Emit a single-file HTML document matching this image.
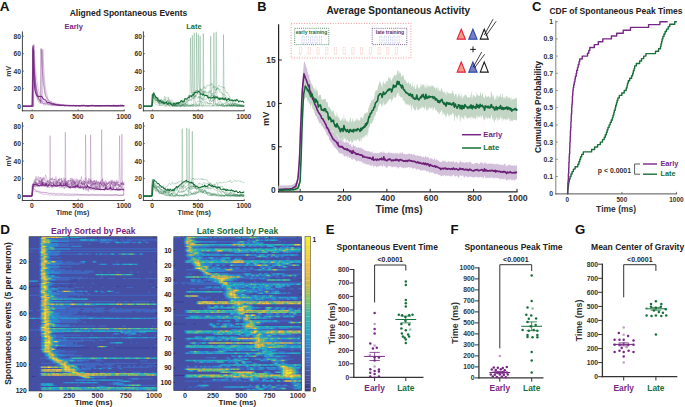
<!DOCTYPE html>
<html><head><meta charset="utf-8"><style>
html,body{margin:0;padding:0;background:#fff;width:685px;height:407px;overflow:hidden}
svg{display:block}
text{font-family:"Liberation Sans", sans-serif}
</style></head><body>
<svg width="685" height="407" viewBox="0 0 685 407" font-family="Liberation Sans, sans-serif">
<rect width="685" height="407" fill="#fff"/>
<text x="0.3" y="234.0" font-size="13.5" text-anchor="start" fill="#111" font-weight="bold" >D</text>
<text x="93.3" y="233.7" font-size="8.5" text-anchor="middle" fill="#772885" font-weight="bold" >Early Sorted by Peak</text>
<text x="237.5" y="233.7" font-size="8.5" text-anchor="middle" fill="#17703a" font-weight="bold" >Late Sorted by Peak</text>
<rect x="29.00" y="236.70" width="128.00" height="154.30" fill="rgb(65,102,192)"/>
<path fill="rgb(60,56,142)" d="M69.0 280.4h8.1v1.34h-8.1zM86.3 280.4h1.4v1.34h-1.4zM134.3 280.4h1.4v1.34h-1.4zM149.0 280.4h5.4v1.34h-5.4zM29.0 285.6h10.7v1.34h-10.7zM61.0 285.6h1.4v1.34h-1.4zM69.0 285.6h2.7v1.34h-2.7zM117.0 285.6h2.7v1.34h-2.7zM123.7 285.6h1.4v1.34h-1.4zM149.0 285.6h1.4v1.34h-1.4zM29.0 347.3h10.7v1.34h-10.7zM57.0 347.3h33.4v1.34h-33.4zM93.0 347.3h4.0v1.34h-4.0zM98.3 347.3h12.1v1.34h-12.1zM114.3 347.3h36.0v1.34h-36.0zM151.7 347.3h4.0v1.34h-4.0zM29.0 356.3h1.4v1.34h-1.4zM31.7 375.6h4.0v1.34h-4.0z"/>
<path fill="rgb(69,79,163)" d="M29.0 236.7h10.7v1.34h-10.7zM86.3 236.7h70.7v1.34h-70.7zM29.0 238.0h10.7v1.34h-10.7zM69.0 238.0h88.0v1.34h-88.0zM29.0 239.3h10.7v1.34h-10.7zM117.0 239.3h2.7v1.34h-2.7zM123.7 239.3h2.7v1.34h-2.7zM29.0 240.6h10.7v1.34h-10.7zM106.3 240.6h1.4v1.34h-1.4zM118.3 240.6h4.0v1.34h-4.0zM131.7 240.6h6.7v1.34h-6.7zM139.7 240.6h2.7v1.34h-2.7zM146.3 240.6h9.4v1.34h-9.4zM29.0 241.8h10.7v1.34h-10.7zM51.7 241.8h48.0v1.34h-48.0zM110.3 241.8h4.0v1.34h-4.0zM142.3 241.8h2.7v1.34h-2.7zM149.0 241.8h8.1v1.34h-8.1zM29.0 243.1h10.7v1.34h-10.7zM75.7 243.1h1.4v1.34h-1.4zM81.0 243.1h1.4v1.34h-1.4zM83.7 243.1h4.0v1.34h-4.0zM90.3 243.1h66.7v1.34h-66.7zM29.0 244.4h10.7v1.34h-10.7zM69.0 244.4h88.0v1.34h-88.0zM29.0 245.7h10.7v1.34h-10.7zM82.3 245.7h74.7v1.34h-74.7zM29.0 247.0h10.7v1.34h-10.7zM54.3 247.0h102.7v1.34h-102.7zM29.0 249.6h10.7v1.34h-10.7zM49.0 249.6h108.0v1.34h-108.0zM29.0 250.8h1.4v1.34h-1.4zM33.0 250.8h5.4v1.34h-5.4zM29.0 252.1h10.7v1.34h-10.7zM59.7 252.1h97.4v1.34h-97.4zM29.0 253.4h10.7v1.34h-10.7zM91.7 253.4h2.7v1.34h-2.7zM115.7 253.4h1.4v1.34h-1.4zM137.0 253.4h1.4v1.34h-1.4zM143.7 253.4h13.4v1.34h-13.4zM29.0 254.7h10.7v1.34h-10.7zM58.3 254.7h98.7v1.34h-98.7zM29.0 256.0h10.7v1.34h-10.7zM50.3 256.0h106.7v1.34h-106.7zM29.0 257.3h10.7v1.34h-10.7zM61.0 257.3h96.0v1.34h-96.0zM29.0 258.6h10.7v1.34h-10.7zM47.7 258.6h109.4v1.34h-109.4zM29.0 259.8h10.7v1.34h-10.7zM62.3 259.8h94.7v1.34h-94.7zM29.0 261.1h10.7v1.34h-10.7zM63.7 261.1h1.4v1.34h-1.4zM73.0 261.1h6.7v1.34h-6.7zM86.3 261.1h5.4v1.34h-5.4zM97.0 261.1h18.7v1.34h-18.7zM118.3 261.1h38.7v1.34h-38.7zM29.0 262.4h10.7v1.34h-10.7zM85.0 262.4h72.0v1.34h-72.0zM29.0 263.7h10.7v1.34h-10.7zM79.7 263.7h18.7v1.34h-18.7zM107.7 263.7h4.0v1.34h-4.0zM138.3 263.7h18.7v1.34h-18.7zM29.0 265.0h10.7v1.34h-10.7zM58.3 265.0h98.7v1.34h-98.7zM29.0 266.3h10.7v1.34h-10.7zM71.7 266.3h85.4v1.34h-85.4zM29.0 267.6h10.7v1.34h-10.7zM58.3 267.6h98.7v1.34h-98.7zM29.0 268.8h10.7v1.34h-10.7zM65.0 268.8h5.4v1.34h-5.4zM71.7 268.8h85.4v1.34h-85.4zM29.0 270.1h10.7v1.34h-10.7zM71.7 270.1h1.4v1.34h-1.4zM81.0 270.1h2.7v1.34h-2.7zM93.0 270.1h64.0v1.34h-64.0zM29.0 271.4h10.7v1.34h-10.7zM94.3 271.4h5.4v1.34h-5.4zM102.3 271.4h6.7v1.34h-6.7zM110.3 271.4h5.4v1.34h-5.4zM119.7 271.4h9.4v1.34h-9.4zM133.0 271.4h4.0v1.34h-4.0zM139.7 271.4h9.4v1.34h-9.4zM151.7 271.4h1.4v1.34h-1.4zM154.3 271.4h2.7v1.34h-2.7zM29.0 272.7h10.7v1.34h-10.7zM89.0 272.7h68.0v1.34h-68.0zM29.0 274.0h10.7v1.34h-10.7zM49.0 274.0h45.4v1.34h-45.4zM133.0 274.0h24.1v1.34h-24.1zM29.0 275.3h10.7v1.34h-10.7zM55.7 275.3h101.4v1.34h-101.4zM29.0 276.6h10.7v1.34h-10.7zM82.3 276.6h4.0v1.34h-4.0zM87.7 276.6h13.4v1.34h-13.4zM103.7 276.6h53.4v1.34h-53.4zM29.0 277.8h10.7v1.34h-10.7zM70.3 277.8h1.4v1.34h-1.4zM75.7 277.8h1.4v1.34h-1.4zM87.7 277.8h1.4v1.34h-1.4zM94.3 277.8h1.4v1.34h-1.4zM97.0 277.8h1.4v1.34h-1.4zM102.3 277.8h5.4v1.34h-5.4zM115.7 277.8h6.7v1.34h-6.7zM126.3 277.8h1.4v1.34h-1.4zM141.0 277.8h4.0v1.34h-4.0zM29.0 279.1h10.7v1.34h-10.7zM71.7 279.1h6.7v1.34h-6.7zM79.7 279.1h77.4v1.34h-77.4zM38.3 280.4h1.4v1.34h-1.4zM49.0 280.4h20.1v1.34h-20.1zM77.0 280.4h9.4v1.34h-9.4zM87.7 280.4h46.7v1.34h-46.7zM135.7 280.4h13.4v1.34h-13.4zM154.3 280.4h2.7v1.34h-2.7zM29.0 281.7h12.1v1.34h-12.1zM51.7 281.7h105.4v1.34h-105.4zM29.0 283.0h10.7v1.34h-10.7zM70.3 283.0h2.7v1.34h-2.7zM75.7 283.0h16.1v1.34h-16.1zM94.3 283.0h62.7v1.34h-62.7zM29.0 284.3h10.7v1.34h-10.7zM53.0 284.3h104.0v1.34h-104.0zM50.3 285.6h10.7v1.34h-10.7zM62.3 285.6h6.7v1.34h-6.7zM71.7 285.6h45.4v1.34h-45.4zM119.7 285.6h4.0v1.34h-4.0zM125.0 285.6h24.1v1.34h-24.1zM150.3 285.6h6.7v1.34h-6.7zM29.0 286.8h10.7v1.34h-10.7zM54.3 286.8h2.7v1.34h-2.7zM63.7 286.8h1.4v1.34h-1.4zM67.7 286.8h6.7v1.34h-6.7zM79.7 286.8h1.4v1.34h-1.4zM83.7 286.8h6.7v1.34h-6.7zM91.7 286.8h10.7v1.34h-10.7zM103.7 286.8h9.4v1.34h-9.4zM114.3 286.8h12.1v1.34h-12.1zM133.0 286.8h18.7v1.34h-18.7zM155.7 286.8h1.4v1.34h-1.4zM29.0 288.1h10.7v1.34h-10.7zM74.3 288.1h82.7v1.34h-82.7zM29.0 289.4h10.7v1.34h-10.7zM58.3 289.4h98.7v1.34h-98.7zM29.0 290.7h10.7v1.34h-10.7zM53.0 290.7h2.7v1.34h-2.7zM87.7 290.7h6.7v1.34h-6.7zM98.3 290.7h1.4v1.34h-1.4zM103.7 290.7h2.7v1.34h-2.7zM114.3 290.7h42.7v1.34h-42.7zM29.0 292.0h10.7v1.34h-10.7zM75.7 292.0h10.7v1.34h-10.7zM87.7 292.0h8.1v1.34h-8.1zM97.0 292.0h4.0v1.34h-4.0zM105.0 292.0h9.4v1.34h-9.4zM119.7 292.0h28.1v1.34h-28.1zM150.3 292.0h6.7v1.34h-6.7zM29.0 293.3h10.7v1.34h-10.7zM83.7 293.3h4.0v1.34h-4.0zM90.3 293.3h66.7v1.34h-66.7zM29.0 295.8h10.7v1.34h-10.7zM67.7 295.8h10.7v1.34h-10.7zM79.7 295.8h77.4v1.34h-77.4zM29.0 297.1h10.7v1.34h-10.7zM74.3 297.1h82.7v1.34h-82.7zM29.0 298.4h12.1v1.34h-12.1zM89.0 298.4h68.0v1.34h-68.0zM29.0 299.7h10.7v1.34h-10.7zM53.0 299.7h104.0v1.34h-104.0zM29.0 301.0h10.7v1.34h-10.7zM115.7 301.0h1.4v1.34h-1.4zM121.0 301.0h1.4v1.34h-1.4zM129.0 301.0h2.7v1.34h-2.7zM149.0 301.0h2.7v1.34h-2.7zM154.3 301.0h2.7v1.34h-2.7zM29.0 302.3h10.7v1.34h-10.7zM53.0 302.3h104.0v1.34h-104.0zM29.0 303.6h10.7v1.34h-10.7zM29.0 304.8h10.7v1.34h-10.7zM97.0 304.8h60.0v1.34h-60.0zM29.0 306.1h10.7v1.34h-10.7zM70.3 306.1h86.7v1.34h-86.7zM29.0 307.4h10.7v1.34h-10.7zM91.7 307.4h1.4v1.34h-1.4zM105.0 307.4h6.7v1.34h-6.7zM115.7 307.4h4.0v1.34h-4.0zM121.0 307.4h36.0v1.34h-36.0zM29.0 308.7h10.7v1.34h-10.7zM67.7 308.7h1.4v1.34h-1.4zM79.7 308.7h4.0v1.34h-4.0zM94.3 308.7h1.4v1.34h-1.4zM103.7 308.7h5.4v1.34h-5.4zM150.3 308.7h1.4v1.34h-1.4zM33.0 310.0h4.0v1.34h-4.0zM29.0 311.3h10.7v1.34h-10.7zM66.3 311.3h1.4v1.34h-1.4zM73.0 311.3h1.4v1.34h-1.4zM78.3 311.3h4.0v1.34h-4.0zM90.3 311.3h1.4v1.34h-1.4zM103.7 311.3h5.4v1.34h-5.4zM131.7 311.3h4.0v1.34h-4.0zM141.0 311.3h2.7v1.34h-2.7zM29.0 312.6h10.7v1.34h-10.7zM77.0 312.6h80.0v1.34h-80.0zM29.0 313.9h10.7v1.34h-10.7zM71.7 313.9h1.4v1.34h-1.4zM74.3 313.9h82.7v1.34h-82.7zM29.0 315.1h10.7v1.34h-10.7zM81.0 315.1h1.4v1.34h-1.4zM86.3 315.1h70.7v1.34h-70.7zM29.0 316.4h10.7v1.34h-10.7zM97.0 316.4h4.0v1.34h-4.0zM103.7 316.4h2.7v1.34h-2.7zM107.7 316.4h9.4v1.34h-9.4zM118.3 316.4h38.7v1.34h-38.7zM29.0 319.0h10.7v1.34h-10.7zM79.7 319.0h77.4v1.34h-77.4zM29.0 320.3h12.1v1.34h-12.1zM77.0 320.3h1.4v1.34h-1.4zM81.0 320.3h76.0v1.34h-76.0zM29.0 321.6h10.7v1.34h-10.7zM78.3 321.6h4.0v1.34h-4.0zM86.3 321.6h4.0v1.34h-4.0zM91.7 321.6h62.7v1.34h-62.7zM155.7 321.6h1.4v1.34h-1.4zM29.0 322.9h12.1v1.34h-12.1zM55.7 322.9h101.4v1.34h-101.4zM29.0 324.1h10.7v1.34h-10.7zM70.3 324.1h2.7v1.34h-2.7zM74.3 324.1h82.7v1.34h-82.7zM29.0 325.4h10.7v1.34h-10.7zM95.7 325.4h2.7v1.34h-2.7zM106.3 325.4h16.1v1.34h-16.1zM126.3 325.4h25.4v1.34h-25.4zM154.3 325.4h1.4v1.34h-1.4zM29.0 326.7h10.7v1.34h-10.7zM51.7 326.7h105.4v1.34h-105.4zM29.0 328.0h10.7v1.34h-10.7zM29.0 330.6h10.7v1.34h-10.7zM29.0 331.9h12.1v1.34h-12.1zM63.7 331.9h56.0v1.34h-56.0zM137.0 331.9h1.4v1.34h-1.4zM146.3 331.9h10.7v1.34h-10.7zM29.0 333.1h10.7v1.34h-10.7zM51.7 333.1h61.4v1.34h-61.4zM119.7 333.1h4.0v1.34h-4.0zM137.0 333.1h20.1v1.34h-20.1zM29.0 334.4h10.7v1.34h-10.7zM81.0 334.4h2.7v1.34h-2.7zM85.0 334.4h5.4v1.34h-5.4zM93.0 334.4h18.7v1.34h-18.7zM113.0 334.4h14.7v1.34h-14.7zM131.7 334.4h6.7v1.34h-6.7zM141.0 334.4h14.7v1.34h-14.7zM29.0 335.7h12.1v1.34h-12.1zM63.7 335.7h93.4v1.34h-93.4zM29.0 337.0h12.1v1.34h-12.1zM29.0 338.3h12.1v1.34h-12.1zM57.0 338.3h1.4v1.34h-1.4zM61.0 338.3h2.7v1.34h-2.7zM66.3 338.3h14.7v1.34h-14.7zM83.7 338.3h34.7v1.34h-34.7zM119.7 338.3h5.4v1.34h-5.4zM126.3 338.3h2.7v1.34h-2.7zM131.7 338.3h25.4v1.34h-25.4zM29.0 339.6h12.1v1.34h-12.1zM94.3 339.6h4.0v1.34h-4.0zM105.0 339.6h52.0v1.34h-52.0zM29.0 340.9h12.1v1.34h-12.1zM83.7 340.9h9.4v1.34h-9.4zM95.7 340.9h61.4v1.34h-61.4zM29.0 342.1h10.7v1.34h-10.7zM73.0 342.1h2.7v1.34h-2.7zM77.0 342.1h20.1v1.34h-20.1zM98.3 342.1h2.7v1.34h-2.7zM102.3 342.1h6.7v1.34h-6.7zM123.7 342.1h6.7v1.34h-6.7zM131.7 342.1h4.0v1.34h-4.0zM137.0 342.1h20.1v1.34h-20.1zM29.0 343.4h12.1v1.34h-12.1zM73.0 343.4h1.4v1.34h-1.4zM77.0 343.4h80.0v1.34h-80.0zM29.0 344.7h10.7v1.34h-10.7zM85.0 344.7h32.0v1.34h-32.0zM118.3 344.7h36.0v1.34h-36.0zM29.0 346.0h12.1v1.34h-12.1zM82.3 346.0h14.7v1.34h-14.7zM107.7 346.0h49.4v1.34h-49.4zM39.7 347.3h1.4v1.34h-1.4zM54.3 347.3h2.7v1.34h-2.7zM90.3 347.3h2.7v1.34h-2.7zM97.0 347.3h1.4v1.34h-1.4zM110.3 347.3h4.0v1.34h-4.0zM150.3 347.3h1.4v1.34h-1.4zM155.7 347.3h1.4v1.34h-1.4zM29.0 348.6h10.7v1.34h-10.7zM59.7 348.6h97.4v1.34h-97.4zM29.0 349.9h12.1v1.34h-12.1zM65.0 349.9h92.0v1.34h-92.0zM29.0 351.1h12.1v1.34h-12.1zM77.0 351.1h80.0v1.34h-80.0zM29.0 352.4h14.7v1.34h-14.7zM58.3 352.4h98.7v1.34h-98.7zM29.0 353.7h14.7v1.34h-14.7zM74.3 353.7h82.7v1.34h-82.7zM29.0 355.0h14.7v1.34h-14.7zM82.3 355.0h74.7v1.34h-74.7zM30.3 356.3h14.7v1.34h-14.7zM58.3 356.3h98.7v1.34h-98.7zM29.0 357.6h10.7v1.34h-10.7zM29.0 358.9h17.4v1.34h-17.4zM101.0 358.9h56.0v1.34h-56.0zM29.0 360.1h13.4v1.34h-13.4zM43.7 360.1h5.4v1.34h-5.4zM89.0 360.1h6.7v1.34h-6.7zM103.7 360.1h13.4v1.34h-13.4zM118.3 360.1h21.4v1.34h-21.4zM147.7 360.1h9.4v1.34h-9.4zM29.0 361.4h22.7v1.34h-22.7zM69.0 361.4h88.0v1.34h-88.0zM29.0 362.7h12.1v1.34h-12.1zM101.0 362.7h2.7v1.34h-2.7zM137.0 362.7h4.0v1.34h-4.0zM29.0 364.0h25.4v1.34h-25.4zM114.3 364.0h42.7v1.34h-42.7zM29.0 365.3h14.7v1.34h-14.7zM45.0 365.3h2.7v1.34h-2.7zM51.7 365.3h2.7v1.34h-2.7zM78.3 365.3h4.0v1.34h-4.0zM95.7 365.3h4.0v1.34h-4.0zM102.3 365.3h5.4v1.34h-5.4zM111.7 365.3h5.4v1.34h-5.4zM121.0 365.3h6.7v1.34h-6.7zM130.3 365.3h2.7v1.34h-2.7zM135.7 365.3h4.0v1.34h-4.0zM142.3 365.3h4.0v1.34h-4.0zM153.0 365.3h1.4v1.34h-1.4zM29.0 366.6h10.7v1.34h-10.7zM79.7 366.6h1.4v1.34h-1.4zM83.7 366.6h1.4v1.34h-1.4zM95.7 366.6h6.7v1.34h-6.7zM114.3 366.6h2.7v1.34h-2.7zM121.0 366.6h1.4v1.34h-1.4zM149.0 366.6h1.4v1.34h-1.4zM151.7 366.6h5.4v1.34h-5.4zM29.0 367.9h32.0v1.34h-32.0zM79.7 367.9h1.4v1.34h-1.4zM91.7 367.9h1.4v1.34h-1.4zM97.0 367.9h1.4v1.34h-1.4zM106.3 367.9h1.4v1.34h-1.4zM111.7 367.9h6.7v1.34h-6.7zM122.3 367.9h34.7v1.34h-34.7zM29.0 369.1h10.7v1.34h-10.7zM90.3 369.1h66.7v1.34h-66.7zM29.0 370.4h10.7v1.34h-10.7zM78.3 370.4h78.7v1.34h-78.7zM29.0 371.7h14.7v1.34h-14.7zM46.3 371.7h4.0v1.34h-4.0zM54.3 371.7h8.1v1.34h-8.1zM87.7 371.7h5.4v1.34h-5.4zM95.7 371.7h4.0v1.34h-4.0zM105.0 371.7h1.4v1.34h-1.4zM109.0 371.7h1.4v1.34h-1.4zM115.7 371.7h5.4v1.34h-5.4zM125.0 371.7h6.7v1.34h-6.7zM141.0 371.7h4.0v1.34h-4.0zM146.3 371.7h5.4v1.34h-5.4zM154.3 371.7h2.7v1.34h-2.7zM29.0 373.0h10.7v1.34h-10.7zM29.0 374.3h10.7v1.34h-10.7zM29.0 375.6h2.7v1.34h-2.7zM35.7 375.6h42.7v1.34h-42.7zM101.0 375.6h1.4v1.34h-1.4zM106.3 375.6h50.7v1.34h-50.7zM29.0 376.9h52.0v1.34h-52.0zM106.3 376.9h50.7v1.34h-50.7zM29.0 378.1h98.7v1.34h-98.7zM153.0 378.1h4.0v1.34h-4.0zM29.0 379.4h45.4v1.34h-45.4zM123.7 379.4h33.4v1.34h-33.4zM29.0 380.7h88.0v1.34h-88.0zM133.0 380.7h24.1v1.34h-24.1zM29.0 382.0h33.4v1.34h-33.4zM98.3 382.0h13.4v1.34h-13.4zM122.3 382.0h34.7v1.34h-34.7zM29.0 383.3h10.7v1.34h-10.7zM54.3 383.3h53.4v1.34h-53.4zM125.0 383.3h32.0v1.34h-32.0zM29.0 384.6h10.7v1.34h-10.7zM57.0 384.6h4.0v1.34h-4.0zM62.3 384.6h14.7v1.34h-14.7zM79.7 384.6h12.1v1.34h-12.1zM94.3 384.6h4.0v1.34h-4.0zM101.0 384.6h16.1v1.34h-16.1zM29.0 385.9h66.7v1.34h-66.7zM109.0 385.9h48.0v1.34h-48.0zM29.0 387.1h10.7v1.34h-10.7zM29.0 388.4h10.7v1.34h-10.7zM29.0 389.7h12.1v1.34h-12.1zM46.3 389.7h1.4v1.34h-1.4zM78.3 389.7h1.4v1.34h-1.4zM93.0 389.7h2.7v1.34h-2.7zM130.3 389.7h5.4v1.34h-5.4zM141.0 389.7h2.7v1.34h-2.7z"/>
<path fill="rgb(51,130,208)" d="M39.7 236.7h1.4v1.34h-1.4zM79.7 236.7h1.4v1.34h-1.4zM39.7 238.0h1.4v1.34h-1.4zM47.7 238.0h1.4v1.34h-1.4zM51.7 239.3h4.0v1.34h-4.0zM87.7 239.3h1.4v1.34h-1.4zM94.3 239.3h2.7v1.34h-2.7zM99.7 239.3h1.4v1.34h-1.4zM106.3 239.3h5.4v1.34h-5.4zM39.7 240.6h1.4v1.34h-1.4zM58.3 240.6h10.7v1.34h-10.7zM50.3 241.8h1.4v1.34h-1.4zM101.0 241.8h1.4v1.34h-1.4zM105.0 241.8h4.0v1.34h-4.0zM119.7 241.8h1.4v1.34h-1.4zM122.3 241.8h6.7v1.34h-6.7zM133.0 241.8h2.7v1.34h-2.7zM146.3 241.8h1.4v1.34h-1.4zM50.3 243.1h8.1v1.34h-8.1zM39.7 244.4h1.4v1.34h-1.4zM47.7 244.4h1.4v1.34h-1.4zM53.0 244.4h5.4v1.34h-5.4zM50.3 245.7h8.1v1.34h-8.1zM71.7 245.7h9.4v1.34h-9.4zM39.7 247.0h1.4v1.34h-1.4zM46.3 247.0h2.7v1.34h-2.7zM53.0 247.0h1.4v1.34h-1.4zM39.7 248.3h1.4v1.34h-1.4zM55.7 248.3h14.7v1.34h-14.7zM51.7 250.8h9.4v1.34h-9.4zM46.3 252.1h4.0v1.34h-4.0zM39.7 253.4h1.4v1.34h-1.4zM49.0 253.4h10.7v1.34h-10.7zM78.3 253.4h4.0v1.34h-4.0zM86.3 253.4h1.4v1.34h-1.4zM95.7 253.4h1.4v1.34h-1.4zM101.0 253.4h1.4v1.34h-1.4zM105.0 253.4h1.4v1.34h-1.4zM118.3 253.4h2.7v1.34h-2.7zM134.3 253.4h1.4v1.34h-1.4zM39.7 254.7h1.4v1.34h-1.4zM47.7 254.7h1.4v1.34h-1.4zM39.7 257.3h1.4v1.34h-1.4zM49.0 257.3h1.4v1.34h-1.4zM39.7 258.6h1.4v1.34h-1.4zM49.0 259.8h2.7v1.34h-2.7zM55.7 261.1h1.4v1.34h-1.4zM81.0 261.1h1.4v1.34h-1.4zM39.7 262.4h1.4v1.34h-1.4zM51.7 262.4h1.4v1.34h-1.4zM55.7 262.4h6.7v1.34h-6.7zM39.7 263.7h1.4v1.34h-1.4zM47.7 263.7h8.1v1.34h-8.1zM57.0 263.7h2.7v1.34h-2.7zM99.7 263.7h2.7v1.34h-2.7zM105.0 263.7h1.4v1.34h-1.4zM113.0 263.7h4.0v1.34h-4.0zM133.0 263.7h1.4v1.34h-1.4zM39.7 265.0h1.4v1.34h-1.4zM46.3 265.0h2.7v1.34h-2.7zM51.7 266.3h8.1v1.34h-8.1zM49.0 267.6h1.4v1.34h-1.4zM39.7 268.8h1.4v1.34h-1.4zM46.3 268.8h4.0v1.34h-4.0zM47.7 270.1h6.7v1.34h-6.7zM54.3 271.4h6.7v1.34h-6.7zM39.7 272.7h1.4v1.34h-1.4zM49.0 272.7h10.7v1.34h-10.7zM47.7 274.0h1.4v1.34h-1.4zM49.0 275.3h1.4v1.34h-1.4zM49.0 276.6h10.7v1.34h-10.7zM39.7 277.8h1.4v1.34h-1.4zM51.7 277.8h1.4v1.34h-1.4zM50.3 279.1h1.4v1.34h-1.4zM54.3 279.1h1.4v1.34h-1.4zM37.0 280.4h1.4v1.34h-1.4zM50.3 281.7h1.4v1.34h-1.4zM39.7 283.0h1.4v1.34h-1.4zM49.0 283.0h5.4v1.34h-5.4zM39.7 284.3h1.4v1.34h-1.4zM50.3 284.3h1.4v1.34h-1.4zM47.7 285.6h1.4v1.34h-1.4zM39.7 286.8h1.4v1.34h-1.4zM49.0 288.1h2.7v1.34h-2.7zM55.7 288.1h2.7v1.34h-2.7zM39.7 289.4h1.4v1.34h-1.4zM49.0 289.4h5.4v1.34h-5.4zM57.0 290.7h1.4v1.34h-1.4zM61.0 290.7h1.4v1.34h-1.4zM77.0 290.7h2.7v1.34h-2.7zM86.3 290.7h1.4v1.34h-1.4zM94.3 290.7h1.4v1.34h-1.4zM97.0 290.7h1.4v1.34h-1.4zM101.0 290.7h1.4v1.34h-1.4zM111.7 290.7h1.4v1.34h-1.4zM39.7 292.0h1.4v1.34h-1.4zM51.7 292.0h4.0v1.34h-4.0zM51.7 293.3h8.1v1.34h-8.1zM53.0 294.6h1.4v1.34h-1.4zM39.7 295.8h1.4v1.34h-1.4zM54.3 295.8h1.4v1.34h-1.4zM53.0 297.1h5.4v1.34h-5.4zM41.0 298.4h1.4v1.34h-1.4zM61.0 301.0h10.7v1.34h-10.7zM50.3 302.3h1.4v1.34h-1.4zM39.7 304.8h1.4v1.34h-1.4zM50.3 304.8h13.4v1.34h-13.4zM50.3 306.1h2.7v1.34h-2.7zM55.7 307.4h9.4v1.34h-9.4zM39.7 308.7h1.4v1.34h-1.4zM41.0 310.0h1.4v1.34h-1.4zM50.3 310.0h1.4v1.34h-1.4zM41.0 311.3h1.4v1.34h-1.4zM53.0 312.6h6.7v1.34h-6.7zM51.7 313.9h6.7v1.34h-6.7zM54.3 315.1h5.4v1.34h-5.4zM39.7 316.4h1.4v1.34h-1.4zM55.7 316.4h12.1v1.34h-12.1zM35.7 317.7h4.0v1.34h-4.0zM57.0 317.7h4.0v1.34h-4.0zM78.3 317.7h4.0v1.34h-4.0zM83.7 317.7h4.0v1.34h-4.0zM93.0 317.7h4.0v1.34h-4.0zM99.7 317.7h4.0v1.34h-4.0zM114.3 317.7h1.4v1.34h-1.4zM119.7 317.7h6.7v1.34h-6.7zM129.0 317.7h2.7v1.34h-2.7zM141.0 317.7h2.7v1.34h-2.7zM145.0 317.7h2.7v1.34h-2.7zM149.0 317.7h8.1v1.34h-8.1zM50.3 319.0h8.1v1.34h-8.1zM55.7 320.3h4.0v1.34h-4.0zM51.7 321.6h8.1v1.34h-8.1zM42.3 322.9h1.4v1.34h-1.4zM53.0 322.9h1.4v1.34h-1.4zM41.0 324.1h1.4v1.34h-1.4zM55.7 324.1h4.0v1.34h-4.0zM57.0 325.4h1.4v1.34h-1.4zM59.7 325.4h9.4v1.34h-9.4zM39.7 326.7h1.4v1.34h-1.4zM39.7 328.0h1.4v1.34h-1.4zM39.7 329.3h1.4v1.34h-1.4zM55.7 329.3h14.7v1.34h-14.7zM90.3 330.6h2.7v1.34h-2.7zM123.7 330.6h2.7v1.34h-2.7zM131.7 330.6h2.7v1.34h-2.7zM41.0 331.9h1.4v1.34h-1.4zM53.0 331.9h1.4v1.34h-1.4zM123.7 331.9h1.4v1.34h-1.4zM127.7 331.9h8.1v1.34h-8.1zM139.7 331.9h4.0v1.34h-4.0zM114.3 333.1h4.0v1.34h-4.0zM125.0 333.1h1.4v1.34h-1.4zM129.0 333.1h2.7v1.34h-2.7zM41.0 334.4h1.4v1.34h-1.4zM51.7 334.4h4.0v1.34h-4.0zM41.0 335.7h1.4v1.34h-1.4zM51.7 335.7h4.0v1.34h-4.0zM53.0 337.0h2.7v1.34h-2.7zM62.3 337.0h1.4v1.34h-1.4zM65.0 337.0h4.0v1.34h-4.0zM70.3 337.0h1.4v1.34h-1.4zM73.0 337.0h9.4v1.34h-9.4zM83.7 337.0h5.4v1.34h-5.4zM98.3 337.0h5.4v1.34h-5.4zM105.0 337.0h1.4v1.34h-1.4zM107.7 337.0h4.0v1.34h-4.0zM113.0 337.0h5.4v1.34h-5.4zM121.0 337.0h5.4v1.34h-5.4zM135.7 337.0h6.7v1.34h-6.7zM147.7 337.0h1.4v1.34h-1.4zM150.3 337.0h6.7v1.34h-6.7zM42.3 338.3h1.4v1.34h-1.4zM53.0 338.3h1.4v1.34h-1.4zM41.0 339.6h1.4v1.34h-1.4zM54.3 339.6h12.1v1.34h-12.1zM42.3 340.9h1.4v1.34h-1.4zM59.7 340.9h1.4v1.34h-1.4zM41.0 342.1h1.4v1.34h-1.4zM53.0 342.1h5.4v1.34h-5.4zM110.3 342.1h4.0v1.34h-4.0zM54.3 343.4h4.0v1.34h-4.0zM41.0 344.7h1.4v1.34h-1.4zM59.7 344.7h6.7v1.34h-6.7zM41.0 346.0h1.4v1.34h-1.4zM51.7 346.0h5.4v1.34h-5.4zM97.0 346.0h1.4v1.34h-1.4zM106.3 346.0h1.4v1.34h-1.4zM53.0 351.1h5.4v1.34h-5.4zM45.0 352.4h1.4v1.34h-1.4zM54.3 352.4h1.4v1.34h-1.4zM45.0 353.7h1.4v1.34h-1.4zM57.0 353.7h5.4v1.34h-5.4zM45.0 355.0h1.4v1.34h-1.4zM57.0 355.0h8.1v1.34h-8.1zM59.7 357.6h1.4v1.34h-1.4zM63.7 358.9h9.4v1.34h-9.4zM51.7 360.1h1.4v1.34h-1.4zM67.7 360.1h1.4v1.34h-1.4zM74.3 360.1h1.4v1.34h-1.4zM77.0 360.1h5.4v1.34h-5.4zM53.0 361.4h1.4v1.34h-1.4zM67.7 361.4h1.4v1.34h-1.4zM57.0 362.7h1.4v1.34h-1.4zM57.0 364.0h1.4v1.34h-1.4zM73.0 364.0h9.4v1.34h-9.4zM59.7 365.3h1.4v1.34h-1.4zM75.7 365.3h1.4v1.34h-1.4zM39.7 366.6h1.4v1.34h-1.4zM71.7 366.6h1.4v1.34h-1.4zM77.0 366.6h1.4v1.34h-1.4zM61.0 367.9h1.4v1.34h-1.4zM75.7 367.9h1.4v1.34h-1.4zM78.3 367.9h1.4v1.34h-1.4zM82.3 367.9h4.0v1.34h-4.0zM89.0 367.9h1.4v1.34h-1.4zM94.3 367.9h1.4v1.34h-1.4zM98.3 367.9h1.4v1.34h-1.4zM101.0 367.9h1.4v1.34h-1.4zM107.7 367.9h1.4v1.34h-1.4zM110.3 367.9h1.4v1.34h-1.4zM119.7 367.9h1.4v1.34h-1.4zM77.0 369.1h4.0v1.34h-4.0zM67.7 371.7h1.4v1.34h-1.4zM39.7 373.0h1.4v1.34h-1.4zM78.3 375.6h1.4v1.34h-1.4zM93.0 376.9h1.4v1.34h-1.4zM131.7 378.1h6.7v1.34h-6.7zM75.7 379.4h6.7v1.34h-6.7zM83.7 379.4h4.0v1.34h-4.0zM89.0 379.4h2.7v1.34h-2.7zM95.7 379.4h4.0v1.34h-4.0zM115.7 379.4h1.4v1.34h-1.4zM119.7 379.4h2.7v1.34h-2.7zM121.0 380.7h1.4v1.34h-1.4zM129.0 380.7h1.4v1.34h-1.4zM63.7 382.0h2.7v1.34h-2.7zM67.7 382.0h2.7v1.34h-2.7zM73.0 382.0h2.7v1.34h-2.7zM77.0 382.0h2.7v1.34h-2.7zM85.0 382.0h1.4v1.34h-1.4zM91.7 382.0h1.4v1.34h-1.4zM97.0 382.0h1.4v1.34h-1.4zM114.3 382.0h4.0v1.34h-4.0zM113.0 383.3h2.7v1.34h-2.7zM122.3 383.3h1.4v1.34h-1.4zM41.0 384.6h1.4v1.34h-1.4zM122.3 384.6h2.7v1.34h-2.7zM99.7 385.9h1.4v1.34h-1.4zM103.7 385.9h1.4v1.34h-1.4zM41.0 387.1h1.4v1.34h-1.4zM150.3 389.7h2.7v1.34h-2.7z"/>
<path fill="rgb(36,157,208)" d="M65.0 236.7h9.4v1.34h-9.4zM78.3 236.7h1.4v1.34h-1.4zM46.3 238.0h1.4v1.34h-1.4zM50.3 239.3h1.4v1.34h-1.4zM79.7 239.3h1.4v1.34h-1.4zM86.3 239.3h1.4v1.34h-1.4zM89.0 239.3h1.4v1.34h-1.4zM101.0 239.3h5.4v1.34h-5.4zM51.7 240.6h6.7v1.34h-6.7zM118.3 241.8h1.4v1.34h-1.4zM138.3 241.8h2.7v1.34h-2.7zM39.7 243.1h1.4v1.34h-1.4zM45.0 243.1h5.4v1.34h-5.4zM45.0 244.4h2.7v1.34h-2.7zM49.0 244.4h1.4v1.34h-1.4zM51.7 244.4h1.4v1.34h-1.4zM49.0 245.7h1.4v1.34h-1.4zM54.3 248.3h1.4v1.34h-1.4zM46.3 249.6h1.4v1.34h-1.4zM39.7 250.8h1.4v1.34h-1.4zM47.7 250.8h4.0v1.34h-4.0zM39.7 252.1h1.4v1.34h-1.4zM47.7 253.4h1.4v1.34h-1.4zM99.7 253.4h1.4v1.34h-1.4zM110.3 253.4h1.4v1.34h-1.4zM113.0 253.4h1.4v1.34h-1.4zM126.3 253.4h1.4v1.34h-1.4zM133.0 253.4h1.4v1.34h-1.4zM139.7 253.4h2.7v1.34h-2.7zM41.0 256.0h1.4v1.34h-1.4zM47.7 256.0h1.4v1.34h-1.4zM47.7 257.3h1.4v1.34h-1.4zM45.0 258.6h1.4v1.34h-1.4zM47.7 259.8h1.4v1.34h-1.4zM49.0 261.1h1.4v1.34h-1.4zM82.3 261.1h2.7v1.34h-2.7zM93.0 261.1h2.7v1.34h-2.7zM53.0 262.4h2.7v1.34h-2.7zM46.3 263.7h1.4v1.34h-1.4zM102.3 263.7h2.7v1.34h-2.7zM117.0 263.7h2.7v1.34h-2.7zM122.3 263.7h1.4v1.34h-1.4zM125.0 263.7h4.0v1.34h-4.0zM131.7 263.7h1.4v1.34h-1.4zM134.3 263.7h2.7v1.34h-2.7zM47.7 266.3h4.0v1.34h-4.0zM39.7 270.1h1.4v1.34h-1.4zM46.3 270.1h1.4v1.34h-1.4zM49.0 271.4h5.4v1.34h-5.4zM47.7 272.7h1.4v1.34h-1.4zM39.7 274.0h1.4v1.34h-1.4zM46.3 274.0h1.4v1.34h-1.4zM131.7 274.0h1.4v1.34h-1.4zM47.7 275.3h1.4v1.34h-1.4zM50.3 275.3h1.4v1.34h-1.4zM53.0 275.3h1.4v1.34h-1.4zM47.7 276.6h1.4v1.34h-1.4zM41.0 279.1h1.4v1.34h-1.4zM49.0 279.1h1.4v1.34h-1.4zM51.7 279.1h2.7v1.34h-2.7zM29.0 280.4h4.0v1.34h-4.0zM34.3 280.4h2.7v1.34h-2.7zM46.3 280.4h1.4v1.34h-1.4zM41.0 281.7h1.4v1.34h-1.4zM47.7 283.0h1.4v1.34h-1.4zM49.0 284.3h1.4v1.34h-1.4zM47.7 286.8h1.4v1.34h-1.4zM41.0 288.1h1.4v1.34h-1.4zM51.7 288.1h4.0v1.34h-4.0zM39.7 290.7h1.4v1.34h-1.4zM46.3 290.7h1.4v1.34h-1.4zM58.3 290.7h1.4v1.34h-1.4zM71.7 290.7h2.7v1.34h-2.7zM79.7 290.7h2.7v1.34h-2.7zM85.0 290.7h1.4v1.34h-1.4zM110.3 290.7h1.4v1.34h-1.4zM47.7 292.0h4.0v1.34h-4.0zM49.0 293.3h2.7v1.34h-2.7zM42.3 294.6h1.4v1.34h-1.4zM50.3 294.6h2.7v1.34h-2.7zM47.7 295.8h2.7v1.34h-2.7zM50.3 297.1h2.7v1.34h-2.7zM62.3 298.4h1.4v1.34h-1.4zM67.7 298.4h4.0v1.34h-4.0zM79.7 298.4h1.4v1.34h-1.4zM49.0 299.7h1.4v1.34h-1.4zM50.3 301.0h10.7v1.34h-10.7zM49.0 302.3h1.4v1.34h-1.4zM93.0 303.6h2.7v1.34h-2.7zM47.7 304.8h2.7v1.34h-2.7zM41.0 306.1h1.4v1.34h-1.4zM49.0 306.1h1.4v1.34h-1.4zM41.0 307.4h1.4v1.34h-1.4zM54.3 307.4h1.4v1.34h-1.4zM50.3 308.7h1.4v1.34h-1.4zM54.3 308.7h1.4v1.34h-1.4zM53.0 311.3h1.4v1.34h-1.4zM50.3 315.1h4.0v1.34h-4.0zM50.3 316.4h5.4v1.34h-5.4zM29.0 317.7h2.7v1.34h-2.7zM34.3 317.7h1.4v1.34h-1.4zM39.7 317.7h1.4v1.34h-1.4zM50.3 317.7h2.7v1.34h-2.7zM54.3 317.7h2.7v1.34h-2.7zM61.0 317.7h13.4v1.34h-13.4zM77.0 317.7h1.4v1.34h-1.4zM82.3 317.7h1.4v1.34h-1.4zM87.7 317.7h1.4v1.34h-1.4zM97.0 317.7h2.7v1.34h-2.7zM103.7 317.7h10.7v1.34h-10.7zM115.7 317.7h4.0v1.34h-4.0zM126.3 317.7h2.7v1.34h-2.7zM131.7 317.7h2.7v1.34h-2.7zM137.0 317.7h4.0v1.34h-4.0zM143.7 317.7h1.4v1.34h-1.4zM147.7 317.7h1.4v1.34h-1.4zM41.0 319.0h1.4v1.34h-1.4zM49.0 319.0h1.4v1.34h-1.4zM51.7 320.3h4.0v1.34h-4.0zM50.3 321.6h1.4v1.34h-1.4zM43.7 322.9h1.4v1.34h-1.4zM50.3 325.4h1.4v1.34h-1.4zM55.7 325.4h1.4v1.34h-1.4zM58.3 325.4h1.4v1.34h-1.4zM49.0 326.7h1.4v1.34h-1.4zM50.3 329.3h5.4v1.34h-5.4zM41.0 330.6h1.4v1.34h-1.4zM59.7 330.6h2.7v1.34h-2.7zM65.0 330.6h1.4v1.34h-1.4zM71.7 330.6h1.4v1.34h-1.4zM82.3 330.6h5.4v1.34h-5.4zM93.0 330.6h5.4v1.34h-5.4zM105.0 330.6h2.7v1.34h-2.7zM110.3 330.6h2.7v1.34h-2.7zM122.3 330.6h1.4v1.34h-1.4zM126.3 330.6h1.4v1.34h-1.4zM130.3 330.6h1.4v1.34h-1.4zM134.3 330.6h4.0v1.34h-4.0zM151.7 330.6h5.4v1.34h-5.4zM42.3 331.9h1.4v1.34h-1.4zM51.7 331.9h1.4v1.34h-1.4zM121.0 331.9h2.7v1.34h-2.7zM125.0 331.9h1.4v1.34h-1.4zM143.7 331.9h1.4v1.34h-1.4zM49.0 333.1h1.4v1.34h-1.4zM131.7 333.1h1.4v1.34h-1.4zM134.3 333.1h1.4v1.34h-1.4zM42.3 337.0h1.4v1.34h-1.4zM63.7 337.0h1.4v1.34h-1.4zM71.7 337.0h1.4v1.34h-1.4zM89.0 337.0h1.4v1.34h-1.4zM91.7 337.0h4.0v1.34h-4.0zM97.0 337.0h1.4v1.34h-1.4zM106.3 337.0h1.4v1.34h-1.4zM111.7 337.0h1.4v1.34h-1.4zM126.3 337.0h1.4v1.34h-1.4zM130.3 337.0h5.4v1.34h-5.4zM142.3 337.0h5.4v1.34h-5.4zM43.7 338.3h1.4v1.34h-1.4zM42.3 339.6h1.4v1.34h-1.4zM53.0 339.6h1.4v1.34h-1.4zM58.3 340.9h1.4v1.34h-1.4zM114.3 342.1h1.4v1.34h-1.4zM121.0 342.1h1.4v1.34h-1.4zM42.3 343.4h1.4v1.34h-1.4zM53.0 343.4h1.4v1.34h-1.4zM53.0 344.7h1.4v1.34h-1.4zM58.3 344.7h1.4v1.34h-1.4zM42.3 347.3h1.4v1.34h-1.4zM51.7 347.3h1.4v1.34h-1.4zM41.0 348.6h1.4v1.34h-1.4zM51.7 349.9h1.4v1.34h-1.4zM51.7 351.1h1.4v1.34h-1.4zM55.7 353.7h1.4v1.34h-1.4zM55.7 355.0h1.4v1.34h-1.4zM47.7 356.3h1.4v1.34h-1.4zM55.7 356.3h1.4v1.34h-1.4zM47.7 357.6h1.4v1.34h-1.4zM58.3 357.6h1.4v1.34h-1.4zM70.3 357.6h1.4v1.34h-1.4zM86.3 357.6h1.4v1.34h-1.4zM101.0 357.6h2.7v1.34h-2.7zM122.3 357.6h2.7v1.34h-2.7zM131.7 357.6h1.4v1.34h-1.4zM141.0 357.6h2.7v1.34h-2.7zM150.3 357.6h2.7v1.34h-2.7zM50.3 358.9h1.4v1.34h-1.4zM61.0 358.9h2.7v1.34h-2.7zM63.7 360.1h4.0v1.34h-4.0zM69.0 360.1h1.4v1.34h-1.4zM73.0 360.1h1.4v1.34h-1.4zM67.7 362.7h1.4v1.34h-1.4zM58.3 364.0h1.4v1.34h-1.4zM69.0 364.0h4.0v1.34h-4.0zM61.0 365.3h1.4v1.34h-1.4zM73.0 366.6h1.4v1.34h-1.4zM74.3 367.9h1.4v1.34h-1.4zM75.7 370.4h1.4v1.34h-1.4zM69.0 371.7h1.4v1.34h-1.4zM83.7 371.7h1.4v1.34h-1.4zM89.0 375.6h1.4v1.34h-1.4zM82.3 376.9h1.4v1.34h-1.4zM91.7 376.9h1.4v1.34h-1.4zM82.3 379.4h1.4v1.34h-1.4zM87.7 379.4h1.4v1.34h-1.4zM91.7 379.4h1.4v1.34h-1.4zM94.3 379.4h1.4v1.34h-1.4zM99.7 379.4h2.7v1.34h-2.7zM105.0 379.4h10.7v1.34h-10.7zM117.0 379.4h2.7v1.34h-2.7zM122.3 380.7h1.4v1.34h-1.4zM127.7 380.7h1.4v1.34h-1.4zM66.3 382.0h1.4v1.34h-1.4zM70.3 382.0h2.7v1.34h-2.7zM75.7 382.0h1.4v1.34h-1.4zM79.7 382.0h5.4v1.34h-5.4zM86.3 382.0h5.4v1.34h-5.4zM93.0 382.0h4.0v1.34h-4.0zM41.0 383.3h1.4v1.34h-1.4zM43.7 383.3h2.7v1.34h-2.7zM49.0 383.3h4.0v1.34h-4.0zM115.7 383.3h6.7v1.34h-6.7zM42.3 384.6h5.4v1.34h-5.4zM51.7 384.6h1.4v1.34h-1.4zM125.0 384.6h2.7v1.34h-2.7zM139.7 384.6h1.4v1.34h-1.4zM101.0 385.9h2.7v1.34h-2.7zM46.3 387.1h1.4v1.34h-1.4zM55.7 387.1h1.4v1.34h-1.4zM81.0 387.1h4.0v1.34h-4.0zM138.3 387.1h4.0v1.34h-4.0zM55.7 388.4h2.7v1.34h-2.7zM65.0 388.4h1.4v1.34h-1.4zM110.3 388.4h2.7v1.34h-2.7zM114.3 388.4h1.4v1.34h-1.4zM126.3 388.4h1.4v1.34h-1.4zM138.3 388.4h4.0v1.34h-4.0zM153.0 389.7h4.0v1.34h-4.0z"/>
<path fill="rgb(33,178,194)" d="M63.7 236.7h1.4v1.34h-1.4zM74.3 236.7h4.0v1.34h-4.0zM41.0 239.3h1.4v1.34h-1.4zM81.0 239.3h5.4v1.34h-5.4zM90.3 239.3h4.0v1.34h-4.0zM50.3 240.6h1.4v1.34h-1.4zM41.0 241.8h1.4v1.34h-1.4zM115.7 241.8h2.7v1.34h-2.7zM43.7 243.1h1.4v1.34h-1.4zM50.3 244.4h1.4v1.34h-1.4zM47.7 245.7h1.4v1.34h-1.4zM45.0 247.0h1.4v1.34h-1.4zM49.0 247.0h1.4v1.34h-1.4zM47.7 248.3h2.7v1.34h-2.7zM46.3 250.8h1.4v1.34h-1.4zM45.0 252.1h1.4v1.34h-1.4zM111.7 253.4h1.4v1.34h-1.4zM121.0 253.4h1.4v1.34h-1.4zM125.0 253.4h1.4v1.34h-1.4zM127.7 253.4h1.4v1.34h-1.4zM46.3 254.7h1.4v1.34h-1.4zM46.3 257.3h1.4v1.34h-1.4zM41.0 259.8h1.4v1.34h-1.4zM47.7 261.1h1.4v1.34h-1.4zM50.3 262.4h1.4v1.34h-1.4zM123.7 263.7h1.4v1.34h-1.4zM41.0 266.3h1.4v1.34h-1.4zM46.3 266.3h1.4v1.34h-1.4zM47.7 267.6h1.4v1.34h-1.4zM45.0 268.8h1.4v1.34h-1.4zM45.0 270.1h1.4v1.34h-1.4zM41.0 271.4h1.4v1.34h-1.4zM46.3 271.4h2.7v1.34h-2.7zM46.3 272.7h1.4v1.34h-1.4zM95.7 274.0h1.4v1.34h-1.4zM98.3 274.0h2.7v1.34h-2.7zM103.7 274.0h6.7v1.34h-6.7zM122.3 274.0h4.0v1.34h-4.0zM51.7 275.3h1.4v1.34h-1.4zM33.0 280.4h1.4v1.34h-1.4zM41.0 280.4h1.4v1.34h-1.4zM49.0 281.7h1.4v1.34h-1.4zM46.3 284.3h2.7v1.34h-2.7zM47.7 288.1h1.4v1.34h-1.4zM47.7 289.4h1.4v1.34h-1.4zM45.0 290.7h1.4v1.34h-1.4zM47.7 290.7h1.4v1.34h-1.4zM50.3 290.7h1.4v1.34h-1.4zM70.3 290.7h1.4v1.34h-1.4zM95.7 290.7h1.4v1.34h-1.4zM107.7 290.7h1.4v1.34h-1.4zM46.3 292.0h1.4v1.34h-1.4zM41.0 293.3h1.4v1.34h-1.4zM49.0 294.6h1.4v1.34h-1.4zM53.0 295.8h1.4v1.34h-1.4zM49.0 298.4h2.7v1.34h-2.7zM57.0 298.4h2.7v1.34h-2.7zM61.0 298.4h1.4v1.34h-1.4zM63.7 298.4h4.0v1.34h-4.0zM71.7 298.4h8.1v1.34h-8.1zM81.0 298.4h4.0v1.34h-4.0zM86.3 298.4h1.4v1.34h-1.4zM41.0 301.0h1.4v1.34h-1.4zM49.0 301.0h1.4v1.34h-1.4zM41.0 303.6h1.4v1.34h-1.4zM63.7 303.6h2.7v1.34h-2.7zM67.7 303.6h1.4v1.34h-1.4zM81.0 303.6h2.7v1.34h-2.7zM91.7 303.6h1.4v1.34h-1.4zM95.7 303.6h1.4v1.34h-1.4zM99.7 303.6h9.4v1.34h-9.4zM123.7 303.6h1.4v1.34h-1.4zM134.3 303.6h1.4v1.34h-1.4zM150.3 303.6h2.7v1.34h-2.7zM155.7 303.6h1.4v1.34h-1.4zM51.7 308.7h1.4v1.34h-1.4zM42.3 310.0h1.4v1.34h-1.4zM49.0 310.0h1.4v1.34h-1.4zM51.7 312.6h1.4v1.34h-1.4zM50.3 313.9h1.4v1.34h-1.4zM41.0 315.1h1.4v1.34h-1.4zM49.0 315.1h1.4v1.34h-1.4zM49.0 316.4h1.4v1.34h-1.4zM31.7 317.7h2.7v1.34h-2.7zM41.0 317.7h1.4v1.34h-1.4zM49.0 317.7h1.4v1.34h-1.4zM53.0 317.7h1.4v1.34h-1.4zM74.3 317.7h2.7v1.34h-2.7zM89.0 317.7h4.0v1.34h-4.0zM134.3 317.7h2.7v1.34h-2.7zM42.3 320.3h1.4v1.34h-1.4zM50.3 320.3h1.4v1.34h-1.4zM41.0 321.6h1.4v1.34h-1.4zM49.0 321.6h1.4v1.34h-1.4zM51.7 322.9h1.4v1.34h-1.4zM54.3 324.1h1.4v1.34h-1.4zM41.0 325.4h1.4v1.34h-1.4zM49.0 325.4h1.4v1.34h-1.4zM51.7 325.4h1.4v1.34h-1.4zM65.0 328.0h6.7v1.34h-6.7zM73.0 328.0h1.4v1.34h-1.4zM78.3 328.0h1.4v1.34h-1.4zM89.0 328.0h1.4v1.34h-1.4zM109.0 328.0h4.0v1.34h-4.0zM141.0 328.0h2.7v1.34h-2.7zM147.7 328.0h2.7v1.34h-2.7zM153.0 328.0h1.4v1.34h-1.4zM49.0 329.3h1.4v1.34h-1.4zM42.3 330.6h1.4v1.34h-1.4zM51.7 330.6h8.1v1.34h-8.1zM62.3 330.6h2.7v1.34h-2.7zM66.3 330.6h5.4v1.34h-5.4zM73.0 330.6h1.4v1.34h-1.4zM79.7 330.6h2.7v1.34h-2.7zM87.7 330.6h2.7v1.34h-2.7zM98.3 330.6h6.7v1.34h-6.7zM107.7 330.6h2.7v1.34h-2.7zM113.0 330.6h6.7v1.34h-6.7zM127.7 330.6h2.7v1.34h-2.7zM138.3 330.6h4.0v1.34h-4.0zM143.7 330.6h8.1v1.34h-8.1zM126.3 331.9h1.4v1.34h-1.4zM41.0 333.1h1.4v1.34h-1.4zM133.0 333.1h1.4v1.34h-1.4zM42.3 334.4h1.4v1.34h-1.4zM50.3 334.4h1.4v1.34h-1.4zM50.3 335.7h1.4v1.34h-1.4zM90.3 337.0h1.4v1.34h-1.4zM95.7 337.0h1.4v1.34h-1.4zM127.7 337.0h2.7v1.34h-2.7zM51.7 338.3h1.4v1.34h-1.4zM51.7 339.6h1.4v1.34h-1.4zM43.7 340.9h1.4v1.34h-1.4zM51.7 340.9h1.4v1.34h-1.4zM42.3 342.1h1.4v1.34h-1.4zM51.7 342.1h1.4v1.34h-1.4zM115.7 342.1h5.4v1.34h-5.4zM42.3 344.7h1.4v1.34h-1.4zM51.7 344.7h1.4v1.34h-1.4zM42.3 346.0h1.4v1.34h-1.4zM50.3 346.0h1.4v1.34h-1.4zM105.0 346.0h1.4v1.34h-1.4zM54.3 348.6h1.4v1.34h-1.4zM42.3 349.9h1.4v1.34h-1.4zM42.3 351.1h1.4v1.34h-1.4zM46.3 352.4h1.4v1.34h-1.4zM53.0 352.4h1.4v1.34h-1.4zM46.3 353.7h1.4v1.34h-1.4zM46.3 355.0h1.4v1.34h-1.4zM54.3 356.3h1.4v1.34h-1.4zM71.7 357.6h1.4v1.34h-1.4zM81.0 357.6h5.4v1.34h-5.4zM87.7 357.6h2.7v1.34h-2.7zM97.0 357.6h4.0v1.34h-4.0zM107.7 357.6h5.4v1.34h-5.4zM117.0 357.6h5.4v1.34h-5.4zM130.3 357.6h1.4v1.34h-1.4zM133.0 357.6h1.4v1.34h-1.4zM139.7 357.6h1.4v1.34h-1.4zM143.7 357.6h1.4v1.34h-1.4zM153.0 357.6h4.0v1.34h-4.0zM59.7 358.9h1.4v1.34h-1.4zM53.0 360.1h1.4v1.34h-1.4zM54.3 361.4h1.4v1.34h-1.4zM67.7 364.0h1.4v1.34h-1.4zM74.3 365.3h1.4v1.34h-1.4zM70.3 366.6h1.4v1.34h-1.4zM62.3 367.9h1.4v1.34h-1.4zM77.0 367.9h1.4v1.34h-1.4zM99.7 367.9h1.4v1.34h-1.4zM109.0 367.9h1.4v1.34h-1.4zM41.0 369.1h1.4v1.34h-1.4zM75.7 369.1h1.4v1.34h-1.4zM41.0 370.4h1.4v1.34h-1.4zM78.3 371.7h2.7v1.34h-2.7zM113.0 373.0h1.4v1.34h-1.4zM139.7 373.0h4.0v1.34h-4.0zM149.0 373.0h8.1v1.34h-8.1zM113.0 374.3h1.4v1.34h-1.4zM79.7 375.6h1.4v1.34h-1.4zM90.3 376.9h1.4v1.34h-1.4zM93.0 379.4h1.4v1.34h-1.4zM102.3 379.4h2.7v1.34h-2.7zM123.7 380.7h1.4v1.34h-1.4zM126.3 380.7h1.4v1.34h-1.4zM42.3 383.3h1.4v1.34h-1.4zM46.3 383.3h2.7v1.34h-2.7zM47.7 384.6h4.0v1.34h-4.0zM127.7 384.6h1.4v1.34h-1.4zM42.3 387.1h1.4v1.34h-1.4zM45.0 387.1h1.4v1.34h-1.4zM47.7 387.1h1.4v1.34h-1.4zM51.7 387.1h4.0v1.34h-4.0zM57.0 387.1h1.4v1.34h-1.4zM63.7 387.1h2.7v1.34h-2.7zM79.7 387.1h1.4v1.34h-1.4zM85.0 387.1h1.4v1.34h-1.4zM95.7 387.1h1.4v1.34h-1.4zM99.7 387.1h6.7v1.34h-6.7zM114.3 387.1h1.4v1.34h-1.4zM118.3 387.1h2.7v1.34h-2.7zM135.7 387.1h2.7v1.34h-2.7zM142.3 387.1h2.7v1.34h-2.7zM147.7 387.1h4.0v1.34h-4.0zM154.3 387.1h1.4v1.34h-1.4zM41.0 388.4h1.4v1.34h-1.4zM51.7 388.4h4.0v1.34h-4.0zM58.3 388.4h1.4v1.34h-1.4zM63.7 388.4h1.4v1.34h-1.4zM66.3 388.4h1.4v1.34h-1.4zM69.0 388.4h2.7v1.34h-2.7zM82.3 388.4h17.4v1.34h-17.4zM113.0 388.4h1.4v1.34h-1.4zM115.7 388.4h2.7v1.34h-2.7zM121.0 388.4h2.7v1.34h-2.7zM125.0 388.4h1.4v1.34h-1.4zM127.7 388.4h1.4v1.34h-1.4zM130.3 388.4h1.4v1.34h-1.4zM134.3 388.4h1.4v1.34h-1.4zM142.3 388.4h4.0v1.34h-4.0zM151.7 388.4h5.4v1.34h-5.4z"/>
<path fill="rgb(62,190,165)" d="M62.3 236.7h1.4v1.34h-1.4zM49.0 239.3h1.4v1.34h-1.4zM41.0 240.6h1.4v1.34h-1.4zM49.0 240.6h1.4v1.34h-1.4zM49.0 241.8h1.4v1.34h-1.4zM41.0 244.4h1.4v1.34h-1.4zM43.7 244.4h1.4v1.34h-1.4zM46.3 245.7h1.4v1.34h-1.4zM51.7 247.0h1.4v1.34h-1.4zM46.3 248.3h1.4v1.34h-1.4zM50.3 248.3h1.4v1.34h-1.4zM53.0 248.3h1.4v1.34h-1.4zM41.0 249.6h1.4v1.34h-1.4zM41.0 253.4h1.4v1.34h-1.4zM123.7 253.4h1.4v1.34h-1.4zM129.0 253.4h1.4v1.34h-1.4zM45.0 254.7h1.4v1.34h-1.4zM42.3 256.0h1.4v1.34h-1.4zM41.0 257.3h1.4v1.34h-1.4zM41.0 258.6h1.4v1.34h-1.4zM41.0 261.1h1.4v1.34h-1.4zM50.3 261.1h1.4v1.34h-1.4zM45.0 263.7h1.4v1.34h-1.4zM129.0 263.7h2.7v1.34h-2.7zM45.0 265.0h1.4v1.34h-1.4zM43.7 268.8h1.4v1.34h-1.4zM45.0 274.0h1.4v1.34h-1.4zM97.0 274.0h1.4v1.34h-1.4zM101.0 274.0h2.7v1.34h-2.7zM110.3 274.0h5.4v1.34h-5.4zM121.0 274.0h1.4v1.34h-1.4zM126.3 274.0h5.4v1.34h-5.4zM41.0 275.3h1.4v1.34h-1.4zM46.3 275.3h1.4v1.34h-1.4zM41.0 276.6h1.4v1.34h-1.4zM50.3 277.8h1.4v1.34h-1.4zM47.7 279.1h1.4v1.34h-1.4zM46.3 283.0h1.4v1.34h-1.4zM41.0 284.3h1.4v1.34h-1.4zM45.0 284.3h1.4v1.34h-1.4zM41.0 285.6h1.4v1.34h-1.4zM42.3 288.1h1.4v1.34h-1.4zM49.0 290.7h1.4v1.34h-1.4zM109.0 290.7h1.4v1.34h-1.4zM47.7 293.3h1.4v1.34h-1.4zM46.3 295.8h1.4v1.34h-1.4zM50.3 295.8h1.4v1.34h-1.4zM41.0 297.1h1.4v1.34h-1.4zM42.3 298.4h1.4v1.34h-1.4zM51.7 298.4h1.4v1.34h-1.4zM55.7 298.4h1.4v1.34h-1.4zM59.7 298.4h1.4v1.34h-1.4zM85.0 298.4h1.4v1.34h-1.4zM41.0 299.7h1.4v1.34h-1.4zM47.7 299.7h1.4v1.34h-1.4zM47.7 301.0h1.4v1.34h-1.4zM41.0 302.3h1.4v1.34h-1.4zM54.3 303.6h1.4v1.34h-1.4zM58.3 303.6h1.4v1.34h-1.4zM66.3 303.6h1.4v1.34h-1.4zM69.0 303.6h1.4v1.34h-1.4zM75.7 303.6h5.4v1.34h-5.4zM83.7 303.6h1.4v1.34h-1.4zM90.3 303.6h1.4v1.34h-1.4zM97.0 303.6h2.7v1.34h-2.7zM109.0 303.6h6.7v1.34h-6.7zM122.3 303.6h1.4v1.34h-1.4zM125.0 303.6h1.4v1.34h-1.4zM133.0 303.6h1.4v1.34h-1.4zM135.7 303.6h1.4v1.34h-1.4zM145.0 303.6h1.4v1.34h-1.4zM149.0 303.6h1.4v1.34h-1.4zM154.3 303.6h1.4v1.34h-1.4zM46.3 304.8h1.4v1.34h-1.4zM42.3 306.1h1.4v1.34h-1.4zM49.0 307.4h2.7v1.34h-2.7zM41.0 308.7h1.4v1.34h-1.4zM49.0 308.7h1.4v1.34h-1.4zM53.0 308.7h1.4v1.34h-1.4zM47.7 310.0h1.4v1.34h-1.4zM42.3 311.3h1.4v1.34h-1.4zM51.7 311.3h1.4v1.34h-1.4zM41.0 312.6h1.4v1.34h-1.4zM49.0 312.6h2.7v1.34h-2.7zM41.0 313.9h1.4v1.34h-1.4zM41.0 316.4h1.4v1.34h-1.4zM42.3 319.0h1.4v1.34h-1.4zM47.7 319.0h1.4v1.34h-1.4zM47.7 321.6h1.4v1.34h-1.4zM42.3 324.1h1.4v1.34h-1.4zM50.3 324.1h1.4v1.34h-1.4zM54.3 325.4h1.4v1.34h-1.4zM41.0 328.0h1.4v1.34h-1.4zM50.3 328.0h2.7v1.34h-2.7zM55.7 328.0h9.4v1.34h-9.4zM71.7 328.0h1.4v1.34h-1.4zM74.3 328.0h4.0v1.34h-4.0zM79.7 328.0h4.0v1.34h-4.0zM87.7 328.0h1.4v1.34h-1.4zM90.3 328.0h2.7v1.34h-2.7zM95.7 328.0h2.7v1.34h-2.7zM113.0 328.0h1.4v1.34h-1.4zM117.0 328.0h1.4v1.34h-1.4zM126.3 328.0h1.4v1.34h-1.4zM131.7 328.0h5.4v1.34h-5.4zM139.7 328.0h1.4v1.34h-1.4zM143.7 328.0h4.0v1.34h-4.0zM154.3 328.0h1.4v1.34h-1.4zM74.3 330.6h5.4v1.34h-5.4zM119.7 330.6h2.7v1.34h-2.7zM142.3 330.6h1.4v1.34h-1.4zM43.7 331.9h1.4v1.34h-1.4zM42.3 335.7h1.4v1.34h-1.4zM43.7 337.0h1.4v1.34h-1.4zM51.7 337.0h1.4v1.34h-1.4zM45.0 338.3h1.4v1.34h-1.4zM43.7 343.4h1.4v1.34h-1.4zM54.3 344.7h1.4v1.34h-1.4zM57.0 344.7h1.4v1.34h-1.4zM43.7 346.0h1.4v1.34h-1.4zM98.3 346.0h1.4v1.34h-1.4zM103.7 346.0h1.4v1.34h-1.4zM43.7 347.3h1.4v1.34h-1.4zM42.3 348.6h1.4v1.34h-1.4zM49.0 348.6h1.4v1.34h-1.4zM50.3 351.1h1.4v1.34h-1.4zM54.3 353.7h1.4v1.34h-1.4zM47.7 355.0h1.4v1.34h-1.4zM54.3 355.0h1.4v1.34h-1.4zM53.0 356.3h1.4v1.34h-1.4zM49.0 357.6h1.4v1.34h-1.4zM57.0 357.6h1.4v1.34h-1.4zM73.0 357.6h8.1v1.34h-8.1zM90.3 357.6h1.4v1.34h-1.4zM94.3 357.6h2.7v1.34h-2.7zM106.3 357.6h1.4v1.34h-1.4zM113.0 357.6h4.0v1.34h-4.0zM125.0 357.6h1.4v1.34h-1.4zM127.7 357.6h2.7v1.34h-2.7zM134.3 357.6h1.4v1.34h-1.4zM137.0 357.6h2.7v1.34h-2.7zM145.0 357.6h1.4v1.34h-1.4zM149.0 357.6h1.4v1.34h-1.4zM51.7 358.9h1.4v1.34h-1.4zM62.3 360.1h1.4v1.34h-1.4zM70.3 360.1h2.7v1.34h-2.7zM62.3 361.4h1.4v1.34h-1.4zM58.3 362.7h1.4v1.34h-1.4zM66.3 362.7h1.4v1.34h-1.4zM66.3 364.0h1.4v1.34h-1.4zM58.3 366.6h1.4v1.34h-1.4zM74.3 366.6h2.7v1.34h-2.7zM71.7 367.9h2.7v1.34h-2.7zM61.0 370.4h2.7v1.34h-2.7zM70.3 371.7h1.4v1.34h-1.4zM81.0 371.7h2.7v1.34h-2.7zM41.0 373.0h1.4v1.34h-1.4zM45.0 373.0h2.7v1.34h-2.7zM49.0 373.0h2.7v1.34h-2.7zM59.7 373.0h2.7v1.34h-2.7zM106.3 373.0h1.4v1.34h-1.4zM111.7 373.0h1.4v1.34h-1.4zM121.0 373.0h1.4v1.34h-1.4zM134.3 373.0h4.0v1.34h-4.0zM146.3 373.0h2.7v1.34h-2.7zM41.0 374.3h1.4v1.34h-1.4zM111.7 374.3h1.4v1.34h-1.4zM119.7 374.3h2.7v1.34h-2.7zM123.7 374.3h4.0v1.34h-4.0zM138.3 374.3h8.1v1.34h-8.1zM154.3 374.3h2.7v1.34h-2.7zM83.7 376.9h1.4v1.34h-1.4zM89.0 376.9h1.4v1.34h-1.4zM125.0 380.7h1.4v1.34h-1.4zM129.0 384.6h2.7v1.34h-2.7zM134.3 384.6h2.7v1.34h-2.7zM43.7 387.1h1.4v1.34h-1.4zM49.0 387.1h2.7v1.34h-2.7zM58.3 387.1h1.4v1.34h-1.4zM62.3 387.1h1.4v1.34h-1.4zM66.3 387.1h1.4v1.34h-1.4zM69.0 387.1h1.4v1.34h-1.4zM73.0 387.1h6.7v1.34h-6.7zM86.3 387.1h1.4v1.34h-1.4zM89.0 387.1h2.7v1.34h-2.7zM94.3 387.1h1.4v1.34h-1.4zM106.3 387.1h2.7v1.34h-2.7zM111.7 387.1h2.7v1.34h-2.7zM115.7 387.1h2.7v1.34h-2.7zM121.0 387.1h5.4v1.34h-5.4zM130.3 387.1h2.7v1.34h-2.7zM134.3 387.1h1.4v1.34h-1.4zM145.0 387.1h2.7v1.34h-2.7zM151.7 387.1h2.7v1.34h-2.7zM155.7 387.1h1.4v1.34h-1.4zM42.3 388.4h9.4v1.34h-9.4zM62.3 388.4h1.4v1.34h-1.4zM67.7 388.4h1.4v1.34h-1.4zM73.0 388.4h5.4v1.34h-5.4zM81.0 388.4h1.4v1.34h-1.4zM99.7 388.4h8.1v1.34h-8.1zM109.0 388.4h1.4v1.34h-1.4zM118.3 388.4h2.7v1.34h-2.7zM123.7 388.4h1.4v1.34h-1.4zM129.0 388.4h1.4v1.34h-1.4zM131.7 388.4h2.7v1.34h-2.7zM135.7 388.4h2.7v1.34h-2.7zM146.3 388.4h1.4v1.34h-1.4zM150.3 388.4h1.4v1.34h-1.4z"/>
<path fill="rgb(122,198,110)" d="M41.0 236.7h1.4v1.34h-1.4zM59.7 236.7h2.7v1.34h-2.7zM45.0 238.0h1.4v1.34h-1.4zM45.0 239.3h4.0v1.34h-4.0zM46.3 240.6h2.7v1.34h-2.7zM42.3 244.4h1.4v1.34h-1.4zM41.0 245.7h1.4v1.34h-1.4zM41.0 247.0h1.4v1.34h-1.4zM43.7 247.0h1.4v1.34h-1.4zM50.3 247.0h1.4v1.34h-1.4zM41.0 248.3h1.4v1.34h-1.4zM45.0 248.3h1.4v1.34h-1.4zM51.7 248.3h1.4v1.34h-1.4zM45.0 249.6h1.4v1.34h-1.4zM45.0 250.8h1.4v1.34h-1.4zM122.3 253.4h1.4v1.34h-1.4zM130.3 253.4h2.7v1.34h-2.7zM41.0 254.7h1.4v1.34h-1.4zM43.7 254.7h1.4v1.34h-1.4zM46.3 256.0h1.4v1.34h-1.4zM45.0 257.3h1.4v1.34h-1.4zM42.3 259.8h1.4v1.34h-1.4zM46.3 259.8h1.4v1.34h-1.4zM54.3 261.1h1.4v1.34h-1.4zM49.0 262.4h1.4v1.34h-1.4zM41.0 265.0h1.4v1.34h-1.4zM45.0 266.3h1.4v1.34h-1.4zM41.0 267.6h1.4v1.34h-1.4zM41.0 268.8h1.4v1.34h-1.4zM43.7 270.1h1.4v1.34h-1.4zM45.0 271.4h1.4v1.34h-1.4zM115.7 274.0h1.4v1.34h-1.4zM119.7 274.0h1.4v1.34h-1.4zM46.3 276.6h1.4v1.34h-1.4zM46.3 277.8h2.7v1.34h-2.7zM42.3 279.1h1.4v1.34h-1.4zM45.0 280.4h1.4v1.34h-1.4zM42.3 281.7h1.4v1.34h-1.4zM43.7 284.3h1.4v1.34h-1.4zM46.3 285.6h1.4v1.34h-1.4zM41.0 286.8h1.4v1.34h-1.4zM46.3 286.8h1.4v1.34h-1.4zM41.0 289.4h1.4v1.34h-1.4zM46.3 289.4h1.4v1.34h-1.4zM43.7 290.7h1.4v1.34h-1.4zM62.3 290.7h1.4v1.34h-1.4zM69.0 290.7h1.4v1.34h-1.4zM42.3 293.3h1.4v1.34h-1.4zM46.3 293.3h1.4v1.34h-1.4zM47.7 294.6h1.4v1.34h-1.4zM51.7 295.8h1.4v1.34h-1.4zM49.0 297.1h1.4v1.34h-1.4zM53.0 298.4h2.7v1.34h-2.7zM47.7 302.3h1.4v1.34h-1.4zM47.7 303.6h2.7v1.34h-2.7zM55.7 303.6h2.7v1.34h-2.7zM59.7 303.6h1.4v1.34h-1.4zM62.3 303.6h1.4v1.34h-1.4zM87.7 303.6h2.7v1.34h-2.7zM115.7 303.6h1.4v1.34h-1.4zM126.3 303.6h1.4v1.34h-1.4zM129.0 303.6h4.0v1.34h-4.0zM137.0 303.6h8.1v1.34h-8.1zM146.3 303.6h2.7v1.34h-2.7zM153.0 303.6h1.4v1.34h-1.4zM41.0 304.8h1.4v1.34h-1.4zM45.0 304.8h1.4v1.34h-1.4zM47.7 306.1h1.4v1.34h-1.4zM42.3 307.4h1.4v1.34h-1.4zM47.7 307.4h1.4v1.34h-1.4zM53.0 307.4h1.4v1.34h-1.4zM50.3 311.3h1.4v1.34h-1.4zM47.7 312.6h1.4v1.34h-1.4zM49.0 313.9h1.4v1.34h-1.4zM42.3 315.1h1.4v1.34h-1.4zM47.7 315.1h1.4v1.34h-1.4zM47.7 316.4h1.4v1.34h-1.4zM49.0 320.3h1.4v1.34h-1.4zM45.0 322.9h1.4v1.34h-1.4zM50.3 322.9h1.4v1.34h-1.4zM49.0 324.1h1.4v1.34h-1.4zM51.7 324.1h2.7v1.34h-2.7zM42.3 325.4h1.4v1.34h-1.4zM47.7 325.4h1.4v1.34h-1.4zM53.0 325.4h1.4v1.34h-1.4zM47.7 326.7h1.4v1.34h-1.4zM42.3 328.0h1.4v1.34h-1.4zM53.0 328.0h2.7v1.34h-2.7zM83.7 328.0h4.0v1.34h-4.0zM93.0 328.0h2.7v1.34h-2.7zM98.3 328.0h8.1v1.34h-8.1zM107.7 328.0h1.4v1.34h-1.4zM115.7 328.0h1.4v1.34h-1.4zM121.0 328.0h2.7v1.34h-2.7zM127.7 328.0h1.4v1.34h-1.4zM130.3 328.0h1.4v1.34h-1.4zM137.0 328.0h2.7v1.34h-2.7zM150.3 328.0h2.7v1.34h-2.7zM41.0 329.3h1.4v1.34h-1.4zM43.7 330.6h1.4v1.34h-1.4zM50.3 330.6h1.4v1.34h-1.4zM50.3 331.9h1.4v1.34h-1.4zM47.7 333.1h1.4v1.34h-1.4zM43.7 334.4h1.4v1.34h-1.4zM49.0 334.4h1.4v1.34h-1.4zM46.3 338.3h1.4v1.34h-1.4zM43.7 339.6h1.4v1.34h-1.4zM50.3 339.6h1.4v1.34h-1.4zM50.3 340.9h1.4v1.34h-1.4zM53.0 340.9h1.4v1.34h-1.4zM57.0 340.9h1.4v1.34h-1.4zM51.7 343.4h1.4v1.34h-1.4zM50.3 344.7h1.4v1.34h-1.4zM55.7 344.7h1.4v1.34h-1.4zM49.0 346.0h1.4v1.34h-1.4zM50.3 347.3h1.4v1.34h-1.4zM50.3 348.6h1.4v1.34h-1.4zM43.7 349.9h1.4v1.34h-1.4zM50.3 349.9h1.4v1.34h-1.4zM47.7 352.4h1.4v1.34h-1.4zM51.7 352.4h1.4v1.34h-1.4zM47.7 353.7h1.4v1.34h-1.4zM53.0 353.7h1.4v1.34h-1.4zM49.0 355.0h1.4v1.34h-1.4zM49.0 356.3h1.4v1.34h-1.4zM50.3 357.6h1.4v1.34h-1.4zM91.7 357.6h2.7v1.34h-2.7zM103.7 357.6h1.4v1.34h-1.4zM126.3 357.6h1.4v1.34h-1.4zM135.7 357.6h1.4v1.34h-1.4zM58.3 358.9h1.4v1.34h-1.4zM54.3 360.1h1.4v1.34h-1.4zM55.7 361.4h1.4v1.34h-1.4zM61.0 361.4h1.4v1.34h-1.4zM66.3 361.4h1.4v1.34h-1.4zM59.7 362.7h1.4v1.34h-1.4zM59.7 364.0h1.4v1.34h-1.4zM69.0 365.3h2.7v1.34h-2.7zM41.0 366.6h1.4v1.34h-1.4zM45.0 366.6h1.4v1.34h-1.4zM51.7 366.6h2.7v1.34h-2.7zM57.0 366.6h1.4v1.34h-1.4zM59.7 366.6h4.0v1.34h-4.0zM70.3 367.9h1.4v1.34h-1.4zM62.3 369.1h1.4v1.34h-1.4zM63.7 370.4h1.4v1.34h-1.4zM74.3 370.4h1.4v1.34h-1.4zM77.0 371.7h1.4v1.34h-1.4zM43.7 373.0h1.4v1.34h-1.4zM47.7 373.0h1.4v1.34h-1.4zM51.7 373.0h1.4v1.34h-1.4zM55.7 373.0h4.0v1.34h-4.0zM62.3 373.0h2.7v1.34h-2.7zM66.3 373.0h4.0v1.34h-4.0zM71.7 373.0h4.0v1.34h-4.0zM81.0 373.0h1.4v1.34h-1.4zM83.7 373.0h2.7v1.34h-2.7zM89.0 373.0h4.0v1.34h-4.0zM97.0 373.0h2.7v1.34h-2.7zM105.0 373.0h1.4v1.34h-1.4zM107.7 373.0h1.4v1.34h-1.4zM110.3 373.0h1.4v1.34h-1.4zM114.3 373.0h1.4v1.34h-1.4zM119.7 373.0h1.4v1.34h-1.4zM122.3 373.0h1.4v1.34h-1.4zM126.3 373.0h8.1v1.34h-8.1zM138.3 373.0h1.4v1.34h-1.4zM143.7 373.0h2.7v1.34h-2.7zM42.3 374.3h4.0v1.34h-4.0zM65.0 374.3h1.4v1.34h-1.4zM98.3 374.3h1.4v1.34h-1.4zM102.3 374.3h2.7v1.34h-2.7zM109.0 374.3h2.7v1.34h-2.7zM114.3 374.3h1.4v1.34h-1.4zM118.3 374.3h1.4v1.34h-1.4zM122.3 374.3h1.4v1.34h-1.4zM130.3 374.3h4.0v1.34h-4.0zM137.0 374.3h1.4v1.34h-1.4zM149.0 374.3h1.4v1.34h-1.4zM81.0 375.6h1.4v1.34h-1.4zM86.3 375.6h2.7v1.34h-2.7zM131.7 384.6h2.7v1.34h-2.7zM137.0 384.6h2.7v1.34h-2.7zM59.7 387.1h1.4v1.34h-1.4zM67.7 387.1h1.4v1.34h-1.4zM70.3 387.1h2.7v1.34h-2.7zM87.7 387.1h1.4v1.34h-1.4zM91.7 387.1h2.7v1.34h-2.7zM97.0 387.1h2.7v1.34h-2.7zM109.0 387.1h2.7v1.34h-2.7zM127.7 387.1h2.7v1.34h-2.7zM133.0 387.1h1.4v1.34h-1.4zM59.7 388.4h2.7v1.34h-2.7zM71.7 388.4h1.4v1.34h-1.4zM78.3 388.4h2.7v1.34h-2.7zM107.7 388.4h1.4v1.34h-1.4zM147.7 388.4h2.7v1.34h-2.7z"/>
<path fill="rgb(183,190,74)" d="M46.3 236.7h4.0v1.34h-4.0zM58.3 236.7h1.4v1.34h-1.4zM41.0 238.0h1.4v1.34h-1.4zM42.3 239.3h2.7v1.34h-2.7zM45.0 240.6h1.4v1.34h-1.4zM42.3 241.8h1.4v1.34h-1.4zM46.3 241.8h1.4v1.34h-1.4zM41.0 243.1h2.7v1.34h-2.7zM45.0 245.7h1.4v1.34h-1.4zM42.3 253.4h1.4v1.34h-1.4zM46.3 253.4h1.4v1.34h-1.4zM42.3 254.7h1.4v1.34h-1.4zM43.7 258.6h1.4v1.34h-1.4zM41.0 262.4h1.4v1.34h-1.4zM45.0 262.4h2.7v1.34h-2.7zM41.0 263.7h1.4v1.34h-1.4zM43.7 265.0h1.4v1.34h-1.4zM46.3 267.6h1.4v1.34h-1.4zM42.3 268.8h1.4v1.34h-1.4zM42.3 271.4h2.7v1.34h-2.7zM41.0 272.7h1.4v1.34h-1.4zM45.0 272.7h1.4v1.34h-1.4zM117.0 274.0h2.7v1.34h-2.7zM45.0 275.3h1.4v1.34h-1.4zM45.0 276.6h1.4v1.34h-1.4zM41.0 277.8h1.4v1.34h-1.4zM49.0 277.8h1.4v1.34h-1.4zM42.3 280.4h2.7v1.34h-2.7zM47.7 281.7h1.4v1.34h-1.4zM41.0 283.0h1.4v1.34h-1.4zM42.3 284.3h1.4v1.34h-1.4zM43.7 288.1h1.4v1.34h-1.4zM46.3 288.1h1.4v1.34h-1.4zM67.7 290.7h1.4v1.34h-1.4zM41.0 292.0h1.4v1.34h-1.4zM43.7 293.3h2.7v1.34h-2.7zM43.7 294.6h1.4v1.34h-1.4zM41.0 295.8h1.4v1.34h-1.4zM47.7 298.4h1.4v1.34h-1.4zM42.3 301.0h1.4v1.34h-1.4zM46.3 301.0h1.4v1.34h-1.4zM42.3 303.6h1.4v1.34h-1.4zM53.0 303.6h1.4v1.34h-1.4zM61.0 303.6h1.4v1.34h-1.4zM74.3 303.6h1.4v1.34h-1.4zM86.3 303.6h1.4v1.34h-1.4zM118.3 303.6h1.4v1.34h-1.4zM121.0 303.6h1.4v1.34h-1.4zM127.7 303.6h1.4v1.34h-1.4zM43.7 306.1h1.4v1.34h-1.4zM46.3 306.1h1.4v1.34h-1.4zM46.3 307.4h1.4v1.34h-1.4zM51.7 307.4h1.4v1.34h-1.4zM42.3 308.7h1.4v1.34h-1.4zM47.7 308.7h1.4v1.34h-1.4zM43.7 310.0h1.4v1.34h-1.4zM49.0 311.3h1.4v1.34h-1.4zM47.7 313.9h1.4v1.34h-1.4zM47.7 317.7h1.4v1.34h-1.4zM46.3 319.0h1.4v1.34h-1.4zM43.7 320.3h1.4v1.34h-1.4zM42.3 321.6h1.4v1.34h-1.4zM49.0 322.9h1.4v1.34h-1.4zM41.0 326.7h1.4v1.34h-1.4zM46.3 326.7h1.4v1.34h-1.4zM49.0 328.0h1.4v1.34h-1.4zM114.3 328.0h1.4v1.34h-1.4zM118.3 328.0h2.7v1.34h-2.7zM123.7 328.0h2.7v1.34h-2.7zM129.0 328.0h1.4v1.34h-1.4zM47.7 329.3h1.4v1.34h-1.4zM42.3 333.1h1.4v1.34h-1.4zM49.0 335.7h1.4v1.34h-1.4zM45.0 337.0h2.7v1.34h-2.7zM50.3 338.3h1.4v1.34h-1.4zM45.0 340.9h1.4v1.34h-1.4zM43.7 342.1h1.4v1.34h-1.4zM50.3 342.1h1.4v1.34h-1.4zM45.0 343.4h1.4v1.34h-1.4zM43.7 344.7h1.4v1.34h-1.4zM49.0 344.7h1.4v1.34h-1.4zM99.7 346.0h4.0v1.34h-4.0zM43.7 348.6h1.4v1.34h-1.4zM45.0 349.9h1.4v1.34h-1.4zM47.7 349.9h2.7v1.34h-2.7zM43.7 351.1h1.4v1.34h-1.4zM49.0 353.7h1.4v1.34h-1.4zM53.0 355.0h1.4v1.34h-1.4zM51.7 356.3h1.4v1.34h-1.4zM55.7 357.6h1.4v1.34h-1.4zM105.0 357.6h1.4v1.34h-1.4zM146.3 357.6h2.7v1.34h-2.7zM61.0 360.1h1.4v1.34h-1.4zM63.7 361.4h1.4v1.34h-1.4zM61.0 362.7h1.4v1.34h-1.4zM65.0 362.7h1.4v1.34h-1.4zM65.0 364.0h1.4v1.34h-1.4zM62.3 365.3h1.4v1.34h-1.4zM67.7 365.3h1.4v1.34h-1.4zM71.7 365.3h2.7v1.34h-2.7zM43.7 366.6h1.4v1.34h-1.4zM54.3 366.6h2.7v1.34h-2.7zM63.7 366.6h1.4v1.34h-1.4zM69.0 366.6h1.4v1.34h-1.4zM63.7 367.9h1.4v1.34h-1.4zM69.0 367.9h1.4v1.34h-1.4zM42.3 369.1h1.4v1.34h-1.4zM45.0 369.1h1.4v1.34h-1.4zM50.3 369.1h1.4v1.34h-1.4zM61.0 369.1h1.4v1.34h-1.4zM71.7 369.1h1.4v1.34h-1.4zM74.3 369.1h1.4v1.34h-1.4zM42.3 370.4h4.0v1.34h-4.0zM49.0 370.4h6.7v1.34h-6.7zM59.7 370.4h1.4v1.34h-1.4zM71.7 370.4h1.4v1.34h-1.4zM71.7 371.7h1.4v1.34h-1.4zM42.3 373.0h1.4v1.34h-1.4zM53.0 373.0h2.7v1.34h-2.7zM65.0 373.0h1.4v1.34h-1.4zM70.3 373.0h1.4v1.34h-1.4zM75.7 373.0h1.4v1.34h-1.4zM79.7 373.0h1.4v1.34h-1.4zM82.3 373.0h1.4v1.34h-1.4zM93.0 373.0h1.4v1.34h-1.4zM95.7 373.0h1.4v1.34h-1.4zM99.7 373.0h5.4v1.34h-5.4zM109.0 373.0h1.4v1.34h-1.4zM115.7 373.0h1.4v1.34h-1.4zM118.3 373.0h1.4v1.34h-1.4zM123.7 373.0h2.7v1.34h-2.7zM46.3 374.3h1.4v1.34h-1.4zM50.3 374.3h1.4v1.34h-1.4zM61.0 374.3h1.4v1.34h-1.4zM63.7 374.3h1.4v1.34h-1.4zM66.3 374.3h2.7v1.34h-2.7zM71.7 374.3h5.4v1.34h-5.4zM95.7 374.3h2.7v1.34h-2.7zM99.7 374.3h1.4v1.34h-1.4zM107.7 374.3h1.4v1.34h-1.4zM115.7 374.3h2.7v1.34h-2.7zM127.7 374.3h2.7v1.34h-2.7zM134.3 374.3h2.7v1.34h-2.7zM146.3 374.3h2.7v1.34h-2.7zM150.3 374.3h1.4v1.34h-1.4zM153.0 374.3h1.4v1.34h-1.4zM85.0 375.6h1.4v1.34h-1.4zM85.0 376.9h1.4v1.34h-1.4zM87.7 376.9h1.4v1.34h-1.4zM61.0 387.1h1.4v1.34h-1.4zM126.3 387.1h1.4v1.34h-1.4z"/>
<path fill="rgb(227,186,64)" d="M45.0 236.7h1.4v1.34h-1.4zM50.3 236.7h5.4v1.34h-5.4zM57.0 236.7h1.4v1.34h-1.4zM43.7 241.8h2.7v1.34h-2.7zM47.7 241.8h1.4v1.34h-1.4zM42.3 247.0h1.4v1.34h-1.4zM43.7 248.3h1.4v1.34h-1.4zM41.0 250.8h1.4v1.34h-1.4zM43.7 250.8h1.4v1.34h-1.4zM43.7 252.1h1.4v1.34h-1.4zM43.7 256.0h1.4v1.34h-1.4zM42.3 257.3h2.7v1.34h-2.7zM42.3 258.6h1.4v1.34h-1.4zM43.7 259.8h2.7v1.34h-2.7zM42.3 261.1h1.4v1.34h-1.4zM46.3 261.1h1.4v1.34h-1.4zM47.7 262.4h1.4v1.34h-1.4zM43.7 263.7h1.4v1.34h-1.4zM42.3 265.0h1.4v1.34h-1.4zM42.3 266.3h2.7v1.34h-2.7zM41.0 274.0h1.4v1.34h-1.4zM43.7 274.0h1.4v1.34h-1.4zM45.0 277.8h1.4v1.34h-1.4zM43.7 279.1h1.4v1.34h-1.4zM46.3 279.1h1.4v1.34h-1.4zM43.7 281.7h4.0v1.34h-4.0zM45.0 283.0h1.4v1.34h-1.4zM42.3 285.6h1.4v1.34h-1.4zM45.0 288.1h1.4v1.34h-1.4zM45.0 289.4h1.4v1.34h-1.4zM41.0 290.7h1.4v1.34h-1.4zM63.7 290.7h1.4v1.34h-1.4zM66.3 290.7h1.4v1.34h-1.4zM45.0 292.0h1.4v1.34h-1.4zM46.3 294.6h1.4v1.34h-1.4zM45.0 295.8h1.4v1.34h-1.4zM42.3 297.1h1.4v1.34h-1.4zM47.7 297.1h1.4v1.34h-1.4zM43.7 298.4h1.4v1.34h-1.4zM42.3 299.7h1.4v1.34h-1.4zM46.3 299.7h1.4v1.34h-1.4zM43.7 301.0h2.7v1.34h-2.7zM42.3 302.3h1.4v1.34h-1.4zM46.3 302.3h1.4v1.34h-1.4zM46.3 303.6h1.4v1.34h-1.4zM50.3 303.6h1.4v1.34h-1.4zM70.3 303.6h1.4v1.34h-1.4zM85.0 303.6h1.4v1.34h-1.4zM117.0 303.6h1.4v1.34h-1.4zM119.7 303.6h1.4v1.34h-1.4zM43.7 304.8h1.4v1.34h-1.4zM45.0 306.1h1.4v1.34h-1.4zM43.7 307.4h2.7v1.34h-2.7zM46.3 310.0h1.4v1.34h-1.4zM43.7 311.3h1.4v1.34h-1.4zM46.3 312.6h1.4v1.34h-1.4zM42.3 313.9h1.4v1.34h-1.4zM46.3 313.9h1.4v1.34h-1.4zM46.3 315.1h1.4v1.34h-1.4zM42.3 316.4h1.4v1.34h-1.4zM46.3 316.4h1.4v1.34h-1.4zM42.3 317.7h1.4v1.34h-1.4zM43.7 319.0h2.7v1.34h-2.7zM47.7 320.3h1.4v1.34h-1.4zM46.3 321.6h1.4v1.34h-1.4zM43.7 324.1h1.4v1.34h-1.4zM43.7 328.0h1.4v1.34h-1.4zM106.3 328.0h1.4v1.34h-1.4zM155.7 328.0h1.4v1.34h-1.4zM45.0 330.6h1.4v1.34h-1.4zM49.0 330.6h1.4v1.34h-1.4zM45.0 331.9h1.4v1.34h-1.4zM46.3 333.1h1.4v1.34h-1.4zM47.7 334.4h1.4v1.34h-1.4zM43.7 335.7h1.4v1.34h-1.4zM47.7 337.0h1.4v1.34h-1.4zM50.3 337.0h1.4v1.34h-1.4zM47.7 338.3h2.7v1.34h-2.7zM45.0 339.6h5.4v1.34h-5.4zM50.3 343.4h1.4v1.34h-1.4zM47.7 344.7h1.4v1.34h-1.4zM45.0 346.0h1.4v1.34h-1.4zM45.0 347.3h1.4v1.34h-1.4zM49.0 347.3h1.4v1.34h-1.4zM45.0 348.6h1.4v1.34h-1.4zM47.7 348.6h1.4v1.34h-1.4zM46.3 349.9h1.4v1.34h-1.4zM49.0 351.1h1.4v1.34h-1.4zM49.0 352.4h2.7v1.34h-2.7zM50.3 353.7h2.7v1.34h-2.7zM50.3 355.0h1.4v1.34h-1.4zM50.3 356.3h1.4v1.34h-1.4zM53.0 358.9h1.4v1.34h-1.4zM57.0 358.9h1.4v1.34h-1.4zM55.7 360.1h1.4v1.34h-1.4zM59.7 360.1h1.4v1.34h-1.4zM57.0 361.4h1.4v1.34h-1.4zM65.0 361.4h1.4v1.34h-1.4zM62.3 362.7h1.4v1.34h-1.4zM61.0 364.0h1.4v1.34h-1.4zM42.3 366.6h1.4v1.34h-1.4zM46.3 366.6h1.4v1.34h-1.4zM50.3 366.6h1.4v1.34h-1.4zM67.7 367.9h1.4v1.34h-1.4zM43.7 369.1h1.4v1.34h-1.4zM46.3 369.1h1.4v1.34h-1.4zM49.0 369.1h1.4v1.34h-1.4zM51.7 369.1h1.4v1.34h-1.4zM54.3 369.1h4.0v1.34h-4.0zM63.7 369.1h1.4v1.34h-1.4zM70.3 369.1h1.4v1.34h-1.4zM73.0 369.1h1.4v1.34h-1.4zM46.3 370.4h2.7v1.34h-2.7zM55.7 370.4h2.7v1.34h-2.7zM65.0 370.4h1.4v1.34h-1.4zM70.3 370.4h1.4v1.34h-1.4zM73.0 370.4h1.4v1.34h-1.4zM75.7 371.7h1.4v1.34h-1.4zM86.3 373.0h2.7v1.34h-2.7zM94.3 373.0h1.4v1.34h-1.4zM117.0 373.0h1.4v1.34h-1.4zM47.7 374.3h2.7v1.34h-2.7zM51.7 374.3h5.4v1.34h-5.4zM59.7 374.3h1.4v1.34h-1.4zM62.3 374.3h1.4v1.34h-1.4zM69.0 374.3h2.7v1.34h-2.7zM77.0 374.3h1.4v1.34h-1.4zM81.0 374.3h2.7v1.34h-2.7zM87.7 374.3h2.7v1.34h-2.7zM94.3 374.3h1.4v1.34h-1.4zM101.0 374.3h1.4v1.34h-1.4zM105.0 374.3h2.7v1.34h-2.7zM151.7 374.3h1.4v1.34h-1.4zM82.3 375.6h2.7v1.34h-2.7zM86.3 376.9h1.4v1.34h-1.4z"/>
<path fill="rgb(244,195,60)" d="M42.3 236.7h2.7v1.34h-2.7zM55.7 236.7h1.4v1.34h-1.4zM43.7 238.0h1.4v1.34h-1.4zM42.3 240.6h2.7v1.34h-2.7zM42.3 248.3h1.4v1.34h-1.4zM42.3 249.6h2.7v1.34h-2.7zM41.0 252.1h1.4v1.34h-1.4zM43.7 253.4h2.7v1.34h-2.7zM45.0 256.0h1.4v1.34h-1.4zM51.7 261.1h2.7v1.34h-2.7zM43.7 262.4h1.4v1.34h-1.4zM45.0 267.6h1.4v1.34h-1.4zM41.0 270.1h2.7v1.34h-2.7zM42.3 274.0h1.4v1.34h-1.4zM42.3 275.3h1.4v1.34h-1.4zM42.3 276.6h2.7v1.34h-2.7zM43.7 277.8h1.4v1.34h-1.4zM45.0 285.6h1.4v1.34h-1.4zM42.3 286.8h1.4v1.34h-1.4zM42.3 289.4h2.7v1.34h-2.7zM42.3 290.7h1.4v1.34h-1.4zM65.0 290.7h1.4v1.34h-1.4zM45.0 294.6h1.4v1.34h-1.4zM42.3 295.8h2.7v1.34h-2.7zM43.7 297.1h4.0v1.34h-4.0zM43.7 299.7h1.4v1.34h-1.4zM45.0 302.3h1.4v1.34h-1.4zM43.7 303.6h2.7v1.34h-2.7zM51.7 303.6h1.4v1.34h-1.4zM71.7 303.6h2.7v1.34h-2.7zM42.3 304.8h1.4v1.34h-1.4zM45.0 310.0h1.4v1.34h-1.4zM47.7 311.3h1.4v1.34h-1.4zM42.3 312.6h1.4v1.34h-1.4zM43.7 313.9h2.7v1.34h-2.7zM43.7 315.1h1.4v1.34h-1.4zM46.3 317.7h1.4v1.34h-1.4zM46.3 322.9h2.7v1.34h-2.7zM45.0 324.1h4.0v1.34h-4.0zM43.7 325.4h1.4v1.34h-1.4zM46.3 325.4h1.4v1.34h-1.4zM45.0 326.7h1.4v1.34h-1.4zM42.3 329.3h5.4v1.34h-5.4zM46.3 330.6h2.7v1.34h-2.7zM46.3 331.9h1.4v1.34h-1.4zM49.0 331.9h1.4v1.34h-1.4zM45.0 334.4h1.4v1.34h-1.4zM49.0 337.0h1.4v1.34h-1.4zM46.3 340.9h1.4v1.34h-1.4zM46.3 343.4h1.4v1.34h-1.4zM46.3 346.0h2.7v1.34h-2.7zM46.3 348.6h1.4v1.34h-1.4zM51.7 348.6h2.7v1.34h-2.7zM45.0 351.1h1.4v1.34h-1.4zM51.7 355.0h1.4v1.34h-1.4zM51.7 357.6h1.4v1.34h-1.4zM54.3 357.6h1.4v1.34h-1.4zM55.7 358.9h1.4v1.34h-1.4zM57.0 360.1h2.7v1.34h-2.7zM58.3 361.4h2.7v1.34h-2.7zM63.7 362.7h1.4v1.34h-1.4zM62.3 364.0h2.7v1.34h-2.7zM63.7 365.3h1.4v1.34h-1.4zM66.3 365.3h1.4v1.34h-1.4zM67.7 366.6h1.4v1.34h-1.4zM65.0 367.9h2.7v1.34h-2.7zM47.7 369.1h1.4v1.34h-1.4zM53.0 369.1h1.4v1.34h-1.4zM58.3 369.1h2.7v1.34h-2.7zM66.3 369.1h2.7v1.34h-2.7zM58.3 370.4h1.4v1.34h-1.4zM66.3 370.4h1.4v1.34h-1.4zM69.0 370.4h1.4v1.34h-1.4zM77.0 373.0h2.7v1.34h-2.7zM57.0 374.3h2.7v1.34h-2.7zM78.3 374.3h2.7v1.34h-2.7zM83.7 374.3h4.0v1.34h-4.0zM90.3 374.3h1.4v1.34h-1.4z"/>
<path fill="rgb(242,218,47)" d="M42.3 238.0h1.4v1.34h-1.4zM42.3 245.7h2.7v1.34h-2.7zM42.3 250.8h1.4v1.34h-1.4zM43.7 261.1h1.4v1.34h-1.4zM42.3 262.4h1.4v1.34h-1.4zM42.3 263.7h1.4v1.34h-1.4zM42.3 267.6h2.7v1.34h-2.7zM43.7 272.7h1.4v1.34h-1.4zM43.7 275.3h1.4v1.34h-1.4zM42.3 277.8h1.4v1.34h-1.4zM45.0 279.1h1.4v1.34h-1.4zM42.3 283.0h2.7v1.34h-2.7zM43.7 285.6h1.4v1.34h-1.4zM45.0 286.8h1.4v1.34h-1.4zM42.3 292.0h2.7v1.34h-2.7zM45.0 298.4h2.7v1.34h-2.7zM45.0 299.7h1.4v1.34h-1.4zM43.7 302.3h1.4v1.34h-1.4zM43.7 308.7h1.4v1.34h-1.4zM46.3 308.7h1.4v1.34h-1.4zM45.0 311.3h1.4v1.34h-1.4zM45.0 312.6h1.4v1.34h-1.4zM45.0 315.1h1.4v1.34h-1.4zM43.7 316.4h2.7v1.34h-2.7zM43.7 317.7h2.7v1.34h-2.7zM45.0 320.3h2.7v1.34h-2.7zM43.7 321.6h2.7v1.34h-2.7zM45.0 328.0h1.4v1.34h-1.4zM47.7 328.0h1.4v1.34h-1.4zM47.7 331.9h1.4v1.34h-1.4zM43.7 333.1h2.7v1.34h-2.7zM46.3 334.4h1.4v1.34h-1.4zM47.7 335.7h1.4v1.34h-1.4zM49.0 340.9h1.4v1.34h-1.4zM54.3 340.9h2.7v1.34h-2.7zM49.0 342.1h1.4v1.34h-1.4zM47.7 343.4h2.7v1.34h-2.7zM46.3 347.3h2.7v1.34h-2.7zM46.3 351.1h2.7v1.34h-2.7zM53.0 357.6h1.4v1.34h-1.4zM54.3 358.9h1.4v1.34h-1.4zM65.0 365.3h1.4v1.34h-1.4zM47.7 366.6h2.7v1.34h-2.7zM65.0 366.6h2.7v1.34h-2.7zM65.0 369.1h1.4v1.34h-1.4zM69.0 369.1h1.4v1.34h-1.4zM67.7 370.4h1.4v1.34h-1.4zM73.0 371.7h2.7v1.34h-2.7zM91.7 374.3h2.7v1.34h-2.7z"/>
<path fill="rgb(246,240,32)" d="M42.3 252.1h1.4v1.34h-1.4zM45.0 261.1h1.4v1.34h-1.4zM42.3 272.7h1.4v1.34h-1.4zM43.7 286.8h1.4v1.34h-1.4zM45.0 308.7h1.4v1.34h-1.4zM46.3 311.3h1.4v1.34h-1.4zM43.7 312.6h1.4v1.34h-1.4zM45.0 325.4h1.4v1.34h-1.4zM42.3 326.7h2.7v1.34h-2.7zM46.3 328.0h1.4v1.34h-1.4zM45.0 335.7h2.7v1.34h-2.7zM47.7 340.9h1.4v1.34h-1.4zM45.0 342.1h4.0v1.34h-4.0zM45.0 344.7h2.7v1.34h-2.7z"/>
<rect x="173.80" y="236.70" width="127.80" height="153.90" fill="rgb(65,102,192)"/>
<path fill="rgb(60,56,142)" d="M173.8 301.2h10.7v1.52h-10.7zM173.8 323.2h12.0v1.52h-12.0zM192.4 323.2h4.0v1.52h-4.0zM293.6 323.2h1.4v1.52h-1.4zM300.3 323.2h1.4v1.52h-1.4zM173.8 374.5h10.7v1.52h-10.7z"/>
<path fill="rgb(69,79,163)" d="M180.5 236.7h2.7v1.52h-2.7zM173.8 238.2h10.7v1.52h-10.7zM192.4 238.2h109.2v1.52h-109.2zM173.8 239.6h10.7v1.52h-10.7zM196.4 239.6h50.6v1.52h-50.6zM279.0 239.6h22.7v1.52h-22.7zM173.8 241.1h9.4v1.52h-9.4zM259.0 241.1h20.0v1.52h-20.0zM281.6 241.1h2.7v1.52h-2.7zM285.6 241.1h16.0v1.52h-16.0zM173.8 242.6h10.7v1.52h-10.7zM196.4 242.6h36.0v1.52h-36.0zM264.3 242.6h37.3v1.52h-37.3zM173.8 244.0h10.7v1.52h-10.7zM173.8 245.5h10.7v1.52h-10.7zM236.4 245.5h1.4v1.52h-1.4zM245.7 245.5h2.7v1.52h-2.7zM264.3 245.5h1.4v1.52h-1.4zM275.0 245.5h6.7v1.52h-6.7zM289.6 245.5h12.0v1.52h-12.0zM173.8 247.0h12.0v1.52h-12.0zM207.1 247.0h65.3v1.52h-65.3zM277.6 247.0h1.4v1.52h-1.4zM294.9 247.0h1.4v1.52h-1.4zM300.3 247.0h1.4v1.52h-1.4zM173.8 248.4h10.7v1.52h-10.7zM173.8 249.9h10.7v1.52h-10.7zM173.8 251.4h12.0v1.52h-12.0zM201.8 251.4h10.7v1.52h-10.7zM213.7 251.4h1.4v1.52h-1.4zM221.7 251.4h6.7v1.52h-6.7zM249.7 251.4h1.4v1.52h-1.4zM268.3 251.4h2.7v1.52h-2.7zM280.3 251.4h1.4v1.52h-1.4zM298.9 251.4h2.7v1.52h-2.7zM173.8 252.8h13.4v1.52h-13.4zM219.1 252.8h82.6v1.52h-82.6zM173.8 254.3h10.7v1.52h-10.7zM298.9 254.3h2.7v1.52h-2.7zM173.8 255.8h12.0v1.52h-12.0zM203.1 255.8h52.0v1.52h-52.0zM268.3 255.8h1.4v1.52h-1.4zM284.3 255.8h17.4v1.52h-17.4zM173.8 257.2h13.4v1.52h-13.4zM231.0 257.2h4.0v1.52h-4.0zM241.7 257.2h5.4v1.52h-5.4zM255.0 257.2h10.7v1.52h-10.7zM269.7 257.2h6.7v1.52h-6.7zM277.6 257.2h4.0v1.52h-4.0zM283.0 257.2h2.7v1.52h-2.7zM289.6 257.2h12.0v1.52h-12.0zM173.8 258.7h13.4v1.52h-13.4zM208.4 258.7h1.4v1.52h-1.4zM231.0 258.7h1.4v1.52h-1.4zM243.0 258.7h44.0v1.52h-44.0zM289.6 258.7h12.0v1.52h-12.0zM173.8 260.2h10.7v1.52h-10.7zM173.8 261.6h10.7v1.52h-10.7zM173.8 263.1h16.0v1.52h-16.0zM244.4 263.1h1.4v1.52h-1.4zM251.0 263.1h1.4v1.52h-1.4zM260.3 263.1h1.4v1.52h-1.4zM291.0 263.1h5.4v1.52h-5.4zM297.6 263.1h4.0v1.52h-4.0zM173.8 264.5h18.7v1.52h-18.7zM212.4 264.5h2.7v1.52h-2.7zM220.4 264.5h1.4v1.52h-1.4zM225.7 264.5h4.0v1.52h-4.0zM269.7 264.5h1.4v1.52h-1.4zM285.6 264.5h2.7v1.52h-2.7zM300.3 264.5h1.4v1.52h-1.4zM173.8 266.0h20.0v1.52h-20.0zM217.7 266.0h4.0v1.52h-4.0zM223.1 266.0h36.0v1.52h-36.0zM263.0 266.0h1.4v1.52h-1.4zM275.0 266.0h2.7v1.52h-2.7zM288.3 266.0h13.4v1.52h-13.4zM173.8 267.5h18.7v1.52h-18.7zM221.7 267.5h1.4v1.52h-1.4zM227.1 267.5h1.4v1.52h-1.4zM240.4 267.5h2.7v1.52h-2.7zM247.0 267.5h1.4v1.52h-1.4zM253.7 267.5h6.7v1.52h-6.7zM265.7 267.5h1.4v1.52h-1.4zM272.3 267.5h29.3v1.52h-29.3zM176.5 268.9h9.4v1.52h-9.4zM173.8 270.4h26.7v1.52h-26.7zM247.0 270.4h1.4v1.52h-1.4zM249.7 270.4h52.0v1.52h-52.0zM173.8 271.9h28.0v1.52h-28.0zM211.1 271.9h60.0v1.52h-60.0zM272.3 271.9h29.3v1.52h-29.3zM173.8 273.3h13.4v1.52h-13.4zM192.4 273.3h8.0v1.52h-8.0zM269.7 273.3h1.4v1.52h-1.4zM288.3 273.3h4.0v1.52h-4.0zM173.8 274.8h29.3v1.52h-29.3zM241.7 274.8h2.7v1.52h-2.7zM279.0 274.8h2.7v1.52h-2.7zM297.6 274.8h4.0v1.52h-4.0zM173.8 276.3h10.7v1.52h-10.7zM261.7 276.3h1.4v1.52h-1.4zM272.3 276.3h2.7v1.52h-2.7zM280.3 276.3h1.4v1.52h-1.4zM284.3 276.3h10.7v1.52h-10.7zM296.3 276.3h5.4v1.52h-5.4zM173.8 277.7h32.0v1.52h-32.0zM269.7 277.7h24.0v1.52h-24.0zM294.9 277.7h5.4v1.52h-5.4zM173.8 279.2h16.0v1.52h-16.0zM201.8 279.2h1.4v1.52h-1.4zM237.7 279.2h28.0v1.52h-28.0zM291.0 279.2h10.7v1.52h-10.7zM173.8 280.7h17.4v1.52h-17.4zM195.1 280.7h1.4v1.52h-1.4zM204.4 280.7h6.7v1.52h-6.7zM233.7 280.7h8.0v1.52h-8.0zM243.0 280.7h10.7v1.52h-10.7zM256.3 280.7h45.3v1.52h-45.3zM177.8 282.1h2.7v1.52h-2.7zM175.1 283.6h8.0v1.52h-8.0zM184.5 283.6h4.0v1.52h-4.0zM173.8 285.1h46.6v1.52h-46.6zM291.0 285.1h10.7v1.52h-10.7zM173.8 286.5h30.7v1.52h-30.7zM247.0 286.5h1.4v1.52h-1.4zM272.3 286.5h2.7v1.52h-2.7zM283.0 286.5h18.7v1.52h-18.7zM173.8 288.0h16.0v1.52h-16.0zM195.1 288.0h4.0v1.52h-4.0zM209.7 288.0h2.7v1.52h-2.7zM241.7 288.0h1.4v1.52h-1.4zM276.3 288.0h1.4v1.52h-1.4zM285.6 288.0h4.0v1.52h-4.0zM293.6 288.0h4.0v1.52h-4.0zM173.8 289.5h50.6v1.52h-50.6zM279.0 289.5h22.7v1.52h-22.7zM173.8 290.9h12.0v1.52h-12.0zM269.7 290.9h1.4v1.52h-1.4zM280.3 290.9h21.4v1.52h-21.4zM173.8 292.4h49.3v1.52h-49.3zM252.3 292.4h4.0v1.52h-4.0zM291.0 292.4h10.7v1.52h-10.7zM173.8 293.9h49.3v1.52h-49.3zM247.0 293.9h54.6v1.52h-54.6zM173.8 295.3h10.7v1.52h-10.7zM199.1 295.3h25.3v1.52h-25.3zM277.6 295.3h24.0v1.52h-24.0zM173.8 296.8h13.4v1.52h-13.4zM191.1 296.8h6.7v1.52h-6.7zM203.1 296.8h2.7v1.52h-2.7zM211.1 296.8h6.7v1.52h-6.7zM219.1 296.8h5.4v1.52h-5.4zM173.8 298.3h26.7v1.52h-26.7zM207.1 298.3h8.0v1.52h-8.0zM216.4 298.3h5.4v1.52h-5.4zM223.1 298.3h2.7v1.52h-2.7zM297.6 298.3h1.4v1.52h-1.4zM300.3 298.3h1.4v1.52h-1.4zM173.8 299.7h54.6v1.52h-54.6zM280.3 299.7h21.4v1.52h-21.4zM184.5 301.2h12.0v1.52h-12.0zM173.8 302.7h22.7v1.52h-22.7zM173.8 304.1h58.6v1.52h-58.6zM252.3 304.1h49.3v1.52h-49.3zM173.8 305.6h33.3v1.52h-33.3zM211.1 305.6h2.7v1.52h-2.7zM224.4 305.6h2.7v1.52h-2.7zM253.7 305.6h48.0v1.52h-48.0zM173.8 307.1h29.3v1.52h-29.3zM204.4 307.1h2.7v1.52h-2.7zM261.7 307.1h2.7v1.52h-2.7zM273.6 307.1h1.4v1.52h-1.4zM287.0 307.1h1.4v1.52h-1.4zM292.3 307.1h9.4v1.52h-9.4zM173.8 308.5h30.7v1.52h-30.7zM211.1 308.5h2.7v1.52h-2.7zM216.4 308.5h16.0v1.52h-16.0zM255.0 308.5h9.4v1.52h-9.4zM271.0 308.5h1.4v1.52h-1.4zM279.0 308.5h1.4v1.52h-1.4zM285.6 308.5h1.4v1.52h-1.4zM296.3 308.5h1.4v1.52h-1.4zM173.8 310.0h10.7v1.52h-10.7zM173.8 311.5h10.7v1.52h-10.7zM173.8 312.9h56.0v1.52h-56.0zM245.7 312.9h12.0v1.52h-12.0zM261.7 312.9h4.0v1.52h-4.0zM273.6 312.9h1.4v1.52h-1.4zM280.3 312.9h1.4v1.52h-1.4zM285.6 312.9h2.7v1.52h-2.7zM297.6 312.9h4.0v1.52h-4.0zM175.1 314.4h1.4v1.52h-1.4zM173.8 315.8h14.7v1.52h-14.7zM261.7 315.8h1.4v1.52h-1.4zM294.9 315.8h6.7v1.52h-6.7zM173.8 317.3h10.7v1.52h-10.7zM273.6 317.3h28.0v1.52h-28.0zM173.8 318.8h60.0v1.52h-60.0zM251.0 318.8h50.6v1.52h-50.6zM173.8 320.2h42.6v1.52h-42.6zM231.0 320.2h4.0v1.52h-4.0zM240.4 320.2h1.4v1.52h-1.4zM292.3 320.2h9.4v1.52h-9.4zM173.8 321.7h69.3v1.52h-69.3zM280.3 321.7h8.0v1.52h-8.0zM185.8 323.2h6.7v1.52h-6.7zM196.4 323.2h12.0v1.52h-12.0zM213.7 323.2h2.7v1.52h-2.7zM220.4 323.2h1.4v1.52h-1.4zM232.4 323.2h2.7v1.52h-2.7zM261.7 323.2h32.0v1.52h-32.0zM294.9 323.2h5.4v1.52h-5.4zM173.8 324.6h34.7v1.52h-34.7zM216.4 324.6h4.0v1.52h-4.0zM235.0 324.6h6.7v1.52h-6.7zM256.3 324.6h45.3v1.52h-45.3zM173.8 326.1h37.3v1.52h-37.3zM173.8 327.6h67.9v1.52h-67.9zM173.8 329.0h57.3v1.52h-57.3zM277.6 329.0h24.0v1.52h-24.0zM173.8 330.5h10.7v1.52h-10.7zM173.8 332.0h10.7v1.52h-10.7zM173.8 333.4h38.7v1.52h-38.7zM241.7 333.4h1.4v1.52h-1.4zM297.6 333.4h2.7v1.52h-2.7zM173.8 334.9h65.3v1.52h-65.3zM294.9 334.9h2.7v1.52h-2.7zM300.3 334.9h1.4v1.52h-1.4zM173.8 336.4h20.0v1.52h-20.0zM203.1 336.4h1.4v1.52h-1.4zM239.0 336.4h13.4v1.52h-13.4zM173.8 337.8h10.7v1.52h-10.7zM173.8 339.3h12.0v1.52h-12.0zM191.1 339.3h6.7v1.52h-6.7zM173.8 340.8h78.6v1.52h-78.6zM173.8 342.2h14.7v1.52h-14.7zM173.8 343.7h18.7v1.52h-18.7zM199.1 343.7h20.0v1.52h-20.0zM225.7 343.7h5.4v1.52h-5.4zM240.4 343.7h9.4v1.52h-9.4zM173.8 345.2h10.7v1.52h-10.7zM173.8 346.6h10.7v1.52h-10.7zM173.8 348.1h40.0v1.52h-40.0zM173.8 349.6h44.0v1.52h-44.0zM277.6 349.6h13.4v1.52h-13.4zM293.6 349.6h6.7v1.52h-6.7zM173.8 351.0h14.7v1.52h-14.7zM227.1 351.0h30.7v1.52h-30.7zM276.3 351.0h1.4v1.52h-1.4zM285.6 351.0h16.0v1.52h-16.0zM173.8 352.5h10.7v1.52h-10.7zM173.8 354.0h57.3v1.52h-57.3zM232.4 354.0h13.4v1.52h-13.4zM251.0 354.0h4.0v1.52h-4.0zM275.0 354.0h26.7v1.52h-26.7zM173.8 355.4h57.3v1.52h-57.3zM257.7 355.4h5.4v1.52h-5.4zM289.6 355.4h12.0v1.52h-12.0zM173.8 356.9h32.0v1.52h-32.0zM216.4 356.9h9.4v1.52h-9.4zM229.7 356.9h8.0v1.52h-8.0zM241.7 356.9h22.7v1.52h-22.7zM283.0 356.9h18.7v1.52h-18.7zM173.8 358.4h53.3v1.52h-53.3zM231.0 358.4h1.4v1.52h-1.4zM249.7 358.4h1.4v1.52h-1.4zM293.6 358.4h8.0v1.52h-8.0zM173.8 359.8h10.7v1.52h-10.7zM244.4 359.8h14.7v1.52h-14.7zM288.3 359.8h13.4v1.52h-13.4zM173.8 361.3h20.0v1.52h-20.0zM224.4 361.3h2.7v1.52h-2.7zM239.0 361.3h1.4v1.52h-1.4zM252.3 361.3h20.0v1.52h-20.0zM284.3 361.3h17.4v1.52h-17.4zM173.8 362.8h61.3v1.52h-61.3zM239.0 362.8h2.7v1.52h-2.7zM247.0 362.8h5.4v1.52h-5.4zM259.0 362.8h13.4v1.52h-13.4zM288.3 362.8h13.4v1.52h-13.4zM173.8 364.2h45.3v1.52h-45.3zM173.8 365.7h12.0v1.52h-12.0zM189.8 365.7h4.0v1.52h-4.0zM197.8 365.7h1.4v1.52h-1.4zM223.1 365.7h1.4v1.52h-1.4zM231.0 365.7h5.4v1.52h-5.4zM240.4 365.7h4.0v1.52h-4.0zM249.7 365.7h2.7v1.52h-2.7zM260.3 365.7h16.0v1.52h-16.0zM173.8 367.1h8.0v1.52h-8.0zM183.1 367.1h4.0v1.52h-4.0zM197.8 367.1h1.4v1.52h-1.4zM245.7 367.1h1.4v1.52h-1.4zM173.8 368.6h10.7v1.52h-10.7zM244.4 368.6h1.4v1.52h-1.4zM264.3 368.6h2.7v1.52h-2.7zM298.9 368.6h2.7v1.52h-2.7zM173.8 370.1h13.4v1.52h-13.4zM231.0 370.1h48.0v1.52h-48.0zM298.9 370.1h2.7v1.52h-2.7zM173.8 371.5h45.3v1.52h-45.3zM256.3 371.5h6.7v1.52h-6.7zM271.0 371.5h2.7v1.52h-2.7zM173.8 373.0h57.3v1.52h-57.3zM273.6 373.0h5.4v1.52h-5.4zM298.9 373.0h2.7v1.52h-2.7zM173.8 375.9h10.7v1.52h-10.7zM173.8 377.4h50.6v1.52h-50.6zM228.4 377.4h1.4v1.52h-1.4zM240.4 377.4h1.4v1.52h-1.4zM259.0 377.4h1.4v1.52h-1.4zM269.7 377.4h2.7v1.52h-2.7zM173.8 378.9h38.7v1.52h-38.7zM229.7 378.9h1.4v1.52h-1.4zM241.7 378.9h6.7v1.52h-6.7zM260.3 378.9h1.4v1.52h-1.4zM267.0 378.9h2.7v1.52h-2.7zM273.6 378.9h12.0v1.52h-12.0zM173.8 380.3h10.7v1.52h-10.7zM199.1 380.3h2.7v1.52h-2.7zM275.0 380.3h1.4v1.52h-1.4zM173.8 381.8h30.7v1.52h-30.7zM205.8 381.8h53.3v1.52h-53.3zM260.3 381.8h29.3v1.52h-29.3zM173.8 383.3h117.2v1.52h-117.2zM173.8 384.7h22.7v1.52h-22.7zM209.7 384.7h38.7v1.52h-38.7zM252.3 384.7h2.7v1.52h-2.7zM260.3 384.7h1.4v1.52h-1.4zM265.7 384.7h1.4v1.52h-1.4zM272.3 384.7h2.7v1.52h-2.7zM288.3 384.7h4.0v1.52h-4.0zM173.8 386.2h14.7v1.52h-14.7zM192.4 386.2h1.4v1.52h-1.4zM197.8 386.2h1.4v1.52h-1.4zM205.8 386.2h13.4v1.52h-13.4zM220.4 386.2h2.7v1.52h-2.7zM260.3 386.2h2.7v1.52h-2.7zM277.6 386.2h2.7v1.52h-2.7zM283.0 386.2h5.4v1.52h-5.4zM173.8 387.7h81.3v1.52h-81.3zM267.0 387.7h1.4v1.52h-1.4zM273.6 387.7h1.4v1.52h-1.4zM287.0 387.7h5.4v1.52h-5.4zM173.8 389.1h71.9v1.52h-71.9zM264.3 389.1h2.7v1.52h-2.7zM275.0 389.1h24.0v1.52h-24.0z"/>
<path fill="rgb(51,130,208)" d="M184.5 236.7h1.4v1.52h-1.4zM207.1 236.7h9.4v1.52h-9.4zM219.1 236.7h5.4v1.52h-5.4zM235.0 236.7h1.4v1.52h-1.4zM241.7 236.7h1.4v1.52h-1.4zM245.7 236.7h2.7v1.52h-2.7zM259.0 236.7h1.4v1.52h-1.4zM269.7 236.7h1.4v1.52h-1.4zM272.3 236.7h1.4v1.52h-1.4zM275.0 236.7h1.4v1.52h-1.4zM280.3 236.7h1.4v1.52h-1.4zM184.5 238.2h1.4v1.52h-1.4zM184.5 239.6h1.4v1.52h-1.4zM248.4 239.6h1.4v1.52h-1.4zM252.3 239.6h1.4v1.52h-1.4zM255.0 239.6h1.4v1.52h-1.4zM259.0 239.6h4.0v1.52h-4.0zM264.3 239.6h1.4v1.52h-1.4zM268.3 239.6h1.4v1.52h-1.4zM276.3 239.6h1.4v1.52h-1.4zM201.8 241.1h14.7v1.52h-14.7zM237.7 241.1h1.4v1.52h-1.4zM244.4 241.1h1.4v1.52h-1.4zM248.4 241.1h1.4v1.52h-1.4zM256.3 241.1h1.4v1.52h-1.4zM195.1 242.6h1.4v1.52h-1.4zM233.7 242.6h1.4v1.52h-1.4zM236.4 242.6h1.4v1.52h-1.4zM239.0 242.6h1.4v1.52h-1.4zM252.3 242.6h4.0v1.52h-4.0zM259.0 242.6h1.4v1.52h-1.4zM184.5 245.5h1.4v1.52h-1.4zM197.8 245.5h12.0v1.52h-12.0zM237.7 245.5h1.4v1.52h-1.4zM244.4 245.5h1.4v1.52h-1.4zM248.4 245.5h1.4v1.52h-1.4zM253.7 245.5h2.7v1.52h-2.7zM260.3 245.5h2.7v1.52h-2.7zM283.0 245.5h1.4v1.52h-1.4zM287.0 245.5h1.4v1.52h-1.4zM192.4 247.0h1.4v1.52h-1.4zM196.4 247.0h1.4v1.52h-1.4zM281.6 247.0h1.4v1.52h-1.4zM284.3 247.0h1.4v1.52h-1.4zM288.3 247.0h2.7v1.52h-2.7zM293.6 247.0h1.4v1.52h-1.4zM297.6 247.0h1.4v1.52h-1.4zM199.1 251.4h1.4v1.52h-1.4zM233.7 251.4h1.4v1.52h-1.4zM240.4 251.4h1.4v1.52h-1.4zM244.4 251.4h2.7v1.52h-2.7zM248.4 251.4h1.4v1.52h-1.4zM252.3 251.4h1.4v1.52h-1.4zM259.0 251.4h1.4v1.52h-1.4zM267.0 251.4h1.4v1.52h-1.4zM271.0 251.4h1.4v1.52h-1.4zM283.0 251.4h2.7v1.52h-2.7zM288.3 251.4h2.7v1.52h-2.7zM296.3 251.4h1.4v1.52h-1.4zM187.1 252.8h1.4v1.52h-1.4zM203.1 252.8h1.4v1.52h-1.4zM185.8 254.3h1.4v1.52h-1.4zM200.4 254.3h1.4v1.52h-1.4zM220.4 254.3h4.0v1.52h-4.0zM233.7 254.3h10.7v1.52h-10.7zM252.3 254.3h1.4v1.52h-1.4zM269.7 254.3h1.4v1.52h-1.4zM275.0 254.3h8.0v1.52h-8.0zM288.3 254.3h1.4v1.52h-1.4zM294.9 254.3h2.7v1.52h-2.7zM187.1 255.8h1.4v1.52h-1.4zM192.4 255.8h1.4v1.52h-1.4zM195.1 255.8h5.4v1.52h-5.4zM277.6 255.8h1.4v1.52h-1.4zM281.6 255.8h1.4v1.52h-1.4zM189.8 257.2h1.4v1.52h-1.4zM201.8 257.2h1.4v1.52h-1.4zM216.4 257.2h1.4v1.52h-1.4zM229.7 257.2h1.4v1.52h-1.4zM200.4 258.7h1.4v1.52h-1.4zM205.8 258.7h1.4v1.52h-1.4zM211.1 258.7h6.7v1.52h-6.7zM219.1 258.7h1.4v1.52h-1.4zM228.4 258.7h1.4v1.52h-1.4zM189.8 261.6h1.4v1.52h-1.4zM203.1 263.1h9.4v1.52h-9.4zM245.7 263.1h1.4v1.52h-1.4zM252.3 263.1h1.4v1.52h-1.4zM257.7 263.1h1.4v1.52h-1.4zM263.0 263.1h1.4v1.52h-1.4zM268.3 263.1h2.7v1.52h-2.7zM273.6 263.1h2.7v1.52h-2.7zM279.0 263.1h2.7v1.52h-2.7zM289.6 263.1h1.4v1.52h-1.4zM205.8 264.5h1.4v1.52h-1.4zM208.4 264.5h2.7v1.52h-2.7zM223.1 264.5h1.4v1.52h-1.4zM233.7 264.5h8.0v1.52h-8.0zM249.7 264.5h1.4v1.52h-1.4zM252.3 264.5h2.7v1.52h-2.7zM281.6 264.5h2.7v1.52h-2.7zM289.6 264.5h1.4v1.52h-1.4zM208.4 266.0h1.4v1.52h-1.4zM265.7 266.0h8.0v1.52h-8.0zM279.0 266.0h1.4v1.52h-1.4zM281.6 266.0h1.4v1.52h-1.4zM193.8 267.5h1.4v1.52h-1.4zM211.1 267.5h1.4v1.52h-1.4zM215.1 267.5h1.4v1.52h-1.4zM224.4 267.5h1.4v1.52h-1.4zM235.0 267.5h4.0v1.52h-4.0zM244.4 267.5h1.4v1.52h-1.4zM249.7 267.5h2.7v1.52h-2.7zM264.3 267.5h1.4v1.52h-1.4zM197.8 268.9h1.4v1.52h-1.4zM212.4 268.9h12.0v1.52h-12.0zM255.0 268.9h2.7v1.52h-2.7zM261.7 268.9h5.4v1.52h-5.4zM277.6 268.9h2.7v1.52h-2.7zM281.6 268.9h4.0v1.52h-4.0zM200.4 270.4h1.4v1.52h-1.4zM215.1 270.4h9.4v1.52h-9.4zM208.4 271.9h1.4v1.52h-1.4zM203.1 273.3h1.4v1.52h-1.4zM219.1 273.3h9.4v1.52h-9.4zM243.0 273.3h1.4v1.52h-1.4zM267.0 273.3h1.4v1.52h-1.4zM275.0 273.3h1.4v1.52h-1.4zM280.3 273.3h1.4v1.52h-1.4zM283.0 273.3h1.4v1.52h-1.4zM204.4 274.8h2.7v1.52h-2.7zM209.7 274.8h1.4v1.52h-1.4zM233.7 274.8h2.7v1.52h-2.7zM253.7 274.8h2.7v1.52h-2.7zM263.0 274.8h2.7v1.52h-2.7zM272.3 274.8h1.4v1.52h-1.4zM276.3 274.8h1.4v1.52h-1.4zM285.6 274.8h1.4v1.52h-1.4zM292.3 274.8h1.4v1.52h-1.4zM243.0 276.3h1.4v1.52h-1.4zM208.4 277.7h1.4v1.52h-1.4zM236.4 277.7h1.4v1.52h-1.4zM249.7 277.7h1.4v1.52h-1.4zM252.3 277.7h1.4v1.52h-1.4zM255.0 277.7h1.4v1.52h-1.4zM259.0 277.7h2.7v1.52h-2.7zM264.3 277.7h1.4v1.52h-1.4zM197.8 279.2h2.7v1.52h-2.7zM204.4 279.2h1.4v1.52h-1.4zM209.7 279.2h4.0v1.52h-4.0zM232.4 279.2h1.4v1.52h-1.4zM289.6 279.2h1.4v1.52h-1.4zM191.1 280.7h1.4v1.52h-1.4zM193.8 280.7h1.4v1.52h-1.4zM196.4 280.7h1.4v1.52h-1.4zM199.1 280.7h1.4v1.52h-1.4zM201.8 280.7h1.4v1.52h-1.4zM212.4 280.7h1.4v1.52h-1.4zM224.4 280.7h1.4v1.52h-1.4zM216.4 282.1h1.4v1.52h-1.4zM231.0 282.1h13.4v1.52h-13.4zM220.4 283.6h1.4v1.52h-1.4zM245.7 283.6h1.4v1.52h-1.4zM288.3 283.6h1.4v1.52h-1.4zM293.6 283.6h2.7v1.52h-2.7zM220.4 285.1h1.4v1.52h-1.4zM235.0 285.1h1.4v1.52h-1.4zM239.0 285.1h5.4v1.52h-5.4zM249.7 285.1h4.0v1.52h-4.0zM261.7 285.1h2.7v1.52h-2.7zM269.7 285.1h1.4v1.52h-1.4zM272.3 285.1h1.4v1.52h-1.4zM284.3 285.1h1.4v1.52h-1.4zM205.8 286.5h2.7v1.52h-2.7zM213.7 286.5h4.0v1.52h-4.0zM223.1 286.5h2.7v1.52h-2.7zM231.0 286.5h1.4v1.52h-1.4zM233.7 286.5h1.4v1.52h-1.4zM237.7 286.5h4.0v1.52h-4.0zM248.4 286.5h1.4v1.52h-1.4zM251.0 286.5h1.4v1.52h-1.4zM259.0 286.5h1.4v1.52h-1.4zM263.0 286.5h1.4v1.52h-1.4zM267.0 286.5h1.4v1.52h-1.4zM275.0 286.5h1.4v1.52h-1.4zM224.4 288.0h1.4v1.52h-1.4zM232.4 288.0h2.7v1.52h-2.7zM237.7 288.0h1.4v1.52h-1.4zM257.7 288.0h1.4v1.52h-1.4zM260.3 288.0h2.7v1.52h-2.7zM264.3 288.0h1.4v1.52h-1.4zM269.7 288.0h1.4v1.52h-1.4zM272.3 288.0h1.4v1.52h-1.4zM225.7 289.5h1.4v1.52h-1.4zM247.0 289.5h2.7v1.52h-2.7zM251.0 289.5h5.4v1.52h-5.4zM257.7 289.5h1.4v1.52h-1.4zM261.7 289.5h1.4v1.52h-1.4zM185.8 290.9h1.4v1.52h-1.4zM221.7 290.9h1.4v1.52h-1.4zM224.4 290.9h1.4v1.52h-1.4zM244.4 290.9h2.7v1.52h-2.7zM253.7 290.9h1.4v1.52h-1.4zM272.3 290.9h2.7v1.52h-2.7zM224.4 292.4h1.4v1.52h-1.4zM236.4 292.4h5.4v1.52h-5.4zM257.7 292.4h1.4v1.52h-1.4zM265.7 292.4h5.4v1.52h-5.4zM280.3 292.4h1.4v1.52h-1.4zM283.0 292.4h2.7v1.52h-2.7zM288.3 292.4h1.4v1.52h-1.4zM224.4 293.9h1.4v1.52h-1.4zM237.7 293.9h1.4v1.52h-1.4zM244.4 293.9h1.4v1.52h-1.4zM197.8 295.3h1.4v1.52h-1.4zM247.0 295.3h2.7v1.52h-2.7zM251.0 295.3h1.4v1.52h-1.4zM257.7 295.3h5.4v1.52h-5.4zM265.7 295.3h1.4v1.52h-1.4zM272.3 295.3h1.4v1.52h-1.4zM225.7 296.8h1.4v1.52h-1.4zM252.3 296.8h1.4v1.52h-1.4zM257.7 296.8h2.7v1.52h-2.7zM275.0 296.8h1.4v1.52h-1.4zM277.6 296.8h1.4v1.52h-1.4zM288.3 296.8h1.4v1.52h-1.4zM296.3 296.8h1.4v1.52h-1.4zM228.4 298.3h2.7v1.52h-2.7zM241.7 298.3h4.0v1.52h-4.0zM247.0 298.3h2.7v1.52h-2.7zM252.3 298.3h2.7v1.52h-2.7zM263.0 298.3h1.4v1.52h-1.4zM271.0 298.3h1.4v1.52h-1.4zM275.0 298.3h1.4v1.52h-1.4zM281.6 298.3h1.4v1.52h-1.4zM292.3 298.3h2.7v1.52h-2.7zM296.3 298.3h1.4v1.52h-1.4zM243.0 299.7h10.7v1.52h-10.7zM196.4 301.2h1.4v1.52h-1.4zM233.7 304.1h1.4v1.52h-1.4zM243.0 304.1h1.4v1.52h-1.4zM208.4 305.6h1.4v1.52h-1.4zM213.7 305.6h1.4v1.52h-1.4zM228.4 305.6h1.4v1.52h-1.4zM231.0 305.6h1.4v1.52h-1.4zM251.0 305.6h1.4v1.52h-1.4zM219.1 307.1h1.4v1.52h-1.4zM253.7 307.1h2.7v1.52h-2.7zM257.7 307.1h1.4v1.52h-1.4zM275.0 307.1h1.4v1.52h-1.4zM279.0 307.1h1.4v1.52h-1.4zM283.0 307.1h2.7v1.52h-2.7zM233.7 308.5h1.4v1.52h-1.4zM269.7 308.5h1.4v1.52h-1.4zM273.6 308.5h4.0v1.52h-4.0zM280.3 308.5h1.4v1.52h-1.4zM292.3 308.5h1.4v1.52h-1.4zM297.6 308.5h1.4v1.52h-1.4zM300.3 308.5h1.4v1.52h-1.4zM292.3 310.0h1.4v1.52h-1.4zM185.8 311.5h1.4v1.52h-1.4zM229.7 312.9h1.4v1.52h-1.4zM233.7 312.9h2.7v1.52h-2.7zM257.7 312.9h1.4v1.52h-1.4zM260.3 312.9h1.4v1.52h-1.4zM268.3 312.9h4.0v1.52h-4.0zM277.6 312.9h1.4v1.52h-1.4zM283.0 312.9h1.4v1.52h-1.4zM289.6 312.9h1.4v1.52h-1.4zM292.3 312.9h1.4v1.52h-1.4zM237.7 314.4h1.4v1.52h-1.4zM240.4 314.4h4.0v1.52h-4.0zM199.1 315.8h2.7v1.52h-2.7zM211.1 315.8h4.0v1.52h-4.0zM229.7 315.8h1.4v1.52h-1.4zM240.4 315.8h4.0v1.52h-4.0zM252.3 315.8h1.4v1.52h-1.4zM272.3 315.8h2.7v1.52h-2.7zM293.6 315.8h1.4v1.52h-1.4zM267.0 317.3h4.0v1.52h-4.0zM237.7 318.8h2.7v1.52h-2.7zM217.7 320.2h4.0v1.52h-4.0zM224.4 320.2h2.7v1.52h-2.7zM243.0 320.2h1.4v1.52h-1.4zM271.0 320.2h1.4v1.52h-1.4zM244.4 321.7h1.4v1.52h-1.4zM260.3 321.7h4.0v1.52h-4.0zM288.3 321.7h1.4v1.52h-1.4zM216.4 323.2h1.4v1.52h-1.4zM223.1 323.2h8.0v1.52h-8.0zM235.0 323.2h1.4v1.52h-1.4zM239.0 323.2h1.4v1.52h-1.4zM255.0 323.2h2.7v1.52h-2.7zM259.0 323.2h1.4v1.52h-1.4zM209.7 324.6h1.4v1.52h-1.4zM221.7 324.6h1.4v1.52h-1.4zM241.7 324.6h1.4v1.52h-1.4zM255.0 324.6h1.4v1.52h-1.4zM217.7 326.1h2.7v1.52h-2.7zM227.1 326.1h4.0v1.52h-4.0zM232.4 326.1h2.7v1.52h-2.7zM240.4 326.1h1.4v1.52h-1.4zM300.3 326.1h1.4v1.52h-1.4zM243.0 327.6h1.4v1.52h-1.4zM273.6 327.6h1.4v1.52h-1.4zM279.0 327.6h1.4v1.52h-1.4zM281.6 327.6h6.7v1.52h-6.7zM232.4 329.0h5.4v1.52h-5.4zM239.0 329.0h1.4v1.52h-1.4zM243.0 329.0h1.4v1.52h-1.4zM248.4 329.0h2.7v1.52h-2.7zM252.3 329.0h1.4v1.52h-1.4zM257.7 329.0h2.7v1.52h-2.7zM184.5 330.5h1.4v1.52h-1.4zM213.7 333.4h1.4v1.52h-1.4zM231.0 333.4h1.4v1.52h-1.4zM233.7 333.4h1.4v1.52h-1.4zM240.4 333.4h1.4v1.52h-1.4zM244.4 333.4h1.4v1.52h-1.4zM253.7 333.4h2.7v1.52h-2.7zM263.0 333.4h4.0v1.52h-4.0zM268.3 333.4h2.7v1.52h-2.7zM276.3 333.4h1.4v1.52h-1.4zM285.6 333.4h2.7v1.52h-2.7zM240.4 334.9h1.4v1.52h-1.4zM243.0 334.9h2.7v1.52h-2.7zM263.0 334.9h4.0v1.52h-4.0zM271.0 334.9h1.4v1.52h-1.4zM199.1 336.4h2.7v1.52h-2.7zM220.4 336.4h1.4v1.52h-1.4zM224.4 336.4h2.7v1.52h-2.7zM235.0 336.4h2.7v1.52h-2.7zM268.3 336.4h10.7v1.52h-10.7zM185.8 337.8h1.4v1.52h-1.4zM217.7 337.8h2.7v1.52h-2.7zM203.1 339.3h1.4v1.52h-1.4zM205.8 339.3h1.4v1.52h-1.4zM208.4 339.3h1.4v1.52h-1.4zM216.4 339.3h1.4v1.52h-1.4zM224.4 339.3h1.4v1.52h-1.4zM241.7 339.3h6.7v1.52h-6.7zM249.7 339.3h1.4v1.52h-1.4zM276.3 339.3h1.4v1.52h-1.4zM267.0 340.8h2.7v1.52h-2.7zM271.0 340.8h10.7v1.52h-10.7zM189.8 342.2h1.4v1.52h-1.4zM199.1 342.2h2.7v1.52h-2.7zM207.1 342.2h1.4v1.52h-1.4zM279.0 343.7h1.4v1.52h-1.4zM283.0 343.7h1.4v1.52h-1.4zM287.0 346.6h2.7v1.52h-2.7zM217.7 348.1h1.4v1.52h-1.4zM221.7 348.1h2.7v1.52h-2.7zM233.7 348.1h2.7v1.52h-2.7zM243.0 348.1h6.7v1.52h-6.7zM267.0 348.1h4.0v1.52h-4.0zM220.4 349.6h2.7v1.52h-2.7zM225.7 349.6h4.0v1.52h-4.0zM240.4 349.6h10.7v1.52h-10.7zM261.7 349.6h2.7v1.52h-2.7zM268.3 349.6h2.7v1.52h-2.7zM275.0 349.6h1.4v1.52h-1.4zM200.4 351.0h4.0v1.52h-4.0zM212.4 351.0h2.7v1.52h-2.7zM224.4 351.0h1.4v1.52h-1.4zM188.4 352.5h4.0v1.52h-4.0zM204.4 352.5h1.4v1.52h-1.4zM213.7 352.5h1.4v1.52h-1.4zM284.3 352.5h2.7v1.52h-2.7zM255.0 354.0h1.4v1.52h-1.4zM259.0 354.0h1.4v1.52h-1.4zM261.7 354.0h1.4v1.52h-1.4zM233.7 355.4h1.4v1.52h-1.4zM241.7 355.4h1.4v1.52h-1.4zM248.4 355.4h1.4v1.52h-1.4zM267.0 355.4h1.4v1.52h-1.4zM273.6 355.4h1.4v1.52h-1.4zM280.3 355.4h5.4v1.52h-5.4zM213.7 356.9h1.4v1.52h-1.4zM227.1 356.9h1.4v1.52h-1.4zM239.0 356.9h1.4v1.52h-1.4zM265.7 356.9h4.0v1.52h-4.0zM228.4 358.4h1.4v1.52h-1.4zM240.4 358.4h4.0v1.52h-4.0zM255.0 358.4h4.0v1.52h-4.0zM263.0 358.4h2.7v1.52h-2.7zM276.3 358.4h1.4v1.52h-1.4zM228.4 359.8h1.4v1.52h-1.4zM241.7 359.8h1.4v1.52h-1.4zM263.0 359.8h5.4v1.52h-5.4zM195.1 361.3h1.4v1.52h-1.4zM203.1 361.3h4.0v1.52h-4.0zM209.7 361.3h4.0v1.52h-4.0zM215.1 361.3h1.4v1.52h-1.4zM223.1 361.3h1.4v1.52h-1.4zM228.4 361.3h2.7v1.52h-2.7zM232.4 361.3h2.7v1.52h-2.7zM245.7 361.3h5.4v1.52h-5.4zM275.0 361.3h4.0v1.52h-4.0zM235.0 362.8h1.4v1.52h-1.4zM237.7 362.8h1.4v1.52h-1.4zM253.7 362.8h2.7v1.52h-2.7zM277.6 362.8h1.4v1.52h-1.4zM280.3 362.8h1.4v1.52h-1.4zM284.3 362.8h1.4v1.52h-1.4zM187.1 365.7h1.4v1.52h-1.4zM195.1 365.7h1.4v1.52h-1.4zM200.4 365.7h1.4v1.52h-1.4zM208.4 365.7h1.4v1.52h-1.4zM212.4 365.7h5.4v1.52h-5.4zM225.7 365.7h4.0v1.52h-4.0zM237.7 365.7h1.4v1.52h-1.4zM257.7 365.7h1.4v1.52h-1.4zM277.6 365.7h1.4v1.52h-1.4zM293.6 365.7h2.7v1.52h-2.7zM263.0 367.1h1.4v1.52h-1.4zM265.7 367.1h1.4v1.52h-1.4zM269.7 367.1h2.7v1.52h-2.7zM275.0 367.1h1.4v1.52h-1.4zM277.6 367.1h1.4v1.52h-1.4zM300.3 367.1h1.4v1.52h-1.4zM184.5 368.6h1.4v1.52h-1.4zM247.0 368.6h2.7v1.52h-2.7zM253.7 368.6h1.4v1.52h-1.4zM257.7 368.6h5.4v1.52h-5.4zM268.3 368.6h6.7v1.52h-6.7zM277.6 368.6h4.0v1.52h-4.0zM296.3 368.6h1.4v1.52h-1.4zM280.3 370.1h1.4v1.52h-1.4zM296.3 370.1h1.4v1.52h-1.4zM267.0 371.5h2.7v1.52h-2.7zM297.6 371.5h1.4v1.52h-1.4zM231.0 373.0h1.4v1.52h-1.4zM268.3 373.0h4.0v1.52h-4.0zM296.3 373.0h1.4v1.52h-1.4zM184.5 375.9h1.4v1.52h-1.4zM225.7 377.4h1.4v1.52h-1.4zM235.0 377.4h4.0v1.52h-4.0zM243.0 377.4h5.4v1.52h-5.4zM253.7 377.4h1.4v1.52h-1.4zM261.7 377.4h6.7v1.52h-6.7zM277.6 377.4h1.4v1.52h-1.4zM298.9 377.4h1.4v1.52h-1.4zM212.4 378.9h1.4v1.52h-1.4zM215.1 378.9h1.4v1.52h-1.4zM217.7 378.9h1.4v1.52h-1.4zM220.4 378.9h1.4v1.52h-1.4zM224.4 378.9h4.0v1.52h-4.0zM232.4 378.9h4.0v1.52h-4.0zM239.0 378.9h1.4v1.52h-1.4zM253.7 378.9h5.4v1.52h-5.4zM271.0 378.9h1.4v1.52h-1.4zM291.0 378.9h1.4v1.52h-1.4zM294.9 378.9h2.7v1.52h-2.7zM298.9 378.9h2.7v1.52h-2.7zM244.4 380.3h1.4v1.52h-1.4zM264.3 380.3h1.4v1.52h-1.4zM268.3 380.3h1.4v1.52h-1.4zM276.3 380.3h1.4v1.52h-1.4zM292.3 381.8h1.4v1.52h-1.4zM294.9 381.8h1.4v1.52h-1.4zM293.6 383.3h2.7v1.52h-2.7zM300.3 383.3h1.4v1.52h-1.4zM197.8 384.7h1.4v1.52h-1.4zM249.7 384.7h1.4v1.52h-1.4zM261.7 384.7h1.4v1.52h-1.4zM264.3 384.7h1.4v1.52h-1.4zM276.3 384.7h4.0v1.52h-4.0zM283.0 384.7h4.0v1.52h-4.0zM297.6 384.7h2.7v1.52h-2.7zM224.4 386.2h2.7v1.52h-2.7zM228.4 386.2h1.4v1.52h-1.4zM237.7 386.2h1.4v1.52h-1.4zM244.4 386.2h5.4v1.52h-5.4zM252.3 386.2h1.4v1.52h-1.4zM263.0 386.2h1.4v1.52h-1.4zM267.0 386.2h2.7v1.52h-2.7zM275.0 386.2h1.4v1.52h-1.4zM296.3 386.2h1.4v1.52h-1.4zM263.0 387.7h2.7v1.52h-2.7zM269.7 387.7h2.7v1.52h-2.7zM276.3 387.7h4.0v1.52h-4.0zM293.6 387.7h1.4v1.52h-1.4zM298.9 387.7h2.7v1.52h-2.7zM257.7 389.1h1.4v1.52h-1.4zM268.3 389.1h1.4v1.52h-1.4zM272.3 389.1h1.4v1.52h-1.4zM300.3 389.1h1.4v1.52h-1.4z"/>
<path fill="rgb(36,157,208)" d="M197.8 236.7h9.4v1.52h-9.4zM236.4 236.7h1.4v1.52h-1.4zM243.0 236.7h2.7v1.52h-2.7zM257.7 236.7h1.4v1.52h-1.4zM264.3 236.7h1.4v1.52h-1.4zM267.0 236.7h1.4v1.52h-1.4zM273.6 236.7h1.4v1.52h-1.4zM193.8 239.6h1.4v1.52h-1.4zM267.0 239.6h1.4v1.52h-1.4zM269.7 239.6h1.4v1.52h-1.4zM275.0 239.6h1.4v1.52h-1.4zM199.1 241.1h2.7v1.52h-2.7zM255.0 241.1h1.4v1.52h-1.4zM184.5 242.6h1.4v1.52h-1.4zM241.7 242.6h2.7v1.52h-2.7zM247.0 242.6h2.7v1.52h-2.7zM256.3 242.6h2.7v1.52h-2.7zM260.3 242.6h2.7v1.52h-2.7zM185.8 244.0h1.4v1.52h-1.4zM215.1 244.0h4.0v1.52h-4.0zM285.6 244.0h2.7v1.52h-2.7zM192.4 245.5h5.4v1.52h-5.4zM240.4 245.5h2.7v1.52h-2.7zM249.7 245.5h1.4v1.52h-1.4zM267.0 245.5h1.4v1.52h-1.4zM272.3 245.5h1.4v1.52h-1.4zM273.6 247.0h2.7v1.52h-2.7zM280.3 247.0h1.4v1.52h-1.4zM285.6 247.0h2.7v1.52h-2.7zM185.8 248.4h1.4v1.52h-1.4zM212.4 248.4h1.4v1.52h-1.4zM232.4 248.4h1.4v1.52h-1.4zM240.4 248.4h6.7v1.52h-6.7zM251.0 248.4h1.4v1.52h-1.4zM263.0 248.4h1.4v1.52h-1.4zM197.8 249.9h2.7v1.52h-2.7zM211.1 249.9h1.4v1.52h-1.4zM248.4 249.9h1.4v1.52h-1.4zM259.0 249.9h1.4v1.52h-1.4zM277.6 249.9h1.4v1.52h-1.4zM294.9 249.9h2.7v1.52h-2.7zM187.1 251.4h1.4v1.52h-1.4zM235.0 251.4h1.4v1.52h-1.4zM239.0 251.4h1.4v1.52h-1.4zM241.7 251.4h2.7v1.52h-2.7zM247.0 251.4h1.4v1.52h-1.4zM256.3 251.4h2.7v1.52h-2.7zM260.3 251.4h1.4v1.52h-1.4zM275.0 251.4h4.0v1.52h-4.0zM285.6 251.4h2.7v1.52h-2.7zM188.4 252.8h4.0v1.52h-4.0zM199.1 252.8h4.0v1.52h-4.0zM195.1 254.3h1.4v1.52h-1.4zM199.1 254.3h1.4v1.52h-1.4zM201.8 254.3h1.4v1.52h-1.4zM204.4 254.3h2.7v1.52h-2.7zM209.7 254.3h6.7v1.52h-6.7zM217.7 254.3h2.7v1.52h-2.7zM229.7 254.3h4.0v1.52h-4.0zM244.4 254.3h1.4v1.52h-1.4zM249.7 254.3h2.7v1.52h-2.7zM253.7 254.3h2.7v1.52h-2.7zM259.0 254.3h1.4v1.52h-1.4zM263.0 254.3h1.4v1.52h-1.4zM268.3 254.3h1.4v1.52h-1.4zM283.0 254.3h5.4v1.52h-5.4zM289.6 254.3h1.4v1.52h-1.4zM293.6 254.3h1.4v1.52h-1.4zM188.4 255.8h4.0v1.52h-4.0zM256.3 255.8h1.4v1.52h-1.4zM261.7 255.8h1.4v1.52h-1.4zM265.7 255.8h1.4v1.52h-1.4zM271.0 255.8h1.4v1.52h-1.4zM275.0 255.8h1.4v1.52h-1.4zM196.4 257.2h1.4v1.52h-1.4zM208.4 257.2h1.4v1.52h-1.4zM212.4 257.2h1.4v1.52h-1.4zM221.7 257.2h4.0v1.52h-4.0zM189.8 258.7h1.4v1.52h-1.4zM199.1 258.7h1.4v1.52h-1.4zM221.7 258.7h4.0v1.52h-4.0zM233.7 258.7h1.4v1.52h-1.4zM237.7 258.7h4.0v1.52h-4.0zM185.8 260.2h1.4v1.52h-1.4zM209.7 260.2h1.4v1.52h-1.4zM217.7 260.2h2.7v1.52h-2.7zM227.1 260.2h1.4v1.52h-1.4zM229.7 260.2h1.4v1.52h-1.4zM245.7 260.2h1.4v1.52h-1.4zM264.3 260.2h2.7v1.52h-2.7zM269.7 260.2h2.7v1.52h-2.7zM276.3 260.2h2.7v1.52h-2.7zM281.6 260.2h4.0v1.52h-4.0zM289.6 260.2h5.4v1.52h-5.4zM298.9 260.2h2.7v1.52h-2.7zM188.4 261.6h1.4v1.52h-1.4zM191.1 261.6h1.4v1.52h-1.4zM268.3 261.6h1.4v1.52h-1.4zM285.6 261.6h4.0v1.52h-4.0zM293.6 261.6h4.0v1.52h-4.0zM192.4 263.1h1.4v1.52h-1.4zM201.8 263.1h1.4v1.52h-1.4zM256.3 263.1h1.4v1.52h-1.4zM264.3 263.1h1.4v1.52h-1.4zM281.6 263.1h1.4v1.52h-1.4zM193.8 264.5h1.4v1.52h-1.4zM201.8 264.5h4.0v1.52h-4.0zM207.1 264.5h1.4v1.52h-1.4zM216.4 264.5h2.7v1.52h-2.7zM229.7 264.5h1.4v1.52h-1.4zM244.4 264.5h1.4v1.52h-1.4zM247.0 264.5h1.4v1.52h-1.4zM251.0 264.5h1.4v1.52h-1.4zM272.3 264.5h4.0v1.52h-4.0zM291.0 264.5h1.4v1.52h-1.4zM195.1 266.0h1.4v1.52h-1.4zM260.3 266.0h1.4v1.52h-1.4zM285.6 266.0h1.4v1.52h-1.4zM203.1 267.5h1.4v1.52h-1.4zM212.4 267.5h2.7v1.52h-2.7zM216.4 267.5h1.4v1.52h-1.4zM219.1 267.5h1.4v1.52h-1.4zM229.7 267.5h2.7v1.52h-2.7zM261.7 267.5h1.4v1.52h-1.4zM268.3 267.5h2.7v1.52h-2.7zM211.1 268.9h1.4v1.52h-1.4zM224.4 268.9h1.4v1.52h-1.4zM232.4 268.9h1.4v1.52h-1.4zM257.7 268.9h1.4v1.52h-1.4zM267.0 268.9h1.4v1.52h-1.4zM271.0 268.9h1.4v1.52h-1.4zM280.3 268.9h1.4v1.52h-1.4zM207.1 270.4h8.0v1.52h-8.0zM203.1 271.9h1.4v1.52h-1.4zM204.4 273.3h1.4v1.52h-1.4zM244.4 273.3h1.4v1.52h-1.4zM249.7 273.3h1.4v1.52h-1.4zM259.0 273.3h2.7v1.52h-2.7zM264.3 273.3h2.7v1.52h-2.7zM272.3 273.3h2.7v1.52h-2.7zM279.0 273.3h1.4v1.52h-1.4zM281.6 273.3h1.4v1.52h-1.4zM229.7 274.8h4.0v1.52h-4.0zM236.4 274.8h4.0v1.52h-4.0zM245.7 274.8h2.7v1.52h-2.7zM261.7 274.8h1.4v1.52h-1.4zM269.7 274.8h1.4v1.52h-1.4zM283.0 274.8h2.7v1.52h-2.7zM287.0 274.8h1.4v1.52h-1.4zM293.6 274.8h1.4v1.52h-1.4zM241.7 276.3h1.4v1.52h-1.4zM209.7 277.7h2.7v1.52h-2.7zM233.7 277.7h2.7v1.52h-2.7zM251.0 277.7h1.4v1.52h-1.4zM261.7 277.7h2.7v1.52h-2.7zM191.1 279.2h1.4v1.52h-1.4zM193.8 279.2h1.4v1.52h-1.4zM208.4 279.2h1.4v1.52h-1.4zM213.7 279.2h1.4v1.52h-1.4zM231.0 279.2h1.4v1.52h-1.4zM192.4 280.7h1.4v1.52h-1.4zM197.8 280.7h1.4v1.52h-1.4zM213.7 280.7h1.4v1.52h-1.4zM216.4 280.7h2.7v1.52h-2.7zM223.1 280.7h1.4v1.52h-1.4zM228.4 282.1h2.7v1.52h-2.7zM228.4 283.6h4.0v1.52h-4.0zM244.4 283.6h1.4v1.52h-1.4zM247.0 283.6h1.4v1.52h-1.4zM259.0 283.6h2.7v1.52h-2.7zM265.7 283.6h6.7v1.52h-6.7zM280.3 283.6h2.7v1.52h-2.7zM284.3 283.6h1.4v1.52h-1.4zM287.0 283.6h1.4v1.52h-1.4zM289.6 283.6h4.0v1.52h-4.0zM300.3 283.6h1.4v1.52h-1.4zM224.4 285.1h1.4v1.52h-1.4zM236.4 285.1h2.7v1.52h-2.7zM244.4 285.1h1.4v1.52h-1.4zM248.4 285.1h1.4v1.52h-1.4zM253.7 285.1h2.7v1.52h-2.7zM259.0 285.1h1.4v1.52h-1.4zM268.3 285.1h1.4v1.52h-1.4zM271.0 285.1h1.4v1.52h-1.4zM275.0 285.1h1.4v1.52h-1.4zM277.6 285.1h1.4v1.52h-1.4zM281.6 285.1h1.4v1.52h-1.4zM287.0 285.1h2.7v1.52h-2.7zM208.4 286.5h2.7v1.52h-2.7zM217.7 286.5h1.4v1.52h-1.4zM221.7 286.5h1.4v1.52h-1.4zM235.0 286.5h2.7v1.52h-2.7zM241.7 286.5h2.7v1.52h-2.7zM249.7 286.5h1.4v1.52h-1.4zM255.0 286.5h4.0v1.52h-4.0zM260.3 286.5h2.7v1.52h-2.7zM264.3 286.5h2.7v1.52h-2.7zM268.3 286.5h2.7v1.52h-2.7zM277.6 286.5h4.0v1.52h-4.0zM235.0 288.0h2.7v1.52h-2.7zM252.3 288.0h2.7v1.52h-2.7zM259.0 288.0h1.4v1.52h-1.4zM268.3 288.0h1.4v1.52h-1.4zM271.0 288.0h1.4v1.52h-1.4zM245.7 289.5h1.4v1.52h-1.4zM249.7 289.5h1.4v1.52h-1.4zM259.0 289.5h2.7v1.52h-2.7zM195.1 290.9h4.0v1.52h-4.0zM201.8 290.9h1.4v1.52h-1.4zM225.7 290.9h1.4v1.52h-1.4zM243.0 290.9h1.4v1.52h-1.4zM247.0 290.9h1.4v1.52h-1.4zM252.3 290.9h1.4v1.52h-1.4zM255.0 290.9h2.7v1.52h-2.7zM275.0 290.9h1.4v1.52h-1.4zM277.6 290.9h1.4v1.52h-1.4zM235.0 292.4h1.4v1.52h-1.4zM259.0 292.4h1.4v1.52h-1.4zM261.7 292.4h1.4v1.52h-1.4zM271.0 292.4h1.4v1.52h-1.4zM277.6 292.4h2.7v1.52h-2.7zM240.4 293.9h1.4v1.52h-1.4zM184.5 295.3h1.4v1.52h-1.4zM225.7 295.3h1.4v1.52h-1.4zM237.7 295.3h5.4v1.52h-5.4zM245.7 295.3h1.4v1.52h-1.4zM252.3 295.3h1.4v1.52h-1.4zM256.3 295.3h1.4v1.52h-1.4zM263.0 295.3h2.7v1.52h-2.7zM268.3 295.3h1.4v1.52h-1.4zM227.1 296.8h1.4v1.52h-1.4zM251.0 296.8h1.4v1.52h-1.4zM253.7 296.8h4.0v1.52h-4.0zM260.3 296.8h1.4v1.52h-1.4zM264.3 296.8h1.4v1.52h-1.4zM267.0 296.8h8.0v1.52h-8.0zM281.6 296.8h2.7v1.52h-2.7zM285.6 296.8h2.7v1.52h-2.7zM289.6 296.8h1.4v1.52h-1.4zM294.9 296.8h1.4v1.52h-1.4zM231.0 298.3h4.0v1.52h-4.0zM237.7 298.3h4.0v1.52h-4.0zM245.7 298.3h1.4v1.52h-1.4zM251.0 298.3h1.4v1.52h-1.4zM255.0 298.3h1.4v1.52h-1.4zM259.0 298.3h2.7v1.52h-2.7zM272.3 298.3h2.7v1.52h-2.7zM287.0 298.3h2.7v1.52h-2.7zM294.9 298.3h1.4v1.52h-1.4zM229.7 299.7h1.4v1.52h-1.4zM236.4 299.7h1.4v1.52h-1.4zM241.7 299.7h1.4v1.52h-1.4zM196.4 302.7h1.4v1.52h-1.4zM241.7 304.1h1.4v1.52h-1.4zM220.4 305.6h2.7v1.52h-2.7zM235.0 305.6h1.4v1.52h-1.4zM208.4 307.1h1.4v1.52h-1.4zM215.1 307.1h1.4v1.52h-1.4zM217.7 307.1h1.4v1.52h-1.4zM220.4 307.1h1.4v1.52h-1.4zM223.1 307.1h4.0v1.52h-4.0zM235.0 307.1h1.4v1.52h-1.4zM252.3 307.1h1.4v1.52h-1.4zM256.3 307.1h1.4v1.52h-1.4zM271.0 307.1h1.4v1.52h-1.4zM277.6 307.1h1.4v1.52h-1.4zM245.7 308.5h1.4v1.52h-1.4zM251.0 308.5h1.4v1.52h-1.4zM265.7 308.5h1.4v1.52h-1.4zM281.6 308.5h2.7v1.52h-2.7zM288.3 308.5h4.0v1.52h-4.0zM185.8 310.0h1.4v1.52h-1.4zM291.0 310.0h1.4v1.52h-1.4zM293.6 310.0h1.4v1.52h-1.4zM300.3 310.0h1.4v1.52h-1.4zM228.4 311.5h2.7v1.52h-2.7zM267.0 312.9h1.4v1.52h-1.4zM276.3 312.9h1.4v1.52h-1.4zM239.0 314.4h1.4v1.52h-1.4zM255.0 314.4h1.4v1.52h-1.4zM189.8 315.8h1.4v1.52h-1.4zM193.8 315.8h1.4v1.52h-1.4zM197.8 315.8h1.4v1.52h-1.4zM204.4 315.8h1.4v1.52h-1.4zM209.7 315.8h1.4v1.52h-1.4zM215.1 315.8h1.4v1.52h-1.4zM220.4 315.8h5.4v1.52h-5.4zM228.4 315.8h1.4v1.52h-1.4zM239.0 315.8h1.4v1.52h-1.4zM244.4 315.8h1.4v1.52h-1.4zM255.0 315.8h1.4v1.52h-1.4zM259.0 315.8h1.4v1.52h-1.4zM264.3 315.8h1.4v1.52h-1.4zM267.0 315.8h1.4v1.52h-1.4zM271.0 315.8h1.4v1.52h-1.4zM275.0 315.8h1.4v1.52h-1.4zM279.0 315.8h1.4v1.52h-1.4zM283.0 315.8h1.4v1.52h-1.4zM288.3 315.8h2.7v1.52h-2.7zM185.8 317.3h1.4v1.52h-1.4zM188.4 317.3h2.7v1.52h-2.7zM201.8 317.3h2.7v1.52h-2.7zM207.1 317.3h2.7v1.52h-2.7zM215.1 317.3h2.7v1.52h-2.7zM231.0 317.3h1.4v1.52h-1.4zM241.7 317.3h1.4v1.52h-1.4zM260.3 317.3h2.7v1.52h-2.7zM265.7 317.3h1.4v1.52h-1.4zM235.0 318.8h2.7v1.52h-2.7zM248.4 318.8h1.4v1.52h-1.4zM227.1 320.2h2.7v1.52h-2.7zM236.4 320.2h2.7v1.52h-2.7zM261.7 320.2h1.4v1.52h-1.4zM267.0 320.2h4.0v1.52h-4.0zM272.3 320.2h1.4v1.52h-1.4zM276.3 320.2h1.4v1.52h-1.4zM245.7 321.7h2.7v1.52h-2.7zM209.7 323.2h2.7v1.52h-2.7zM217.7 323.2h1.4v1.52h-1.4zM240.4 323.2h1.4v1.52h-1.4zM257.7 323.2h1.4v1.52h-1.4zM211.1 324.6h1.4v1.52h-1.4zM213.7 324.6h1.4v1.52h-1.4zM223.1 324.6h1.4v1.52h-1.4zM229.7 324.6h1.4v1.52h-1.4zM232.4 324.6h1.4v1.52h-1.4zM243.0 324.6h1.4v1.52h-1.4zM212.4 326.1h1.4v1.52h-1.4zM216.4 326.1h1.4v1.52h-1.4zM231.0 326.1h1.4v1.52h-1.4zM235.0 326.1h2.7v1.52h-2.7zM239.0 326.1h1.4v1.52h-1.4zM241.7 326.1h1.4v1.52h-1.4zM261.7 326.1h2.7v1.52h-2.7zM269.7 326.1h9.4v1.52h-9.4zM293.6 326.1h2.7v1.52h-2.7zM298.9 326.1h1.4v1.52h-1.4zM260.3 327.6h9.4v1.52h-9.4zM280.3 327.6h1.4v1.52h-1.4zM241.7 329.0h1.4v1.52h-1.4zM247.0 329.0h1.4v1.52h-1.4zM256.3 329.0h1.4v1.52h-1.4zM185.8 332.0h1.4v1.52h-1.4zM204.4 332.0h2.7v1.52h-2.7zM209.7 332.0h2.7v1.52h-2.7zM245.7 332.0h2.7v1.52h-2.7zM215.1 333.4h1.4v1.52h-1.4zM221.7 333.4h1.4v1.52h-1.4zM225.7 333.4h5.4v1.52h-5.4zM235.0 333.4h2.7v1.52h-2.7zM245.7 333.4h1.4v1.52h-1.4zM252.3 333.4h1.4v1.52h-1.4zM261.7 333.4h1.4v1.52h-1.4zM267.0 333.4h1.4v1.52h-1.4zM271.0 333.4h1.4v1.52h-1.4zM279.0 333.4h1.4v1.52h-1.4zM288.3 333.4h2.7v1.52h-2.7zM241.7 334.9h1.4v1.52h-1.4zM248.4 334.9h1.4v1.52h-1.4zM252.3 334.9h2.7v1.52h-2.7zM261.7 334.9h1.4v1.52h-1.4zM195.1 336.4h1.4v1.52h-1.4zM197.8 336.4h1.4v1.52h-1.4zM205.8 336.4h1.4v1.52h-1.4zM213.7 336.4h1.4v1.52h-1.4zM217.7 336.4h2.7v1.52h-2.7zM229.7 336.4h1.4v1.52h-1.4zM233.7 336.4h1.4v1.52h-1.4zM253.7 336.4h1.4v1.52h-1.4zM261.7 336.4h6.7v1.52h-6.7zM191.1 337.8h4.0v1.52h-4.0zM197.8 337.8h5.4v1.52h-5.4zM213.7 337.8h4.0v1.52h-4.0zM220.4 337.8h1.4v1.52h-1.4zM229.7 337.8h1.4v1.52h-1.4zM294.9 337.8h1.4v1.52h-1.4zM300.3 337.8h1.4v1.52h-1.4zM204.4 339.3h1.4v1.52h-1.4zM209.7 339.3h4.0v1.52h-4.0zM225.7 339.3h2.7v1.52h-2.7zM231.0 339.3h5.4v1.52h-5.4zM239.0 339.3h1.4v1.52h-1.4zM248.4 339.3h1.4v1.52h-1.4zM251.0 339.3h1.4v1.52h-1.4zM265.7 339.3h5.4v1.52h-5.4zM273.6 339.3h2.7v1.52h-2.7zM265.7 340.8h1.4v1.52h-1.4zM269.7 340.8h1.4v1.52h-1.4zM195.1 342.2h1.4v1.52h-1.4zM253.7 343.7h1.4v1.52h-1.4zM265.7 343.7h1.4v1.52h-1.4zM275.0 343.7h4.0v1.52h-4.0zM284.3 343.7h2.7v1.52h-2.7zM213.7 345.2h2.7v1.52h-2.7zM225.7 345.2h4.0v1.52h-4.0zM243.0 345.2h2.7v1.52h-2.7zM268.3 345.2h2.7v1.52h-2.7zM287.0 345.2h6.7v1.52h-6.7zM294.9 345.2h4.0v1.52h-4.0zM185.8 346.6h4.0v1.52h-4.0zM195.1 346.6h4.0v1.52h-4.0zM201.8 346.6h2.7v1.52h-2.7zM235.0 346.6h4.0v1.52h-4.0zM240.4 346.6h6.7v1.52h-6.7zM261.7 346.6h2.7v1.52h-2.7zM280.3 346.6h2.7v1.52h-2.7zM285.6 346.6h1.4v1.52h-1.4zM289.6 346.6h1.4v1.52h-1.4zM293.6 346.6h4.0v1.52h-4.0zM224.4 348.1h1.4v1.52h-1.4zM229.7 348.1h1.4v1.52h-1.4zM236.4 348.1h6.7v1.52h-6.7zM249.7 348.1h2.7v1.52h-2.7zM255.0 348.1h1.4v1.52h-1.4zM260.3 348.1h1.4v1.52h-1.4zM265.7 348.1h1.4v1.52h-1.4zM219.1 349.6h1.4v1.52h-1.4zM223.1 349.6h2.7v1.52h-2.7zM229.7 349.6h1.4v1.52h-1.4zM232.4 349.6h1.4v1.52h-1.4zM236.4 349.6h1.4v1.52h-1.4zM239.0 349.6h1.4v1.52h-1.4zM256.3 349.6h2.7v1.52h-2.7zM267.0 349.6h1.4v1.52h-1.4zM271.0 349.6h4.0v1.52h-4.0zM189.8 351.0h4.0v1.52h-4.0zM199.1 351.0h1.4v1.52h-1.4zM204.4 351.0h1.4v1.52h-1.4zM207.1 351.0h1.4v1.52h-1.4zM215.1 351.0h1.4v1.52h-1.4zM223.1 351.0h1.4v1.52h-1.4zM261.7 351.0h1.4v1.52h-1.4zM267.0 351.0h1.4v1.52h-1.4zM271.0 351.0h1.4v1.52h-1.4zM185.8 352.5h2.7v1.52h-2.7zM192.4 352.5h1.4v1.52h-1.4zM197.8 352.5h2.7v1.52h-2.7zM201.8 352.5h2.7v1.52h-2.7zM205.8 352.5h1.4v1.52h-1.4zM212.4 352.5h1.4v1.52h-1.4zM215.1 352.5h18.7v1.52h-18.7zM240.4 352.5h4.0v1.52h-4.0zM249.7 352.5h5.4v1.52h-5.4zM277.6 352.5h5.4v1.52h-5.4zM287.0 352.5h4.0v1.52h-4.0zM297.6 352.5h1.4v1.52h-1.4zM247.0 354.0h2.7v1.52h-2.7zM257.7 354.0h1.4v1.52h-1.4zM260.3 354.0h1.4v1.52h-1.4zM264.3 354.0h2.7v1.52h-2.7zM272.3 354.0h1.4v1.52h-1.4zM232.4 355.4h1.4v1.52h-1.4zM237.7 355.4h1.4v1.52h-1.4zM244.4 355.4h2.7v1.52h-2.7zM264.3 355.4h2.7v1.52h-2.7zM268.3 355.4h1.4v1.52h-1.4zM272.3 355.4h1.4v1.52h-1.4zM275.0 355.4h1.4v1.52h-1.4zM279.0 355.4h1.4v1.52h-1.4zM233.7 358.4h1.4v1.52h-1.4zM236.4 358.4h1.4v1.52h-1.4zM247.0 358.4h1.4v1.52h-1.4zM259.0 358.4h1.4v1.52h-1.4zM265.7 358.4h1.4v1.52h-1.4zM185.8 359.8h1.4v1.52h-1.4zM189.8 359.8h2.7v1.52h-2.7zM196.4 359.8h6.7v1.52h-6.7zM205.8 359.8h2.7v1.52h-2.7zM227.1 359.8h1.4v1.52h-1.4zM229.7 359.8h4.0v1.52h-4.0zM260.3 359.8h2.7v1.52h-2.7zM277.6 359.8h2.7v1.52h-2.7zM284.3 359.8h1.4v1.52h-1.4zM199.1 361.3h1.4v1.52h-1.4zM207.1 361.3h2.7v1.52h-2.7zM216.4 361.3h1.4v1.52h-1.4zM235.0 361.3h2.7v1.52h-2.7zM243.0 362.8h2.7v1.52h-2.7zM273.6 362.8h1.4v1.52h-1.4zM281.6 362.8h2.7v1.52h-2.7zM220.4 364.2h2.7v1.52h-2.7zM225.7 364.2h2.7v1.52h-2.7zM229.7 364.2h2.7v1.52h-2.7zM243.0 364.2h2.7v1.52h-2.7zM261.7 364.2h1.4v1.52h-1.4zM267.0 364.2h2.7v1.52h-2.7zM273.6 364.2h1.4v1.52h-1.4zM287.0 364.2h5.4v1.52h-5.4zM204.4 365.7h1.4v1.52h-1.4zM217.7 365.7h1.4v1.52h-1.4zM220.4 365.7h1.4v1.52h-1.4zM245.7 365.7h1.4v1.52h-1.4zM253.7 365.7h1.4v1.52h-1.4zM289.6 365.7h4.0v1.52h-4.0zM249.7 367.1h2.7v1.52h-2.7zM259.0 367.1h1.4v1.52h-1.4zM261.7 367.1h1.4v1.52h-1.4zM267.0 367.1h2.7v1.52h-2.7zM272.3 367.1h2.7v1.52h-2.7zM279.0 367.1h1.4v1.52h-1.4zM294.9 367.1h2.7v1.52h-2.7zM239.0 368.6h1.4v1.52h-1.4zM249.7 368.6h1.4v1.52h-1.4zM294.9 368.6h1.4v1.52h-1.4zM188.4 370.1h1.4v1.52h-1.4zM192.4 370.1h1.4v1.52h-1.4zM196.4 370.1h1.4v1.52h-1.4zM225.7 370.1h4.0v1.52h-4.0zM264.3 371.5h2.7v1.52h-2.7zM275.0 371.5h1.4v1.52h-1.4zM280.3 371.5h1.4v1.52h-1.4zM267.0 373.0h1.4v1.52h-1.4zM249.7 377.4h1.4v1.52h-1.4zM255.0 377.4h2.7v1.52h-2.7zM273.6 377.4h1.4v1.52h-1.4zM276.3 377.4h1.4v1.52h-1.4zM279.0 377.4h1.4v1.52h-1.4zM283.0 377.4h2.7v1.52h-2.7zM287.0 377.4h2.7v1.52h-2.7zM293.6 377.4h1.4v1.52h-1.4zM297.6 377.4h1.4v1.52h-1.4zM221.7 378.9h2.7v1.52h-2.7zM263.0 378.9h2.7v1.52h-2.7zM292.3 378.9h2.7v1.52h-2.7zM251.0 380.3h2.7v1.52h-2.7zM261.7 380.3h2.7v1.52h-2.7zM265.7 380.3h1.4v1.52h-1.4zM269.7 380.3h1.4v1.52h-1.4zM272.3 380.3h1.4v1.52h-1.4zM283.0 380.3h1.4v1.52h-1.4zM293.6 381.8h1.4v1.52h-1.4zM296.3 383.3h1.4v1.52h-1.4zM298.9 383.3h1.4v1.52h-1.4zM199.1 384.7h2.7v1.52h-2.7zM256.3 384.7h2.7v1.52h-2.7zM268.3 384.7h2.7v1.52h-2.7zM300.3 384.7h1.4v1.52h-1.4zM227.1 386.2h1.4v1.52h-1.4zM229.7 386.2h8.0v1.52h-8.0zM239.0 386.2h1.4v1.52h-1.4zM243.0 386.2h1.4v1.52h-1.4zM255.0 386.2h1.4v1.52h-1.4zM264.3 386.2h2.7v1.52h-2.7zM271.0 386.2h1.4v1.52h-1.4zM297.6 386.2h1.4v1.52h-1.4zM300.3 386.2h1.4v1.52h-1.4zM256.3 387.7h1.4v1.52h-1.4zM261.7 387.7h1.4v1.52h-1.4zM280.3 387.7h1.4v1.52h-1.4zM294.9 387.7h1.4v1.52h-1.4zM297.6 387.7h1.4v1.52h-1.4zM247.0 389.1h2.7v1.52h-2.7zM252.3 389.1h2.7v1.52h-2.7zM259.0 389.1h1.4v1.52h-1.4z"/>
<path fill="rgb(33,178,194)" d="M185.8 236.7h1.4v1.52h-1.4zM196.4 236.7h1.4v1.52h-1.4zM237.7 236.7h4.0v1.52h-4.0zM248.4 236.7h1.4v1.52h-1.4zM256.3 236.7h1.4v1.52h-1.4zM189.8 238.2h1.4v1.52h-1.4zM257.7 239.6h1.4v1.52h-1.4zM265.7 239.6h1.4v1.52h-1.4zM271.0 239.6h4.0v1.52h-4.0zM184.5 241.1h1.4v1.52h-1.4zM192.4 241.1h2.7v1.52h-2.7zM197.8 241.1h1.4v1.52h-1.4zM239.0 241.1h1.4v1.52h-1.4zM243.0 241.1h1.4v1.52h-1.4zM252.3 241.1h1.4v1.52h-1.4zM237.7 242.6h1.4v1.52h-1.4zM208.4 244.0h4.0v1.52h-4.0zM213.7 244.0h1.4v1.52h-1.4zM219.1 244.0h12.0v1.52h-12.0zM245.7 244.0h4.0v1.52h-4.0zM251.0 244.0h8.0v1.52h-8.0zM261.7 244.0h5.4v1.52h-5.4zM268.3 244.0h6.7v1.52h-6.7zM281.6 244.0h4.0v1.52h-4.0zM288.3 244.0h4.0v1.52h-4.0zM191.1 245.5h1.4v1.52h-1.4zM239.0 245.5h1.4v1.52h-1.4zM268.3 245.5h4.0v1.52h-4.0zM187.1 247.0h1.4v1.52h-1.4zM197.8 248.4h6.7v1.52h-6.7zM205.8 248.4h6.7v1.52h-6.7zM213.7 248.4h1.4v1.52h-1.4zM231.0 248.4h1.4v1.52h-1.4zM233.7 248.4h2.7v1.52h-2.7zM239.0 248.4h1.4v1.52h-1.4zM247.0 248.4h4.0v1.52h-4.0zM252.3 248.4h2.7v1.52h-2.7zM257.7 248.4h1.4v1.52h-1.4zM261.7 248.4h1.4v1.52h-1.4zM264.3 248.4h1.4v1.52h-1.4zM267.0 248.4h6.7v1.52h-6.7zM276.3 248.4h2.7v1.52h-2.7zM281.6 248.4h2.7v1.52h-2.7zM288.3 248.4h1.4v1.52h-1.4zM297.6 248.4h4.0v1.52h-4.0zM196.4 249.9h1.4v1.52h-1.4zM200.4 249.9h1.4v1.52h-1.4zM204.4 249.9h1.4v1.52h-1.4zM209.7 249.9h1.4v1.52h-1.4zM212.4 249.9h4.0v1.52h-4.0zM223.1 249.9h5.4v1.52h-5.4zM232.4 249.9h2.7v1.52h-2.7zM236.4 249.9h1.4v1.52h-1.4zM241.7 249.9h2.7v1.52h-2.7zM247.0 249.9h1.4v1.52h-1.4zM249.7 249.9h1.4v1.52h-1.4zM257.7 249.9h1.4v1.52h-1.4zM260.3 249.9h1.4v1.52h-1.4zM265.7 249.9h1.4v1.52h-1.4zM273.6 249.9h1.4v1.52h-1.4zM276.3 249.9h1.4v1.52h-1.4zM279.0 249.9h1.4v1.52h-1.4zM288.3 249.9h6.7v1.52h-6.7zM297.6 249.9h2.7v1.52h-2.7zM188.4 251.4h1.4v1.52h-1.4zM193.8 251.4h1.4v1.52h-1.4zM236.4 251.4h2.7v1.52h-2.7zM261.7 251.4h1.4v1.52h-1.4zM272.3 251.4h1.4v1.52h-1.4zM197.8 252.8h1.4v1.52h-1.4zM196.4 254.3h2.7v1.52h-2.7zM203.1 254.3h1.4v1.52h-1.4zM207.1 254.3h2.7v1.52h-2.7zM216.4 254.3h1.4v1.52h-1.4zM224.4 254.3h1.4v1.52h-1.4zM228.4 254.3h1.4v1.52h-1.4zM248.4 254.3h1.4v1.52h-1.4zM260.3 254.3h2.7v1.52h-2.7zM267.0 254.3h1.4v1.52h-1.4zM271.0 254.3h1.4v1.52h-1.4zM291.0 254.3h2.7v1.52h-2.7zM263.0 255.8h2.7v1.52h-2.7zM276.3 255.8h1.4v1.52h-1.4zM191.1 257.2h1.4v1.52h-1.4zM195.1 257.2h1.4v1.52h-1.4zM197.8 257.2h1.4v1.52h-1.4zM200.4 257.2h1.4v1.52h-1.4zM209.7 257.2h1.4v1.52h-1.4zM225.7 257.2h4.0v1.52h-4.0zM220.4 258.7h1.4v1.52h-1.4zM235.0 258.7h2.7v1.52h-2.7zM187.1 260.2h1.4v1.52h-1.4zM191.1 260.2h1.4v1.52h-1.4zM200.4 260.2h9.4v1.52h-9.4zM211.1 260.2h6.7v1.52h-6.7zM220.4 260.2h1.4v1.52h-1.4zM225.7 260.2h1.4v1.52h-1.4zM228.4 260.2h1.4v1.52h-1.4zM231.0 260.2h1.4v1.52h-1.4zM244.4 260.2h1.4v1.52h-1.4zM247.0 260.2h4.0v1.52h-4.0zM255.0 260.2h6.7v1.52h-6.7zM267.0 260.2h2.7v1.52h-2.7zM272.3 260.2h1.4v1.52h-1.4zM275.0 260.2h1.4v1.52h-1.4zM285.6 260.2h4.0v1.52h-4.0zM294.9 260.2h1.4v1.52h-1.4zM297.6 260.2h1.4v1.52h-1.4zM185.8 261.6h1.4v1.52h-1.4zM205.8 261.6h2.7v1.52h-2.7zM213.7 261.6h9.4v1.52h-9.4zM228.4 261.6h1.4v1.52h-1.4zM244.4 261.6h6.7v1.52h-6.7zM252.3 261.6h8.0v1.52h-8.0zM267.0 261.6h1.4v1.52h-1.4zM275.0 261.6h2.7v1.52h-2.7zM280.3 261.6h1.4v1.52h-1.4zM284.3 261.6h1.4v1.52h-1.4zM292.3 261.6h1.4v1.52h-1.4zM297.6 261.6h4.0v1.52h-4.0zM200.4 263.1h1.4v1.52h-1.4zM248.4 263.1h1.4v1.52h-1.4zM276.3 263.1h1.4v1.52h-1.4zM283.0 263.1h1.4v1.52h-1.4zM288.3 263.1h1.4v1.52h-1.4zM232.4 264.5h1.4v1.52h-1.4zM245.7 264.5h1.4v1.52h-1.4zM267.0 264.5h1.4v1.52h-1.4zM276.3 264.5h1.4v1.52h-1.4zM280.3 264.5h1.4v1.52h-1.4zM296.3 264.5h2.7v1.52h-2.7zM196.4 266.0h1.4v1.52h-1.4zM217.7 267.5h1.4v1.52h-1.4zM207.1 268.9h1.4v1.52h-1.4zM209.7 268.9h1.4v1.52h-1.4zM260.3 268.9h1.4v1.52h-1.4zM269.7 268.9h1.4v1.52h-1.4zM205.8 270.4h1.4v1.52h-1.4zM211.1 273.3h2.7v1.52h-2.7zM217.7 273.3h1.4v1.52h-1.4zM245.7 273.3h4.0v1.52h-4.0zM276.3 273.3h2.7v1.52h-2.7zM215.1 274.8h1.4v1.52h-1.4zM228.4 274.8h1.4v1.52h-1.4zM251.0 274.8h1.4v1.52h-1.4zM257.7 274.8h1.4v1.52h-1.4zM265.7 274.8h1.4v1.52h-1.4zM291.0 274.8h1.4v1.52h-1.4zM294.9 274.8h1.4v1.52h-1.4zM185.8 276.3h1.4v1.52h-1.4zM199.1 276.3h5.4v1.52h-5.4zM208.4 276.3h1.4v1.52h-1.4zM240.4 276.3h1.4v1.52h-1.4zM212.4 277.7h1.4v1.52h-1.4zM231.0 277.7h2.7v1.52h-2.7zM192.4 279.2h1.4v1.52h-1.4zM215.1 279.2h2.7v1.52h-2.7zM228.4 279.2h2.7v1.52h-2.7zM267.0 279.2h1.4v1.52h-1.4zM275.0 279.2h1.4v1.52h-1.4zM280.3 279.2h2.7v1.52h-2.7zM217.7 282.1h1.4v1.52h-1.4zM221.7 283.6h1.4v1.52h-1.4zM232.4 283.6h1.4v1.52h-1.4zM236.4 283.6h8.0v1.52h-8.0zM248.4 283.6h1.4v1.52h-1.4zM256.3 283.6h2.7v1.52h-2.7zM261.7 283.6h1.4v1.52h-1.4zM264.3 283.6h1.4v1.52h-1.4zM272.3 283.6h4.0v1.52h-4.0zM279.0 283.6h1.4v1.52h-1.4zM283.0 283.6h1.4v1.52h-1.4zM285.6 283.6h1.4v1.52h-1.4zM296.3 283.6h1.4v1.52h-1.4zM298.9 283.6h1.4v1.52h-1.4zM221.7 285.1h2.7v1.52h-2.7zM229.7 285.1h5.4v1.52h-5.4zM247.0 285.1h1.4v1.52h-1.4zM260.3 285.1h1.4v1.52h-1.4zM264.3 285.1h1.4v1.52h-1.4zM276.3 285.1h1.4v1.52h-1.4zM280.3 285.1h1.4v1.52h-1.4zM225.7 286.5h1.4v1.52h-1.4zM229.7 286.5h1.4v1.52h-1.4zM252.3 286.5h1.4v1.52h-1.4zM276.3 286.5h1.4v1.52h-1.4zM225.7 288.0h1.4v1.52h-1.4zM231.0 288.0h1.4v1.52h-1.4zM265.7 288.0h2.7v1.52h-2.7zM227.1 289.5h1.4v1.52h-1.4zM239.0 289.5h4.0v1.52h-4.0zM187.1 290.9h1.4v1.52h-1.4zM191.1 290.9h4.0v1.52h-4.0zM199.1 290.9h2.7v1.52h-2.7zM203.1 290.9h2.7v1.52h-2.7zM211.1 290.9h8.0v1.52h-8.0zM239.0 290.9h2.7v1.52h-2.7zM248.4 290.9h4.0v1.52h-4.0zM264.3 290.9h1.4v1.52h-1.4zM276.3 290.9h1.4v1.52h-1.4zM225.7 292.4h1.4v1.52h-1.4zM272.3 292.4h2.7v1.52h-2.7zM225.7 293.9h1.4v1.52h-1.4zM236.4 295.3h1.4v1.52h-1.4zM243.0 295.3h2.7v1.52h-2.7zM253.7 295.3h1.4v1.52h-1.4zM271.0 295.3h1.4v1.52h-1.4zM240.4 296.8h1.4v1.52h-1.4zM249.7 296.8h1.4v1.52h-1.4zM263.0 296.8h1.4v1.52h-1.4zM265.7 296.8h1.4v1.52h-1.4zM279.0 296.8h2.7v1.52h-2.7zM284.3 296.8h1.4v1.52h-1.4zM291.0 296.8h4.0v1.52h-4.0zM235.0 298.3h2.7v1.52h-2.7zM249.7 298.3h1.4v1.52h-1.4zM257.7 298.3h1.4v1.52h-1.4zM261.7 298.3h1.4v1.52h-1.4zM235.0 299.7h1.4v1.52h-1.4zM237.7 299.7h1.4v1.52h-1.4zM240.4 299.7h1.4v1.52h-1.4zM228.4 301.2h1.4v1.52h-1.4zM244.4 302.7h1.4v1.52h-1.4zM235.0 304.1h1.4v1.52h-1.4zM240.4 304.1h1.4v1.52h-1.4zM216.4 305.6h1.4v1.52h-1.4zM233.7 305.6h1.4v1.52h-1.4zM236.4 305.6h1.4v1.52h-1.4zM240.4 305.6h1.4v1.52h-1.4zM249.7 305.6h1.4v1.52h-1.4zM209.7 307.1h1.4v1.52h-1.4zM213.7 307.1h1.4v1.52h-1.4zM216.4 307.1h1.4v1.52h-1.4zM221.7 307.1h1.4v1.52h-1.4zM229.7 307.1h2.7v1.52h-2.7zM236.4 307.1h1.4v1.52h-1.4zM247.0 307.1h5.4v1.52h-5.4zM265.7 307.1h1.4v1.52h-1.4zM276.3 307.1h1.4v1.52h-1.4zM235.0 308.5h1.4v1.52h-1.4zM244.4 308.5h1.4v1.52h-1.4zM267.0 308.5h2.7v1.52h-2.7zM298.9 308.5h1.4v1.52h-1.4zM187.1 310.0h1.4v1.52h-1.4zM200.4 310.0h2.7v1.52h-2.7zM207.1 310.0h2.7v1.52h-2.7zM213.7 310.0h2.7v1.52h-2.7zM220.4 310.0h1.4v1.52h-1.4zM225.7 310.0h2.7v1.52h-2.7zM232.4 310.0h1.4v1.52h-1.4zM289.6 310.0h1.4v1.52h-1.4zM298.9 310.0h1.4v1.52h-1.4zM187.1 311.5h1.4v1.52h-1.4zM192.4 311.5h2.7v1.52h-2.7zM200.4 311.5h5.4v1.52h-5.4zM208.4 311.5h1.4v1.52h-1.4zM225.7 311.5h2.7v1.52h-2.7zM231.0 311.5h5.4v1.52h-5.4zM288.3 311.5h1.4v1.52h-1.4zM296.3 311.5h4.0v1.52h-4.0zM232.4 312.9h1.4v1.52h-1.4zM236.4 312.9h2.7v1.52h-2.7zM259.0 312.9h1.4v1.52h-1.4zM294.9 312.9h1.4v1.52h-1.4zM191.1 315.8h2.7v1.52h-2.7zM195.1 315.8h2.7v1.52h-2.7zM216.4 315.8h1.4v1.52h-1.4zM249.7 315.8h2.7v1.52h-2.7zM256.3 315.8h1.4v1.52h-1.4zM265.7 315.8h1.4v1.52h-1.4zM284.3 315.8h4.0v1.52h-4.0zM187.1 317.3h1.4v1.52h-1.4zM191.1 317.3h4.0v1.52h-4.0zM197.8 317.3h4.0v1.52h-4.0zM204.4 317.3h2.7v1.52h-2.7zM209.7 317.3h1.4v1.52h-1.4zM212.4 317.3h2.7v1.52h-2.7zM217.7 317.3h4.0v1.52h-4.0zM225.7 317.3h5.4v1.52h-5.4zM232.4 317.3h5.4v1.52h-5.4zM251.0 317.3h2.7v1.52h-2.7zM256.3 317.3h4.0v1.52h-4.0zM263.0 317.3h2.7v1.52h-2.7zM244.4 320.2h1.4v1.52h-1.4zM252.3 320.2h9.4v1.52h-9.4zM263.0 320.2h4.0v1.52h-4.0zM273.6 320.2h1.4v1.52h-1.4zM248.4 321.7h1.4v1.52h-1.4zM253.7 321.7h2.7v1.52h-2.7zM294.9 321.7h2.7v1.52h-2.7zM237.7 323.2h1.4v1.52h-1.4zM241.7 323.2h5.4v1.52h-5.4zM253.7 323.2h1.4v1.52h-1.4zM212.4 324.6h1.4v1.52h-1.4zM225.7 324.6h1.4v1.52h-1.4zM231.0 324.6h1.4v1.52h-1.4zM215.1 326.1h1.4v1.52h-1.4zM220.4 326.1h1.4v1.52h-1.4zM225.7 326.1h1.4v1.52h-1.4zM237.7 326.1h1.4v1.52h-1.4zM243.0 326.1h1.4v1.52h-1.4zM259.0 326.1h2.7v1.52h-2.7zM264.3 326.1h1.4v1.52h-1.4zM268.3 326.1h1.4v1.52h-1.4zM279.0 326.1h10.7v1.52h-10.7zM292.3 326.1h1.4v1.52h-1.4zM296.3 326.1h2.7v1.52h-2.7zM244.4 327.6h1.4v1.52h-1.4zM257.7 327.6h2.7v1.52h-2.7zM269.7 327.6h1.4v1.52h-1.4zM272.3 327.6h1.4v1.52h-1.4zM240.4 329.0h1.4v1.52h-1.4zM244.4 329.0h2.7v1.52h-2.7zM253.7 329.0h2.7v1.52h-2.7zM185.8 330.5h1.4v1.52h-1.4zM192.4 330.5h2.7v1.52h-2.7zM203.1 330.5h1.4v1.52h-1.4zM212.4 330.5h5.4v1.52h-5.4zM231.0 330.5h2.7v1.52h-2.7zM241.7 330.5h8.0v1.52h-8.0zM259.0 330.5h2.7v1.52h-2.7zM191.1 332.0h1.4v1.52h-1.4zM199.1 332.0h5.4v1.52h-5.4zM207.1 332.0h2.7v1.52h-2.7zM212.4 332.0h1.4v1.52h-1.4zM215.1 332.0h1.4v1.52h-1.4zM220.4 332.0h1.4v1.52h-1.4zM224.4 332.0h2.7v1.52h-2.7zM233.7 332.0h6.7v1.52h-6.7zM243.0 332.0h2.7v1.52h-2.7zM248.4 332.0h1.4v1.52h-1.4zM257.7 332.0h1.4v1.52h-1.4zM261.7 332.0h2.7v1.52h-2.7zM216.4 333.4h5.4v1.52h-5.4zM247.0 333.4h5.4v1.52h-5.4zM256.3 333.4h1.4v1.52h-1.4zM272.3 333.4h1.4v1.52h-1.4zM275.0 333.4h1.4v1.52h-1.4zM280.3 333.4h2.7v1.52h-2.7zM284.3 333.4h1.4v1.52h-1.4zM245.7 334.9h2.7v1.52h-2.7zM255.0 334.9h1.4v1.52h-1.4zM260.3 334.9h1.4v1.52h-1.4zM267.0 334.9h1.4v1.52h-1.4zM196.4 336.4h1.4v1.52h-1.4zM207.1 336.4h6.7v1.52h-6.7zM221.7 336.4h2.7v1.52h-2.7zM231.0 336.4h2.7v1.52h-2.7zM260.3 336.4h1.4v1.52h-1.4zM187.1 337.8h1.4v1.52h-1.4zM189.8 337.8h1.4v1.52h-1.4zM195.1 337.8h2.7v1.52h-2.7zM203.1 337.8h2.7v1.52h-2.7zM208.4 337.8h2.7v1.52h-2.7zM212.4 337.8h1.4v1.52h-1.4zM221.7 337.8h4.0v1.52h-4.0zM231.0 337.8h4.0v1.52h-4.0zM268.3 337.8h1.4v1.52h-1.4zM273.6 337.8h2.7v1.52h-2.7zM281.6 337.8h5.4v1.52h-5.4zM293.6 337.8h1.4v1.52h-1.4zM296.3 337.8h1.4v1.52h-1.4zM217.7 339.3h1.4v1.52h-1.4zM220.4 339.3h1.4v1.52h-1.4zM236.4 339.3h1.4v1.52h-1.4zM252.3 339.3h4.0v1.52h-4.0zM271.0 339.3h2.7v1.52h-2.7zM264.3 340.8h1.4v1.52h-1.4zM191.1 342.2h1.4v1.52h-1.4zM201.8 342.2h1.4v1.52h-1.4zM204.4 342.2h1.4v1.52h-1.4zM294.9 342.2h1.4v1.52h-1.4zM264.3 343.7h1.4v1.52h-1.4zM269.7 343.7h1.4v1.52h-1.4zM273.6 343.7h1.4v1.52h-1.4zM185.8 345.2h1.4v1.52h-1.4zM191.1 345.2h2.7v1.52h-2.7zM196.4 345.2h1.4v1.52h-1.4zM199.1 345.2h10.7v1.52h-10.7zM212.4 345.2h1.4v1.52h-1.4zM216.4 345.2h1.4v1.52h-1.4zM224.4 345.2h1.4v1.52h-1.4zM229.7 345.2h1.4v1.52h-1.4zM239.0 345.2h4.0v1.52h-4.0zM245.7 345.2h1.4v1.52h-1.4zM248.4 345.2h5.4v1.52h-5.4zM265.7 345.2h2.7v1.52h-2.7zM271.0 345.2h2.7v1.52h-2.7zM284.3 345.2h2.7v1.52h-2.7zM293.6 345.2h1.4v1.52h-1.4zM298.9 345.2h1.4v1.52h-1.4zM189.8 346.6h1.4v1.52h-1.4zM192.4 346.6h2.7v1.52h-2.7zM199.1 346.6h2.7v1.52h-2.7zM204.4 346.6h14.7v1.52h-14.7zM220.4 346.6h8.0v1.52h-8.0zM233.7 346.6h1.4v1.52h-1.4zM239.0 346.6h1.4v1.52h-1.4zM247.0 346.6h4.0v1.52h-4.0zM252.3 346.6h1.4v1.52h-1.4zM264.3 346.6h2.7v1.52h-2.7zM279.0 346.6h1.4v1.52h-1.4zM283.0 346.6h2.7v1.52h-2.7zM297.6 346.6h4.0v1.52h-4.0zM225.7 348.1h4.0v1.52h-4.0zM256.3 348.1h1.4v1.52h-1.4zM259.0 348.1h1.4v1.52h-1.4zM264.3 348.1h1.4v1.52h-1.4zM231.0 349.6h1.4v1.52h-1.4zM237.7 349.6h1.4v1.52h-1.4zM251.0 349.6h1.4v1.52h-1.4zM255.0 349.6h1.4v1.52h-1.4zM264.3 349.6h2.7v1.52h-2.7zM196.4 351.0h2.7v1.52h-2.7zM205.8 351.0h1.4v1.52h-1.4zM216.4 351.0h2.7v1.52h-2.7zM265.7 351.0h1.4v1.52h-1.4zM268.3 351.0h2.7v1.52h-2.7zM193.8 352.5h4.0v1.52h-4.0zM200.4 352.5h1.4v1.52h-1.4zM207.1 352.5h5.4v1.52h-5.4zM233.7 352.5h1.4v1.52h-1.4zM237.7 352.5h2.7v1.52h-2.7zM244.4 352.5h1.4v1.52h-1.4zM248.4 352.5h1.4v1.52h-1.4zM255.0 352.5h1.4v1.52h-1.4zM261.7 352.5h1.4v1.52h-1.4zM264.3 352.5h6.7v1.52h-6.7zM273.6 352.5h4.0v1.52h-4.0zM283.0 352.5h1.4v1.52h-1.4zM291.0 352.5h6.7v1.52h-6.7zM298.9 352.5h2.7v1.52h-2.7zM267.0 354.0h1.4v1.52h-1.4zM271.0 354.0h1.4v1.52h-1.4zM240.4 355.4h1.4v1.52h-1.4zM249.7 355.4h2.7v1.52h-2.7zM255.0 355.4h1.4v1.52h-1.4zM269.7 355.4h2.7v1.52h-2.7zM276.3 355.4h2.7v1.52h-2.7zM235.0 358.4h1.4v1.52h-1.4zM244.4 358.4h2.7v1.52h-2.7zM269.7 358.4h6.7v1.52h-6.7zM187.1 359.8h2.7v1.52h-2.7zM192.4 359.8h1.4v1.52h-1.4zM195.1 359.8h1.4v1.52h-1.4zM203.1 359.8h2.7v1.52h-2.7zM208.4 359.8h8.0v1.52h-8.0zM217.7 359.8h9.4v1.52h-9.4zM233.7 359.8h4.0v1.52h-4.0zM240.4 359.8h1.4v1.52h-1.4zM271.0 359.8h1.4v1.52h-1.4zM276.3 359.8h1.4v1.52h-1.4zM201.8 361.3h1.4v1.52h-1.4zM220.4 361.3h1.4v1.52h-1.4zM244.4 361.3h1.4v1.52h-1.4zM236.4 362.8h1.4v1.52h-1.4zM276.3 362.8h1.4v1.52h-1.4zM223.1 364.2h2.7v1.52h-2.7zM228.4 364.2h1.4v1.52h-1.4zM232.4 364.2h1.4v1.52h-1.4zM235.0 364.2h4.0v1.52h-4.0zM241.7 364.2h1.4v1.52h-1.4zM245.7 364.2h1.4v1.52h-1.4zM248.4 364.2h2.7v1.52h-2.7zM256.3 364.2h2.7v1.52h-2.7zM263.0 364.2h4.0v1.52h-4.0zM269.7 364.2h1.4v1.52h-1.4zM272.3 364.2h1.4v1.52h-1.4zM275.0 364.2h1.4v1.52h-1.4zM281.6 364.2h5.4v1.52h-5.4zM292.3 364.2h1.4v1.52h-1.4zM297.6 364.2h4.0v1.52h-4.0zM219.1 365.7h1.4v1.52h-1.4zM247.0 365.7h1.4v1.52h-1.4zM279.0 365.7h1.4v1.52h-1.4zM288.3 365.7h1.4v1.52h-1.4zM260.3 367.1h1.4v1.52h-1.4zM293.6 367.1h1.4v1.52h-1.4zM297.6 367.1h2.7v1.52h-2.7zM229.7 368.6h1.4v1.52h-1.4zM281.6 368.6h1.4v1.52h-1.4zM189.8 370.1h2.7v1.52h-2.7zM294.9 370.1h1.4v1.52h-1.4zM253.7 371.5h1.4v1.52h-1.4zM279.0 371.5h1.4v1.52h-1.4zM296.3 371.5h1.4v1.52h-1.4zM232.4 373.0h1.4v1.52h-1.4zM244.4 373.0h1.4v1.52h-1.4zM252.3 373.0h2.7v1.52h-2.7zM294.9 373.0h1.4v1.52h-1.4zM185.8 374.5h1.4v1.52h-1.4zM196.4 374.5h1.4v1.52h-1.4zM221.7 374.5h1.4v1.52h-1.4zM236.4 374.5h2.7v1.52h-2.7zM247.0 374.5h2.7v1.52h-2.7zM185.8 375.9h1.4v1.52h-1.4zM192.4 375.9h2.7v1.52h-2.7zM201.8 375.9h4.0v1.52h-4.0zM224.4 375.9h1.4v1.52h-1.4zM253.7 375.9h1.4v1.52h-1.4zM252.3 377.4h1.4v1.52h-1.4zM275.0 377.4h1.4v1.52h-1.4zM280.3 377.4h1.4v1.52h-1.4zM285.6 377.4h1.4v1.52h-1.4zM289.6 377.4h1.4v1.52h-1.4zM294.9 377.4h2.7v1.52h-2.7zM213.7 378.9h1.4v1.52h-1.4zM249.7 378.9h1.4v1.52h-1.4zM252.3 378.9h1.4v1.52h-1.4zM267.0 380.3h1.4v1.52h-1.4zM271.0 380.3h1.4v1.52h-1.4zM279.0 380.3h1.4v1.52h-1.4zM297.6 383.3h1.4v1.52h-1.4zM201.8 384.7h1.4v1.52h-1.4zM204.4 384.7h4.0v1.52h-4.0zM293.6 384.7h1.4v1.52h-1.4zM240.4 386.2h2.7v1.52h-2.7zM298.9 386.2h1.4v1.52h-1.4zM257.7 387.7h4.0v1.52h-4.0zM296.3 387.7h1.4v1.52h-1.4zM260.3 389.1h2.7v1.52h-2.7z"/>
<path fill="rgb(62,190,165)" d="M195.1 236.7h1.4v1.52h-1.4zM252.3 236.7h1.4v1.52h-1.4zM255.0 236.7h1.4v1.52h-1.4zM265.7 236.7h1.4v1.52h-1.4zM185.8 238.2h1.4v1.52h-1.4zM185.8 239.6h1.4v1.52h-1.4zM192.4 239.6h1.4v1.52h-1.4zM191.1 241.1h1.4v1.52h-1.4zM195.1 241.1h2.7v1.52h-2.7zM241.7 241.1h1.4v1.52h-1.4zM253.7 241.1h1.4v1.52h-1.4zM193.8 242.6h1.4v1.52h-1.4zM187.1 244.0h1.4v1.52h-1.4zM201.8 244.0h6.7v1.52h-6.7zM212.4 244.0h1.4v1.52h-1.4zM231.0 244.0h1.4v1.52h-1.4zM244.4 244.0h1.4v1.52h-1.4zM249.7 244.0h1.4v1.52h-1.4zM259.0 244.0h2.7v1.52h-2.7zM267.0 244.0h1.4v1.52h-1.4zM275.0 244.0h6.7v1.52h-6.7zM292.3 244.0h1.4v1.52h-1.4zM300.3 244.0h1.4v1.52h-1.4zM243.0 245.5h1.4v1.52h-1.4zM191.1 247.0h1.4v1.52h-1.4zM291.0 247.0h2.7v1.52h-2.7zM187.1 248.4h1.4v1.52h-1.4zM192.4 248.4h5.4v1.52h-5.4zM204.4 248.4h1.4v1.52h-1.4zM217.7 248.4h13.4v1.52h-13.4zM236.4 248.4h1.4v1.52h-1.4zM255.0 248.4h2.7v1.52h-2.7zM259.0 248.4h2.7v1.52h-2.7zM265.7 248.4h1.4v1.52h-1.4zM273.6 248.4h1.4v1.52h-1.4zM279.0 248.4h2.7v1.52h-2.7zM284.3 248.4h1.4v1.52h-1.4zM289.6 248.4h1.4v1.52h-1.4zM293.6 248.4h4.0v1.52h-4.0zM185.8 249.9h1.4v1.52h-1.4zM193.8 249.9h2.7v1.52h-2.7zM203.1 249.9h1.4v1.52h-1.4zM205.8 249.9h1.4v1.52h-1.4zM228.4 249.9h4.0v1.52h-4.0zM235.0 249.9h1.4v1.52h-1.4zM237.7 249.9h1.4v1.52h-1.4zM244.4 249.9h2.7v1.52h-2.7zM251.0 249.9h6.7v1.52h-6.7zM264.3 249.9h1.4v1.52h-1.4zM267.0 249.9h6.7v1.52h-6.7zM275.0 249.9h1.4v1.52h-1.4zM280.3 249.9h2.7v1.52h-2.7zM285.6 249.9h2.7v1.52h-2.7zM300.3 249.9h1.4v1.52h-1.4zM192.4 251.4h1.4v1.52h-1.4zM195.1 251.4h1.4v1.52h-1.4zM197.8 251.4h1.4v1.52h-1.4zM263.0 251.4h4.0v1.52h-4.0zM273.6 251.4h1.4v1.52h-1.4zM192.4 252.8h1.4v1.52h-1.4zM187.1 254.3h1.4v1.52h-1.4zM193.8 254.3h1.4v1.52h-1.4zM225.7 254.3h2.7v1.52h-2.7zM273.6 254.3h1.4v1.52h-1.4zM257.7 255.8h1.4v1.52h-1.4zM260.3 255.8h1.4v1.52h-1.4zM193.8 257.2h1.4v1.52h-1.4zM199.1 257.2h1.4v1.52h-1.4zM211.1 257.2h1.4v1.52h-1.4zM191.1 258.7h1.4v1.52h-1.4zM196.4 258.7h2.7v1.52h-2.7zM188.4 260.2h2.7v1.52h-2.7zM192.4 260.2h2.7v1.52h-2.7zM199.1 260.2h1.4v1.52h-1.4zM224.4 260.2h1.4v1.52h-1.4zM243.0 260.2h1.4v1.52h-1.4zM251.0 260.2h4.0v1.52h-4.0zM261.7 260.2h2.7v1.52h-2.7zM273.6 260.2h1.4v1.52h-1.4zM279.0 260.2h2.7v1.52h-2.7zM296.3 260.2h1.4v1.52h-1.4zM187.1 261.6h1.4v1.52h-1.4zM192.4 261.6h1.4v1.52h-1.4zM200.4 261.6h1.4v1.52h-1.4zM204.4 261.6h1.4v1.52h-1.4zM208.4 261.6h1.4v1.52h-1.4zM223.1 261.6h2.7v1.52h-2.7zM227.1 261.6h1.4v1.52h-1.4zM229.7 261.6h1.4v1.52h-1.4zM251.0 261.6h1.4v1.52h-1.4zM260.3 261.6h6.7v1.52h-6.7zM269.7 261.6h1.4v1.52h-1.4zM273.6 261.6h1.4v1.52h-1.4zM277.6 261.6h2.7v1.52h-2.7zM281.6 261.6h2.7v1.52h-2.7zM289.6 261.6h1.4v1.52h-1.4zM193.8 263.1h1.4v1.52h-1.4zM247.0 263.1h1.4v1.52h-1.4zM253.7 263.1h2.7v1.52h-2.7zM277.6 263.1h1.4v1.52h-1.4zM284.3 263.1h2.7v1.52h-2.7zM195.1 264.5h1.4v1.52h-1.4zM200.4 264.5h1.4v1.52h-1.4zM255.0 264.5h1.4v1.52h-1.4zM261.7 264.5h2.7v1.52h-2.7zM277.6 264.5h1.4v1.52h-1.4zM294.9 264.5h1.4v1.52h-1.4zM197.8 266.0h1.4v1.52h-1.4zM200.4 266.0h2.7v1.52h-2.7zM207.1 266.0h1.4v1.52h-1.4zM283.0 266.0h2.7v1.52h-2.7zM204.4 267.5h1.4v1.52h-1.4zM207.1 267.5h1.4v1.52h-1.4zM263.0 267.5h1.4v1.52h-1.4zM199.1 268.9h1.4v1.52h-1.4zM205.8 268.9h1.4v1.52h-1.4zM208.4 268.9h1.4v1.52h-1.4zM259.0 268.9h1.4v1.52h-1.4zM268.3 268.9h1.4v1.52h-1.4zM276.3 268.9h1.4v1.52h-1.4zM201.8 270.4h1.4v1.52h-1.4zM213.7 273.3h1.4v1.52h-1.4zM216.4 274.8h1.4v1.52h-1.4zM220.4 274.8h2.7v1.52h-2.7zM225.7 274.8h2.7v1.52h-2.7zM252.3 274.8h1.4v1.52h-1.4zM256.3 274.8h1.4v1.52h-1.4zM288.3 274.8h1.4v1.52h-1.4zM187.1 276.3h5.4v1.52h-5.4zM195.1 276.3h1.4v1.52h-1.4zM204.4 276.3h4.0v1.52h-4.0zM235.0 276.3h1.4v1.52h-1.4zM239.0 276.3h1.4v1.52h-1.4zM213.7 277.7h1.4v1.52h-1.4zM229.7 277.7h1.4v1.52h-1.4zM225.7 279.2h2.7v1.52h-2.7zM269.7 279.2h2.7v1.52h-2.7zM273.6 279.2h1.4v1.52h-1.4zM276.3 279.2h4.0v1.52h-4.0zM285.6 279.2h4.0v1.52h-4.0zM215.1 280.7h1.4v1.52h-1.4zM227.1 282.1h1.4v1.52h-1.4zM227.1 283.6h1.4v1.52h-1.4zM233.7 283.6h2.7v1.52h-2.7zM249.7 283.6h1.4v1.52h-1.4zM252.3 283.6h4.0v1.52h-4.0zM263.0 283.6h1.4v1.52h-1.4zM276.3 283.6h2.7v1.52h-2.7zM297.6 283.6h1.4v1.52h-1.4zM225.7 285.1h1.4v1.52h-1.4zM228.4 285.1h1.4v1.52h-1.4zM245.7 285.1h1.4v1.52h-1.4zM267.0 285.1h1.4v1.52h-1.4zM279.0 285.1h1.4v1.52h-1.4zM283.0 285.1h1.4v1.52h-1.4zM227.1 286.5h2.7v1.52h-2.7zM253.7 286.5h1.4v1.52h-1.4zM228.4 289.5h2.7v1.52h-2.7zM243.0 289.5h2.7v1.52h-2.7zM188.4 290.9h2.7v1.52h-2.7zM205.8 290.9h5.4v1.52h-5.4zM219.1 290.9h2.7v1.52h-2.7zM227.1 290.9h1.4v1.52h-1.4zM236.4 290.9h2.7v1.52h-2.7zM241.7 290.9h1.4v1.52h-1.4zM267.0 290.9h1.4v1.52h-1.4zM260.3 292.4h1.4v1.52h-1.4zM275.0 292.4h2.7v1.52h-2.7zM227.1 293.9h1.4v1.52h-1.4zM236.4 293.9h1.4v1.52h-1.4zM241.7 293.9h2.7v1.52h-2.7zM227.1 295.3h1.4v1.52h-1.4zM255.0 295.3h1.4v1.52h-1.4zM228.4 296.8h1.4v1.52h-1.4zM239.0 296.8h1.4v1.52h-1.4zM245.7 296.8h1.4v1.52h-1.4zM261.7 296.8h1.4v1.52h-1.4zM256.3 298.3h1.4v1.52h-1.4zM233.7 299.7h1.4v1.52h-1.4zM239.0 299.7h1.4v1.52h-1.4zM215.1 301.2h2.7v1.52h-2.7zM229.7 301.2h1.4v1.52h-1.4zM256.3 301.2h2.7v1.52h-2.7zM269.7 301.2h2.7v1.52h-2.7zM243.0 302.7h1.4v1.52h-1.4zM245.7 302.7h1.4v1.52h-1.4zM253.7 302.7h2.7v1.52h-2.7zM271.0 302.7h4.0v1.52h-4.0zM284.3 302.7h2.7v1.52h-2.7zM236.4 304.1h1.4v1.52h-1.4zM215.1 305.6h1.4v1.52h-1.4zM232.4 305.6h1.4v1.52h-1.4zM237.7 305.6h2.7v1.52h-2.7zM248.4 305.6h1.4v1.52h-1.4zM211.1 307.1h1.4v1.52h-1.4zM227.1 307.1h2.7v1.52h-2.7zM233.7 307.1h1.4v1.52h-1.4zM245.7 307.1h1.4v1.52h-1.4zM269.7 307.1h1.4v1.52h-1.4zM247.0 308.5h1.4v1.52h-1.4zM249.7 308.5h1.4v1.52h-1.4zM188.4 310.0h2.7v1.52h-2.7zM195.1 310.0h5.4v1.52h-5.4zM203.1 310.0h4.0v1.52h-4.0zM209.7 310.0h4.0v1.52h-4.0zM221.7 310.0h1.4v1.52h-1.4zM224.4 310.0h1.4v1.52h-1.4zM228.4 310.0h4.0v1.52h-4.0zM233.7 310.0h2.7v1.52h-2.7zM269.7 310.0h1.4v1.52h-1.4zM275.0 310.0h2.7v1.52h-2.7zM294.9 310.0h1.4v1.52h-1.4zM297.6 310.0h1.4v1.52h-1.4zM188.4 311.5h1.4v1.52h-1.4zM191.1 311.5h1.4v1.52h-1.4zM195.1 311.5h1.4v1.52h-1.4zM199.1 311.5h1.4v1.52h-1.4zM205.8 311.5h2.7v1.52h-2.7zM209.7 311.5h1.4v1.52h-1.4zM213.7 311.5h2.7v1.52h-2.7zM219.1 311.5h1.4v1.52h-1.4zM221.7 311.5h4.0v1.52h-4.0zM236.4 311.5h1.4v1.52h-1.4zM253.7 311.5h2.7v1.52h-2.7zM267.0 311.5h4.0v1.52h-4.0zM287.0 311.5h1.4v1.52h-1.4zM289.6 311.5h1.4v1.52h-1.4zM293.6 311.5h2.7v1.52h-2.7zM300.3 311.5h1.4v1.52h-1.4zM231.0 312.9h1.4v1.52h-1.4zM243.0 312.9h1.4v1.52h-1.4zM293.6 312.9h1.4v1.52h-1.4zM244.4 314.4h1.4v1.52h-1.4zM249.7 314.4h1.4v1.52h-1.4zM205.8 315.8h1.4v1.52h-1.4zM208.4 315.8h1.4v1.52h-1.4zM217.7 315.8h2.7v1.52h-2.7zM233.7 315.8h1.4v1.52h-1.4zM236.4 315.8h2.7v1.52h-2.7zM248.4 315.8h1.4v1.52h-1.4zM257.7 315.8h1.4v1.52h-1.4zM268.3 315.8h2.7v1.52h-2.7zM276.3 315.8h2.7v1.52h-2.7zM291.0 315.8h2.7v1.52h-2.7zM195.1 317.3h2.7v1.52h-2.7zM211.1 317.3h1.4v1.52h-1.4zM221.7 317.3h1.4v1.52h-1.4zM224.4 317.3h1.4v1.52h-1.4zM240.4 317.3h1.4v1.52h-1.4zM243.0 317.3h1.4v1.52h-1.4zM249.7 317.3h1.4v1.52h-1.4zM243.0 318.8h1.4v1.52h-1.4zM245.7 320.2h2.7v1.52h-2.7zM275.0 320.2h1.4v1.52h-1.4zM259.0 321.7h1.4v1.52h-1.4zM289.6 321.7h1.4v1.52h-1.4zM297.6 321.7h1.4v1.52h-1.4zM236.4 323.2h1.4v1.52h-1.4zM224.4 324.6h1.4v1.52h-1.4zM244.4 324.6h1.4v1.52h-1.4zM253.7 324.6h1.4v1.52h-1.4zM213.7 326.1h1.4v1.52h-1.4zM223.1 326.1h1.4v1.52h-1.4zM253.7 326.1h5.4v1.52h-5.4zM265.7 326.1h2.7v1.52h-2.7zM289.6 326.1h2.7v1.52h-2.7zM245.7 327.6h2.7v1.52h-2.7zM249.7 327.6h1.4v1.52h-1.4zM271.0 327.6h1.4v1.52h-1.4zM187.1 330.5h5.4v1.52h-5.4zM195.1 330.5h1.4v1.52h-1.4zM201.8 330.5h1.4v1.52h-1.4zM204.4 330.5h8.0v1.52h-8.0zM217.7 330.5h1.4v1.52h-1.4zM223.1 330.5h1.4v1.52h-1.4zM228.4 330.5h2.7v1.52h-2.7zM233.7 330.5h4.0v1.52h-4.0zM240.4 330.5h1.4v1.52h-1.4zM249.7 330.5h2.7v1.52h-2.7zM257.7 330.5h1.4v1.52h-1.4zM261.7 330.5h5.4v1.52h-5.4zM276.3 330.5h1.4v1.52h-1.4zM284.3 330.5h2.7v1.52h-2.7zM187.1 332.0h4.0v1.52h-4.0zM192.4 332.0h2.7v1.52h-2.7zM197.8 332.0h1.4v1.52h-1.4zM213.7 332.0h1.4v1.52h-1.4zM216.4 332.0h1.4v1.52h-1.4zM219.1 332.0h1.4v1.52h-1.4zM221.7 332.0h1.4v1.52h-1.4zM227.1 332.0h4.0v1.52h-4.0zM232.4 332.0h1.4v1.52h-1.4zM240.4 332.0h2.7v1.52h-2.7zM249.7 332.0h1.4v1.52h-1.4zM256.3 332.0h1.4v1.52h-1.4zM259.0 332.0h2.7v1.52h-2.7zM264.3 332.0h1.4v1.52h-1.4zM275.0 332.0h1.4v1.52h-1.4zM285.6 332.0h1.4v1.52h-1.4zM237.7 333.4h2.7v1.52h-2.7zM273.6 333.4h1.4v1.52h-1.4zM283.0 333.4h1.4v1.52h-1.4zM259.0 334.9h1.4v1.52h-1.4zM269.7 334.9h1.4v1.52h-1.4zM255.0 336.4h1.4v1.52h-1.4zM259.0 336.4h1.4v1.52h-1.4zM188.4 337.8h1.4v1.52h-1.4zM211.1 337.8h1.4v1.52h-1.4zM225.7 337.8h1.4v1.52h-1.4zM228.4 337.8h1.4v1.52h-1.4zM235.0 337.8h1.4v1.52h-1.4zM260.3 337.8h4.0v1.52h-4.0zM267.0 337.8h1.4v1.52h-1.4zM269.7 337.8h1.4v1.52h-1.4zM276.3 337.8h1.4v1.52h-1.4zM280.3 337.8h1.4v1.52h-1.4zM287.0 337.8h1.4v1.52h-1.4zM291.0 337.8h2.7v1.52h-2.7zM297.6 337.8h2.7v1.52h-2.7zM219.1 339.3h1.4v1.52h-1.4zM237.7 339.3h1.4v1.52h-1.4zM264.3 339.3h1.4v1.52h-1.4zM255.0 340.8h1.4v1.52h-1.4zM260.3 340.8h4.0v1.52h-4.0zM193.8 342.2h1.4v1.52h-1.4zM203.1 342.2h1.4v1.52h-1.4zM233.7 342.2h1.4v1.52h-1.4zM272.3 342.2h1.4v1.52h-1.4zM293.6 342.2h1.4v1.52h-1.4zM296.3 342.2h2.7v1.52h-2.7zM267.0 343.7h1.4v1.52h-1.4zM271.0 343.7h1.4v1.52h-1.4zM189.8 345.2h1.4v1.52h-1.4zM193.8 345.2h2.7v1.52h-2.7zM197.8 345.2h1.4v1.52h-1.4zM209.7 345.2h1.4v1.52h-1.4zM217.7 345.2h6.7v1.52h-6.7zM231.0 345.2h1.4v1.52h-1.4zM235.0 345.2h4.0v1.52h-4.0zM247.0 345.2h1.4v1.52h-1.4zM253.7 345.2h1.4v1.52h-1.4zM273.6 345.2h4.0v1.52h-4.0zM283.0 345.2h1.4v1.52h-1.4zM300.3 345.2h1.4v1.52h-1.4zM191.1 346.6h1.4v1.52h-1.4zM219.1 346.6h1.4v1.52h-1.4zM228.4 346.6h5.4v1.52h-5.4zM251.0 346.6h1.4v1.52h-1.4zM253.7 346.6h1.4v1.52h-1.4zM260.3 346.6h1.4v1.52h-1.4zM267.0 346.6h1.4v1.52h-1.4zM275.0 346.6h4.0v1.52h-4.0zM291.0 346.6h2.7v1.52h-2.7zM257.7 348.1h1.4v1.52h-1.4zM261.7 348.1h2.7v1.52h-2.7zM253.7 349.6h1.4v1.52h-1.4zM219.1 351.0h1.4v1.52h-1.4zM221.7 351.0h1.4v1.52h-1.4zM263.0 351.0h2.7v1.52h-2.7zM236.4 352.5h1.4v1.52h-1.4zM245.7 352.5h2.7v1.52h-2.7zM256.3 352.5h1.4v1.52h-1.4zM260.3 352.5h1.4v1.52h-1.4zM263.0 352.5h1.4v1.52h-1.4zM271.0 352.5h2.7v1.52h-2.7zM256.3 354.0h1.4v1.52h-1.4zM268.3 354.0h2.7v1.52h-2.7zM239.0 355.4h1.4v1.52h-1.4zM252.3 355.4h1.4v1.52h-1.4zM267.0 358.4h1.4v1.52h-1.4zM193.8 359.8h1.4v1.52h-1.4zM216.4 359.8h1.4v1.52h-1.4zM237.7 359.8h2.7v1.52h-2.7zM275.0 359.8h1.4v1.52h-1.4zM280.3 359.8h1.4v1.52h-1.4zM200.4 361.3h1.4v1.52h-1.4zM217.7 361.3h2.7v1.52h-2.7zM221.7 361.3h1.4v1.52h-1.4zM241.7 361.3h1.4v1.52h-1.4zM275.0 362.8h1.4v1.52h-1.4zM233.7 364.2h1.4v1.52h-1.4zM239.0 364.2h2.7v1.52h-2.7zM247.0 364.2h1.4v1.52h-1.4zM251.0 364.2h5.4v1.52h-5.4zM260.3 364.2h1.4v1.52h-1.4zM271.0 364.2h1.4v1.52h-1.4zM276.3 364.2h2.7v1.52h-2.7zM280.3 364.2h1.4v1.52h-1.4zM293.6 364.2h1.4v1.52h-1.4zM296.3 364.2h1.4v1.52h-1.4zM287.0 365.7h1.4v1.52h-1.4zM280.3 367.1h1.4v1.52h-1.4zM291.0 367.1h2.7v1.52h-2.7zM185.8 368.6h1.4v1.52h-1.4zM200.4 368.6h1.4v1.52h-1.4zM212.4 368.6h1.4v1.52h-1.4zM223.1 368.6h1.4v1.52h-1.4zM228.4 368.6h1.4v1.52h-1.4zM235.0 368.6h1.4v1.52h-1.4zM251.0 368.6h2.7v1.52h-2.7zM293.6 368.6h1.4v1.52h-1.4zM201.8 370.1h1.4v1.52h-1.4zM205.8 370.1h1.4v1.52h-1.4zM209.7 370.1h2.7v1.52h-2.7zM215.1 370.1h1.4v1.52h-1.4zM220.4 370.1h2.7v1.52h-2.7zM224.4 370.1h1.4v1.52h-1.4zM281.6 370.1h1.4v1.52h-1.4zM293.6 370.1h1.4v1.52h-1.4zM220.4 371.5h1.4v1.52h-1.4zM228.4 371.5h4.0v1.52h-4.0zM276.3 371.5h2.7v1.52h-2.7zM281.6 371.5h1.4v1.52h-1.4zM294.9 371.5h1.4v1.52h-1.4zM233.7 373.0h5.4v1.52h-5.4zM243.0 373.0h1.4v1.52h-1.4zM245.7 373.0h1.4v1.52h-1.4zM251.0 373.0h1.4v1.52h-1.4zM256.3 373.0h2.7v1.52h-2.7zM265.7 373.0h1.4v1.52h-1.4zM281.6 373.0h1.4v1.52h-1.4zM293.6 373.0h1.4v1.52h-1.4zM187.1 374.5h6.7v1.52h-6.7zM197.8 374.5h1.4v1.52h-1.4zM220.4 374.5h1.4v1.52h-1.4zM228.4 374.5h1.4v1.52h-1.4zM233.7 374.5h2.7v1.52h-2.7zM245.7 374.5h1.4v1.52h-1.4zM249.7 374.5h1.4v1.52h-1.4zM280.3 374.5h2.7v1.52h-2.7zM187.1 375.9h5.4v1.52h-5.4zM195.1 375.9h2.7v1.52h-2.7zM205.8 375.9h4.0v1.52h-4.0zM215.1 375.9h1.4v1.52h-1.4zM223.1 375.9h1.4v1.52h-1.4zM225.7 375.9h1.4v1.52h-1.4zM228.4 375.9h2.7v1.52h-2.7zM240.4 375.9h1.4v1.52h-1.4zM252.3 375.9h1.4v1.52h-1.4zM255.0 375.9h1.4v1.52h-1.4zM263.0 375.9h1.4v1.52h-1.4zM267.0 375.9h2.7v1.52h-2.7zM272.3 375.9h5.4v1.52h-5.4zM251.0 377.4h1.4v1.52h-1.4zM281.6 377.4h1.4v1.52h-1.4zM292.3 377.4h1.4v1.52h-1.4zM277.6 380.3h1.4v1.52h-1.4zM292.3 380.3h1.4v1.52h-1.4zM296.3 380.3h2.7v1.52h-2.7zM203.1 384.7h1.4v1.52h-1.4zM263.0 384.7h1.4v1.52h-1.4zM296.3 384.7h1.4v1.52h-1.4zM257.7 386.2h1.4v1.52h-1.4zM273.6 386.2h1.4v1.52h-1.4zM281.6 387.7h1.4v1.52h-1.4zM284.3 387.7h1.4v1.52h-1.4z"/>
<path fill="rgb(122,198,110)" d="M191.1 236.7h4.0v1.52h-4.0zM249.7 236.7h2.7v1.52h-2.7zM253.7 236.7h1.4v1.52h-1.4zM187.1 238.2h2.7v1.52h-2.7zM256.3 239.6h1.4v1.52h-1.4zM240.4 241.1h1.4v1.52h-1.4zM189.8 242.6h1.4v1.52h-1.4zM188.4 244.0h1.4v1.52h-1.4zM196.4 244.0h2.7v1.52h-2.7zM200.4 244.0h1.4v1.52h-1.4zM235.0 244.0h4.0v1.52h-4.0zM243.0 244.0h1.4v1.52h-1.4zM293.6 244.0h1.4v1.52h-1.4zM185.8 245.5h1.4v1.52h-1.4zM189.8 245.5h1.4v1.52h-1.4zM191.1 248.4h1.4v1.52h-1.4zM215.1 248.4h2.7v1.52h-2.7zM237.7 248.4h1.4v1.52h-1.4zM275.0 248.4h1.4v1.52h-1.4zM287.0 248.4h1.4v1.52h-1.4zM191.1 249.9h2.7v1.52h-2.7zM201.8 249.9h1.4v1.52h-1.4zM207.1 249.9h2.7v1.52h-2.7zM216.4 249.9h1.4v1.52h-1.4zM221.7 249.9h1.4v1.52h-1.4zM240.4 249.9h1.4v1.52h-1.4zM261.7 249.9h2.7v1.52h-2.7zM189.8 251.4h2.7v1.52h-2.7zM196.4 251.4h1.4v1.52h-1.4zM196.4 252.8h1.4v1.52h-1.4zM245.7 254.3h1.4v1.52h-1.4zM272.3 254.3h1.4v1.52h-1.4zM259.0 255.8h1.4v1.52h-1.4zM192.4 257.2h1.4v1.52h-1.4zM192.4 258.7h1.4v1.52h-1.4zM195.1 258.7h1.4v1.52h-1.4zM195.1 260.2h1.4v1.52h-1.4zM221.7 260.2h2.7v1.52h-2.7zM232.4 260.2h1.4v1.52h-1.4zM199.1 261.6h1.4v1.52h-1.4zM201.8 261.6h2.7v1.52h-2.7zM209.7 261.6h4.0v1.52h-4.0zM225.7 261.6h1.4v1.52h-1.4zM231.0 261.6h1.4v1.52h-1.4zM243.0 261.6h1.4v1.52h-1.4zM291.0 261.6h1.4v1.52h-1.4zM287.0 263.1h1.4v1.52h-1.4zM231.0 264.5h1.4v1.52h-1.4zM256.3 264.5h1.4v1.52h-1.4zM264.3 264.5h2.7v1.52h-2.7zM279.0 264.5h1.4v1.52h-1.4zM292.3 264.5h1.4v1.52h-1.4zM199.1 266.0h1.4v1.52h-1.4zM203.1 266.0h1.4v1.52h-1.4zM195.1 267.5h1.4v1.52h-1.4zM201.8 267.5h1.4v1.52h-1.4zM225.7 268.9h1.4v1.52h-1.4zM231.0 268.9h1.4v1.52h-1.4zM272.3 268.9h1.4v1.52h-1.4zM204.4 270.4h1.4v1.52h-1.4zM207.1 271.9h1.4v1.52h-1.4zM205.8 273.3h1.4v1.52h-1.4zM215.1 273.3h2.7v1.52h-2.7zM211.1 274.8h1.4v1.52h-1.4zM213.7 274.8h1.4v1.52h-1.4zM223.1 274.8h2.7v1.52h-2.7zM267.0 274.8h2.7v1.52h-2.7zM289.6 274.8h1.4v1.52h-1.4zM192.4 276.3h2.7v1.52h-2.7zM196.4 276.3h2.7v1.52h-2.7zM209.7 276.3h1.4v1.52h-1.4zM233.7 276.3h1.4v1.52h-1.4zM215.1 277.7h1.4v1.52h-1.4zM228.4 277.7h1.4v1.52h-1.4zM217.7 279.2h1.4v1.52h-1.4zM224.4 279.2h1.4v1.52h-1.4zM268.3 279.2h1.4v1.52h-1.4zM272.3 279.2h1.4v1.52h-1.4zM283.0 279.2h2.7v1.52h-2.7zM219.1 282.1h2.7v1.52h-2.7zM251.0 283.6h1.4v1.52h-1.4zM227.1 285.1h1.4v1.52h-1.4zM265.7 285.1h1.4v1.52h-1.4zM229.7 288.0h1.4v1.52h-1.4zM231.0 289.5h1.4v1.52h-1.4zM237.7 289.5h1.4v1.52h-1.4zM228.4 290.9h1.4v1.52h-1.4zM227.1 292.4h1.4v1.52h-1.4zM233.7 292.4h1.4v1.52h-1.4zM188.4 295.3h2.7v1.52h-2.7zM228.4 295.3h1.4v1.52h-1.4zM269.7 295.3h1.4v1.52h-1.4zM229.7 296.8h2.7v1.52h-2.7zM241.7 296.8h1.4v1.52h-1.4zM244.4 296.8h1.4v1.52h-1.4zM247.0 296.8h2.7v1.52h-2.7zM231.0 299.7h2.7v1.52h-2.7zM197.8 301.2h1.4v1.52h-1.4zM213.7 301.2h1.4v1.52h-1.4zM227.1 301.2h1.4v1.52h-1.4zM231.0 301.2h2.7v1.52h-2.7zM248.4 301.2h4.0v1.52h-4.0zM255.0 301.2h1.4v1.52h-1.4zM263.0 301.2h1.4v1.52h-1.4zM268.3 301.2h1.4v1.52h-1.4zM272.3 301.2h1.4v1.52h-1.4zM291.0 301.2h4.0v1.52h-4.0zM296.3 301.2h2.7v1.52h-2.7zM204.4 302.7h1.4v1.52h-1.4zM219.1 302.7h2.7v1.52h-2.7zM228.4 302.7h2.7v1.52h-2.7zM241.7 302.7h1.4v1.52h-1.4zM247.0 302.7h1.4v1.52h-1.4zM251.0 302.7h2.7v1.52h-2.7zM275.0 302.7h1.4v1.52h-1.4zM294.9 302.7h1.4v1.52h-1.4zM239.0 304.1h1.4v1.52h-1.4zM241.7 305.6h1.4v1.52h-1.4zM247.0 305.6h1.4v1.52h-1.4zM212.4 307.1h1.4v1.52h-1.4zM232.4 307.1h1.4v1.52h-1.4zM237.7 307.1h1.4v1.52h-1.4zM244.4 307.1h1.4v1.52h-1.4zM267.0 307.1h2.7v1.52h-2.7zM236.4 308.5h1.4v1.52h-1.4zM248.4 308.5h1.4v1.52h-1.4zM191.1 310.0h1.4v1.52h-1.4zM193.8 310.0h1.4v1.52h-1.4zM216.4 310.0h1.4v1.52h-1.4zM219.1 310.0h1.4v1.52h-1.4zM223.1 310.0h1.4v1.52h-1.4zM236.4 310.0h1.4v1.52h-1.4zM244.4 310.0h1.4v1.52h-1.4zM253.7 310.0h2.7v1.52h-2.7zM257.7 310.0h4.0v1.52h-4.0zM268.3 310.0h1.4v1.52h-1.4zM271.0 310.0h4.0v1.52h-4.0zM277.6 310.0h5.4v1.52h-5.4zM288.3 310.0h1.4v1.52h-1.4zM296.3 310.0h1.4v1.52h-1.4zM189.8 311.5h1.4v1.52h-1.4zM196.4 311.5h2.7v1.52h-2.7zM216.4 311.5h2.7v1.52h-2.7zM220.4 311.5h1.4v1.52h-1.4zM237.7 311.5h5.4v1.52h-5.4zM248.4 311.5h5.4v1.52h-5.4zM256.3 311.5h1.4v1.52h-1.4zM265.7 311.5h1.4v1.52h-1.4zM271.0 311.5h1.4v1.52h-1.4zM277.6 311.5h9.4v1.52h-9.4zM291.0 311.5h2.7v1.52h-2.7zM239.0 312.9h1.4v1.52h-1.4zM248.4 314.4h1.4v1.52h-1.4zM207.1 315.8h1.4v1.52h-1.4zM225.7 315.8h2.7v1.52h-2.7zM235.0 315.8h1.4v1.52h-1.4zM245.7 315.8h1.4v1.52h-1.4zM223.1 317.3h1.4v1.52h-1.4zM237.7 317.3h1.4v1.52h-1.4zM253.7 317.3h2.7v1.52h-2.7zM247.0 318.8h1.4v1.52h-1.4zM248.4 320.2h1.4v1.52h-1.4zM251.0 320.2h1.4v1.52h-1.4zM249.7 321.7h1.4v1.52h-1.4zM252.3 321.7h1.4v1.52h-1.4zM293.6 321.7h1.4v1.52h-1.4zM298.9 321.7h1.4v1.52h-1.4zM247.0 323.2h2.7v1.52h-2.7zM252.3 323.2h1.4v1.52h-1.4zM249.7 324.6h2.7v1.52h-2.7zM221.7 326.1h1.4v1.52h-1.4zM224.4 326.1h1.4v1.52h-1.4zM244.4 326.1h1.4v1.52h-1.4zM248.4 327.6h1.4v1.52h-1.4zM251.0 327.6h1.4v1.52h-1.4zM256.3 327.6h1.4v1.52h-1.4zM196.4 330.5h5.4v1.52h-5.4zM219.1 330.5h1.4v1.52h-1.4zM221.7 330.5h1.4v1.52h-1.4zM224.4 330.5h1.4v1.52h-1.4zM237.7 330.5h2.7v1.52h-2.7zM252.3 330.5h1.4v1.52h-1.4zM267.0 330.5h4.0v1.52h-4.0zM273.6 330.5h2.7v1.52h-2.7zM293.6 330.5h2.7v1.52h-2.7zM300.3 330.5h1.4v1.52h-1.4zM195.1 332.0h2.7v1.52h-2.7zM223.1 332.0h1.4v1.52h-1.4zM231.0 332.0h1.4v1.52h-1.4zM273.6 332.0h1.4v1.52h-1.4zM276.3 332.0h1.4v1.52h-1.4zM283.0 332.0h2.7v1.52h-2.7zM287.0 332.0h5.4v1.52h-5.4zM294.9 332.0h4.0v1.52h-4.0zM300.3 332.0h1.4v1.52h-1.4zM260.3 333.4h1.4v1.52h-1.4zM268.3 334.9h1.4v1.52h-1.4zM256.3 336.4h2.7v1.52h-2.7zM205.8 337.8h2.7v1.52h-2.7zM227.1 337.8h1.4v1.52h-1.4zM236.4 337.8h1.4v1.52h-1.4zM259.0 337.8h1.4v1.52h-1.4zM264.3 337.8h2.7v1.52h-2.7zM271.0 337.8h2.7v1.52h-2.7zM277.6 337.8h2.7v1.52h-2.7zM288.3 337.8h2.7v1.52h-2.7zM260.3 339.3h2.7v1.52h-2.7zM192.4 342.2h1.4v1.52h-1.4zM208.4 342.2h1.4v1.52h-1.4zM219.1 342.2h6.7v1.52h-6.7zM232.4 342.2h1.4v1.52h-1.4zM235.0 342.2h1.4v1.52h-1.4zM239.0 342.2h8.0v1.52h-8.0zM259.0 342.2h2.7v1.52h-2.7zM271.0 342.2h1.4v1.52h-1.4zM273.6 342.2h1.4v1.52h-1.4zM277.6 342.2h1.4v1.52h-1.4zM292.3 342.2h1.4v1.52h-1.4zM298.9 342.2h1.4v1.52h-1.4zM255.0 343.7h1.4v1.52h-1.4zM263.0 343.7h1.4v1.52h-1.4zM268.3 343.7h1.4v1.52h-1.4zM272.3 343.7h1.4v1.52h-1.4zM187.1 345.2h2.7v1.52h-2.7zM211.1 345.2h1.4v1.52h-1.4zM232.4 345.2h2.7v1.52h-2.7zM255.0 345.2h1.4v1.52h-1.4zM264.3 345.2h1.4v1.52h-1.4zM277.6 345.2h5.4v1.52h-5.4zM255.0 346.6h1.4v1.52h-1.4zM271.0 346.6h4.0v1.52h-4.0zM252.3 349.6h1.4v1.52h-1.4zM193.8 351.0h2.7v1.52h-2.7zM220.4 351.0h1.4v1.52h-1.4zM235.0 352.5h1.4v1.52h-1.4zM257.7 352.5h2.7v1.52h-2.7zM268.3 358.4h1.4v1.52h-1.4zM272.3 359.8h2.7v1.52h-2.7zM283.0 359.8h1.4v1.52h-1.4zM243.0 361.3h1.4v1.52h-1.4zM259.0 364.2h1.4v1.52h-1.4zM279.0 364.2h1.4v1.52h-1.4zM294.9 364.2h1.4v1.52h-1.4zM285.6 365.7h1.4v1.52h-1.4zM281.6 367.1h1.4v1.52h-1.4zM288.3 367.1h2.7v1.52h-2.7zM195.1 368.6h2.7v1.52h-2.7zM199.1 368.6h1.4v1.52h-1.4zM205.8 368.6h4.0v1.52h-4.0zM213.7 368.6h5.4v1.52h-5.4zM224.4 368.6h1.4v1.52h-1.4zM231.0 368.6h1.4v1.52h-1.4zM233.7 368.6h1.4v1.52h-1.4zM237.7 368.6h1.4v1.52h-1.4zM292.3 368.6h1.4v1.52h-1.4zM203.1 370.1h2.7v1.52h-2.7zM207.1 370.1h2.7v1.52h-2.7zM212.4 370.1h2.7v1.52h-2.7zM216.4 370.1h4.0v1.52h-4.0zM223.1 370.1h1.4v1.52h-1.4zM221.7 371.5h4.0v1.52h-4.0zM227.1 371.5h1.4v1.52h-1.4zM232.4 371.5h4.0v1.52h-4.0zM293.6 371.5h1.4v1.52h-1.4zM239.0 373.0h4.0v1.52h-4.0zM247.0 373.0h2.7v1.52h-2.7zM255.0 373.0h1.4v1.52h-1.4zM259.0 373.0h6.7v1.52h-6.7zM292.3 373.0h1.4v1.52h-1.4zM193.8 374.5h2.7v1.52h-2.7zM199.1 374.5h2.7v1.52h-2.7zM203.1 374.5h2.7v1.52h-2.7zM207.1 374.5h2.7v1.52h-2.7zM215.1 374.5h2.7v1.52h-2.7zM219.1 374.5h1.4v1.52h-1.4zM223.1 374.5h1.4v1.52h-1.4zM227.1 374.5h1.4v1.52h-1.4zM229.7 374.5h1.4v1.52h-1.4zM232.4 374.5h1.4v1.52h-1.4zM239.0 374.5h1.4v1.52h-1.4zM251.0 374.5h9.4v1.52h-9.4zM261.7 374.5h2.7v1.52h-2.7zM267.0 374.5h2.7v1.52h-2.7zM300.3 374.5h1.4v1.52h-1.4zM197.8 375.9h1.4v1.52h-1.4zM209.7 375.9h1.4v1.52h-1.4zM213.7 375.9h1.4v1.52h-1.4zM216.4 375.9h6.7v1.52h-6.7zM227.1 375.9h1.4v1.52h-1.4zM231.0 375.9h1.4v1.52h-1.4zM239.0 375.9h1.4v1.52h-1.4zM241.7 375.9h1.4v1.52h-1.4zM248.4 375.9h1.4v1.52h-1.4zM251.0 375.9h1.4v1.52h-1.4zM256.3 375.9h2.7v1.52h-2.7zM264.3 375.9h2.7v1.52h-2.7zM269.7 375.9h2.7v1.52h-2.7zM277.6 375.9h6.7v1.52h-6.7zM294.9 375.9h6.7v1.52h-6.7zM291.0 377.4h1.4v1.52h-1.4zM251.0 378.9h1.4v1.52h-1.4zM291.0 380.3h1.4v1.52h-1.4zM298.9 380.3h2.7v1.52h-2.7zM294.9 384.7h1.4v1.52h-1.4zM256.3 386.2h1.4v1.52h-1.4zM272.3 386.2h1.4v1.52h-1.4zM283.0 387.7h1.4v1.52h-1.4z"/>
<path fill="rgb(183,190,74)" d="M187.1 239.6h1.4v1.52h-1.4zM189.8 239.6h2.7v1.52h-2.7zM189.8 241.1h1.4v1.52h-1.4zM185.8 242.6h1.4v1.52h-1.4zM188.4 242.6h1.4v1.52h-1.4zM195.1 244.0h1.4v1.52h-1.4zM199.1 244.0h1.4v1.52h-1.4zM232.4 244.0h1.4v1.52h-1.4zM239.0 244.0h1.4v1.52h-1.4zM298.9 244.0h1.4v1.52h-1.4zM188.4 247.0h1.4v1.52h-1.4zM188.4 248.4h2.7v1.52h-2.7zM285.6 248.4h1.4v1.52h-1.4zM291.0 248.4h2.7v1.52h-2.7zM239.0 249.9h1.4v1.52h-1.4zM283.0 249.9h2.7v1.52h-2.7zM193.8 252.8h1.4v1.52h-1.4zM188.4 254.3h1.4v1.52h-1.4zM192.4 254.3h1.4v1.52h-1.4zM247.0 254.3h1.4v1.52h-1.4zM193.8 258.7h1.4v1.52h-1.4zM196.4 260.2h2.7v1.52h-2.7zM233.7 260.2h2.7v1.52h-2.7zM240.4 260.2h2.7v1.52h-2.7zM193.8 261.6h1.4v1.52h-1.4zM239.0 261.6h1.4v1.52h-1.4zM195.1 263.1h1.4v1.52h-1.4zM260.3 264.5h1.4v1.52h-1.4zM293.6 264.5h1.4v1.52h-1.4zM205.8 266.0h1.4v1.52h-1.4zM205.8 267.5h1.4v1.52h-1.4zM200.4 268.9h1.4v1.52h-1.4zM204.4 268.9h1.4v1.52h-1.4zM228.4 268.9h2.7v1.52h-2.7zM275.0 268.9h1.4v1.52h-1.4zM203.1 270.4h1.4v1.52h-1.4zM204.4 271.9h1.4v1.52h-1.4zM209.7 273.3h1.4v1.52h-1.4zM217.7 274.8h2.7v1.52h-2.7zM217.7 276.3h2.7v1.52h-2.7zM227.1 276.3h2.7v1.52h-2.7zM232.4 276.3h1.4v1.52h-1.4zM236.4 276.3h1.4v1.52h-1.4zM216.4 277.7h1.4v1.52h-1.4zM227.1 277.7h1.4v1.52h-1.4zM219.1 280.7h1.4v1.52h-1.4zM221.7 280.7h1.4v1.52h-1.4zM221.7 282.1h1.4v1.52h-1.4zM223.1 283.6h1.4v1.52h-1.4zM227.1 288.0h1.4v1.52h-1.4zM232.4 289.5h1.4v1.52h-1.4zM229.7 290.9h2.7v1.52h-2.7zM235.0 290.9h1.4v1.52h-1.4zM265.7 290.9h1.4v1.52h-1.4zM228.4 293.9h1.4v1.52h-1.4zM235.0 293.9h1.4v1.52h-1.4zM185.8 295.3h2.7v1.52h-2.7zM196.4 295.3h1.4v1.52h-1.4zM229.7 295.3h2.7v1.52h-2.7zM235.0 295.3h1.4v1.52h-1.4zM232.4 296.8h1.4v1.52h-1.4zM237.7 296.8h1.4v1.52h-1.4zM243.0 296.8h1.4v1.52h-1.4zM199.1 301.2h2.7v1.52h-2.7zM217.7 301.2h1.4v1.52h-1.4zM221.7 301.2h2.7v1.52h-2.7zM233.7 301.2h1.4v1.52h-1.4zM239.0 301.2h4.0v1.52h-4.0zM245.7 301.2h2.7v1.52h-2.7zM252.3 301.2h2.7v1.52h-2.7zM261.7 301.2h1.4v1.52h-1.4zM264.3 301.2h1.4v1.52h-1.4zM267.0 301.2h1.4v1.52h-1.4zM275.0 301.2h2.7v1.52h-2.7zM280.3 301.2h1.4v1.52h-1.4zM284.3 301.2h4.0v1.52h-4.0zM289.6 301.2h1.4v1.52h-1.4zM294.9 301.2h1.4v1.52h-1.4zM197.8 302.7h1.4v1.52h-1.4zM203.1 302.7h1.4v1.52h-1.4zM205.8 302.7h1.4v1.52h-1.4zM215.1 302.7h4.0v1.52h-4.0zM221.7 302.7h1.4v1.52h-1.4zM227.1 302.7h1.4v1.52h-1.4zM231.0 302.7h5.4v1.52h-5.4zM248.4 302.7h2.7v1.52h-2.7zM256.3 302.7h1.4v1.52h-1.4zM260.3 302.7h1.4v1.52h-1.4zM269.7 302.7h1.4v1.52h-1.4zM276.3 302.7h8.0v1.52h-8.0zM287.0 302.7h1.4v1.52h-1.4zM293.6 302.7h1.4v1.52h-1.4zM296.3 302.7h1.4v1.52h-1.4zM300.3 302.7h1.4v1.52h-1.4zM237.7 304.1h1.4v1.52h-1.4zM245.7 305.6h1.4v1.52h-1.4zM243.0 307.1h1.4v1.52h-1.4zM192.4 310.0h1.4v1.52h-1.4zM217.7 310.0h1.4v1.52h-1.4zM237.7 310.0h1.4v1.52h-1.4zM243.0 310.0h1.4v1.52h-1.4zM245.7 310.0h1.4v1.52h-1.4zM249.7 310.0h1.4v1.52h-1.4zM252.3 310.0h1.4v1.52h-1.4zM256.3 310.0h1.4v1.52h-1.4zM261.7 310.0h6.7v1.52h-6.7zM283.0 310.0h1.4v1.52h-1.4zM211.1 311.5h2.7v1.52h-2.7zM245.7 311.5h2.7v1.52h-2.7zM257.7 311.5h8.0v1.52h-8.0zM272.3 311.5h5.4v1.52h-5.4zM247.0 315.8h1.4v1.52h-1.4zM239.0 317.3h1.4v1.52h-1.4zM248.4 317.3h1.4v1.52h-1.4zM249.7 320.2h1.4v1.52h-1.4zM251.0 321.7h1.4v1.52h-1.4zM256.3 321.7h1.4v1.52h-1.4zM292.3 321.7h1.4v1.52h-1.4zM249.7 323.2h2.7v1.52h-2.7zM245.7 324.6h1.4v1.52h-1.4zM252.3 324.6h1.4v1.52h-1.4zM252.3 326.1h1.4v1.52h-1.4zM220.4 330.5h1.4v1.52h-1.4zM227.1 330.5h1.4v1.52h-1.4zM277.6 330.5h1.4v1.52h-1.4zM283.0 330.5h1.4v1.52h-1.4zM287.0 330.5h1.4v1.52h-1.4zM292.3 330.5h1.4v1.52h-1.4zM296.3 330.5h1.4v1.52h-1.4zM217.7 332.0h1.4v1.52h-1.4zM251.0 332.0h1.4v1.52h-1.4zM265.7 332.0h1.4v1.52h-1.4zM268.3 332.0h2.7v1.52h-2.7zM277.6 332.0h1.4v1.52h-1.4zM280.3 332.0h2.7v1.52h-2.7zM292.3 332.0h2.7v1.52h-2.7zM298.9 332.0h1.4v1.52h-1.4zM257.7 333.4h1.4v1.52h-1.4zM256.3 334.9h2.7v1.52h-2.7zM237.7 337.8h1.4v1.52h-1.4zM248.4 337.8h1.4v1.52h-1.4zM252.3 337.8h2.7v1.52h-2.7zM256.3 339.3h1.4v1.52h-1.4zM263.0 339.3h1.4v1.52h-1.4zM259.0 340.8h1.4v1.52h-1.4zM209.7 342.2h2.7v1.52h-2.7zM213.7 342.2h5.4v1.52h-5.4zM229.7 342.2h2.7v1.52h-2.7zM247.0 342.2h1.4v1.52h-1.4zM252.3 342.2h2.7v1.52h-2.7zM257.7 342.2h1.4v1.52h-1.4zM261.7 342.2h4.0v1.52h-4.0zM276.3 342.2h1.4v1.52h-1.4zM279.0 342.2h1.4v1.52h-1.4zM284.3 342.2h4.0v1.52h-4.0zM300.3 342.2h1.4v1.52h-1.4zM259.0 343.7h1.4v1.52h-1.4zM256.3 346.6h1.4v1.52h-1.4zM259.0 346.6h1.4v1.52h-1.4zM268.3 346.6h1.4v1.52h-1.4zM253.7 355.4h1.4v1.52h-1.4zM281.6 359.8h1.4v1.52h-1.4zM280.3 365.7h1.4v1.52h-1.4zM283.0 367.1h1.4v1.52h-1.4zM287.0 367.1h1.4v1.52h-1.4zM189.8 368.6h5.4v1.52h-5.4zM197.8 368.6h1.4v1.52h-1.4zM201.8 368.6h1.4v1.52h-1.4zM204.4 368.6h1.4v1.52h-1.4zM209.7 368.6h2.7v1.52h-2.7zM219.1 368.6h1.4v1.52h-1.4zM221.7 368.6h1.4v1.52h-1.4zM232.4 368.6h1.4v1.52h-1.4zM236.4 368.6h1.4v1.52h-1.4zM283.0 368.6h1.4v1.52h-1.4zM287.0 368.6h1.4v1.52h-1.4zM291.0 368.6h1.4v1.52h-1.4zM197.8 370.1h1.4v1.52h-1.4zM200.4 370.1h1.4v1.52h-1.4zM292.3 370.1h1.4v1.52h-1.4zM225.7 371.5h1.4v1.52h-1.4zM252.3 371.5h1.4v1.52h-1.4zM249.7 373.0h1.4v1.52h-1.4zM291.0 373.0h1.4v1.52h-1.4zM201.8 374.5h1.4v1.52h-1.4zM205.8 374.5h1.4v1.52h-1.4zM209.7 374.5h5.4v1.52h-5.4zM217.7 374.5h1.4v1.52h-1.4zM231.0 374.5h1.4v1.52h-1.4zM240.4 374.5h1.4v1.52h-1.4zM244.4 374.5h1.4v1.52h-1.4zM264.3 374.5h2.7v1.52h-2.7zM269.7 374.5h1.4v1.52h-1.4zM273.6 374.5h6.7v1.52h-6.7zM298.9 374.5h1.4v1.52h-1.4zM200.4 375.9h1.4v1.52h-1.4zM211.1 375.9h2.7v1.52h-2.7zM232.4 375.9h1.4v1.52h-1.4zM237.7 375.9h1.4v1.52h-1.4zM244.4 375.9h4.0v1.52h-4.0zM249.7 375.9h1.4v1.52h-1.4zM259.0 375.9h1.4v1.52h-1.4zM261.7 375.9h1.4v1.52h-1.4zM293.6 375.9h1.4v1.52h-1.4zM284.3 380.3h1.4v1.52h-1.4zM293.6 380.3h1.4v1.52h-1.4z"/>
<path fill="rgb(227,186,64)" d="M187.1 236.7h1.4v1.52h-1.4zM189.8 236.7h1.4v1.52h-1.4zM188.4 239.6h1.4v1.52h-1.4zM185.8 241.1h1.4v1.52h-1.4zM188.4 241.1h1.4v1.52h-1.4zM191.1 242.6h2.7v1.52h-2.7zM189.8 244.0h1.4v1.52h-1.4zM193.8 244.0h1.4v1.52h-1.4zM233.7 244.0h1.4v1.52h-1.4zM240.4 244.0h2.7v1.52h-2.7zM187.1 245.5h2.7v1.52h-2.7zM189.8 247.0h1.4v1.52h-1.4zM189.8 249.9h1.4v1.52h-1.4zM195.1 252.8h1.4v1.52h-1.4zM189.8 254.3h2.7v1.52h-2.7zM236.4 260.2h4.0v1.52h-4.0zM197.8 261.6h1.4v1.52h-1.4zM232.4 261.6h1.4v1.52h-1.4zM237.7 261.6h1.4v1.52h-1.4zM241.7 261.6h1.4v1.52h-1.4zM271.0 261.6h2.7v1.52h-2.7zM199.1 263.1h1.4v1.52h-1.4zM199.1 264.5h1.4v1.52h-1.4zM257.7 264.5h2.7v1.52h-2.7zM204.4 266.0h1.4v1.52h-1.4zM201.8 268.9h2.7v1.52h-2.7zM227.1 268.9h1.4v1.52h-1.4zM273.6 268.9h1.4v1.52h-1.4zM207.1 273.3h2.7v1.52h-2.7zM212.4 274.8h1.4v1.52h-1.4zM211.1 276.3h4.0v1.52h-4.0zM216.4 276.3h1.4v1.52h-1.4zM220.4 276.3h6.7v1.52h-6.7zM229.7 276.3h2.7v1.52h-2.7zM237.7 276.3h1.4v1.52h-1.4zM225.7 277.7h1.4v1.52h-1.4zM219.1 279.2h1.4v1.52h-1.4zM225.7 282.1h1.4v1.52h-1.4zM225.7 283.6h1.4v1.52h-1.4zM228.4 288.0h1.4v1.52h-1.4zM233.7 289.5h1.4v1.52h-1.4zM232.4 290.9h2.7v1.52h-2.7zM228.4 292.4h1.4v1.52h-1.4zM232.4 292.4h1.4v1.52h-1.4zM191.1 295.3h1.4v1.52h-1.4zM193.8 295.3h2.7v1.52h-2.7zM232.4 295.3h1.4v1.52h-1.4zM208.4 301.2h5.4v1.52h-5.4zM219.1 301.2h1.4v1.52h-1.4zM225.7 301.2h1.4v1.52h-1.4zM243.0 301.2h2.7v1.52h-2.7zM259.0 301.2h2.7v1.52h-2.7zM265.7 301.2h1.4v1.52h-1.4zM273.6 301.2h1.4v1.52h-1.4zM277.6 301.2h2.7v1.52h-2.7zM283.0 301.2h1.4v1.52h-1.4zM288.3 301.2h1.4v1.52h-1.4zM298.9 301.2h1.4v1.52h-1.4zM201.8 302.7h1.4v1.52h-1.4zM224.4 302.7h2.7v1.52h-2.7zM236.4 302.7h1.4v1.52h-1.4zM240.4 302.7h1.4v1.52h-1.4zM259.0 302.7h1.4v1.52h-1.4zM261.7 302.7h1.4v1.52h-1.4zM265.7 302.7h1.4v1.52h-1.4zM288.3 302.7h2.7v1.52h-2.7zM237.7 308.5h1.4v1.52h-1.4zM243.0 308.5h1.4v1.52h-1.4zM247.0 310.0h2.7v1.52h-2.7zM251.0 310.0h1.4v1.52h-1.4zM284.3 310.0h4.0v1.52h-4.0zM243.0 311.5h2.7v1.52h-2.7zM240.4 312.9h2.7v1.52h-2.7zM247.0 314.4h1.4v1.52h-1.4zM253.7 314.4h1.4v1.52h-1.4zM244.4 317.3h4.0v1.52h-4.0zM244.4 318.8h1.4v1.52h-1.4zM257.7 321.7h1.4v1.52h-1.4zM291.0 321.7h1.4v1.52h-1.4zM300.3 321.7h1.4v1.52h-1.4zM247.0 324.6h2.7v1.52h-2.7zM245.7 326.1h5.4v1.52h-5.4zM252.3 327.6h1.4v1.52h-1.4zM225.7 330.5h1.4v1.52h-1.4zM271.0 330.5h2.7v1.52h-2.7zM281.6 330.5h1.4v1.52h-1.4zM288.3 330.5h4.0v1.52h-4.0zM297.6 330.5h2.7v1.52h-2.7zM255.0 332.0h1.4v1.52h-1.4zM267.0 332.0h1.4v1.52h-1.4zM272.3 332.0h1.4v1.52h-1.4zM279.0 332.0h1.4v1.52h-1.4zM259.0 333.4h1.4v1.52h-1.4zM239.0 337.8h2.7v1.52h-2.7zM244.4 337.8h4.0v1.52h-4.0zM249.7 337.8h1.4v1.52h-1.4zM255.0 337.8h1.4v1.52h-1.4zM256.3 340.8h1.4v1.52h-1.4zM212.4 342.2h1.4v1.52h-1.4zM225.7 342.2h1.4v1.52h-1.4zM228.4 342.2h1.4v1.52h-1.4zM236.4 342.2h2.7v1.52h-2.7zM248.4 342.2h1.4v1.52h-1.4zM265.7 342.2h5.4v1.52h-5.4zM275.0 342.2h1.4v1.52h-1.4zM281.6 342.2h2.7v1.52h-2.7zM288.3 342.2h4.0v1.52h-4.0zM256.3 343.7h2.7v1.52h-2.7zM260.3 343.7h2.7v1.52h-2.7zM256.3 345.2h5.4v1.52h-5.4zM263.0 345.2h1.4v1.52h-1.4zM257.7 346.6h1.4v1.52h-1.4zM269.7 346.6h1.4v1.52h-1.4zM285.6 367.1h1.4v1.52h-1.4zM187.1 368.6h2.7v1.52h-2.7zM203.1 368.6h1.4v1.52h-1.4zM220.4 368.6h1.4v1.52h-1.4zM227.1 368.6h1.4v1.52h-1.4zM285.6 368.6h1.4v1.52h-1.4zM288.3 368.6h2.7v1.52h-2.7zM199.1 370.1h1.4v1.52h-1.4zM283.0 370.1h1.4v1.52h-1.4zM291.0 370.1h1.4v1.52h-1.4zM236.4 371.5h1.4v1.52h-1.4zM239.0 371.5h4.0v1.52h-4.0zM251.0 371.5h1.4v1.52h-1.4zM283.0 371.5h1.4v1.52h-1.4zM292.3 371.5h1.4v1.52h-1.4zM283.0 373.0h1.4v1.52h-1.4zM225.7 374.5h1.4v1.52h-1.4zM241.7 374.5h1.4v1.52h-1.4zM260.3 374.5h1.4v1.52h-1.4zM271.0 374.5h2.7v1.52h-2.7zM287.0 374.5h4.0v1.52h-4.0zM293.6 374.5h2.7v1.52h-2.7zM297.6 374.5h1.4v1.52h-1.4zM199.1 375.9h1.4v1.52h-1.4zM236.4 375.9h1.4v1.52h-1.4zM243.0 375.9h1.4v1.52h-1.4zM260.3 375.9h1.4v1.52h-1.4zM284.3 375.9h1.4v1.52h-1.4zM287.0 375.9h1.4v1.52h-1.4zM287.0 380.3h4.0v1.52h-4.0zM294.9 380.3h1.4v1.52h-1.4z"/>
<path fill="rgb(244,195,60)" d="M188.4 236.7h1.4v1.52h-1.4zM187.1 241.1h1.4v1.52h-1.4zM187.1 242.6h1.4v1.52h-1.4zM191.1 244.0h2.7v1.52h-2.7zM294.9 244.0h1.4v1.52h-1.4zM187.1 249.9h1.4v1.52h-1.4zM217.7 249.9h1.4v1.52h-1.4zM220.4 249.9h1.4v1.52h-1.4zM195.1 261.6h2.7v1.52h-2.7zM233.7 261.6h4.0v1.52h-4.0zM240.4 261.6h1.4v1.52h-1.4zM196.4 264.5h1.4v1.52h-1.4zM200.4 267.5h1.4v1.52h-1.4zM205.8 271.9h1.4v1.52h-1.4zM215.1 276.3h1.4v1.52h-1.4zM217.7 277.7h8.0v1.52h-8.0zM223.1 279.2h1.4v1.52h-1.4zM220.4 280.7h1.4v1.52h-1.4zM223.1 282.1h1.4v1.52h-1.4zM224.4 283.6h1.4v1.52h-1.4zM235.0 289.5h2.7v1.52h-2.7zM229.7 293.9h1.4v1.52h-1.4zM232.4 293.9h2.7v1.52h-2.7zM192.4 295.3h1.4v1.52h-1.4zM233.7 295.3h1.4v1.52h-1.4zM236.4 296.8h1.4v1.52h-1.4zM201.8 301.2h1.4v1.52h-1.4zM207.1 301.2h1.4v1.52h-1.4zM220.4 301.2h1.4v1.52h-1.4zM224.4 301.2h1.4v1.52h-1.4zM235.0 301.2h1.4v1.52h-1.4zM237.7 301.2h1.4v1.52h-1.4zM281.6 301.2h1.4v1.52h-1.4zM200.4 302.7h1.4v1.52h-1.4zM207.1 302.7h1.4v1.52h-1.4zM209.7 302.7h2.7v1.52h-2.7zM213.7 302.7h1.4v1.52h-1.4zM223.1 302.7h1.4v1.52h-1.4zM237.7 302.7h2.7v1.52h-2.7zM257.7 302.7h1.4v1.52h-1.4zM263.0 302.7h2.7v1.52h-2.7zM267.0 302.7h2.7v1.52h-2.7zM291.0 302.7h2.7v1.52h-2.7zM297.6 302.7h2.7v1.52h-2.7zM243.0 305.6h1.4v1.52h-1.4zM241.7 307.1h1.4v1.52h-1.4zM239.0 308.5h4.0v1.52h-4.0zM239.0 310.0h4.0v1.52h-4.0zM245.7 314.4h1.4v1.52h-1.4zM251.0 314.4h1.4v1.52h-1.4zM245.7 318.8h1.4v1.52h-1.4zM251.0 326.1h1.4v1.52h-1.4zM253.7 327.6h2.7v1.52h-2.7zM253.7 330.5h1.4v1.52h-1.4zM256.3 330.5h1.4v1.52h-1.4zM279.0 330.5h2.7v1.52h-2.7zM252.3 332.0h1.4v1.52h-1.4zM271.0 332.0h1.4v1.52h-1.4zM241.7 337.8h2.7v1.52h-2.7zM251.0 337.8h1.4v1.52h-1.4zM257.7 337.8h1.4v1.52h-1.4zM257.7 339.3h2.7v1.52h-2.7zM257.7 340.8h1.4v1.52h-1.4zM227.1 342.2h1.4v1.52h-1.4zM251.0 342.2h1.4v1.52h-1.4zM255.0 342.2h2.7v1.52h-2.7zM280.3 342.2h1.4v1.52h-1.4zM261.7 345.2h1.4v1.52h-1.4zM284.3 365.7h1.4v1.52h-1.4zM284.3 367.1h1.4v1.52h-1.4zM225.7 368.6h1.4v1.52h-1.4zM284.3 368.6h1.4v1.52h-1.4zM284.3 370.1h1.4v1.52h-1.4zM289.6 370.1h1.4v1.52h-1.4zM237.7 371.5h1.4v1.52h-1.4zM243.0 371.5h8.0v1.52h-8.0zM284.3 373.0h1.4v1.52h-1.4zM224.4 374.5h1.4v1.52h-1.4zM243.0 374.5h1.4v1.52h-1.4zM283.0 374.5h1.4v1.52h-1.4zM291.0 374.5h2.7v1.52h-2.7zM296.3 374.5h1.4v1.52h-1.4zM233.7 375.9h2.7v1.52h-2.7zM285.6 375.9h1.4v1.52h-1.4zM288.3 375.9h1.4v1.52h-1.4zM285.6 380.3h1.4v1.52h-1.4z"/>
<path fill="rgb(242,218,47)" d="M296.3 244.0h2.7v1.52h-2.7zM188.4 249.9h1.4v1.52h-1.4zM219.1 249.9h1.4v1.52h-1.4zM196.4 263.1h1.4v1.52h-1.4zM197.8 264.5h1.4v1.52h-1.4zM196.4 267.5h1.4v1.52h-1.4zM224.4 282.1h1.4v1.52h-1.4zM229.7 292.4h2.7v1.52h-2.7zM231.0 293.9h1.4v1.52h-1.4zM233.7 296.8h2.7v1.52h-2.7zM203.1 301.2h4.0v1.52h-4.0zM236.4 301.2h1.4v1.52h-1.4zM300.3 301.2h1.4v1.52h-1.4zM199.1 302.7h1.4v1.52h-1.4zM208.4 302.7h1.4v1.52h-1.4zM212.4 302.7h1.4v1.52h-1.4zM244.4 305.6h1.4v1.52h-1.4zM239.0 307.1h1.4v1.52h-1.4zM253.7 332.0h1.4v1.52h-1.4zM256.3 337.8h1.4v1.52h-1.4zM249.7 342.2h1.4v1.52h-1.4zM281.6 365.7h1.4v1.52h-1.4zM285.6 370.1h1.4v1.52h-1.4zM288.3 370.1h1.4v1.52h-1.4zM284.3 371.5h4.0v1.52h-4.0zM291.0 371.5h1.4v1.52h-1.4zM285.6 373.0h1.4v1.52h-1.4zM289.6 373.0h1.4v1.52h-1.4zM284.3 374.5h2.7v1.52h-2.7zM289.6 375.9h1.4v1.52h-1.4zM292.3 375.9h1.4v1.52h-1.4z"/>
<path fill="rgb(246,240,32)" d="M197.8 263.1h1.4v1.52h-1.4zM197.8 267.5h2.7v1.52h-2.7zM220.4 279.2h2.7v1.52h-2.7zM240.4 307.1h1.4v1.52h-1.4zM252.3 314.4h1.4v1.52h-1.4zM255.0 330.5h1.4v1.52h-1.4zM283.0 365.7h1.4v1.52h-1.4zM287.0 370.1h1.4v1.52h-1.4zM288.3 371.5h2.7v1.52h-2.7zM287.0 373.0h2.7v1.52h-2.7zM291.0 375.9h1.4v1.52h-1.4z"/>
<rect x="305" y="236.70" width="5.4" height="2.67" fill="rgb(246,240,32)"/>
<rect x="305" y="239.27" width="5.4" height="2.67" fill="rgb(245,235,35)"/>
<rect x="305" y="241.84" width="5.4" height="2.67" fill="rgb(244,231,38)"/>
<rect x="305" y="244.41" width="5.4" height="2.67" fill="rgb(243,226,41)"/>
<rect x="305" y="246.99" width="5.4" height="2.67" fill="rgb(243,222,44)"/>
<rect x="305" y="249.56" width="5.4" height="2.67" fill="rgb(242,217,47)"/>
<rect x="305" y="252.13" width="5.4" height="2.67" fill="rgb(242,213,50)"/>
<rect x="305" y="254.70" width="5.4" height="2.67" fill="rgb(242,208,52)"/>
<rect x="305" y="257.27" width="5.4" height="2.67" fill="rgb(243,204,55)"/>
<rect x="305" y="259.84" width="5.4" height="2.67" fill="rgb(244,199,58)"/>
<rect x="305" y="262.42" width="5.4" height="2.67" fill="rgb(244,194,61)"/>
<rect x="305" y="264.99" width="5.4" height="2.67" fill="rgb(245,189,63)"/>
<rect x="305" y="267.56" width="5.4" height="2.67" fill="rgb(244,186,65)"/>
<rect x="305" y="270.13" width="5.4" height="2.67" fill="rgb(238,186,65)"/>
<rect x="305" y="272.70" width="5.4" height="2.67" fill="rgb(231,186,64)"/>
<rect x="305" y="275.27" width="5.4" height="2.67" fill="rgb(225,186,63)"/>
<rect x="305" y="277.85" width="5.4" height="2.67" fill="rgb(218,185,63)"/>
<rect x="305" y="280.42" width="5.4" height="2.67" fill="rgb(212,186,62)"/>
<rect x="305" y="282.99" width="5.4" height="2.67" fill="rgb(204,186,63)"/>
<rect x="305" y="285.56" width="5.4" height="2.67" fill="rgb(191,189,70)"/>
<rect x="305" y="288.13" width="5.4" height="2.67" fill="rgb(179,191,76)"/>
<rect x="305" y="290.70" width="5.4" height="2.67" fill="rgb(167,193,83)"/>
<rect x="305" y="293.28" width="5.4" height="2.67" fill="rgb(154,196,89)"/>
<rect x="305" y="295.85" width="5.4" height="2.67" fill="rgb(142,198,96)"/>
<rect x="305" y="298.42" width="5.4" height="2.67" fill="rgb(130,199,104)"/>
<rect x="305" y="300.99" width="5.4" height="2.67" fill="rgb(117,197,115)"/>
<rect x="305" y="303.56" width="5.4" height="2.67" fill="rgb(105,195,126)"/>
<rect x="305" y="306.13" width="5.4" height="2.67" fill="rgb(92,194,137)"/>
<rect x="305" y="308.71" width="5.4" height="2.67" fill="rgb(80,192,148)"/>
<rect x="305" y="311.28" width="5.4" height="2.67" fill="rgb(68,190,159)"/>
<rect x="305" y="313.85" width="5.4" height="2.67" fill="rgb(59,188,167)"/>
<rect x="305" y="316.42" width="5.4" height="2.67" fill="rgb(53,186,173)"/>
<rect x="305" y="318.99" width="5.4" height="2.67" fill="rgb(47,184,179)"/>
<rect x="305" y="321.56" width="5.4" height="2.67" fill="rgb(41,181,185)"/>
<rect x="305" y="324.14" width="5.4" height="2.67" fill="rgb(36,179,191)"/>
<rect x="305" y="326.71" width="5.4" height="2.67" fill="rgb(30,176,197)"/>
<rect x="305" y="329.28" width="5.4" height="2.67" fill="rgb(29,173,201)"/>
<rect x="305" y="331.85" width="5.4" height="2.67" fill="rgb(31,168,203)"/>
<rect x="305" y="334.42" width="5.4" height="2.67" fill="rgb(33,163,205)"/>
<rect x="305" y="337.00" width="5.4" height="2.67" fill="rgb(35,158,207)"/>
<rect x="305" y="339.57" width="5.4" height="2.67" fill="rgb(37,154,209)"/>
<rect x="305" y="342.14" width="5.4" height="2.67" fill="rgb(39,149,211)"/>
<rect x="305" y="344.71" width="5.4" height="2.67" fill="rgb(42,143,211)"/>
<rect x="305" y="347.28" width="5.4" height="2.67" fill="rgb(46,137,209)"/>
<rect x="305" y="349.85" width="5.4" height="2.67" fill="rgb(50,131,208)"/>
<rect x="305" y="352.43" width="5.4" height="2.67" fill="rgb(53,125,207)"/>
<rect x="305" y="355.00" width="5.4" height="2.67" fill="rgb(57,119,206)"/>
<rect x="305" y="357.57" width="5.4" height="2.67" fill="rgb(61,113,205)"/>
<rect x="305" y="360.14" width="5.4" height="2.67" fill="rgb(63,108,199)"/>
<rect x="305" y="362.71" width="5.4" height="2.67" fill="rgb(65,103,193)"/>
<rect x="305" y="365.28" width="5.4" height="2.67" fill="rgb(66,98,187)"/>
<rect x="305" y="367.86" width="5.4" height="2.67" fill="rgb(68,93,181)"/>
<rect x="305" y="370.43" width="5.4" height="2.67" fill="rgb(70,89,174)"/>
<rect x="305" y="373.00" width="5.4" height="2.67" fill="rgb(71,84,168)"/>
<rect x="305" y="375.57" width="5.4" height="2.67" fill="rgb(70,79,164)"/>
<rect x="305" y="378.14" width="5.4" height="2.67" fill="rgb(68,74,159)"/>
<rect x="305" y="380.71" width="5.4" height="2.67" fill="rgb(66,70,155)"/>
<rect x="305" y="383.28" width="5.4" height="2.67" fill="rgb(64,65,150)"/>
<rect x="305" y="385.86" width="5.4" height="2.67" fill="rgb(62,60,146)"/>
<rect x="305" y="388.43" width="5.4" height="2.67" fill="rgb(60,56,142)"/>
<rect x="305" y="236.7" width="5.4" height="154.3" fill="none" stroke="#333" stroke-width="0.5"/>
<text x="312.5" y="242.0" font-size="6.5" text-anchor="start" fill="#222" font-weight="bold" >1</text>
<text x="312.5" y="391.5" font-size="6.5" text-anchor="start" fill="#222" font-weight="bold" >0</text>
<rect x="29.0" y="236.7" width="128.0" height="154.3" fill="none" stroke="#444" stroke-width="0.6"/>
<rect x="173.8" y="236.7" width="127.80000000000001" height="153.90000000000003" fill="none" stroke="#444" stroke-width="0.6"/>
<line x1="40.6" y1="236.7" x2="40.6" y2="238.0" stroke="#222" stroke-width="0.6" />
<line x1="40.6" y1="391.0" x2="40.6" y2="389.7" stroke="#222" stroke-width="0.6" />
<line x1="69.3" y1="236.7" x2="69.3" y2="238.0" stroke="#222" stroke-width="0.6" />
<line x1="69.3" y1="391.0" x2="69.3" y2="389.7" stroke="#222" stroke-width="0.6" />
<line x1="97.5" y1="236.7" x2="97.5" y2="238.0" stroke="#222" stroke-width="0.6" />
<line x1="97.5" y1="391.0" x2="97.5" y2="389.7" stroke="#222" stroke-width="0.6" />
<line x1="125.8" y1="236.7" x2="125.8" y2="238.0" stroke="#222" stroke-width="0.6" />
<line x1="125.8" y1="391.0" x2="125.8" y2="389.7" stroke="#222" stroke-width="0.6" />
<line x1="154.0" y1="236.7" x2="154.0" y2="238.0" stroke="#222" stroke-width="0.6" />
<line x1="154.0" y1="391.0" x2="154.0" y2="389.7" stroke="#222" stroke-width="0.6" />
<line x1="184.9" y1="236.7" x2="184.9" y2="238.0" stroke="#222" stroke-width="0.6" />
<line x1="184.9" y1="390.6" x2="184.9" y2="389.3" stroke="#222" stroke-width="0.6" />
<line x1="212.9" y1="236.7" x2="212.9" y2="238.0" stroke="#222" stroke-width="0.6" />
<line x1="212.9" y1="390.6" x2="212.9" y2="389.3" stroke="#222" stroke-width="0.6" />
<line x1="241.2" y1="236.7" x2="241.2" y2="238.0" stroke="#222" stroke-width="0.6" />
<line x1="241.2" y1="390.6" x2="241.2" y2="389.3" stroke="#222" stroke-width="0.6" />
<line x1="269.6" y1="236.7" x2="269.6" y2="238.0" stroke="#222" stroke-width="0.6" />
<line x1="269.6" y1="390.6" x2="269.6" y2="389.3" stroke="#222" stroke-width="0.6" />
<line x1="297.7" y1="236.7" x2="297.7" y2="238.0" stroke="#222" stroke-width="0.6" />
<line x1="297.7" y1="390.6" x2="297.7" y2="389.3" stroke="#222" stroke-width="0.6" />
<line x1="29.0" y1="261.8" x2="30.3" y2="261.8" stroke="#222" stroke-width="0.6" />
<line x1="157.0" y1="261.8" x2="155.7" y2="261.8" stroke="#222" stroke-width="0.6" />
<line x1="29.0" y1="287.5" x2="30.3" y2="287.5" stroke="#222" stroke-width="0.6" />
<line x1="157.0" y1="287.5" x2="155.7" y2="287.5" stroke="#222" stroke-width="0.6" />
<line x1="29.0" y1="313.2" x2="30.3" y2="313.2" stroke="#222" stroke-width="0.6" />
<line x1="157.0" y1="313.2" x2="155.7" y2="313.2" stroke="#222" stroke-width="0.6" />
<line x1="29.0" y1="338.9" x2="30.3" y2="338.9" stroke="#222" stroke-width="0.6" />
<line x1="157.0" y1="338.9" x2="155.7" y2="338.9" stroke="#222" stroke-width="0.6" />
<line x1="29.0" y1="364.6" x2="30.3" y2="364.6" stroke="#222" stroke-width="0.6" />
<line x1="157.0" y1="364.6" x2="155.7" y2="364.6" stroke="#222" stroke-width="0.6" />
<line x1="29.0" y1="390.4" x2="30.3" y2="390.4" stroke="#222" stroke-width="0.6" />
<line x1="157.0" y1="390.4" x2="155.7" y2="390.4" stroke="#222" stroke-width="0.6" />
<line x1="173.8" y1="250.6" x2="175.1" y2="250.6" stroke="#222" stroke-width="0.6" />
<line x1="301.6" y1="250.6" x2="300.3" y2="250.6" stroke="#222" stroke-width="0.6" />
<line x1="173.8" y1="265.3" x2="175.1" y2="265.3" stroke="#222" stroke-width="0.6" />
<line x1="301.6" y1="265.3" x2="300.3" y2="265.3" stroke="#222" stroke-width="0.6" />
<line x1="173.8" y1="279.9" x2="175.1" y2="279.9" stroke="#222" stroke-width="0.6" />
<line x1="301.6" y1="279.9" x2="300.3" y2="279.9" stroke="#222" stroke-width="0.6" />
<line x1="173.8" y1="294.6" x2="175.1" y2="294.6" stroke="#222" stroke-width="0.6" />
<line x1="301.6" y1="294.6" x2="300.3" y2="294.6" stroke="#222" stroke-width="0.6" />
<line x1="173.8" y1="309.3" x2="175.1" y2="309.3" stroke="#222" stroke-width="0.6" />
<line x1="301.6" y1="309.3" x2="300.3" y2="309.3" stroke="#222" stroke-width="0.6" />
<line x1="173.8" y1="323.9" x2="175.1" y2="323.9" stroke="#222" stroke-width="0.6" />
<line x1="301.6" y1="323.9" x2="300.3" y2="323.9" stroke="#222" stroke-width="0.6" />
<line x1="173.8" y1="338.6" x2="175.1" y2="338.6" stroke="#222" stroke-width="0.6" />
<line x1="301.6" y1="338.6" x2="300.3" y2="338.6" stroke="#222" stroke-width="0.6" />
<line x1="173.8" y1="353.2" x2="175.1" y2="353.2" stroke="#222" stroke-width="0.6" />
<line x1="301.6" y1="353.2" x2="300.3" y2="353.2" stroke="#222" stroke-width="0.6" />
<line x1="173.8" y1="367.9" x2="175.1" y2="367.9" stroke="#222" stroke-width="0.6" />
<line x1="301.6" y1="367.9" x2="300.3" y2="367.9" stroke="#222" stroke-width="0.6" />
<line x1="173.8" y1="382.5" x2="175.1" y2="382.5" stroke="#222" stroke-width="0.6" />
<line x1="301.6" y1="382.5" x2="300.3" y2="382.5" stroke="#222" stroke-width="0.6" />
<text x="26.8" y="264.2" font-size="6.7" text-anchor="end" fill="#222" font-weight="bold" >20</text>
<text x="26.8" y="289.9" font-size="6.7" text-anchor="end" fill="#222" font-weight="bold" >40</text>
<text x="26.8" y="315.6" font-size="6.7" text-anchor="end" fill="#222" font-weight="bold" >60</text>
<text x="26.8" y="341.3" font-size="6.7" text-anchor="end" fill="#222" font-weight="bold" >80</text>
<text x="26.8" y="367.0" font-size="6.7" text-anchor="end" fill="#222" font-weight="bold" >100</text>
<text x="26.8" y="392.8" font-size="6.7" text-anchor="end" fill="#222" font-weight="bold" >120</text>
<text x="171.6" y="253.0" font-size="6.7" text-anchor="end" fill="#222" font-weight="bold" >10</text>
<text x="171.6" y="267.7" font-size="6.7" text-anchor="end" fill="#222" font-weight="bold" >20</text>
<text x="171.6" y="282.3" font-size="6.7" text-anchor="end" fill="#222" font-weight="bold" >30</text>
<text x="171.6" y="297.0" font-size="6.7" text-anchor="end" fill="#222" font-weight="bold" >40</text>
<text x="171.6" y="311.7" font-size="6.7" text-anchor="end" fill="#222" font-weight="bold" >50</text>
<text x="171.6" y="326.3" font-size="6.7" text-anchor="end" fill="#222" font-weight="bold" >60</text>
<text x="171.6" y="341.0" font-size="6.7" text-anchor="end" fill="#222" font-weight="bold" >70</text>
<text x="171.6" y="355.6" font-size="6.7" text-anchor="end" fill="#222" font-weight="bold" >80</text>
<text x="171.6" y="370.3" font-size="6.7" text-anchor="end" fill="#222" font-weight="bold" >90</text>
<text x="171.6" y="384.9" font-size="6.7" text-anchor="end" fill="#222" font-weight="bold" >100</text>
<text x="40.6" y="398.1" font-size="7.2" text-anchor="middle" fill="#333" font-weight="bold" >0</text>
<text x="69.3" y="398.1" font-size="7.2" text-anchor="middle" fill="#333" font-weight="bold" >250</text>
<text x="97.5" y="398.1" font-size="7.2" text-anchor="middle" fill="#333" font-weight="bold" >500</text>
<text x="125.8" y="398.1" font-size="7.2" text-anchor="middle" fill="#333" font-weight="bold" >750</text>
<text x="154.0" y="398.1" font-size="7.2" text-anchor="middle" fill="#333" font-weight="bold" >1000</text>
<text x="184.9" y="398.1" font-size="7.2" text-anchor="middle" fill="#333" font-weight="bold" >0</text>
<text x="212.9" y="398.1" font-size="7.2" text-anchor="middle" fill="#333" font-weight="bold" >250</text>
<text x="241.2" y="398.1" font-size="7.2" text-anchor="middle" fill="#333" font-weight="bold" >500</text>
<text x="269.6" y="398.1" font-size="7.2" text-anchor="middle" fill="#333" font-weight="bold" >750</text>
<text x="297.7" y="398.1" font-size="7.2" text-anchor="middle" fill="#333" font-weight="bold" >1000</text>
<text x="93.5" y="404.7" font-size="8.0" text-anchor="middle" fill="#222" font-weight="bold" >Time (ms)</text>
<text x="237.3" y="404.7" font-size="8.0" text-anchor="middle" fill="#222" font-weight="bold" >Time (ms)</text>
<text x="11.3" y="313.5" font-size="8.5" text-anchor="middle" fill="#222" font-weight="bold" transform="rotate(-90 11.3 313.5)">Spontaneous events (5 per neuron)</text>
<text x="325.7" y="234.3" font-size="13.2" text-anchor="start" fill="#111" font-weight="bold" >E</text>
<text x="387.2" y="249.7" font-size="8.5" text-anchor="middle" fill="#222" font-weight="bold" >Spontaneous Event Time</text>
<line x1="353.8" y1="268.9" x2="353.8" y2="377.9" stroke="#333" stroke-width="1.3" />
<line x1="353.2" y1="377.3" x2="423.5" y2="377.3" stroke="#333" stroke-width="1.3" />
<line x1="349.6" y1="377.3" x2="353.8" y2="377.3" stroke="#333" stroke-width="1.0" />
<text x="349.4" y="379.7" font-size="6.8" text-anchor="end" fill="#333" font-weight="bold" >0</text>
<line x1="349.6" y1="363.8" x2="353.8" y2="363.8" stroke="#333" stroke-width="1.0" />
<text x="349.4" y="366.2" font-size="6.8" text-anchor="end" fill="#333" font-weight="bold" >100</text>
<line x1="349.6" y1="350.4" x2="353.8" y2="350.4" stroke="#333" stroke-width="1.0" />
<text x="349.4" y="352.8" font-size="6.8" text-anchor="end" fill="#333" font-weight="bold" >200</text>
<line x1="349.6" y1="336.9" x2="353.8" y2="336.9" stroke="#333" stroke-width="1.0" />
<text x="349.4" y="339.3" font-size="6.8" text-anchor="end" fill="#333" font-weight="bold" >300</text>
<line x1="349.6" y1="323.4" x2="353.8" y2="323.4" stroke="#333" stroke-width="1.0" />
<text x="349.4" y="325.8" font-size="6.8" text-anchor="end" fill="#333" font-weight="bold" >400</text>
<line x1="349.6" y1="309.9" x2="353.8" y2="309.9" stroke="#333" stroke-width="1.0" />
<text x="349.4" y="312.3" font-size="6.8" text-anchor="end" fill="#333" font-weight="bold" >500</text>
<line x1="349.6" y1="296.4" x2="353.8" y2="296.4" stroke="#333" stroke-width="1.0" />
<text x="349.4" y="298.8" font-size="6.8" text-anchor="end" fill="#333" font-weight="bold" >600</text>
<line x1="349.6" y1="283.0" x2="353.8" y2="283.0" stroke="#333" stroke-width="1.0" />
<text x="349.4" y="285.4" font-size="6.8" text-anchor="end" fill="#333" font-weight="bold" >700</text>
<line x1="349.6" y1="269.5" x2="353.8" y2="269.5" stroke="#333" stroke-width="1.0" />
<text x="349.4" y="271.9" font-size="6.8" text-anchor="end" fill="#333" font-weight="bold" >800</text>
<line x1="374.6" y1="377.3" x2="374.6" y2="381.1" stroke="#333" stroke-width="1.0" />
<line x1="405.8" y1="377.3" x2="405.8" y2="381.1" stroke="#333" stroke-width="1.0" />
<text x="374.6" y="390.7" font-size="8.4" text-anchor="middle" fill="#772885" font-weight="bold" >Early</text>
<text x="405.8" y="390.7" font-size="8.4" text-anchor="middle" fill="#17703a" font-weight="bold" >Late</text>
<text x="334.8" y="323.4" font-size="8.9" text-anchor="middle" fill="#333" font-weight="bold" transform="rotate(-90 334.8 323.4)">Time (ms)</text>
<path d="M374.6,302.5 L374.6,265.0 L405.8,265.0 L405.8,270.5" fill="none" stroke="#333" stroke-width="1.0"/>
<text x="390.2" y="261.7" font-size="7.0" text-anchor="middle" fill="#222" font-weight="bold" >&lt;0.0001</text>
<circle cx="374.6" cy="312.9" r="1.25" fill="#772885" fill-opacity="1"/>
<circle cx="374.6" cy="323.9" r="1.25" fill="#772885" fill-opacity="0.45"/>
<circle cx="374.6" cy="328.9" r="1.25" fill="#772885" fill-opacity="1"/>
<circle cx="374.6" cy="333.5" r="1.25" fill="#772885" fill-opacity="1"/>
<circle cx="370.3" cy="343.5" r="1.25" fill="#772885" fill-opacity="1"/>
<circle cx="374.6" cy="345.5" r="1.25" fill="#772885" fill-opacity="0.45"/>
<circle cx="372.9" cy="348.6" r="1.25" fill="#772885" fill-opacity="1"/>
<circle cx="376.8" cy="347.7" r="1.25" fill="#772885" fill-opacity="1"/>
<circle cx="369.9" cy="355.1" r="1.25" fill="#772885" fill-opacity="0.45"/>
<circle cx="374.6" cy="357.5" r="1.25" fill="#772885" fill-opacity="1"/>
<circle cx="378.9" cy="357.5" r="1.25" fill="#772885" fill-opacity="1"/>
<circle cx="374.6" cy="360.6" r="1.25" fill="#772885" fill-opacity="1"/>
<circle cx="374.6" cy="366.5" r="1.25" fill="#772885" fill-opacity="0.45"/>
<circle cx="370.3" cy="369.2" r="1.25" fill="#772885" fill-opacity="1"/>
<circle cx="378.9" cy="369.6" r="1.25" fill="#772885" fill-opacity="1"/>
<circle cx="374.6" cy="371.0" r="1.25" fill="#772885" fill-opacity="1"/>
<circle cx="370.3" cy="372.7" r="1.25" fill="#772885" fill-opacity="1"/>
<circle cx="378.9" cy="371.4" r="1.25" fill="#772885" fill-opacity="1"/>
<circle cx="374.6" cy="373.9" r="1.25" fill="#772885" fill-opacity="1"/>
<circle cx="370.3" cy="376.5" r="1.25" fill="#772885" fill-opacity="1"/>
<circle cx="378.9" cy="376.5" r="1.25" fill="#772885" fill-opacity="1"/>
<circle cx="374.6" cy="377.3" r="1.25" fill="#772885" fill-opacity="0.45"/>
<circle cx="405.8" cy="281.4" r="1.25" fill="#17703a" fill-opacity="1"/>
<circle cx="405.8" cy="285.0" r="1.25" fill="#17703a" fill-opacity="1"/>
<circle cx="405.8" cy="300.1" r="1.25" fill="#17703a" fill-opacity="1"/>
<circle cx="405.8" cy="303.3" r="1.25" fill="#17703a" fill-opacity="1"/>
<circle cx="405.8" cy="306.4" r="1.25" fill="#17703a" fill-opacity="1"/>
<circle cx="398.8" cy="314.8" r="1.25" fill="#17703a" fill-opacity="1"/>
<circle cx="402.1" cy="315.3" r="1.25" fill="#17703a" fill-opacity="1"/>
<circle cx="409.2" cy="315.2" r="1.25" fill="#17703a" fill-opacity="1"/>
<circle cx="412.5" cy="314.8" r="1.25" fill="#17703a" fill-opacity="1"/>
<circle cx="405.4" cy="316.9" r="1.25" fill="#17703a" fill-opacity="1"/>
<circle cx="405.4" cy="320.8" r="1.25" fill="#17703a" fill-opacity="1"/>
<circle cx="401.4" cy="323.9" r="1.25" fill="#17703a" fill-opacity="1"/>
<circle cx="409.2" cy="324.6" r="1.25" fill="#17703a" fill-opacity="1"/>
<circle cx="401.4" cy="328.5" r="1.25" fill="#17703a" fill-opacity="1"/>
<circle cx="410.3" cy="329.5" r="1.25" fill="#17703a" fill-opacity="0.45"/>
<circle cx="405.8" cy="330.3" r="1.25" fill="#17703a" fill-opacity="1"/>
<circle cx="401.9" cy="333.5" r="1.25" fill="#17703a" fill-opacity="1"/>
<circle cx="408.1" cy="334.6" r="1.25" fill="#17703a" fill-opacity="1"/>
<circle cx="404.7" cy="337.8" r="1.25" fill="#17703a" fill-opacity="1"/>
<circle cx="409.1" cy="336.5" r="1.25" fill="#17703a" fill-opacity="1"/>
<circle cx="402.9" cy="336.5" r="1.25" fill="#17703a" fill-opacity="1"/>
<circle cx="405.8" cy="339.4" r="1.25" fill="#17703a" fill-opacity="1"/>
<circle cx="405.8" cy="342.9" r="1.25" fill="#17703a" fill-opacity="1"/>
<line x1="364.2" y1="356.4" x2="385.0" y2="356.4" stroke="#772885" stroke-width="1.0" />
<line x1="374.6" y1="360.5" x2="374.6" y2="352.4" stroke="#772885" stroke-width="0.8" />
<line x1="369.4" y1="360.5" x2="379.8" y2="360.5" stroke="#772885" stroke-width="0.8" />
<line x1="369.4" y1="352.4" x2="379.8" y2="352.4" stroke="#772885" stroke-width="0.8" />
<line x1="395.4" y1="319.5" x2="416.2" y2="319.5" stroke="#17703a" stroke-width="1.0" />
<line x1="405.8" y1="322.9" x2="405.8" y2="316.1" stroke="#17703a" stroke-width="0.8" />
<line x1="400.6" y1="322.9" x2="411.0" y2="322.9" stroke="#17703a" stroke-width="0.8" />
<line x1="400.6" y1="316.1" x2="411.0" y2="316.1" stroke="#17703a" stroke-width="0.8" />
<text x="450.6" y="234.3" font-size="13.2" text-anchor="start" fill="#111" font-weight="bold" >F</text>
<text x="513.5" y="249.7" font-size="8.5" text-anchor="middle" fill="#222" font-weight="bold" >Spontaneous Peak Time</text>
<line x1="478.9" y1="267.3" x2="478.9" y2="378.5" stroke="#333" stroke-width="1.3" />
<line x1="478.3" y1="377.9" x2="543.5" y2="377.9" stroke="#333" stroke-width="1.3" />
<line x1="474.7" y1="377.9" x2="478.9" y2="377.9" stroke="#333" stroke-width="1.0" />
<text x="474.5" y="380.3" font-size="6.8" text-anchor="end" fill="#333" font-weight="bold" >0</text>
<line x1="474.7" y1="366.9" x2="478.9" y2="366.9" stroke="#333" stroke-width="1.0" />
<text x="474.5" y="369.3" font-size="6.8" text-anchor="end" fill="#333" font-weight="bold" >100</text>
<line x1="474.7" y1="355.9" x2="478.9" y2="355.9" stroke="#333" stroke-width="1.0" />
<text x="474.5" y="358.3" font-size="6.8" text-anchor="end" fill="#333" font-weight="bold" >200</text>
<line x1="474.7" y1="344.9" x2="478.9" y2="344.9" stroke="#333" stroke-width="1.0" />
<text x="474.5" y="347.3" font-size="6.8" text-anchor="end" fill="#333" font-weight="bold" >300</text>
<line x1="474.7" y1="333.9" x2="478.9" y2="333.9" stroke="#333" stroke-width="1.0" />
<text x="474.5" y="336.3" font-size="6.8" text-anchor="end" fill="#333" font-weight="bold" >400</text>
<line x1="474.7" y1="322.9" x2="478.9" y2="322.9" stroke="#333" stroke-width="1.0" />
<text x="474.5" y="325.3" font-size="6.8" text-anchor="end" fill="#333" font-weight="bold" >500</text>
<line x1="474.7" y1="311.9" x2="478.9" y2="311.9" stroke="#333" stroke-width="1.0" />
<text x="474.5" y="314.3" font-size="6.8" text-anchor="end" fill="#333" font-weight="bold" >600</text>
<line x1="474.7" y1="300.9" x2="478.9" y2="300.9" stroke="#333" stroke-width="1.0" />
<text x="474.5" y="303.3" font-size="6.8" text-anchor="end" fill="#333" font-weight="bold" >700</text>
<line x1="474.7" y1="289.9" x2="478.9" y2="289.9" stroke="#333" stroke-width="1.0" />
<text x="474.5" y="292.3" font-size="6.8" text-anchor="end" fill="#333" font-weight="bold" >800</text>
<line x1="474.7" y1="278.9" x2="478.9" y2="278.9" stroke="#333" stroke-width="1.0" />
<text x="474.5" y="281.3" font-size="6.8" text-anchor="end" fill="#333" font-weight="bold" >900</text>
<line x1="474.7" y1="267.9" x2="478.9" y2="267.9" stroke="#333" stroke-width="1.0" />
<text x="474.5" y="270.3" font-size="6.8" text-anchor="end" fill="#333" font-weight="bold" >1000</text>
<line x1="499.8" y1="377.9" x2="499.8" y2="381.7" stroke="#333" stroke-width="1.0" />
<line x1="531.7" y1="377.9" x2="531.7" y2="381.7" stroke="#333" stroke-width="1.0" />
<text x="499.8" y="390.7" font-size="8.4" text-anchor="middle" fill="#772885" font-weight="bold" >Early</text>
<text x="531.7" y="390.7" font-size="8.4" text-anchor="middle" fill="#17703a" font-weight="bold" >Late</text>
<text x="458.0" y="322.9" font-size="8.9" text-anchor="middle" fill="#333" font-weight="bold" transform="rotate(-90 458.0 322.9)">Time (ms)</text>
<path d="M499.8,348.4 L499.8,264.7 L531.7,264.7 L531.7,271.0" fill="none" stroke="#333" stroke-width="1.0"/>
<text x="515.8" y="261.7" font-size="7.0" text-anchor="middle" fill="#222" font-weight="bold" >&lt;0.0001</text>
<circle cx="499.8" cy="355.9" r="1.25" fill="#772885" fill-opacity="0.45"/>
<circle cx="493.8" cy="367.4" r="1.25" fill="#772885" fill-opacity="1"/>
<circle cx="497.8" cy="367.8" r="1.25" fill="#772885" fill-opacity="1"/>
<circle cx="502.8" cy="368.0" r="1.25" fill="#772885" fill-opacity="1"/>
<circle cx="506.8" cy="367.1" r="1.25" fill="#772885" fill-opacity="1"/>
<circle cx="491.8" cy="369.6" r="1.25" fill="#772885" fill-opacity="1"/>
<circle cx="495.8" cy="370.0" r="1.25" fill="#772885" fill-opacity="1"/>
<circle cx="500.8" cy="369.3" r="1.25" fill="#772885" fill-opacity="1"/>
<circle cx="504.8" cy="370.2" r="1.25" fill="#772885" fill-opacity="1"/>
<circle cx="493.8" cy="371.8" r="1.25" fill="#772885" fill-opacity="0.45"/>
<circle cx="497.8" cy="372.4" r="1.25" fill="#772885" fill-opacity="1"/>
<circle cx="502.8" cy="372.2" r="1.25" fill="#772885" fill-opacity="1"/>
<circle cx="506.8" cy="372.6" r="1.25" fill="#772885" fill-opacity="1"/>
<circle cx="490.8" cy="374.6" r="1.25" fill="#772885" fill-opacity="1"/>
<circle cx="494.8" cy="374.8" r="1.25" fill="#772885" fill-opacity="1"/>
<circle cx="499.8" cy="374.4" r="1.25" fill="#772885" fill-opacity="1"/>
<circle cx="503.8" cy="375.1" r="1.25" fill="#772885" fill-opacity="1"/>
<circle cx="507.8" cy="374.6" r="1.25" fill="#772885" fill-opacity="1"/>
<circle cx="492.8" cy="376.6" r="1.25" fill="#772885" fill-opacity="1"/>
<circle cx="496.8" cy="377.0" r="1.25" fill="#772885" fill-opacity="1"/>
<circle cx="501.8" cy="376.8" r="1.25" fill="#772885" fill-opacity="1"/>
<circle cx="505.8" cy="377.3" r="1.25" fill="#772885" fill-opacity="1"/>
<circle cx="498.8" cy="377.9" r="1.25" fill="#772885" fill-opacity="0.45"/>
<circle cx="531.7" cy="300.9" r="1.25" fill="#17703a" fill-opacity="1"/>
<circle cx="527.5" cy="307.4" r="1.25" fill="#17703a" fill-opacity="1"/>
<circle cx="532.5" cy="308.6" r="1.25" fill="#17703a" fill-opacity="0.45"/>
<circle cx="526.3" cy="314.8" r="1.25" fill="#17703a" fill-opacity="1"/>
<circle cx="531.2" cy="315.4" r="1.25" fill="#17703a" fill-opacity="1"/>
<circle cx="536.1" cy="318.4" r="1.25" fill="#17703a" fill-opacity="1"/>
<circle cx="528.8" cy="318.7" r="1.25" fill="#17703a" fill-opacity="1"/>
<circle cx="527.5" cy="322.1" r="1.25" fill="#17703a" fill-opacity="1"/>
<circle cx="522.6" cy="329.9" r="1.25" fill="#17703a" fill-opacity="1"/>
<circle cx="528.8" cy="330.7" r="1.25" fill="#17703a" fill-opacity="1"/>
<circle cx="533.7" cy="329.9" r="1.25" fill="#17703a" fill-opacity="1"/>
<circle cx="537.4" cy="330.7" r="1.25" fill="#17703a" fill-opacity="1"/>
<circle cx="527.5" cy="336.9" r="1.25" fill="#17703a" fill-opacity="1"/>
<circle cx="532.5" cy="337.2" r="1.25" fill="#17703a" fill-opacity="1"/>
<circle cx="537.4" cy="337.2" r="1.25" fill="#17703a" fill-opacity="1"/>
<circle cx="527.5" cy="335.0" r="1.25" fill="#17703a" fill-opacity="1"/>
<circle cx="537.4" cy="335.0" r="1.25" fill="#17703a" fill-opacity="1"/>
<circle cx="531.7" cy="352.0" r="1.25" fill="#17703a" fill-opacity="1"/>
<circle cx="531.7" cy="360.6" r="1.25" fill="#17703a" fill-opacity="1"/>
<circle cx="531.7" cy="372.5" r="1.25" fill="#17703a" fill-opacity="1"/>
<circle cx="531.7" cy="275.6" r="1.25" fill="#17703a" fill-opacity="1"/>
<circle cx="530.7" cy="326.2" r="1.25" fill="#17703a" fill-opacity="1"/>
<circle cx="535.7" cy="325.1" r="1.25" fill="#17703a" fill-opacity="1"/>
<line x1="489.4" y1="372.5" x2="510.2" y2="372.5" stroke="#772885" stroke-width="1.0" />
<line x1="499.8" y1="373.6" x2="499.8" y2="371.4" stroke="#772885" stroke-width="0.8" />
<line x1="494.6" y1="373.6" x2="505.0" y2="373.6" stroke="#772885" stroke-width="0.8" />
<line x1="494.6" y1="371.4" x2="505.0" y2="371.4" stroke="#772885" stroke-width="0.8" />
<line x1="521.3" y1="326.3" x2="542.1" y2="326.3" stroke="#17703a" stroke-width="1.0" />
<line x1="531.7" y1="330.7" x2="531.7" y2="321.9" stroke="#17703a" stroke-width="0.8" />
<line x1="526.5" y1="330.7" x2="536.9" y2="330.7" stroke="#17703a" stroke-width="0.8" />
<line x1="526.5" y1="321.9" x2="536.9" y2="321.9" stroke="#17703a" stroke-width="0.8" />
<text x="574.9" y="234.3" font-size="13.2" text-anchor="start" fill="#111" font-weight="bold" >G</text>
<text x="637.6" y="249.7" font-size="8.5" text-anchor="middle" fill="#222" font-weight="bold" >Mean Center of Gravity</text>
<line x1="602.4" y1="263.6" x2="602.4" y2="377.3" stroke="#333" stroke-width="1.3" />
<line x1="601.8" y1="376.7" x2="677.3" y2="376.7" stroke="#333" stroke-width="1.3" />
<line x1="598.2" y1="376.7" x2="602.4" y2="376.7" stroke="#333" stroke-width="1.0" />
<text x="598.0" y="379.1" font-size="6.8" text-anchor="end" fill="#333" font-weight="bold" >0</text>
<line x1="598.2" y1="362.6" x2="602.4" y2="362.6" stroke="#333" stroke-width="1.0" />
<text x="598.0" y="365.0" font-size="6.8" text-anchor="end" fill="#333" font-weight="bold" >100</text>
<line x1="598.2" y1="348.6" x2="602.4" y2="348.6" stroke="#333" stroke-width="1.0" />
<text x="598.0" y="351.0" font-size="6.8" text-anchor="end" fill="#333" font-weight="bold" >200</text>
<line x1="598.2" y1="334.5" x2="602.4" y2="334.5" stroke="#333" stroke-width="1.0" />
<text x="598.0" y="336.9" font-size="6.8" text-anchor="end" fill="#333" font-weight="bold" >300</text>
<line x1="598.2" y1="320.4" x2="602.4" y2="320.4" stroke="#333" stroke-width="1.0" />
<text x="598.0" y="322.8" font-size="6.8" text-anchor="end" fill="#333" font-weight="bold" >400</text>
<line x1="598.2" y1="306.4" x2="602.4" y2="306.4" stroke="#333" stroke-width="1.0" />
<text x="598.0" y="308.8" font-size="6.8" text-anchor="end" fill="#333" font-weight="bold" >500</text>
<line x1="598.2" y1="292.3" x2="602.4" y2="292.3" stroke="#333" stroke-width="1.0" />
<text x="598.0" y="294.7" font-size="6.8" text-anchor="end" fill="#333" font-weight="bold" >600</text>
<line x1="598.2" y1="278.3" x2="602.4" y2="278.3" stroke="#333" stroke-width="1.0" />
<text x="598.0" y="280.7" font-size="6.8" text-anchor="end" fill="#333" font-weight="bold" >700</text>
<line x1="598.2" y1="264.2" x2="602.4" y2="264.2" stroke="#333" stroke-width="1.0" />
<text x="598.0" y="266.6" font-size="6.8" text-anchor="end" fill="#333" font-weight="bold" >800</text>
<line x1="623.7" y1="376.7" x2="623.7" y2="380.5" stroke="#333" stroke-width="1.0" />
<line x1="655.9" y1="376.7" x2="655.9" y2="380.5" stroke="#333" stroke-width="1.0" />
<text x="623.7" y="390.7" font-size="8.4" text-anchor="middle" fill="#772885" font-weight="bold" >Early</text>
<text x="655.9" y="390.7" font-size="8.4" text-anchor="middle" fill="#17703a" font-weight="bold" >Late</text>
<text x="582.0" y="320.4" font-size="8.9" text-anchor="middle" fill="#333" font-weight="bold" transform="rotate(-90 582.0 320.4)">Time (ms)</text>
<path d="M623.7,297.4 L623.7,264.7 L655.9,264.7 L655.9,270.9" fill="none" stroke="#333" stroke-width="1.0"/>
<text x="639.8" y="261.7" font-size="7.0" text-anchor="middle" fill="#222" font-weight="bold" >&lt;0.0001</text>
<circle cx="623.7" cy="327.5" r="1.25" fill="#772885" fill-opacity="0.45"/>
<circle cx="618.8" cy="333.0" r="1.25" fill="#772885" fill-opacity="1"/>
<circle cx="623.7" cy="334.8" r="1.25" fill="#772885" fill-opacity="0.45"/>
<circle cx="628.1" cy="336.1" r="1.25" fill="#772885" fill-opacity="1"/>
<circle cx="614.6" cy="339.7" r="1.25" fill="#772885" fill-opacity="1"/>
<circle cx="619.5" cy="339.7" r="1.25" fill="#772885" fill-opacity="1"/>
<circle cx="623.7" cy="339.7" r="1.25" fill="#772885" fill-opacity="1"/>
<circle cx="633.5" cy="340.4" r="1.25" fill="#772885" fill-opacity="1"/>
<circle cx="623.7" cy="342.9" r="1.25" fill="#772885" fill-opacity="0.45"/>
<circle cx="614.6" cy="344.8" r="1.25" fill="#772885" fill-opacity="1"/>
<circle cx="619.5" cy="344.8" r="1.25" fill="#772885" fill-opacity="1"/>
<circle cx="628.4" cy="344.8" r="1.25" fill="#772885" fill-opacity="1"/>
<circle cx="633.5" cy="344.8" r="1.25" fill="#772885" fill-opacity="1"/>
<circle cx="614.6" cy="352.1" r="1.25" fill="#772885" fill-opacity="1"/>
<circle cx="619.5" cy="350.8" r="1.25" fill="#772885" fill-opacity="1"/>
<circle cx="623.7" cy="352.1" r="1.25" fill="#772885" fill-opacity="1"/>
<circle cx="628.6" cy="350.8" r="1.25" fill="#772885" fill-opacity="1"/>
<circle cx="633.5" cy="352.1" r="1.25" fill="#772885" fill-opacity="1"/>
<circle cx="623.7" cy="356.6" r="1.25" fill="#772885" fill-opacity="1"/>
<circle cx="623.7" cy="362.6" r="1.25" fill="#772885" fill-opacity="0.45"/>
<circle cx="621.7" cy="347.9" r="1.25" fill="#772885" fill-opacity="1"/>
<circle cx="626.7" cy="347.2" r="1.25" fill="#772885" fill-opacity="0.45"/>
<circle cx="655.9" cy="301.3" r="1.25" fill="#17703a" fill-opacity="1"/>
<circle cx="651.0" cy="303.9" r="1.25" fill="#17703a" fill-opacity="1"/>
<circle cx="661.3" cy="303.9" r="1.25" fill="#17703a" fill-opacity="1"/>
<circle cx="651.0" cy="306.8" r="1.25" fill="#17703a" fill-opacity="1"/>
<circle cx="655.9" cy="307.7" r="1.25" fill="#17703a" fill-opacity="1"/>
<circle cx="646.6" cy="308.2" r="1.25" fill="#17703a" fill-opacity="0.45"/>
<circle cx="660.9" cy="306.8" r="1.25" fill="#17703a" fill-opacity="1"/>
<circle cx="665.8" cy="309.2" r="1.25" fill="#17703a" fill-opacity="1"/>
<circle cx="646.6" cy="315.4" r="1.25" fill="#17703a" fill-opacity="1"/>
<circle cx="655.9" cy="315.4" r="1.25" fill="#17703a" fill-opacity="1"/>
<circle cx="661.3" cy="316.1" r="1.25" fill="#17703a" fill-opacity="1"/>
<circle cx="666.2" cy="315.4" r="1.25" fill="#17703a" fill-opacity="1"/>
<circle cx="651.5" cy="316.1" r="1.25" fill="#17703a" fill-opacity="1"/>
<circle cx="655.9" cy="334.4" r="1.25" fill="#17703a" fill-opacity="1"/>
<circle cx="653.9" cy="310.6" r="1.25" fill="#17703a" fill-opacity="1"/>
<circle cx="658.9" cy="312.0" r="1.25" fill="#17703a" fill-opacity="1"/>
<circle cx="662.9" cy="312.7" r="1.25" fill="#17703a" fill-opacity="1"/>
<line x1="613.3" y1="344.4" x2="634.1" y2="344.4" stroke="#772885" stroke-width="1.0" />
<line x1="623.7" y1="345.8" x2="623.7" y2="342.9" stroke="#772885" stroke-width="0.8" />
<line x1="618.5" y1="345.8" x2="628.9" y2="345.8" stroke="#772885" stroke-width="0.8" />
<line x1="618.5" y1="342.9" x2="628.9" y2="342.9" stroke="#772885" stroke-width="0.8" />
<line x1="645.5" y1="308.8" x2="666.3" y2="308.8" stroke="#17703a" stroke-width="1.0" />
<line x1="655.9" y1="310.2" x2="655.9" y2="307.4" stroke="#17703a" stroke-width="0.8" />
<line x1="650.7" y1="310.2" x2="661.1" y2="310.2" stroke="#17703a" stroke-width="0.8" />
<line x1="650.7" y1="307.4" x2="661.1" y2="307.4" stroke="#17703a" stroke-width="0.8" />
<text x="-0.3" y="10.9" font-size="13.6" text-anchor="start" fill="#111" font-weight="bold" >A</text>
<text x="128.5" y="15.9" font-size="8.5" text-anchor="middle" fill="#222" font-weight="bold" >Aligned Spontaneous Events</text>
<text x="73.7" y="29.2" font-size="7.5" text-anchor="middle" fill="#772885" font-weight="bold" >Early</text>
<text x="194.0" y="29.2" font-size="7.5" text-anchor="middle" fill="#17703a" font-weight="bold" >Late</text>
<line x1="22.4" y1="31.4" x2="22.4" y2="111.3" stroke="#444" stroke-width="1.0" />
<line x1="21.9" y1="110.8" x2="124.7" y2="110.8" stroke="#444" stroke-width="1.0" />
<line x1="22.4" y1="106.2" x2="24.0" y2="106.2" stroke="#555" stroke-width="0.7" />
<text x="21.0" y="108.6" font-size="6.7" text-anchor="end" fill="#333" font-weight="bold" >0</text>
<line x1="22.4" y1="88.7" x2="24.0" y2="88.7" stroke="#555" stroke-width="0.7" />
<text x="21.0" y="91.1" font-size="6.7" text-anchor="end" fill="#333" font-weight="bold" >20</text>
<line x1="22.4" y1="71.2" x2="24.0" y2="71.2" stroke="#555" stroke-width="0.7" />
<text x="21.0" y="73.6" font-size="6.7" text-anchor="end" fill="#333" font-weight="bold" >40</text>
<line x1="22.4" y1="53.7" x2="24.0" y2="53.7" stroke="#555" stroke-width="0.7" />
<text x="21.0" y="56.1" font-size="6.7" text-anchor="end" fill="#333" font-weight="bold" >60</text>
<line x1="22.4" y1="36.2" x2="24.0" y2="36.2" stroke="#555" stroke-width="0.7" />
<text x="21.0" y="38.6" font-size="6.7" text-anchor="end" fill="#333" font-weight="bold" >80</text>
<text x="11.5" y="71.2" font-size="7" text-anchor="middle" fill="#333" font-weight="bold" transform="rotate(-90 11.5 71.2)">mV</text>
<line x1="32.2" y1="110.8" x2="32.2" y2="109.2" stroke="#555" stroke-width="0.7" />
<text x="31.9" y="118.7" font-size="6.7" text-anchor="middle" fill="#333" font-weight="bold" >0</text>
<line x1="78.2" y1="110.8" x2="78.2" y2="109.2" stroke="#555" stroke-width="0.7" />
<text x="77.9" y="118.7" font-size="6.7" text-anchor="middle" fill="#333" font-weight="bold" >500</text>
<line x1="124.2" y1="110.8" x2="124.2" y2="109.2" stroke="#555" stroke-width="0.7" />
<text x="123.9" y="118.7" font-size="6.7" text-anchor="middle" fill="#333" font-weight="bold" >1000</text>
<path d="M23.0 106.2 23.5 106.2 23.9 106.2 24.4 106.2 24.8 106.2 25.3 106.2 25.8 106.2 26.2 106.2 26.7 106.2 27.1 106.2 27.6 106.2 28.1 106.2 28.5 106.2 29.0 106.2 29.4 106.2 29.9 106.2 30.4 106.2 30.8 106.2 31.3 106.2 31.7 106.2 32.2 106.2 32.7 106.6 33.1 106.6 33.6 106.3 34.0 44.9 34.5 53.9 35.0 61.4 35.4 67.4 35.9 72.7 36.3 76.6 36.8 80.3 37.3 83.7 37.7 86.0 38.2 88.4 38.6 90.6 39.1 92.1 39.6 93.4 40.0 95.0 40.5 96.0 40.9 96.4 41.4 97.5 41.9 98.3 42.3 98.6 42.8 99.4 43.2 99.5 43.7 99.6 44.2 100.7 44.6 101.2 45.1 101.1 45.5 101.4 46.0 101.7 46.5 101.4 46.9 101.7 47.4 101.5 47.8 102.0 48.3 102.4 48.8 102.6 49.2 102.7 49.7 103.0 50.1 103.3 50.6 103.2 51.1 103.0 51.5 102.8 52.0 103.4 52.4 104.0 52.9 103.6 53.4 104.0 53.8 104.3 54.3 104.0 54.7 103.7 55.2 103.6 55.7 104.0 56.1 104.3 56.6 104.3 57.0 104.0 57.5 104.1 58.0 104.5 58.4 104.4 58.9 104.4 59.3 104.6 59.8 104.6 60.3 104.6 60.7 104.7 61.2 104.7 61.6 104.8 62.1 104.8 62.6 104.9 63.0 104.9 63.5 104.9 63.9 105.0 64.4 105.0 64.9 105.0 65.3 105.1 65.8 105.1 66.2 105.1 66.7 105.1 67.2 105.2 67.6 105.2 68.1 105.2 68.5 105.2 69.0 105.2 69.5 105.3 69.9 105.3 70.4 105.3 70.8 105.3 71.3 105.3 71.8 105.4 72.2 105.4 72.7 105.4 73.1 105.4 73.6 105.4 74.1 105.4 74.5 105.4 75.0 105.5 75.4 105.5 75.9 105.5 76.4 105.5 76.8 105.5 77.3 105.5 77.7 105.5 78.2 105.5 78.7 105.5 79.1 105.6 79.6 105.6 80.0 105.6 80.5 105.6 81.0 105.6 81.4 105.6 81.9 105.6 82.3 105.6 82.8 105.6 83.3 105.6 83.7 105.6 84.2 105.6 84.6 105.6 85.1 105.6 85.6 105.6 86.0 105.6 86.5 105.7 86.9 105.7 87.4 105.7 87.9 105.7 88.3 105.7 88.8 105.7 89.2 105.7 89.7 105.7 90.2 105.7 90.6 105.7 91.1 105.7 91.5 105.7 92.0 105.7 92.5 105.7 92.9 105.7 93.4 105.7 93.8 105.7 94.3 105.7 94.8 105.7 95.2 105.7 95.7 105.7 96.1 105.7 96.6 105.7 97.1 105.7 97.5 105.7 98.0 105.7 98.4 105.7 98.9 105.7 99.4 105.7 99.8 105.7 100.3 105.7 100.7 105.7 101.2 105.7 101.7 105.7 102.1 105.7 102.6 105.7 103.0 105.7 103.5 105.7 104.0 105.7 104.4 105.7 104.9 105.7 105.3 105.7 105.8 105.7 106.3 105.7 106.7 105.7 107.2 105.7 107.6 105.7 108.1 105.7 108.6 105.7 109.0 105.7 109.5 105.7 109.9 105.7 110.4 105.7 110.9 105.8 111.3 105.8 111.8 105.8 112.2 105.8 112.7 105.8 113.2 105.8 113.6 105.8 114.1 105.8 114.5 105.8 115.0 105.8 115.5 105.8 115.9 105.8 116.4 105.8 116.8 105.8 117.3 105.8 117.8 105.8 118.2 105.8 118.7 105.8 119.1 105.8 119.6 105.8 120.1 105.8 120.5 105.8 121.0 105.8 121.4 105.8 121.9 105.8 122.4 105.8 122.8 105.8 123.3 105.8 123.7 105.8 124.2 105.8" stroke="#772885" stroke-width="0.55" fill="none" stroke-opacity="0.45" stroke-linejoin="round"/>
<path d="M23.0 106.2 23.5 106.2 23.9 106.2 24.4 106.2 24.8 106.2 25.3 106.2 25.8 106.2 26.2 106.2 26.7 106.2 27.1 106.2 27.6 106.2 28.1 106.2 28.5 106.2 29.0 106.2 29.4 106.2 29.9 106.2 30.4 106.2 30.8 106.2 31.3 106.2 31.7 106.2 32.2 106.4 32.7 106.6 33.1 106.2 33.6 44.3 34.0 57.0 34.5 66.7 35.0 74.2 35.4 79.9 35.9 84.4 36.3 88.2 36.8 91.4 37.3 93.7 37.7 95.4 38.2 96.8 38.6 98.1 39.1 99.4 39.6 99.9 40.0 100.9 40.5 101.1 40.9 100.9 41.4 101.8 41.9 102.4 42.3 102.5 42.8 103.5 43.2 103.8 43.7 103.5 44.2 103.7 44.6 104.1 45.1 104.4 45.5 104.3 46.0 104.1 46.5 103.7 46.9 104.1 47.4 103.9 47.8 104.2 48.3 104.7 48.8 105.0 49.2 104.7 49.7 104.2 50.1 104.4 50.6 104.5 51.1 104.7 51.5 104.9 52.0 105.0 52.4 105.2 52.9 105.1 53.4 104.8 53.8 104.7 54.3 105.1 54.7 105.4 55.2 105.6 55.7 105.1 56.1 104.9 56.6 105.3 57.0 105.5 57.5 105.8 58.0 105.7 58.4 105.3 58.9 105.4 59.3 105.7 59.8 105.5 60.3 105.5 60.7 105.6 61.2 105.6 61.6 105.6 62.1 105.6 62.6 105.6 63.0 105.6 63.5 105.6 63.9 105.6 64.4 105.6 64.9 105.7 65.3 105.7 65.8 105.7 66.2 105.7 66.7 105.7 67.2 105.7 67.6 105.7 68.1 105.7 68.5 105.7 69.0 105.7 69.5 105.7 69.9 105.7 70.4 105.7 70.8 105.7 71.3 105.7 71.8 105.7 72.2 105.7 72.7 105.7 73.1 105.7 73.6 105.7 74.1 105.7 74.5 105.7 75.0 105.7 75.4 105.7 75.9 105.7 76.4 105.7 76.8 105.7 77.3 105.7 77.7 105.7 78.2 105.7 78.7 105.7 79.1 105.7 79.6 105.8 80.0 105.8 80.5 105.8 81.0 105.8 81.4 105.8 81.9 105.8 82.3 105.8 82.8 105.8 83.3 105.8 83.7 105.8 84.2 105.8 84.6 105.8 85.1 105.8 85.6 105.8 86.0 105.8 86.5 105.8 86.9 105.8 87.4 105.8 87.9 105.8 88.3 105.8 88.8 105.8 89.2 105.8 89.7 105.8 90.2 105.8 90.6 105.8 91.1 105.8 91.5 105.8 92.0 105.8 92.5 105.8 92.9 105.8 93.4 105.8 93.8 105.8 94.3 105.8 94.8 105.8 95.2 105.8 95.7 105.8 96.1 105.8 96.6 105.8 97.1 105.8 97.5 105.8 98.0 105.8 98.4 105.8 98.9 105.8 99.4 105.8 99.8 105.8 100.3 105.8 100.7 105.8 101.2 105.8 101.7 105.8 102.1 105.8 102.6 105.8 103.0 105.8 103.5 105.8 104.0 105.8 104.4 105.8 104.9 105.8 105.3 105.8 105.8 105.8 106.3 105.8 106.7 105.8 107.2 105.8 107.6 105.8 108.1 105.8 108.6 105.8 109.0 105.8 109.5 105.8 109.9 105.8 110.4 105.8 110.9 105.8 111.3 105.8 111.8 105.8 112.2 105.8 112.7 105.8 113.2 105.8 113.6 105.8 114.1 105.8 114.5 105.8 115.0 105.8 115.5 105.8 115.9 105.8 116.4 105.8 116.8 105.8 117.3 105.8 117.8 105.8 118.2 105.8 118.7 105.8 119.1 105.8 119.6 105.8 120.1 105.8 120.5 105.8 121.0 105.8 121.4 105.8 121.9 105.8 122.4 105.8 122.8 105.8 123.3 105.8 123.7 105.8 124.2 105.8" stroke="#772885" stroke-width="0.55" fill="none" stroke-opacity="0.45" stroke-linejoin="round"/>
<path d="M23.0 106.2 23.5 106.2 23.9 106.2 24.4 106.2 24.8 106.2 25.3 106.2 25.8 106.2 26.2 106.2 26.7 106.2 27.1 106.2 27.6 106.2 28.1 106.2 28.5 106.2 29.0 106.2 29.4 106.2 29.9 106.2 30.4 106.2 30.8 106.2 31.3 106.2 31.7 106.2 32.2 105.8 32.7 106.0 33.1 46.1 33.6 56.6 34.0 65.0 34.5 71.4 35.0 76.5 35.4 81.4 35.9 85.6 36.3 88.5 36.8 90.4 37.3 93.0 37.7 94.9 38.2 95.9 38.6 97.0 39.1 97.9 39.6 99.1 40.0 99.9 40.5 100.6 40.9 100.5 41.4 100.6 41.9 101.4 42.3 102.1 42.8 49.3 43.2 55.8 43.7 65.8 44.2 73.8 44.6 80.0 45.1 85.1 45.5 88.8 46.0 91.5 46.5 93.1 46.9 94.5 47.4 96.3 47.8 98.1 48.3 99.0 48.8 99.8 49.2 100.6 49.7 101.0 50.1 101.5 50.6 101.8 51.1 101.9 51.5 102.3 52.0 102.6 52.4 103.0 52.9 103.4 53.4 103.5 53.8 103.6 54.3 103.6 54.7 103.7 55.2 104.1 55.7 104.2 56.1 104.3 56.6 104.6 57.0 104.5 57.5 104.9 58.0 104.9 58.4 104.5 58.9 104.6 59.3 104.8 59.8 104.7 60.3 104.8 60.7 104.9 61.2 104.9 61.6 105.0 62.1 105.0 62.6 105.1 63.0 105.1 63.5 105.1 63.9 105.2 64.4 105.2 64.9 105.2 65.3 105.3 65.8 105.3 66.2 105.3 66.7 105.4 67.2 105.4 67.6 105.4 68.1 105.4 68.5 105.4 69.0 105.5 69.5 105.5 69.9 105.5 70.4 105.5 70.8 105.5 71.3 105.5 71.8 105.6 72.2 105.6 72.7 105.6 73.1 105.6 73.6 105.6 74.1 105.6 74.5 105.6 75.0 105.6 75.4 105.6 75.9 105.6 76.4 105.6 76.8 105.7 77.3 105.7 77.7 105.7 78.2 105.7 78.7 105.7 79.1 105.7 79.6 105.7 80.0 105.7 80.5 105.7 81.0 105.7 81.4 105.7 81.9 105.7 82.3 105.7 82.8 105.7 83.3 105.7 83.7 105.7 84.2 105.7 84.6 105.7 85.1 105.7 85.6 105.7 86.0 105.7 86.5 105.7 86.9 105.7 87.4 105.7 87.9 105.7 88.3 105.7 88.8 105.7 89.2 105.7 89.7 105.7 90.2 105.7 90.6 105.7 91.1 105.7 91.5 105.7 92.0 105.7 92.5 105.7 92.9 105.7 93.4 105.7 93.8 105.7 94.3 105.7 94.8 105.8 95.2 105.8 95.7 105.8 96.1 105.8 96.6 105.8 97.1 105.8 97.5 105.8 98.0 105.8 98.4 105.8 98.9 105.8 99.4 105.8 99.8 105.8 100.3 105.8 100.7 105.8 101.2 105.8 101.7 105.8 102.1 105.8 102.6 105.8 103.0 105.8 103.5 105.8 104.0 105.8 104.4 105.8 104.9 105.8 105.3 105.8 105.8 105.8 106.3 105.8 106.7 105.8 107.2 105.8 107.6 105.8 108.1 105.8 108.6 105.8 109.0 105.8 109.5 105.8 109.9 105.8 110.4 105.8 110.9 105.8 111.3 105.8 111.8 105.8 112.2 105.8 112.7 105.8 113.2 105.8 113.6 105.8 114.1 105.8 114.5 105.8 115.0 105.8 115.5 105.8 115.9 105.8 116.4 105.8 116.8 105.8 117.3 105.8 117.8 105.8 118.2 105.8 118.7 105.8 119.1 105.8 119.6 105.8 120.1 105.8 120.5 105.8 121.0 105.8 121.4 105.8 121.9 105.8 122.4 105.8 122.8 105.8 123.3 105.8 123.7 105.8 124.2 105.8" stroke="#772885" stroke-width="0.55" fill="none" stroke-opacity="0.45" stroke-linejoin="round"/>
<path d="M23.0 106.2 23.5 106.2 23.9 106.2 24.4 106.2 24.8 106.2 25.3 106.2 25.8 106.2 26.2 106.2 26.7 106.2 27.1 106.2 27.6 106.2 28.1 106.2 28.5 106.2 29.0 106.2 29.4 106.2 29.9 106.2 30.4 106.2 30.8 106.2 31.3 106.2 31.7 106.2 32.2 106.6 32.7 106.5 33.1 46.2 33.6 57.0 34.0 65.5 34.5 72.4 35.0 78.4 35.4 82.6 35.9 85.7 36.3 88.7 36.8 90.8 37.3 93.0 37.7 95.5 38.2 97.1 38.6 98.1 39.1 98.9 39.6 99.4 40.0 100.4 40.5 101.0 40.9 101.3 41.4 101.8 41.9 101.8 42.3 102.3 42.8 102.6 43.2 102.9 43.7 103.2 44.2 103.7 44.6 103.7 45.1 103.1 45.5 102.8 46.0 103.1 46.5 103.1 46.9 103.6 47.4 103.6 47.8 103.6 48.3 104.0 48.8 104.1 49.2 104.2 49.7 104.3 50.1 104.4 50.6 104.6 51.1 104.8 51.5 104.1 52.0 104.1 52.4 104.7 52.9 104.6 53.4 104.5 53.8 104.9 54.3 105.1 54.7 104.7 55.2 104.7 55.7 104.9 56.1 104.6 56.6 104.9 57.0 105.2 57.5 105.2 58.0 104.9 58.4 105.3 58.9 105.8 59.3 105.5 59.8 105.3 60.3 105.3 60.7 105.3 61.2 105.3 61.6 105.4 62.1 105.4 62.6 105.4 63.0 105.4 63.5 105.4 63.9 105.4 64.4 105.5 64.9 105.5 65.3 105.5 65.8 105.5 66.2 105.5 66.7 105.5 67.2 105.5 67.6 105.5 68.1 105.6 68.5 105.6 69.0 105.6 69.5 105.6 69.9 105.6 70.4 105.6 70.8 105.6 71.3 105.6 71.8 105.6 72.2 105.6 72.7 105.6 73.1 105.6 73.6 105.7 74.1 105.7 74.5 105.7 75.0 105.7 75.4 105.7 75.9 105.7 76.4 105.7 76.8 105.7 77.3 105.7 77.7 105.7 78.2 105.7 78.7 105.7 79.1 105.7 79.6 105.7 80.0 105.7 80.5 105.7 81.0 105.7 81.4 105.7 81.9 105.7 82.3 105.7 82.8 105.7 83.3 105.7 83.7 105.7 84.2 105.7 84.6 105.7 85.1 105.7 85.6 105.7 86.0 105.7 86.5 105.7 86.9 105.7 87.4 105.7 87.9 105.7 88.3 105.7 88.8 105.7 89.2 105.7 89.7 105.7 90.2 105.7 90.6 105.7 91.1 105.7 91.5 105.7 92.0 105.7 92.5 105.7 92.9 105.7 93.4 105.7 93.8 105.8 94.3 105.8 94.8 105.8 95.2 105.8 95.7 105.8 96.1 105.8 96.6 105.8 97.1 105.8 97.5 105.8 98.0 105.8 98.4 105.8 98.9 105.8 99.4 105.8 99.8 105.8 100.3 105.8 100.7 105.8 101.2 105.8 101.7 105.8 102.1 105.8 102.6 105.8 103.0 105.8 103.5 105.8 104.0 105.8 104.4 105.8 104.9 105.8 105.3 105.8 105.8 105.8 106.3 105.8 106.7 105.8 107.2 105.8 107.6 105.8 108.1 105.8 108.6 105.8 109.0 105.8 109.5 105.8 109.9 105.8 110.4 105.8 110.9 105.8 111.3 105.8 111.8 105.8 112.2 105.8 112.7 105.8 113.2 105.8 113.6 105.8 114.1 105.8 114.5 105.8 115.0 105.8 115.5 105.8 115.9 105.8 116.4 105.8 116.8 105.8 117.3 105.8 117.8 105.8 118.2 105.8 118.7 105.8 119.1 105.8 119.6 105.8 120.1 105.8 120.5 105.8 121.0 105.8 121.4 105.8 121.9 105.8 122.4 105.8 122.8 105.8 123.3 105.8 123.7 105.8 124.2 105.8" stroke="#772885" stroke-width="0.55" fill="none" stroke-opacity="0.45" stroke-linejoin="round"/>
<path d="M23.0 106.2 23.5 106.2 23.9 106.2 24.4 106.2 24.8 106.2 25.3 106.2 25.8 106.2 26.2 106.2 26.7 106.2 27.1 106.2 27.6 106.2 28.1 106.2 28.5 106.2 29.0 106.2 29.4 106.2 29.9 106.2 30.4 106.2 30.8 106.2 31.3 106.2 31.7 106.2 32.2 106.3 32.7 53.2 33.1 61.7 33.6 68.6 34.0 74.7 34.5 79.7 35.0 83.4 35.4 86.6 35.9 89.5 36.3 91.7 36.8 93.7 37.3 95.1 37.7 96.8 38.2 98.3 38.6 99.2 39.1 99.8 39.6 100.0 40.0 101.5 40.5 102.6 40.9 48.3 41.4 52.3 41.9 61.5 42.3 69.3 42.8 75.4 43.2 80.3 43.7 84.5 44.2 87.8 44.6 91.0 45.1 93.4 45.5 95.0 46.0 96.5 46.5 97.2 46.9 98.6 47.4 99.4 47.8 100.2 48.3 101.1 48.8 101.8 49.2 102.1 49.7 102.0 50.1 102.1 50.6 102.6 51.1 102.8 51.5 103.0 52.0 103.5 52.4 103.6 52.9 103.5 53.4 103.8 53.8 104.2 54.3 104.3 54.7 104.3 55.2 104.6 55.7 104.5 56.1 104.5 56.6 104.7 57.0 104.8 57.5 104.9 58.0 104.7 58.4 104.9 58.9 104.6 59.3 104.5 59.8 105.1 60.3 105.1 60.7 105.2 61.2 105.2 61.6 105.2 62.1 105.3 62.6 105.3 63.0 105.3 63.5 105.3 63.9 105.4 64.4 105.4 64.9 105.4 65.3 105.4 65.8 105.5 66.2 105.5 66.7 105.5 67.2 105.5 67.6 105.5 68.1 105.5 68.5 105.5 69.0 105.6 69.5 105.6 69.9 105.6 70.4 105.6 70.8 105.6 71.3 105.6 71.8 105.6 72.2 105.6 72.7 105.6 73.1 105.6 73.6 105.7 74.1 105.7 74.5 105.7 75.0 105.7 75.4 105.7 75.9 105.7 76.4 105.7 76.8 105.7 77.3 105.7 77.7 105.7 78.2 105.7 78.7 105.7 79.1 105.7 79.6 105.7 80.0 105.7 80.5 105.7 81.0 105.7 81.4 105.7 81.9 105.7 82.3 105.7 82.8 105.7 83.3 105.7 83.7 105.7 84.2 105.7 84.6 105.7 85.1 105.7 85.6 105.7 86.0 105.7 86.5 105.7 86.9 105.7 87.4 105.7 87.9 105.7 88.3 105.7 88.8 105.7 89.2 105.7 89.7 105.7 90.2 105.7 90.6 105.7 91.1 105.7 91.5 105.7 92.0 105.8 92.5 105.8 92.9 105.8 93.4 105.8 93.8 105.8 94.3 105.8 94.8 105.8 95.2 105.8 95.7 105.8 96.1 105.8 96.6 105.8 97.1 105.8 97.5 105.8 98.0 105.8 98.4 105.8 98.9 105.8 99.4 105.8 99.8 105.8 100.3 105.8 100.7 105.8 101.2 105.8 101.7 105.8 102.1 105.8 102.6 105.8 103.0 105.8 103.5 105.8 104.0 105.8 104.4 105.8 104.9 105.8 105.3 105.8 105.8 105.8 106.3 105.8 106.7 105.8 107.2 105.8 107.6 105.8 108.1 105.8 108.6 105.8 109.0 105.8 109.5 105.8 109.9 105.8 110.4 105.8 110.9 105.8 111.3 105.8 111.8 105.8 112.2 105.8 112.7 105.8 113.2 105.8 113.6 105.8 114.1 105.8 114.5 105.8 115.0 105.8 115.5 105.8 115.9 105.8 116.4 105.8 116.8 105.8 117.3 105.8 117.8 105.8 118.2 105.8 118.7 105.8 119.1 105.8 119.6 105.8 120.1 105.8 120.5 105.8 121.0 105.8 121.4 105.8 121.9 105.8 122.4 105.8 122.8 105.8 123.3 105.8 123.7 105.8 124.2 105.8" stroke="#772885" stroke-width="0.55" fill="none" stroke-opacity="0.45" stroke-linejoin="round"/>
<path d="M23.0 106.2 23.5 106.2 23.9 106.2 24.4 106.2 24.8 106.2 25.3 106.2 25.8 106.2 26.2 106.2 26.7 106.2 27.1 106.2 27.6 106.2 28.1 106.2 28.5 106.2 29.0 106.2 29.4 106.2 29.9 106.2 30.4 106.2 30.8 106.2 31.3 106.2 31.7 106.2 32.2 106.3 32.7 49.3 33.1 58.3 33.6 66.2 34.0 72.9 34.5 78.2 35.0 82.5 35.4 86.2 35.9 89.7 36.3 92.3 36.8 94.2 37.3 96.0 37.7 97.3 38.2 98.3 38.6 99.2 39.1 100.3 39.6 101.0 40.0 101.3 40.5 101.8 40.9 102.2 41.4 102.9 41.9 103.6 42.3 103.6 42.8 104.2 43.2 104.5 43.7 104.5 44.2 104.8 44.6 105.2 45.1 105.5 45.5 105.2 46.0 104.9 46.5 104.4 46.9 104.6 47.4 105.0 47.8 105.2 48.3 105.1 48.8 105.1 49.2 105.1 49.7 104.7 50.1 104.9 50.6 105.6 51.1 105.8 51.5 105.9 52.0 106.0 52.4 105.4 52.9 105.1 53.4 105.7 53.8 105.7 54.3 105.1 54.7 105.3 55.2 105.8 55.7 105.8 56.1 105.6 56.6 105.4 57.0 105.2 57.5 105.1 58.0 105.1 58.4 105.1 58.9 105.2 59.3 105.8 59.8 105.7 60.3 105.7 60.7 105.7 61.2 105.7 61.6 105.7 62.1 105.7 62.6 105.7 63.0 105.7 63.5 105.7 63.9 105.7 64.4 105.7 64.9 105.7 65.3 105.7 65.8 105.7 66.2 105.7 66.7 105.7 67.2 105.7 67.6 105.7 68.1 105.7 68.5 105.7 69.0 105.7 69.5 105.7 69.9 105.7 70.4 105.7 70.8 105.7 71.3 105.7 71.8 105.7 72.2 105.7 72.7 105.7 73.1 105.7 73.6 105.7 74.1 105.8 74.5 105.8 75.0 105.8 75.4 105.8 75.9 105.8 76.4 105.8 76.8 105.8 77.3 105.8 77.7 105.8 78.2 105.8 78.7 105.8 79.1 105.8 79.6 105.8 80.0 105.8 80.5 105.8 81.0 105.8 81.4 105.8 81.9 105.8 82.3 105.8 82.8 105.8 83.3 105.8 83.7 105.8 84.2 105.8 84.6 105.8 85.1 105.8 85.6 105.8 86.0 105.8 86.5 105.8 86.9 105.8 87.4 105.8 87.9 105.8 88.3 105.8 88.8 105.8 89.2 105.8 89.7 105.8 90.2 105.8 90.6 105.8 91.1 105.8 91.5 105.8 92.0 105.8 92.5 105.8 92.9 105.8 93.4 105.8 93.8 105.8 94.3 105.8 94.8 105.8 95.2 105.8 95.7 105.8 96.1 105.8 96.6 105.8 97.1 105.8 97.5 105.8 98.0 105.8 98.4 105.8 98.9 105.8 99.4 105.8 99.8 105.8 100.3 105.8 100.7 105.8 101.2 105.8 101.7 105.8 102.1 105.8 102.6 105.8 103.0 105.8 103.5 105.8 104.0 105.8 104.4 105.8 104.9 105.8 105.3 105.8 105.8 105.8 106.3 105.8 106.7 105.8 107.2 105.8 107.6 105.8 108.1 105.8 108.6 105.8 109.0 105.8 109.5 105.8 109.9 105.8 110.4 105.8 110.9 105.8 111.3 105.8 111.8 105.8 112.2 105.8 112.7 105.8 113.2 105.8 113.6 105.8 114.1 105.8 114.5 105.8 115.0 105.8 115.5 105.8 115.9 105.8 116.4 105.8 116.8 105.8 117.3 105.8 117.8 105.8 118.2 105.8 118.7 105.8 119.1 105.8 119.6 105.8 120.1 105.8 120.5 105.8 121.0 105.8 121.4 105.8 121.9 105.8 122.4 105.8 122.8 105.8 123.3 105.8 123.7 105.8 124.2 105.8" stroke="#772885" stroke-width="0.55" fill="none" stroke-opacity="0.45" stroke-linejoin="round"/>
<path d="M23.0 106.2 23.5 106.2 23.9 106.2 24.4 106.2 24.8 106.2 25.3 106.2 25.8 106.2 26.2 106.2 26.7 106.2 27.1 106.2 27.6 106.2 28.1 106.2 28.5 106.2 29.0 106.2 29.4 106.2 29.9 106.2 30.4 106.2 30.8 106.2 31.3 106.2 31.7 106.2 32.2 106.3 32.7 46.5 33.1 58.4 33.6 68.2 34.0 75.4 34.5 81.1 35.0 85.7 35.4 88.6 35.9 91.4 36.3 93.7 36.8 95.3 37.3 96.5 37.7 96.9 38.2 97.9 38.6 98.9 39.1 99.5 39.6 100.3 40.0 100.7 40.5 100.5 40.9 100.0 41.4 100.5 41.9 48.7 42.3 55.2 42.8 65.5 43.2 73.4 43.7 79.4 44.2 84.2 44.6 87.9 45.1 90.9 45.5 93.4 46.0 95.4 46.5 96.4 46.9 97.5 47.4 98.4 47.8 99.1 48.3 99.7 48.8 99.9 49.2 100.7 49.7 101.4 50.1 101.6 50.6 101.6 51.1 101.3 51.5 101.5 52.0 102.2 52.4 102.2 52.9 102.7 53.4 102.8 53.8 102.8 54.3 103.9 54.7 103.3 55.2 102.5 55.7 103.4 56.1 103.8 56.6 103.8 57.0 103.9 57.5 104.2 58.0 104.5 58.4 104.2 58.9 104.0 59.3 104.0 59.8 104.3 60.3 104.4 60.7 104.5 61.2 104.5 61.6 104.6 62.1 104.7 62.6 104.7 63.0 104.8 63.5 104.8 63.9 104.8 64.4 104.9 64.9 104.9 65.3 105.0 65.8 105.0 66.2 105.0 66.7 105.1 67.2 105.1 67.6 105.1 68.1 105.2 68.5 105.2 69.0 105.2 69.5 105.2 69.9 105.3 70.4 105.3 70.8 105.3 71.3 105.3 71.8 105.3 72.2 105.4 72.7 105.4 73.1 105.4 73.6 105.4 74.1 105.4 74.5 105.4 75.0 105.5 75.4 105.5 75.9 105.5 76.4 105.5 76.8 105.5 77.3 105.5 77.7 105.5 78.2 105.5 78.7 105.5 79.1 105.6 79.6 105.6 80.0 105.6 80.5 105.6 81.0 105.6 81.4 105.6 81.9 105.6 82.3 105.6 82.8 105.6 83.3 105.6 83.7 105.6 84.2 105.6 84.6 105.6 85.1 105.6 85.6 105.6 86.0 105.7 86.5 105.7 86.9 105.7 87.4 105.7 87.9 105.7 88.3 105.7 88.8 105.7 89.2 105.7 89.7 105.7 90.2 105.7 90.6 105.7 91.1 105.7 91.5 105.7 92.0 105.7 92.5 105.7 92.9 105.7 93.4 105.7 93.8 105.7 94.3 105.7 94.8 105.7 95.2 105.7 95.7 105.7 96.1 105.7 96.6 105.7 97.1 105.7 97.5 105.7 98.0 105.7 98.4 105.7 98.9 105.7 99.4 105.7 99.8 105.7 100.3 105.7 100.7 105.7 101.2 105.7 101.7 105.7 102.1 105.7 102.6 105.7 103.0 105.7 103.5 105.7 104.0 105.7 104.4 105.7 104.9 105.7 105.3 105.7 105.8 105.7 106.3 105.7 106.7 105.7 107.2 105.7 107.6 105.7 108.1 105.7 108.6 105.7 109.0 105.7 109.5 105.7 109.9 105.7 110.4 105.7 110.9 105.8 111.3 105.8 111.8 105.8 112.2 105.8 112.7 105.8 113.2 105.8 113.6 105.8 114.1 105.8 114.5 105.8 115.0 105.8 115.5 105.8 115.9 105.8 116.4 105.8 116.8 105.8 117.3 105.8 117.8 105.8 118.2 105.8 118.7 105.8 119.1 105.8 119.6 105.8 120.1 105.8 120.5 105.8 121.0 105.8 121.4 105.8 121.9 105.8 122.4 105.8 122.8 105.8 123.3 105.8 123.7 105.8 124.2 105.8" stroke="#772885" stroke-width="0.55" fill="none" stroke-opacity="0.45" stroke-linejoin="round"/>
<path d="M23.0 106.2 23.5 106.2 23.9 106.2 24.4 106.2 24.8 106.2 25.3 106.2 25.8 106.2 26.2 106.2 26.7 106.2 27.1 106.2 27.6 106.2 28.1 106.2 28.5 106.2 29.0 106.2 29.4 106.2 29.9 106.2 30.4 106.2 30.8 106.2 31.3 106.2 31.7 106.2 32.2 106.3 32.7 106.4 33.1 106.6 33.6 106.5 34.0 50.4 34.5 67.1 35.0 78.8 35.4 86.3 35.9 91.2 36.3 94.3 36.8 96.6 37.3 97.9 37.7 99.0 38.2 99.9 38.6 100.5 39.1 101.1 39.6 101.9 40.0 102.3 40.5 102.3 40.9 102.5 41.4 103.1 41.9 103.1 42.3 102.8 42.8 103.3 43.2 103.4 43.7 103.5 44.2 103.4 44.6 103.8 45.1 104.2 45.5 104.0 46.0 103.8 46.5 103.6 46.9 103.9 47.4 104.1 47.8 104.0 48.3 103.7 48.8 104.0 49.2 104.0 49.7 103.6 50.1 104.1 50.6 104.2 51.1 104.5 51.5 105.1 52.0 105.1 52.4 104.9 52.9 104.7 53.4 104.8 53.8 104.8 54.3 105.2 54.7 105.1 55.2 105.0 55.7 105.3 56.1 105.1 56.6 105.3 57.0 105.5 57.5 105.5 58.0 105.2 58.4 104.9 58.9 104.8 59.3 105.2 59.8 105.1 60.3 105.2 60.7 105.2 61.2 105.2 61.6 105.2 62.1 105.3 62.6 105.3 63.0 105.3 63.5 105.3 63.9 105.3 64.4 105.4 64.9 105.4 65.3 105.4 65.8 105.4 66.2 105.4 66.7 105.4 67.2 105.4 67.6 105.5 68.1 105.5 68.5 105.5 69.0 105.5 69.5 105.5 69.9 105.5 70.4 105.5 70.8 105.5 71.3 105.5 71.8 105.6 72.2 105.6 72.7 105.6 73.1 105.6 73.6 105.6 74.1 105.6 74.5 105.6 75.0 105.6 75.4 105.6 75.9 105.6 76.4 105.6 76.8 105.6 77.3 105.6 77.7 105.6 78.2 105.6 78.7 105.7 79.1 105.7 79.6 105.7 80.0 105.7 80.5 105.7 81.0 105.7 81.4 105.7 81.9 105.7 82.3 105.7 82.8 105.7 83.3 105.7 83.7 105.7 84.2 105.7 84.6 105.7 85.1 105.7 85.6 105.7 86.0 105.7 86.5 105.7 86.9 105.7 87.4 105.7 87.9 105.7 88.3 105.7 88.8 105.7 89.2 105.7 89.7 105.7 90.2 105.7 90.6 105.7 91.1 105.7 91.5 105.7 92.0 105.7 92.5 105.7 92.9 105.7 93.4 105.7 93.8 105.7 94.3 105.7 94.8 105.7 95.2 105.7 95.7 105.7 96.1 105.7 96.6 105.7 97.1 105.7 97.5 105.7 98.0 105.7 98.4 105.7 98.9 105.7 99.4 105.7 99.8 105.7 100.3 105.7 100.7 105.7 101.2 105.7 101.7 105.7 102.1 105.8 102.6 105.8 103.0 105.8 103.5 105.8 104.0 105.8 104.4 105.8 104.9 105.8 105.3 105.8 105.8 105.8 106.3 105.8 106.7 105.8 107.2 105.8 107.6 105.8 108.1 105.8 108.6 105.8 109.0 105.8 109.5 105.8 109.9 105.8 110.4 105.8 110.9 105.8 111.3 105.8 111.8 105.8 112.2 105.8 112.7 105.8 113.2 105.8 113.6 105.8 114.1 105.8 114.5 105.8 115.0 105.8 115.5 105.8 115.9 105.8 116.4 105.8 116.8 105.8 117.3 105.8 117.8 105.8 118.2 105.8 118.7 105.8 119.1 105.8 119.6 105.8 120.1 105.8 120.5 105.8 121.0 105.8 121.4 105.8 121.9 105.8 122.4 105.8 122.8 105.8 123.3 105.8 123.7 105.8 124.2 105.8" stroke="#772885" stroke-width="0.55" fill="none" stroke-opacity="0.45" stroke-linejoin="round"/>
<path d="M23.0 106.2 23.5 106.2 23.9 106.2 24.4 106.2 24.8 106.2 25.3 106.2 25.8 106.2 26.2 106.2 26.7 106.2 27.1 106.2 27.6 106.2 28.1 106.2 28.5 106.2 29.0 106.2 29.4 106.2 29.9 106.2 30.4 106.2 30.8 106.2 31.3 106.2 31.7 106.2 32.2 105.8 32.7 106.5 33.1 106.6 33.6 50.5 34.0 65.8 34.5 76.6 35.0 84.5 35.4 90.0 35.9 93.8 36.3 96.1 36.8 97.6 37.3 99.3 37.7 100.5 38.2 101.0 38.6 102.0 39.1 102.5 39.6 102.7 40.0 103.5 40.5 103.5 40.9 49.5 41.4 54.7 41.9 64.6 42.3 71.8 42.8 77.6 43.2 82.5 43.7 86.2 44.2 89.7 44.6 92.4 45.1 94.4 45.5 96.3 46.0 97.6 46.5 98.3 46.9 99.0 47.4 99.7 47.8 100.7 48.3 101.3 48.8 101.7 49.2 102.2 49.7 102.8 50.1 102.9 50.6 103.2 51.1 103.4 51.5 103.6 52.0 103.3 52.4 103.1 52.9 103.6 53.4 104.0 53.8 103.7 54.3 103.8 54.7 104.4 55.2 104.5 55.7 104.5 56.1 104.3 56.6 104.4 57.0 104.4 57.5 104.6 58.0 105.0 58.4 105.1 58.9 104.9 59.3 104.8 59.8 105.1 60.3 105.2 60.7 105.2 61.2 105.2 61.6 105.3 62.1 105.3 62.6 105.3 63.0 105.4 63.5 105.4 63.9 105.4 64.4 105.4 64.9 105.5 65.3 105.5 65.8 105.5 66.2 105.5 66.7 105.5 67.2 105.5 67.6 105.6 68.1 105.6 68.5 105.6 69.0 105.6 69.5 105.6 69.9 105.6 70.4 105.6 70.8 105.6 71.3 105.6 71.8 105.6 72.2 105.7 72.7 105.7 73.1 105.7 73.6 105.7 74.1 105.7 74.5 105.7 75.0 105.7 75.4 105.7 75.9 105.7 76.4 105.7 76.8 105.7 77.3 105.7 77.7 105.7 78.2 105.7 78.7 105.7 79.1 105.7 79.6 105.7 80.0 105.7 80.5 105.7 81.0 105.7 81.4 105.7 81.9 105.7 82.3 105.7 82.8 105.7 83.3 105.7 83.7 105.7 84.2 105.7 84.6 105.7 85.1 105.7 85.6 105.7 86.0 105.7 86.5 105.7 86.9 105.7 87.4 105.7 87.9 105.8 88.3 105.8 88.8 105.8 89.2 105.8 89.7 105.8 90.2 105.8 90.6 105.8 91.1 105.8 91.5 105.8 92.0 105.8 92.5 105.8 92.9 105.8 93.4 105.8 93.8 105.8 94.3 105.8 94.8 105.8 95.2 105.8 95.7 105.8 96.1 105.8 96.6 105.8 97.1 105.8 97.5 105.8 98.0 105.8 98.4 105.8 98.9 105.8 99.4 105.8 99.8 105.8 100.3 105.8 100.7 105.8 101.2 105.8 101.7 105.8 102.1 105.8 102.6 105.8 103.0 105.8 103.5 105.8 104.0 105.8 104.4 105.8 104.9 105.8 105.3 105.8 105.8 105.8 106.3 105.8 106.7 105.8 107.2 105.8 107.6 105.8 108.1 105.8 108.6 105.8 109.0 105.8 109.5 105.8 109.9 105.8 110.4 105.8 110.9 105.8 111.3 105.8 111.8 105.8 112.2 105.8 112.7 105.8 113.2 105.8 113.6 105.8 114.1 105.8 114.5 105.8 115.0 105.8 115.5 105.8 115.9 105.8 116.4 105.8 116.8 105.8 117.3 105.8 117.8 105.8 118.2 105.8 118.7 105.8 119.1 105.8 119.6 105.8 120.1 105.8 120.5 105.8 121.0 105.8 121.4 105.8 121.9 105.8 122.4 105.8 122.8 105.8 123.3 105.8 123.7 105.8 124.2 105.8" stroke="#772885" stroke-width="0.55" fill="none" stroke-opacity="0.45" stroke-linejoin="round"/>
<path d="M23.0 106.2 23.5 106.2 23.9 106.2 24.4 106.2 24.8 106.2 25.3 106.2 25.8 106.2 26.2 106.2 26.7 106.2 27.1 106.2 27.6 106.2 28.1 106.2 28.5 106.2 29.0 106.2 29.4 106.2 29.9 106.2 30.4 106.2 30.8 106.2 31.3 106.2 31.7 106.2 32.2 105.7 32.7 45.2 33.1 53.8 33.6 60.8 34.0 67.1 34.5 72.4 35.0 76.7 35.4 80.6 35.9 83.5 36.3 86.3 36.8 88.7 37.3 90.1 37.7 92.1 38.2 94.0 38.6 95.3 39.1 96.1 39.6 96.8 40.0 97.7 40.5 98.4 40.9 99.2 41.4 99.9 41.9 100.6 42.3 101.0 42.8 101.0 43.2 101.6 43.7 101.7 44.2 101.7 44.6 102.9 45.1 103.2 45.5 103.2 46.0 103.1 46.5 102.0 46.9 102.5 47.4 103.2 47.8 103.3 48.3 103.4 48.8 103.3 49.2 103.2 49.7 103.7 50.1 103.7 50.6 103.8 51.1 104.2 51.5 103.8 52.0 103.8 52.4 104.3 52.9 104.7 53.4 104.7 53.8 104.6 54.3 104.3 54.7 104.6 55.2 104.8 55.7 104.5 56.1 104.5 56.6 104.6 57.0 104.4 57.5 104.4 58.0 104.6 58.4 104.7 58.9 104.5 59.3 105.1 59.8 105.1 60.3 105.1 60.7 105.1 61.2 105.2 61.6 105.2 62.1 105.2 62.6 105.2 63.0 105.3 63.5 105.3 63.9 105.3 64.4 105.3 64.9 105.4 65.3 105.4 65.8 105.4 66.2 105.4 66.7 105.4 67.2 105.4 67.6 105.5 68.1 105.5 68.5 105.5 69.0 105.5 69.5 105.5 69.9 105.5 70.4 105.5 70.8 105.5 71.3 105.5 71.8 105.6 72.2 105.6 72.7 105.6 73.1 105.6 73.6 105.6 74.1 105.6 74.5 105.6 75.0 105.6 75.4 105.6 75.9 105.6 76.4 105.6 76.8 105.6 77.3 105.6 77.7 105.7 78.2 105.7 78.7 105.7 79.1 105.7 79.6 105.7 80.0 105.7 80.5 105.7 81.0 105.7 81.4 105.7 81.9 105.7 82.3 105.7 82.8 105.7 83.3 105.7 83.7 105.7 84.2 105.7 84.6 105.7 85.1 105.7 85.6 105.7 86.0 105.7 86.5 105.7 86.9 105.7 87.4 105.7 87.9 105.7 88.3 105.7 88.8 105.7 89.2 105.7 89.7 105.7 90.2 105.7 90.6 105.7 91.1 105.7 91.5 105.7 92.0 105.7 92.5 105.7 92.9 105.7 93.4 105.7 93.8 105.7 94.3 105.7 94.8 105.7 95.2 105.7 95.7 105.7 96.1 105.7 96.6 105.7 97.1 105.7 97.5 105.7 98.0 105.7 98.4 105.7 98.9 105.7 99.4 105.8 99.8 105.8 100.3 105.8 100.7 105.8 101.2 105.8 101.7 105.8 102.1 105.8 102.6 105.8 103.0 105.8 103.5 105.8 104.0 105.8 104.4 105.8 104.9 105.8 105.3 105.8 105.8 105.8 106.3 105.8 106.7 105.8 107.2 105.8 107.6 105.8 108.1 105.8 108.6 105.8 109.0 105.8 109.5 105.8 109.9 105.8 110.4 105.8 110.9 105.8 111.3 105.8 111.8 105.8 112.2 105.8 112.7 105.8 113.2 105.8 113.6 105.8 114.1 105.8 114.5 105.8 115.0 105.8 115.5 105.8 115.9 105.8 116.4 105.8 116.8 105.8 117.3 105.8 117.8 105.8 118.2 105.8 118.7 105.8 119.1 105.8 119.6 105.8 120.1 105.8 120.5 105.8 121.0 105.8 121.4 105.8 121.9 105.8 122.4 105.8 122.8 105.8 123.3 105.8 123.7 105.8 124.2 105.8" stroke="#772885" stroke-width="0.55" fill="none" stroke-opacity="0.45" stroke-linejoin="round"/>
<path d="M23.0 106.2 23.5 106.2 23.9 106.2 24.4 106.2 24.8 106.2 25.3 106.2 25.8 106.2 26.2 106.2 26.7 106.2 27.1 106.2 27.6 106.2 28.1 106.2 28.5 106.2 29.0 106.2 29.4 106.2 29.9 106.2 30.4 106.2 30.8 106.2 31.3 106.2 31.7 106.2 32.2 104.5 32.7 80.0 33.1 48.4 33.6 62.3 34.0 79.8 34.5 85.3 35.0 90.6 35.4 91.8 35.9 93.2 36.3 94.9 36.8 95.3 37.3 95.7 37.7 96.4 38.2 96.6 38.6 96.3 39.1 96.2 39.6 96.5 40.0 96.4 40.5 96.6 40.9 96.6 41.4 96.3 41.9 96.6 42.3 97.2 42.8 98.0 43.2 98.7 43.7 99.0 44.2 99.4 44.6 99.7 45.1 99.8 45.5 100.0 46.0 100.5 46.5 101.4 46.9 102.0 47.4 102.6 47.8 102.7 48.3 102.5 48.8 102.5 49.2 102.5 49.7 102.8 50.1 103.0 50.6 103.2 51.1 103.2 51.5 103.6 52.0 104.0 52.4 104.3 52.9 104.1 53.4 103.8 53.8 104.0 54.3 104.4 54.7 104.6 55.2 104.5 55.7 104.6 56.1 104.7 56.6 104.7 57.0 104.8 57.5 104.9 58.0 104.9 58.4 105.1 58.9 105.2 59.3 105.3 59.8 105.3 60.3 105.3 60.7 105.4 61.2 105.4 61.6 105.6 62.1 105.5 62.6 105.4 63.0 105.5 63.5 105.3 63.9 105.6 64.4 105.8 64.9 105.7 65.3 105.7 65.8 105.8 66.2 105.6 66.7 105.5 67.2 105.6 67.6 105.6 68.1 105.7 68.5 105.7 69.0 105.8 69.5 105.6 69.9 105.6 70.4 105.7 70.8 105.9 71.3 105.8 71.8 105.6 72.2 105.7 72.7 105.8 73.1 105.7 73.6 105.3 74.1 105.4 74.5 105.7 75.0 105.6 75.4 105.9 75.9 106.0 76.4 105.7 76.8 105.6 77.3 105.5 77.7 105.8 78.2 105.8 78.7 105.7 79.1 105.7 79.6 105.7 80.0 105.8 80.5 105.8 81.0 105.6 81.4 105.3 81.9 105.3 82.3 105.5 82.8 105.4 83.3 105.3 83.7 105.3 84.2 105.3 84.6 105.5 85.1 105.6 85.6 105.6 86.0 105.6 86.5 105.6 86.9 105.7 87.4 106.0 87.9 106.0 88.3 106.0 88.8 105.9 89.2 105.6 89.7 105.8 90.2 105.7 90.6 105.4 91.1 105.5 91.5 105.4 92.0 105.1 92.5 105.5 92.9 105.6 93.4 105.4 93.8 105.5 94.3 105.4 94.8 105.6 95.2 105.8 95.7 105.8 96.1 105.8 96.6 105.7 97.1 105.8 97.5 105.9 98.0 105.6 98.4 105.5 98.9 105.5 99.4 105.8 99.8 105.9 100.3 105.8 100.7 105.6 101.2 105.6 101.7 105.5 102.1 105.5 102.6 105.6 103.0 105.6 103.5 105.5 104.0 105.5 104.4 105.5 104.9 105.4 105.3 105.5 105.8 105.5 106.3 105.5 106.7 105.4 107.2 105.3 107.6 105.4 108.1 105.4 108.6 105.4 109.0 105.4 109.5 105.4 109.9 105.8 110.4 105.6 110.9 105.4 111.3 105.7 111.8 105.7 112.2 105.7 112.7 105.4 113.2 105.2 113.6 105.7 114.1 105.7 114.5 105.5 115.0 105.3 115.5 105.4 115.9 106.0 116.4 105.8 116.8 105.6 117.3 105.6 117.8 105.9 118.2 105.7 118.7 105.2 119.1 105.5 119.6 105.6 120.1 105.4 120.5 105.3 121.0 105.1 121.4 105.5 121.9 105.4 122.4 105.3 122.8 105.5 123.3 105.5 123.7 105.5 124.2 105.8" stroke="#772885" stroke-width="1.05" fill="none" stroke-opacity="1" stroke-linejoin="round"/>
<line x1="143.4" y1="31.4" x2="143.4" y2="111.3" stroke="#444" stroke-width="1.0" />
<line x1="142.9" y1="110.8" x2="244.7" y2="110.8" stroke="#444" stroke-width="1.0" />
<line x1="143.4" y1="106.2" x2="145.0" y2="106.2" stroke="#555" stroke-width="0.7" />
<text x="142.0" y="108.6" font-size="6.7" text-anchor="end" fill="#333" font-weight="bold" >0</text>
<line x1="143.4" y1="88.7" x2="145.0" y2="88.7" stroke="#555" stroke-width="0.7" />
<text x="142.0" y="91.1" font-size="6.7" text-anchor="end" fill="#333" font-weight="bold" >20</text>
<line x1="143.4" y1="71.2" x2="145.0" y2="71.2" stroke="#555" stroke-width="0.7" />
<text x="142.0" y="73.6" font-size="6.7" text-anchor="end" fill="#333" font-weight="bold" >40</text>
<line x1="143.4" y1="53.7" x2="145.0" y2="53.7" stroke="#555" stroke-width="0.7" />
<text x="142.0" y="56.1" font-size="6.7" text-anchor="end" fill="#333" font-weight="bold" >60</text>
<line x1="143.4" y1="36.2" x2="145.0" y2="36.2" stroke="#555" stroke-width="0.7" />
<text x="142.0" y="38.6" font-size="6.7" text-anchor="end" fill="#333" font-weight="bold" >80</text>
<line x1="152.4" y1="110.8" x2="152.4" y2="109.2" stroke="#555" stroke-width="0.7" />
<text x="152.1" y="118.7" font-size="6.7" text-anchor="middle" fill="#333" font-weight="bold" >0</text>
<line x1="198.3" y1="110.8" x2="198.3" y2="109.2" stroke="#555" stroke-width="0.7" />
<text x="198.0" y="118.7" font-size="6.7" text-anchor="middle" fill="#333" font-weight="bold" >500</text>
<line x1="244.2" y1="110.8" x2="244.2" y2="109.2" stroke="#555" stroke-width="0.7" />
<text x="243.9" y="118.7" font-size="6.7" text-anchor="middle" fill="#333" font-weight="bold" >1000</text>
<path d="M143.2 106.2 143.7 106.2 144.1 106.2 144.6 106.2 145.1 106.2 145.5 106.2 146.0 106.2 146.4 106.2 146.9 106.2 147.4 106.2 147.8 106.2 148.3 106.2 148.7 106.2 149.2 106.2 149.6 106.2 150.1 106.2 150.6 106.2 151.0 106.2 151.5 106.2 151.9 106.2 152.4 94.8 152.9 95.6 153.3 94.8 153.8 94.2 154.2 94.8 154.7 95.3 155.2 96.8 155.6 96.9 156.1 97.8 156.5 98.1 157.0 97.2 157.4 98.0 157.9 99.3 158.4 100.3 158.8 101.1 159.3 100.8 159.7 103.8 160.2 103.2 160.7 102.7 161.1 100.5 161.6 100.7 162.0 100.3 162.5 101.0 163.0 101.2 163.4 102.9 163.9 103.2 164.3 103.2 164.8 102.5 165.3 103.2 165.7 103.7 166.2 104.1 166.6 103.8 167.1 103.7 167.5 103.9 168.0 104.4 168.5 105.4 168.9 104.0 169.4 104.1 169.8 103.3 170.3 104.1 170.8 102.8 171.2 103.8 171.7 104.5 172.1 104.9 172.6 103.7 173.1 104.0 173.5 104.9 174.0 104.9 174.4 103.8 174.9 102.8 175.3 103.8 175.8 104.3 176.3 104.4 176.7 103.4 177.2 104.4 177.6 104.3 178.1 104.8 178.6 104.6 179.0 104.4 179.5 104.1 179.9 103.5 180.4 103.2 180.9 103.9 181.3 103.5 181.8 103.2 182.2 101.9 182.7 100.9 183.2 101.6 183.6 102.5 184.1 102.7 184.5 101.4 185.0 98.7 185.4 98.1 185.9 98.6 186.4 99.1 186.8 99.7 187.3 99.7 187.7 98.2 188.2 97.0 188.7 95.2 189.1 96.1 189.6 94.8 190.0 94.7 190.5 38.0 191.0 83.3 191.4 91.9 191.9 93.5 192.3 93.6 192.8 92.0 193.3 92.4 193.7 93.0 194.2 93.4 194.6 92.3 195.1 91.7 195.5 90.7 196.0 91.2 196.5 90.8 196.9 90.6 197.4 90.3 197.8 91.6 198.3 91.5 198.8 90.5 199.2 90.1 199.7 90.5 200.1 91.3 200.6 90.4 201.1 90.0 201.5 91.8 202.0 92.2 202.4 93.5 202.9 93.2 203.3 93.4 203.8 93.1 204.3 92.3 204.7 90.9 205.2 90.5 205.6 90.9 206.1 93.8 206.6 95.1 207.0 96.6 207.5 96.8 207.9 97.4 208.4 97.6 208.9 97.7 209.3 98.1 209.8 99.0 210.2 100.1 210.7 36.2 211.2 87.6 211.6 97.3 212.1 97.9 212.5 98.5 213.0 99.1 213.4 101.0 213.9 99.7 214.4 99.7 214.8 99.3 215.3 101.8 215.7 102.6 216.2 104.0 216.7 104.0 217.1 104.0 217.6 103.0 218.0 103.1 218.5 103.2 219.0 104.1 219.4 103.8 219.9 104.9 220.3 105.0 220.8 105.0 221.2 105.5 221.7 103.9 222.2 104.7 222.6 102.9 223.1 104.9 223.5 104.3 224.0 106.2 224.5 106.2 224.9 106.2 225.4 105.9 225.8 105.9 226.3 105.3 226.8 106.2 227.2 105.5 227.7 106.0 228.1 105.2 228.6 106.2 229.1 105.7 229.5 105.7 230.0 104.9 230.4 106.2 230.9 106.2 231.3 106.2 231.8 106.2 232.3 106.2 232.7 106.2 233.2 106.2 233.6 106.2 234.1 105.7 234.6 105.7 235.0 105.9 235.5 105.4 235.9 105.0 236.4 106.2 236.9 106.2 237.3 106.2 237.8 106.2 238.2 106.2 238.7 106.2 239.2 105.7 239.6 105.5 240.1 105.6 240.5 106.2 241.0 106.2 241.4 106.2 241.9 106.2 242.4 106.2 242.8 106.2 243.3 106.2 243.7 106.2 244.2 106.2" stroke="#17703a" stroke-width="0.55" fill="none" stroke-opacity="0.45" stroke-linejoin="round"/>
<path d="M143.2 106.2 143.7 106.2 144.1 106.2 144.6 106.2 145.1 106.2 145.5 106.2 146.0 106.2 146.4 106.2 146.9 106.2 147.4 106.2 147.8 106.2 148.3 106.2 148.7 106.2 149.2 106.2 149.6 106.2 150.1 106.2 150.6 106.2 151.0 106.2 151.5 106.2 151.9 106.2 152.4 94.2 152.9 94.4 153.3 94.7 153.8 95.6 154.2 96.6 154.7 96.5 155.2 96.1 155.6 97.8 156.1 99.1 156.5 99.6 157.0 100.1 157.4 101.0 157.9 101.5 158.4 100.5 158.8 101.1 159.3 103.6 159.7 105.8 160.2 105.9 160.7 104.5 161.1 103.3 161.6 102.8 162.0 103.2 162.5 103.4 163.0 103.8 163.4 103.1 163.9 103.4 164.3 100.7 164.8 99.7 165.3 99.4 165.7 101.3 166.2 101.6 166.6 101.7 167.1 101.1 167.5 101.0 168.0 99.1 168.5 98.8 168.9 98.9 169.4 100.4 169.8 101.2 170.3 101.1 170.8 100.8 171.2 99.8 171.7 100.7 172.1 100.4 172.6 101.5 173.1 101.6 173.5 104.0 174.0 105.3 174.4 105.1 174.9 103.2 175.3 102.4 175.8 102.5 176.3 103.7 176.7 104.0 177.2 104.9 177.6 103.9 178.1 103.3 178.6 102.9 179.0 103.6 179.5 103.2 179.9 102.7 180.4 102.8 180.9 101.8 181.3 101.6 181.8 100.8 182.2 100.6 182.7 99.9 183.2 99.7 183.6 100.0 184.1 101.0 184.5 101.1 185.0 102.6 185.4 100.8 185.9 101.3 186.4 99.1 186.8 100.1 187.3 99.2 187.7 99.5 188.2 98.6 188.7 97.3 189.1 95.8 189.6 95.5 190.0 95.1 190.5 96.4 191.0 96.0 191.4 96.3 191.9 96.1 192.3 35.3 192.8 84.9 193.3 94.3 193.7 95.6 194.2 95.9 194.6 96.5 195.1 96.3 195.5 97.1 196.0 97.1 196.5 96.7 196.9 97.5 197.4 97.6 197.8 98.4 198.3 97.9 198.8 96.0 199.2 98.3 199.7 96.5 200.1 97.4 200.6 95.5 201.1 96.8 201.5 97.9 202.0 99.3 202.4 98.9 202.9 100.2 203.3 100.1 203.8 100.3 204.3 100.6 204.7 100.9 205.2 101.8 205.6 102.2 206.1 101.5 206.6 101.7 207.0 102.1 207.5 103.1 207.9 104.1 208.4 103.8 208.9 104.0 209.3 104.2 209.8 103.3 210.2 104.1 210.7 103.2 211.2 104.0 211.6 103.2 212.1 104.3 212.5 104.8 213.0 106.2 213.4 105.6 213.9 32.7 214.4 91.2 214.8 102.2 215.3 103.0 215.7 104.6 216.2 105.3 216.7 105.5 217.1 104.5 217.6 104.2 218.0 104.8 218.5 106.2 219.0 106.0 219.4 105.3 219.9 105.0 220.3 105.2 220.8 105.6 221.2 105.7 221.7 106.2 222.2 106.2 222.6 106.2 223.1 106.2 223.5 106.2 224.0 106.2 224.5 106.2 224.9 106.2 225.4 105.7 225.8 106.2 226.3 106.2 226.8 106.2 227.2 106.2 227.7 106.2 228.1 105.8 228.6 104.7 229.1 104.6 229.5 104.2 230.0 105.4 230.4 105.8 230.9 105.6 231.3 105.0 231.8 105.7 232.3 105.6 232.7 106.0 233.2 104.6 233.6 105.0 234.1 106.1 234.6 106.2 235.0 106.2 235.5 105.6 235.9 105.8 236.4 106.2 236.9 106.2 237.3 106.2 237.8 106.2 238.2 106.2 238.7 106.2 239.2 106.2 239.6 106.2 240.1 106.2 240.5 105.8 241.0 106.2 241.4 106.2 241.9 106.2 242.4 106.2 242.8 106.2 243.3 106.2 243.7 106.2 244.2 106.2" stroke="#17703a" stroke-width="0.55" fill="none" stroke-opacity="0.45" stroke-linejoin="round"/>
<path d="M143.2 106.2 143.7 106.2 144.1 106.2 144.6 106.2 145.1 106.2 145.5 106.2 146.0 106.2 146.4 106.2 146.9 106.2 147.4 106.2 147.8 106.2 148.3 106.2 148.7 106.2 149.2 106.2 149.6 106.2 150.1 106.2 150.6 106.2 151.0 106.2 151.5 106.2 151.9 106.2 152.4 95.2 152.9 94.7 153.3 95.9 153.8 96.9 154.2 98.6 154.7 98.0 155.2 98.4 155.6 98.2 156.1 99.2 156.5 99.7 157.0 100.9 157.4 101.3 157.9 101.8 158.4 101.7 158.8 102.3 159.3 101.4 159.7 101.7 160.2 102.0 160.7 102.5 161.1 103.0 161.6 101.9 162.0 102.7 162.5 102.1 163.0 102.4 163.4 102.7 163.9 102.8 164.3 101.6 164.8 102.6 165.3 102.5 165.7 103.4 166.2 102.6 166.6 103.5 167.1 102.4 167.5 101.9 168.0 99.8 168.5 100.9 168.9 100.7 169.4 101.9 169.8 102.1 170.3 101.6 170.8 101.9 171.2 102.5 171.7 103.4 172.1 103.0 172.6 102.8 173.1 103.8 173.5 105.3 174.0 105.8 174.4 105.7 174.9 105.7 175.3 106.2 175.8 106.2 176.3 106.0 176.7 104.8 177.2 104.7 177.6 103.7 178.1 104.4 178.6 102.4 179.0 103.1 179.5 102.8 179.9 105.2 180.4 106.2 180.9 106.2 181.3 106.2 181.8 104.6 182.2 105.4 182.7 104.3 183.2 105.7 183.6 104.4 184.1 106.2 184.5 106.2 185.0 106.2 185.4 105.5 185.9 105.6 186.4 106.0 186.8 105.8 187.3 105.4 187.7 104.3 188.2 104.2 188.7 103.9 189.1 104.2 189.6 105.6 190.0 106.2 190.5 106.2 191.0 104.7 191.4 103.6 191.9 104.7 192.3 104.9 192.8 104.8 193.3 104.6 193.7 104.9 194.2 32.7 194.6 89.9 195.1 100.8 195.5 102.8 196.0 104.7 196.5 103.5 196.9 101.9 197.4 101.3 197.8 101.4 198.3 101.7 198.8 101.9 199.2 100.8 199.7 100.0 200.1 97.3 200.6 98.2 201.1 98.2 201.5 98.9 202.0 98.2 202.4 98.6 202.9 99.5 203.3 98.9 203.8 97.5 204.3 96.7 204.7 95.9 205.2 95.2 205.6 94.7 206.1 95.2 206.6 95.8 207.0 95.6 207.5 94.9 207.9 94.7 208.4 94.8 208.9 95.6 209.3 96.6 209.8 97.6 210.2 97.1 210.7 96.1 211.2 94.6 211.6 95.3 212.1 95.3 212.5 95.7 213.0 95.4 213.4 96.7 213.9 98.0 214.4 98.9 214.8 99.5 215.3 99.4 215.7 99.2 216.2 31.8 216.7 86.5 217.1 96.9 217.6 98.8 218.0 101.8 218.5 102.5 219.0 102.4 219.4 102.6 219.9 101.3 220.3 101.5 220.8 101.5 221.2 102.9 221.7 104.5 222.2 105.1 222.6 105.7 223.1 104.4 223.5 104.6 224.0 103.1 224.5 103.4 224.9 103.0 225.4 104.1 225.8 104.5 226.3 104.7 226.8 104.4 227.2 105.1 227.7 105.3 228.1 104.2 228.6 103.9 229.1 104.4 229.5 106.2 230.0 106.2 230.4 106.2 230.9 106.2 231.3 105.1 231.8 104.7 232.3 103.1 232.7 103.9 233.2 104.4 233.6 105.6 234.1 104.8 234.6 105.2 235.0 105.6 235.5 104.9 235.9 104.8 236.4 104.5 236.9 104.8 237.3 104.6 237.8 104.5 238.2 105.1 238.7 104.6 239.2 104.5 239.6 104.8 240.1 106.2 240.5 106.2 241.0 106.2 241.4 106.2 241.9 106.2 242.4 106.2 242.8 106.2 243.3 106.2 243.7 105.7 244.2 106.2" stroke="#17703a" stroke-width="0.55" fill="none" stroke-opacity="0.45" stroke-linejoin="round"/>
<path d="M143.2 106.2 143.7 106.2 144.1 106.2 144.6 106.2 145.1 106.2 145.5 106.2 146.0 106.2 146.4 106.2 146.9 106.2 147.4 106.2 147.8 106.2 148.3 106.2 148.7 106.2 149.2 106.2 149.6 106.2 150.1 106.2 150.6 106.2 151.0 106.2 151.5 106.2 151.9 106.2 152.4 93.9 152.9 94.2 153.3 94.2 153.8 95.5 154.2 95.3 154.7 96.2 155.2 97.0 155.6 97.7 156.1 97.1 156.5 96.9 157.0 99.2 157.4 100.9 157.9 101.1 158.4 100.2 158.8 99.0 159.3 100.4 159.7 100.1 160.2 101.5 160.7 99.7 161.1 100.1 161.6 98.9 162.0 100.0 162.5 100.7 163.0 102.0 163.4 101.8 163.9 101.5 164.3 100.0 164.8 98.8 165.3 98.1 165.7 99.8 166.2 101.0 166.6 101.9 167.1 100.7 167.5 100.9 168.0 100.6 168.5 102.2 168.9 104.1 169.4 105.3 169.8 106.2 170.3 104.9 170.8 104.7 171.2 104.7 171.7 105.4 172.1 104.6 172.6 104.8 173.1 105.2 173.5 106.2 174.0 106.2 174.4 106.0 174.9 105.5 175.3 103.9 175.8 104.8 176.3 105.1 176.7 106.1 177.2 105.0 177.6 105.0 178.1 105.2 178.6 104.4 179.0 104.5 179.5 104.3 179.9 104.9 180.4 104.4 180.9 104.3 181.3 103.5 181.8 103.5 182.2 103.1 182.7 103.6 183.2 104.1 183.6 104.6 184.1 105.0 184.5 104.1 185.0 103.8 185.4 103.6 185.9 103.4 186.4 102.4 186.8 102.6 187.3 101.4 187.7 101.5 188.2 100.2 188.7 100.3 189.1 100.0 189.6 100.1 190.0 99.1 190.5 99.5 191.0 98.9 191.4 99.5 191.9 99.2 192.3 98.9 192.8 98.9 193.3 96.4 193.7 96.6 194.2 96.6 194.6 97.4 195.1 96.4 195.5 96.9 196.0 96.7 196.5 32.7 196.9 84.4 197.4 94.2 197.8 93.5 198.3 93.3 198.8 93.5 199.2 94.6 199.7 94.7 200.1 94.6 200.6 93.9 201.1 93.6 201.5 94.1 202.0 92.7 202.4 91.2 202.9 90.8 203.3 91.4 203.8 92.8 204.3 91.6 204.7 91.6 205.2 91.3 205.6 92.2 206.1 92.4 206.6 93.1 207.0 92.6 207.5 93.1 207.9 92.2 208.4 92.6 208.9 91.6 209.3 92.0 209.8 91.6 210.2 93.0 210.7 92.8 211.2 93.8 211.6 93.2 212.1 93.8 212.5 93.3 213.0 94.9 213.4 95.0 213.9 96.8 214.4 95.0 214.8 96.7 215.3 96.7 215.7 98.8 216.2 96.8 216.7 97.3 217.1 96.4 217.6 98.1 218.0 98.8 218.5 99.3 219.0 98.9 219.4 98.2 219.9 97.6 220.3 98.6 220.8 98.8 221.2 99.9 221.7 99.8 222.2 98.8 222.6 98.6 223.1 99.0 223.5 34.5 224.0 88.4 224.5 98.5 224.9 100.5 225.4 102.2 225.8 103.5 226.3 103.3 226.8 101.7 227.2 103.3 227.7 103.0 228.1 104.0 228.6 103.4 229.1 104.2 229.5 104.6 230.0 103.0 230.4 103.3 230.9 104.8 231.3 105.3 231.8 103.9 232.3 103.2 232.7 105.4 233.2 105.5 233.6 105.5 234.1 103.5 234.6 104.6 235.0 104.8 235.5 105.8 235.9 104.9 236.4 103.9 236.9 105.0 237.3 106.2 237.8 106.2 238.2 105.4 238.7 105.7 239.2 106.2 239.6 106.2 240.1 106.0 240.5 106.2 241.0 106.2 241.4 106.2 241.9 106.2 242.4 106.2 242.8 106.2 243.3 106.2 243.7 105.5 244.2 105.1" stroke="#17703a" stroke-width="0.55" fill="none" stroke-opacity="0.45" stroke-linejoin="round"/>
<path d="M143.2 106.2 143.7 106.2 144.1 106.2 144.6 106.2 145.1 106.2 145.5 106.2 146.0 106.2 146.4 106.2 146.9 106.2 147.4 106.2 147.8 106.2 148.3 106.2 148.7 106.2 149.2 106.2 149.6 106.2 150.1 106.2 150.6 106.2 151.0 106.2 151.5 106.2 151.9 106.2 152.4 93.8 152.9 95.2 153.3 96.6 153.8 96.6 154.2 97.4 154.7 98.5 155.2 99.6 155.6 100.3 156.1 100.4 156.5 100.3 157.0 99.7 157.4 100.1 157.9 101.2 158.4 103.9 158.8 103.9 159.3 104.1 159.7 104.0 160.2 103.7 160.7 102.9 161.1 101.7 161.6 101.8 162.0 102.3 162.5 100.9 163.0 101.0 163.4 100.1 163.9 98.7 164.3 97.2 164.8 96.2 165.3 97.2 165.7 97.8 166.2 98.0 166.6 97.7 167.1 97.9 167.5 98.0 168.0 98.0 168.5 97.2 168.9 99.1 169.4 101.3 169.8 103.8 170.3 102.8 170.8 102.5 171.2 101.6 171.7 103.4 172.1 105.0 172.6 105.9 173.1 105.6 173.5 105.6 174.0 105.8 174.4 105.6 174.9 105.0 175.3 105.9 175.8 106.2 176.3 106.2 176.7 106.2 177.2 106.0 177.6 106.1 178.1 106.2 178.6 106.0 179.0 105.7 179.5 105.1 179.9 106.1 180.4 106.2 180.9 106.2 181.3 106.1 181.8 106.2 182.2 106.2 182.7 104.9 183.2 103.8 183.6 102.4 184.1 103.0 184.5 103.0 185.0 104.6 185.4 104.5 185.9 103.1 186.4 101.6 186.8 100.4 187.3 100.4 187.7 100.2 188.2 100.3 188.7 100.2 189.1 99.2 189.6 98.3 190.0 97.5 190.5 97.2 191.0 97.5 191.4 97.4 191.9 97.5 192.3 95.7 192.8 96.3 193.3 95.3 193.7 93.9 194.2 92.2 194.6 92.2 195.1 93.3 195.5 91.8 196.0 90.7 196.5 89.9 196.9 90.3 197.4 90.2 197.8 88.3 198.3 34.5 198.8 78.0 199.2 86.2 199.7 87.8 200.1 89.6 200.6 88.8 201.1 89.1 201.5 90.5 202.0 90.9 202.4 91.5 202.9 91.1 203.3 92.8 203.8 93.4 204.3 94.2 204.7 93.7 205.2 94.8 205.6 94.9 206.1 95.3 206.6 95.7 207.0 96.7 207.5 97.9 207.9 97.2 208.4 99.0 208.9 99.3 209.3 101.5 209.8 100.7 210.2 100.5 210.7 100.3 211.2 100.4 211.6 102.0 212.1 100.8 212.5 100.7 213.0 99.8 213.4 102.3 213.9 104.0 214.4 104.3 214.8 103.9 215.3 103.6 215.7 104.3 216.2 105.2 216.7 104.8 217.1 105.2 217.6 104.2 218.0 105.3 218.5 105.1 219.0 106.0 219.4 105.1 219.9 104.8 220.3 103.8 220.8 104.1 221.2 104.5 221.7 106.2 222.2 106.2 222.6 106.2 223.1 105.6 223.5 106.2 224.0 106.2 224.5 106.2 224.9 106.2 225.4 105.1 225.8 105.2 226.3 106.2 226.8 106.2 227.2 106.2 227.7 104.5 228.1 105.4 228.6 105.4 229.1 106.1 229.5 105.0 230.0 105.4 230.4 105.0 230.9 106.2 231.3 104.4 231.8 105.7 232.3 106.2 232.7 106.2 233.2 106.2 233.6 103.9 234.1 103.2 234.6 103.3 235.0 104.8 235.5 106.2 235.9 106.2 236.4 106.2 236.9 106.2 237.3 106.2 237.8 106.2 238.2 106.2 238.7 104.5 239.2 104.1 239.6 104.4 240.1 105.7 240.5 106.2 241.0 106.2 241.4 106.2 241.9 106.2 242.4 106.1 242.8 105.7 243.3 106.2 243.7 106.2 244.2 105.3" stroke="#17703a" stroke-width="0.55" fill="none" stroke-opacity="0.45" stroke-linejoin="round"/>
<path d="M143.2 106.2 143.7 106.2 144.1 106.2 144.6 106.2 145.1 106.2 145.5 106.2 146.0 106.2 146.4 106.2 146.9 106.2 147.4 106.2 147.8 106.2 148.3 106.2 148.7 106.2 149.2 106.2 149.6 106.2 150.1 106.2 150.6 106.2 151.0 106.2 151.5 106.2 151.9 106.2 152.4 94.7 152.9 97.1 153.3 97.3 153.8 97.6 154.2 97.7 154.7 97.8 155.2 99.4 155.6 100.8 156.1 101.0 156.5 100.8 157.0 100.4 157.4 100.6 157.9 101.7 158.4 102.0 158.8 102.6 159.3 102.8 159.7 101.0 160.2 102.2 160.7 101.5 161.1 102.6 161.6 103.0 162.0 104.8 162.5 105.2 163.0 104.4 163.4 103.2 163.9 103.0 164.3 103.0 164.8 104.0 165.3 106.2 165.7 106.2 166.2 106.2 166.6 104.2 167.1 104.2 167.5 104.5 168.0 103.5 168.5 102.9 168.9 101.4 169.4 103.2 169.8 104.0 170.3 104.9 170.8 104.3 171.2 104.8 171.7 104.2 172.1 103.8 172.6 103.0 173.1 103.7 173.5 103.1 174.0 103.4 174.4 105.0 174.9 106.2 175.3 106.2 175.8 104.6 176.3 104.6 176.7 104.9 177.2 106.1 177.6 105.6 178.1 105.8 178.6 105.9 179.0 106.2 179.5 106.2 179.9 106.2 180.4 106.2 180.9 106.2 181.3 106.2 181.8 105.8 182.2 105.9 182.7 104.7 183.2 104.3 183.6 104.9 184.1 105.8 184.5 106.2 185.0 105.9 185.4 105.5 185.9 103.8 186.4 105.1 186.8 106.2 187.3 106.2 187.7 106.2 188.2 105.0 188.7 105.9 189.1 105.6 189.6 105.3 190.0 106.2 190.5 106.1 191.0 106.2 191.4 106.1 191.9 105.7 192.3 104.7 192.8 104.7 193.3 106.2 193.7 106.2 194.2 106.2 194.6 105.7 195.1 106.2 195.5 106.2 196.0 106.2 196.5 106.2 196.9 106.2 197.4 104.8 197.8 105.3 198.3 105.7 198.8 106.0 199.2 105.8 199.7 106.0 200.1 36.2 200.6 92.0 201.1 102.5 201.5 104.5 202.0 105.3 202.4 106.2 202.9 106.2 203.3 105.5 203.8 102.9 204.3 102.0 204.7 102.1 205.2 103.1 205.6 104.0 206.1 104.3 206.6 103.6 207.0 103.3 207.5 102.2 207.9 102.8 208.4 103.0 208.9 103.7 209.3 103.6 209.8 102.8 210.2 100.8 210.7 99.2 211.2 97.5 211.6 96.8 212.1 95.2 212.5 94.9 213.0 94.0 213.4 93.8 213.9 92.7 214.4 92.6 214.8 93.0 215.3 92.8 215.7 92.4 216.2 90.4 216.7 89.5 217.1 89.0 217.6 88.2 218.0 86.6 218.5 85.6 219.0 85.1 219.4 86.0 219.9 86.5 220.3 87.0 220.8 86.9 221.2 87.1 221.7 86.4 222.2 86.5 222.6 87.1 223.1 88.2 223.5 87.3 224.0 87.1 224.5 87.2 224.9 89.3 225.4 90.3 225.8 92.2 226.3 92.7 226.8 92.0 227.2 93.0 227.7 92.6 228.1 95.2 228.6 95.4 229.1 96.7 229.5 96.3 230.0 96.7 230.4 99.0 230.9 99.8 231.3 101.3 231.8 99.2 232.3 100.1 232.7 99.9 233.2 102.8 233.6 103.4 234.1 104.7 234.6 103.8 235.0 104.0 235.5 103.1 235.9 104.5 236.4 104.9 236.9 104.6 237.3 105.0 237.8 106.1 238.2 106.2 238.7 106.2 239.2 106.2 239.6 106.1 240.1 105.9 240.5 105.2 241.0 106.2 241.4 104.8 241.9 104.6 242.4 104.5 242.8 105.6 243.3 106.2 243.7 106.2 244.2 105.8" stroke="#17703a" stroke-width="0.55" fill="none" stroke-opacity="0.45" stroke-linejoin="round"/>
<path d="M143.2 106.2 143.7 106.2 144.1 106.2 144.6 106.2 145.1 106.2 145.5 106.2 146.0 106.2 146.4 106.2 146.9 106.2 147.4 106.2 147.8 106.2 148.3 106.2 148.7 106.2 149.2 106.2 149.6 106.2 150.1 106.2 150.6 106.2 151.0 106.2 151.5 106.2 151.9 106.2 152.4 93.6 152.9 94.1 153.3 94.8 153.8 96.2 154.2 95.6 154.7 96.1 155.2 97.1 155.6 98.9 156.1 98.5 156.5 98.3 157.0 98.5 157.4 100.8 157.9 102.4 158.4 102.3 158.8 102.1 159.3 101.3 159.7 101.6 160.2 101.1 160.7 101.3 161.1 101.3 161.6 102.1 162.0 102.7 162.5 101.5 163.0 101.8 163.4 101.9 163.9 102.7 164.3 102.1 164.8 102.5 165.3 104.1 165.7 103.9 166.2 102.9 166.6 101.4 167.1 101.9 167.5 102.2 168.0 104.0 168.5 104.2 168.9 105.6 169.4 105.0 169.8 104.8 170.3 103.9 170.8 104.8 171.2 104.6 171.7 105.7 172.1 105.8 172.6 106.2 173.1 106.2 173.5 106.2 174.0 106.2 174.4 105.9 174.9 105.6 175.3 106.0 175.8 105.9 176.3 106.2 176.7 106.2 177.2 106.2 177.6 106.2 178.1 106.2 178.6 106.2 179.0 106.2 179.5 106.2 179.9 106.2 180.4 106.2 180.9 105.8 181.3 105.0 181.8 104.5 182.2 104.4 182.7 105.0 183.2 106.2 183.6 106.2 184.1 106.2 184.5 106.2 185.0 106.2 185.4 105.9 185.9 106.1 186.4 105.9 186.8 105.7 187.3 105.4 187.7 105.6 188.2 106.1 188.7 106.2 189.1 106.2 189.6 106.2 190.0 105.7 190.5 106.2 191.0 105.1 191.4 105.4 191.9 105.2 192.3 106.2 192.8 106.2 193.3 106.2 193.7 105.5 194.2 104.1 194.6 103.7 195.1 104.4 195.5 104.9 196.0 104.6 196.5 104.9 196.9 105.2 197.4 105.6 197.8 104.7 198.3 104.1 198.8 103.5 199.2 105.2 199.7 104.4 200.1 103.1 200.6 100.6 201.1 101.3 201.5 103.0 202.0 103.2 202.4 103.3 202.9 101.8 203.3 33.6 203.8 89.0 204.3 99.1 204.7 99.6 205.2 99.4 205.6 100.1 206.1 99.1 206.6 99.0 207.0 98.0 207.5 95.8 207.9 95.7 208.4 94.2 208.9 92.9 209.3 90.9 209.8 90.6 210.2 91.3 210.7 91.9 211.2 91.4 211.6 90.6 212.1 89.0 212.5 87.3 213.0 86.8 213.4 86.7 213.9 87.1 214.4 88.3 214.8 89.3 215.3 90.5 215.7 90.2 216.2 89.2 216.7 89.3 217.1 88.1 217.6 87.9 218.0 87.6 218.5 89.4 219.0 90.5 219.4 91.0 219.9 92.0 220.3 92.8 220.8 93.5 221.2 93.3 221.7 93.2 222.2 93.6 222.6 94.9 223.1 96.5 223.5 98.5 224.0 98.2 224.5 99.5 224.9 98.9 225.4 99.6 225.8 99.0 226.3 100.2 226.8 101.9 227.2 101.9 227.7 102.3 228.1 100.9 228.6 102.1 229.1 101.9 229.5 102.0 230.0 102.3 230.4 102.1 230.9 104.5 231.3 104.3 231.8 105.6 232.3 104.9 232.7 105.6 233.2 105.3 233.6 104.3 234.1 105.6 234.6 105.8 235.0 106.2 235.5 105.6 235.9 105.9 236.4 105.2 236.9 106.2 237.3 105.6 237.8 105.2 238.2 105.3 238.7 105.7 239.2 106.2 239.6 106.2 240.1 106.2 240.5 105.8 241.0 105.3 241.4 106.2 241.9 106.2 242.4 106.2 242.8 106.2 243.3 106.2 243.7 106.2 244.2 106.2" stroke="#17703a" stroke-width="0.55" fill="none" stroke-opacity="0.45" stroke-linejoin="round"/>
<path d="M143.2 106.2 143.7 106.2 144.1 106.2 144.6 106.2 145.1 106.2 145.5 106.2 146.0 106.2 146.4 106.2 146.9 106.2 147.4 106.2 147.8 106.2 148.3 106.2 148.7 106.2 149.2 106.2 149.6 106.2 150.1 106.2 150.6 106.2 151.0 106.2 151.5 106.2 151.9 106.2 152.4 100.4 152.9 100.6 153.3 101.2 153.8 101.5 154.2 101.8 154.7 101.8 155.2 101.9 155.6 102.2 156.1 102.2 156.5 102.3 157.0 102.5 157.4 102.8 157.9 102.9 158.4 103.1 158.8 103.0 159.3 103.2 159.7 103.3 160.2 103.5 160.7 103.8 161.1 103.7 161.6 103.8 162.0 103.7 162.5 103.8 163.0 103.9 163.4 104.0 163.9 104.1 164.3 104.2 164.8 104.2 165.3 104.3 165.7 104.4 166.2 104.6 166.6 104.7 167.1 104.8 167.5 104.8 168.0 104.8 168.5 104.7 168.9 104.9 169.4 104.9 169.8 105.0 170.3 105.0 170.8 104.7 171.2 104.6 171.7 104.5 172.1 104.9 172.6 105.0 173.1 105.2 173.5 105.0 174.0 105.0 174.4 104.9 174.9 105.0 175.3 105.1 175.8 105.2 176.3 105.2 176.7 105.2 177.2 105.2 177.6 105.3 178.1 105.3 178.6 105.1 179.0 105.0 179.5 105.0 179.9 105.0 180.4 105.1 180.9 105.0 181.3 105.2 181.8 105.2 182.2 105.3 182.7 105.3 183.2 105.3 183.6 105.3 184.1 105.1 184.5 105.0 185.0 105.2 185.4 105.3 185.9 105.2 186.4 104.9 186.8 104.8 187.3 105.0 187.7 105.2 188.2 105.4 188.7 105.3 189.1 105.1 189.6 105.1 190.0 105.2 190.5 105.3 191.0 105.3 191.4 105.4 191.9 105.2 192.3 104.9 192.8 104.9 193.3 104.9 193.7 105.1 194.2 105.2 194.6 105.5 195.1 105.4 195.5 105.3 196.0 105.0 196.5 105.0 196.9 105.0 197.4 105.3 197.8 105.2 198.3 105.3 198.8 105.1 199.2 105.4 199.7 105.3 200.1 105.2 200.6 105.1 201.1 105.2 201.5 105.2 202.0 105.1 202.4 105.1 202.9 105.0 203.3 105.1 203.8 105.1 204.3 105.3 204.7 105.5 205.2 105.5 205.6 105.4 206.1 105.2 206.6 105.2 207.0 105.2 207.5 105.4 207.9 105.4 208.4 105.4 208.9 105.1 209.3 105.2 209.8 105.1 210.2 105.0 210.7 105.0 211.2 105.0 211.6 105.3 212.1 105.5 212.5 105.5 213.0 105.3 213.4 105.1 213.9 105.2 214.4 105.3 214.8 105.2 215.3 105.0 215.7 105.0 216.2 105.2 216.7 105.3 217.1 105.2 217.6 105.0 218.0 105.1 218.5 104.9 219.0 105.0 219.4 105.0 219.9 105.3 220.3 105.4 220.8 105.5 221.2 105.3 221.7 105.2 222.2 105.3 222.6 105.1 223.1 105.2 223.5 105.2 224.0 105.3 224.5 105.3 224.9 105.3 225.4 105.2 225.8 105.1 226.3 105.0 226.8 105.1 227.2 105.0 227.7 105.3 228.1 105.4 228.6 105.5 229.1 105.4 229.5 105.3 230.0 105.2 230.4 105.4 230.9 105.5 231.3 105.7 231.8 105.4 232.3 105.3 232.7 105.2 233.2 105.4 233.6 105.3 234.1 105.3 234.6 105.2 235.0 105.4 235.5 105.3 235.9 105.3 236.4 105.0 236.9 105.0 237.3 105.1 237.8 105.1 238.2 105.2 238.7 105.1 239.2 105.1 239.6 105.2 240.1 105.3 240.5 105.2 241.0 105.1 241.4 105.1 241.9 105.0 242.4 105.2 242.8 105.2 243.3 105.2 243.7 105.1 244.2 105.2" stroke="#17703a" stroke-width="0.55" fill="none" stroke-opacity="0.45" stroke-linejoin="round"/>
<path d="M143.2 106.2 143.7 106.2 144.1 106.2 144.6 106.2 145.1 106.2 145.5 106.2 146.0 106.2 146.4 106.2 146.9 106.2 147.4 106.2 147.8 106.2 148.3 106.2 148.7 106.2 149.2 106.2 149.6 106.2 150.1 106.2 150.6 106.2 151.0 106.2 151.5 106.2 151.9 106.2 152.4 101.3 152.9 101.8 153.3 102.4 153.8 102.8 154.2 103.1 154.7 103.3 155.2 103.7 155.6 104.0 156.1 104.2 156.5 104.3 157.0 104.8 157.4 105.1 157.9 105.4 158.4 105.2 158.8 105.3 159.3 105.2 159.7 105.2 160.2 105.3 160.7 105.5 161.1 105.4 161.6 105.5 162.0 105.6 162.5 105.6 163.0 105.6 163.4 105.8 163.9 105.9 164.3 106.0 164.8 105.9 165.3 105.9 165.7 105.8 166.2 105.8 166.6 105.9 167.1 105.9 167.5 105.9 168.0 105.9 168.5 105.9 168.9 106.0 169.4 106.1 169.8 106.1 170.3 106.1 170.8 106.2 171.2 106.1 171.7 106.1 172.1 106.0 172.6 106.1 173.1 106.1 173.5 106.1 174.0 106.0 174.4 106.1 174.9 106.0 175.3 106.1 175.8 105.9 176.3 106.2 176.7 106.2 177.2 106.2 177.6 106.1 178.1 106.1 178.6 106.1 179.0 106.2 179.5 106.1 179.9 106.2 180.4 106.2 180.9 106.2 181.3 106.1 181.8 106.0 182.2 106.0 182.7 105.9 183.2 106.1 183.6 106.2 184.1 106.2 184.5 106.2 185.0 106.2 185.4 106.0 185.9 106.2 186.4 106.2 186.8 106.1 187.3 106.1 187.7 105.8 188.2 105.9 188.7 106.1 189.1 106.2 189.6 106.2 190.0 106.1 190.5 106.0 191.0 106.0 191.4 105.9 191.9 106.0 192.3 106.0 192.8 106.1 193.3 106.1 193.7 106.0 194.2 105.9 194.6 105.9 195.1 105.9 195.5 106.0 196.0 106.0 196.5 106.0 196.9 106.0 197.4 106.0 197.8 106.1 198.3 106.1 198.8 106.1 199.2 106.1 199.7 106.1 200.1 106.2 200.6 106.1 201.1 106.1 201.5 106.0 202.0 106.0 202.4 105.9 202.9 106.0 203.3 106.2 203.8 106.1 204.3 106.0 204.7 105.9 205.2 105.9 205.6 105.9 206.1 106.0 206.6 106.1 207.0 106.2 207.5 106.1 207.9 106.0 208.4 106.0 208.9 106.0 209.3 106.1 209.8 106.1 210.2 106.2 210.7 106.2 211.2 106.2 211.6 106.2 212.1 106.2 212.5 106.1 213.0 106.2 213.4 106.1 213.9 106.1 214.4 106.1 214.8 106.2 215.3 106.2 215.7 106.0 216.2 106.1 216.7 106.0 217.1 106.1 217.6 106.1 218.0 106.1 218.5 106.0 219.0 105.9 219.4 105.8 219.9 105.9 220.3 106.0 220.8 105.9 221.2 105.9 221.7 105.8 222.2 106.0 222.6 106.0 223.1 106.0 223.5 106.0 224.0 105.9 224.5 105.9 224.9 105.8 225.4 106.0 225.8 106.0 226.3 105.9 226.8 105.8 227.2 105.8 227.7 105.8 228.1 105.9 228.6 106.1 229.1 106.2 229.5 106.2 230.0 106.0 230.4 105.9 230.9 106.0 231.3 106.1 231.8 106.1 232.3 106.0 232.7 106.0 233.2 106.1 233.6 106.2 234.1 106.1 234.6 106.1 235.0 105.9 235.5 106.1 235.9 106.2 236.4 106.2 236.9 106.2 237.3 106.1 237.8 106.0 238.2 105.9 238.7 105.8 239.2 105.9 239.6 106.1 240.1 106.0 240.5 106.0 241.0 105.8 241.4 105.8 241.9 105.9 242.4 106.0 242.8 106.1 243.3 106.2 243.7 106.2 244.2 106.2" stroke="#17703a" stroke-width="0.55" fill="none" stroke-opacity="0.45" stroke-linejoin="round"/>
<path d="M143.2 106.2 143.7 106.2 144.1 106.2 144.6 106.2 145.1 106.2 145.5 106.2 146.0 106.2 146.4 106.2 146.9 106.2 147.4 106.2 147.8 106.2 148.3 106.2 148.7 106.2 149.2 106.2 149.6 106.2 150.1 106.2 150.6 106.2 151.0 106.2 151.5 106.2 151.9 106.2 152.4 95.4 152.9 97.6 153.3 97.1 153.8 98.4 154.2 98.9 154.7 100.8 155.2 101.1 155.6 99.8 156.1 100.1 156.5 99.7 157.0 101.0 157.4 99.2 157.9 99.3 158.4 97.6 158.8 99.8 159.3 99.8 159.7 101.8 160.2 100.8 160.7 100.8 161.1 101.2 161.6 102.3 162.0 103.5 162.5 103.5 163.0 103.3 163.4 103.3 163.9 103.3 164.3 103.0 164.8 102.2 165.3 102.3 165.7 103.0 166.2 103.6 166.6 103.2 167.1 103.6 167.5 103.4 168.0 103.0 168.5 102.3 168.9 103.2 169.4 102.7 169.8 102.2 170.3 102.5 170.8 104.0 171.2 104.5 171.7 104.8 172.1 104.6 172.6 105.4 173.1 105.4 173.5 105.8 174.0 106.2 174.4 106.2 174.9 106.2 175.3 105.5 175.8 104.2 176.3 102.1 176.7 103.3 177.2 103.7 177.6 103.6 178.1 103.1 178.6 103.1 179.0 104.5 179.5 104.8 179.9 105.7 180.4 105.8 180.9 106.2 181.3 106.0 181.8 104.5 182.2 104.5 182.7 103.6 183.2 103.2 183.6 102.4 184.1 103.7 184.5 104.5 185.0 103.5 185.4 103.3 185.9 103.7 186.4 103.9 186.8 104.8 187.3 103.8 187.7 103.0 188.2 101.2 188.7 100.5 189.1 100.7 189.6 100.1 190.0 100.2 190.5 100.7 191.0 100.9 191.4 100.7 191.9 99.0 192.3 97.4 192.8 96.7 193.3 97.6 193.7 98.6 194.2 98.6 194.6 96.8 195.1 95.6 195.5 95.0 196.0 95.9 196.5 95.1 196.9 94.4 197.4 93.4 197.8 93.4 198.3 92.0 198.8 91.6 199.2 90.1 199.7 89.8 200.1 89.2 200.6 89.2 201.1 89.6 201.5 89.7 202.0 90.0 202.4 90.0 202.9 88.7 203.3 88.1 203.8 86.8 204.3 86.2 204.7 87.9 205.2 87.7 205.6 89.0 206.1 86.7 206.6 87.2 207.0 85.7 207.5 84.7 207.9 85.1 208.4 84.9 208.9 85.7 209.3 85.7 209.8 85.4 210.2 85.3 210.7 84.4 211.2 85.4 211.6 83.4 212.1 83.4 212.5 84.3 213.0 87.1 213.4 87.3 213.9 86.6 214.4 86.3 214.8 87.1 215.3 86.8 215.7 87.4 216.2 87.9 216.7 89.2 217.1 89.5 217.6 88.5 218.0 88.1 218.5 88.6 219.0 89.6 219.4 90.2 219.9 89.2 220.3 90.1 220.8 90.4 221.2 91.8 221.7 92.5 222.2 93.2 222.6 94.0 223.1 94.2 223.5 94.5 224.0 94.4 224.5 93.9 224.9 94.9 225.4 95.9 225.8 95.6 226.3 96.6 226.8 97.1 227.2 98.4 227.7 98.0 228.1 98.2 228.6 99.0 229.1 99.0 229.5 99.0 230.0 99.6 230.4 100.3 230.9 101.5 231.3 101.9 231.8 102.4 232.3 103.3 232.7 102.9 233.2 102.0 233.6 100.5 234.1 100.3 234.6 102.3 235.0 102.6 235.5 104.1 235.9 103.7 236.4 103.6 236.9 104.0 237.3 103.6 237.8 104.7 238.2 104.2 238.7 105.5 239.2 105.5 239.6 105.8 240.1 104.6 240.5 104.2 241.0 104.9 241.4 105.9 241.9 106.2 242.4 106.2 242.8 106.2 243.3 106.2 243.7 106.2 244.2 106.2" stroke="#17703a" stroke-width="0.55" fill="none" stroke-opacity="0.45" stroke-linejoin="round"/>
<path d="M143.2 106.2 143.7 106.2 144.1 106.2 144.6 106.2 145.1 106.2 145.5 106.2 146.0 106.2 146.4 106.2 146.9 106.2 147.4 106.2 147.8 106.2 148.3 106.2 148.7 106.2 149.2 106.2 149.6 106.2 150.1 106.2 150.6 106.2 151.0 106.2 151.5 106.2 151.9 106.2 152.4 103.6 152.9 99.6 153.3 95.6 153.8 92.7 154.2 93.6 154.7 95.1 155.2 95.8 155.6 96.5 156.1 97.7 156.5 97.6 157.0 97.7 157.4 98.2 157.9 99.5 158.4 100.1 158.8 100.1 159.3 101.1 159.7 101.7 160.2 101.0 160.7 100.4 161.1 101.4 161.6 102.5 162.0 102.4 162.5 102.2 163.0 101.7 163.4 102.3 163.9 104.0 164.3 103.6 164.8 102.9 165.3 102.8 165.7 102.6 166.2 101.8 166.6 102.4 167.1 103.6 167.5 104.3 168.0 104.1 168.5 103.0 168.9 103.3 169.4 103.3 169.8 103.2 170.3 103.2 170.8 103.1 171.2 104.3 171.7 104.8 172.1 105.1 172.6 105.7 173.1 105.0 173.5 104.0 174.0 103.1 174.4 103.3 174.9 104.1 175.3 104.5 175.8 103.8 176.3 103.0 176.7 103.5 177.2 103.2 177.6 102.6 178.1 103.6 178.6 103.3 179.0 102.3 179.5 102.7 179.9 102.8 180.4 101.7 180.9 100.7 181.3 100.5 181.8 101.5 182.2 102.3 182.7 101.1 183.2 101.1 183.6 101.5 184.1 101.5 184.5 100.1 185.0 98.5 185.4 98.8 185.9 98.9 186.4 99.0 186.8 99.0 187.3 98.2 187.7 98.1 188.2 97.5 188.7 97.1 189.1 97.8 189.6 96.7 190.0 96.1 190.5 96.0 191.0 95.8 191.4 96.6 191.9 95.9 192.3 95.1 192.8 94.5 193.3 94.2 193.7 95.2 194.2 94.0 194.6 92.6 195.1 92.3 195.5 92.7 196.0 92.2 196.5 92.2 196.9 92.6 197.4 92.2 197.8 92.0 198.3 91.1 198.8 91.6 199.2 92.0 199.7 91.8 200.1 93.1 200.6 94.2 201.1 94.0 201.5 94.0 202.0 94.1 202.4 94.9 202.9 94.9 203.3 93.9 203.8 94.5 204.3 95.6 204.7 95.7 205.2 95.5 205.6 95.5 206.1 95.5 206.6 95.6 207.0 96.0 207.5 95.8 207.9 96.9 208.4 98.1 208.9 97.1 209.3 97.5 209.8 97.6 210.2 97.7 210.7 98.0 211.2 97.9 211.6 98.2 212.1 97.7 212.5 97.6 213.0 97.9 213.4 97.0 213.9 96.8 214.4 98.2 214.8 97.9 215.3 97.1 215.7 97.0 216.2 96.7 216.7 97.6 217.1 98.0 217.6 97.1 218.0 97.6 218.5 98.1 219.0 99.4 219.4 99.8 219.9 97.8 220.3 98.3 220.8 99.4 221.2 98.6 221.7 98.2 222.2 97.7 222.6 98.8 223.1 99.6 223.5 98.5 224.0 99.2 224.5 99.6 224.9 98.3 225.4 97.8 225.8 98.5 226.3 100.3 226.8 100.6 227.2 99.4 227.7 99.6 228.1 99.8 228.6 98.4 229.1 98.6 229.5 100.4 230.0 100.3 230.4 100.1 230.9 100.4 231.3 100.4 231.8 99.9 232.3 99.9 232.7 100.8 233.2 101.0 233.6 100.3 234.1 100.5 234.6 100.3 235.0 99.8 235.5 100.8 235.9 101.1 236.4 99.8 236.9 99.3 237.3 100.3 237.8 100.6 238.2 101.0 238.7 102.1 239.2 101.6 239.6 100.9 240.1 101.0 240.5 101.1 241.0 101.3 241.4 101.6 241.9 101.6 242.4 101.0 242.8 101.3 243.3 101.4 243.7 102.2 244.2 102.9" stroke="#17703a" stroke-width="1.05" fill="none" stroke-opacity="1" stroke-linejoin="round"/>
<line x1="22.4" y1="122.2" x2="22.4" y2="201.0" stroke="#444" stroke-width="1.0" />
<line x1="21.9" y1="200.5" x2="124.7" y2="200.5" stroke="#444" stroke-width="1.0" />
<line x1="22.4" y1="196.1" x2="24.0" y2="196.1" stroke="#555" stroke-width="0.7" />
<text x="21.0" y="198.5" font-size="6.7" text-anchor="end" fill="#333" font-weight="bold" >0</text>
<line x1="22.4" y1="178.6" x2="24.0" y2="178.6" stroke="#555" stroke-width="0.7" />
<text x="21.0" y="181.0" font-size="6.7" text-anchor="end" fill="#333" font-weight="bold" >20</text>
<line x1="22.4" y1="161.1" x2="24.0" y2="161.1" stroke="#555" stroke-width="0.7" />
<text x="21.0" y="163.5" font-size="6.7" text-anchor="end" fill="#333" font-weight="bold" >40</text>
<line x1="22.4" y1="143.6" x2="24.0" y2="143.6" stroke="#555" stroke-width="0.7" />
<text x="21.0" y="146.0" font-size="6.7" text-anchor="end" fill="#333" font-weight="bold" >60</text>
<line x1="22.4" y1="126.1" x2="24.0" y2="126.1" stroke="#555" stroke-width="0.7" />
<text x="21.0" y="128.5" font-size="6.7" text-anchor="end" fill="#333" font-weight="bold" >80</text>
<text x="11.5" y="161.1" font-size="7" text-anchor="middle" fill="#333" font-weight="bold" transform="rotate(-90 11.5 161.1)">mV</text>
<line x1="32.2" y1="200.5" x2="32.2" y2="198.9" stroke="#555" stroke-width="0.7" />
<text x="31.9" y="208.0" font-size="6.7" text-anchor="middle" fill="#333" font-weight="bold" >0</text>
<line x1="78.2" y1="200.5" x2="78.2" y2="198.9" stroke="#555" stroke-width="0.7" />
<text x="77.9" y="208.0" font-size="6.7" text-anchor="middle" fill="#333" font-weight="bold" >500</text>
<line x1="124.2" y1="200.5" x2="124.2" y2="198.9" stroke="#555" stroke-width="0.7" />
<text x="123.9" y="208.0" font-size="6.7" text-anchor="middle" fill="#333" font-weight="bold" >1000</text>
<path d="M23.0 196.1 23.5 196.1 23.9 196.1 24.4 196.1 24.8 196.1 25.3 196.1 25.8 196.1 26.2 196.1 26.7 196.1 27.1 196.1 27.6 196.1 28.1 196.1 28.5 196.1 29.0 196.1 29.4 196.1 29.9 196.1 30.4 196.1 30.8 196.1 31.3 196.1 31.7 196.1 32.2 195.0 32.7 189.9 33.1 187.8 33.6 185.5 34.0 184.6 34.5 185.7 35.0 184.7 35.4 184.9 35.9 182.4 36.3 182.5 36.8 185.4 37.3 184.1 37.7 183.2 38.2 181.9 38.6 180.9 39.1 182.3 39.6 183.8 40.0 183.4 40.5 182.0 40.9 181.2 41.4 182.9 41.9 186.3 42.3 183.1 42.8 179.4 43.2 181.8 43.7 182.6 44.2 183.5 44.6 185.2 45.1 185.0 45.5 184.1 46.0 184.5 46.5 186.1 46.9 185.7 47.4 183.2 47.8 183.5 48.3 184.2 48.8 186.2 49.2 186.5 49.7 184.1 50.1 135.7 50.6 176.0 51.1 183.7 51.5 184.4 52.0 184.3 52.4 183.9 52.9 183.7 53.4 183.7 53.8 186.3 54.3 186.0 54.7 184.6 55.2 183.8 55.7 183.9 56.1 185.3 56.6 183.7 57.0 181.8 57.5 182.0 58.0 182.2 58.4 182.6 58.9 182.9 59.3 182.4 59.8 182.9 60.3 184.0 60.7 184.3 61.2 181.5 61.6 181.7 62.1 184.9 62.6 185.4 63.0 185.2 63.5 184.5 63.9 185.9 64.4 188.7 64.9 186.9 65.3 186.5 65.8 186.6 66.2 184.5 66.7 183.4 67.2 181.6 67.6 182.6 68.1 185.4 68.5 187.3 69.0 187.6 69.5 186.2 69.9 187.8 70.4 187.7 70.8 185.3 71.3 184.6 71.8 185.0 72.2 185.7 72.7 186.2 73.1 187.0 73.6 188.3 74.1 187.6 74.5 183.6 75.0 183.5 75.4 185.0 75.9 186.5 76.4 185.2 76.8 185.0 77.3 185.8 77.7 184.7 78.2 186.9 78.7 185.8 79.1 184.7 79.6 185.8 80.0 185.3 80.5 185.5 81.0 186.6 81.4 186.0 81.9 186.1 82.3 186.6 82.8 187.0 83.3 188.9 83.7 189.0 84.2 187.8 84.6 187.0 85.1 184.9 85.6 187.1 86.0 188.4 86.5 189.1 86.9 190.5 87.4 188.5 87.9 190.0 88.3 191.7 88.8 188.8 89.2 186.4 89.7 186.8 90.2 187.9 90.6 185.2 91.1 184.4 91.5 188.1 92.0 185.9 92.5 184.1 92.9 186.7 93.4 186.0 93.8 185.4 94.3 186.1 94.8 186.1 95.2 188.1 95.7 187.3 96.1 185.8 96.6 188.3 97.1 189.5 97.5 187.1 98.0 186.7 98.4 187.8 98.9 186.6 99.4 186.5 99.8 189.2 100.3 188.6 100.7 185.7 101.2 185.4 101.7 184.6 102.1 185.3 102.6 186.3 103.0 184.9 103.5 186.2 104.0 186.1 104.4 183.6 104.9 184.8 105.3 184.7 105.8 184.7 106.3 188.0 106.7 187.7 107.2 186.3 107.6 187.2 108.1 187.4 108.6 186.3 109.0 185.9 109.5 188.4 109.9 188.5 110.4 186.8 110.9 188.3 111.3 189.8 111.8 189.4 112.2 189.7 112.7 188.8 113.2 186.8 113.6 185.0 114.1 184.8 114.5 185.9 115.0 186.0 115.5 185.7 115.9 187.5 116.4 188.4 116.8 187.5 117.3 188.6 117.8 189.6 118.2 190.1 118.7 189.9 119.1 190.8 119.6 189.9 120.1 188.4 120.5 189.0 121.0 188.6 121.4 187.8 121.9 134.0 122.4 178.6 122.8 187.0 123.3 188.6 123.7 194.4 124.2 189.8" stroke="#772885" stroke-width="0.55" fill="none" stroke-opacity="0.45" stroke-linejoin="round"/>
<path d="M23.0 196.1 23.5 196.1 23.9 196.1 24.4 196.1 24.8 196.1 25.3 196.1 25.8 196.1 26.2 196.1 26.7 196.1 27.1 196.1 27.6 196.1 28.1 196.1 28.5 196.1 29.0 196.1 29.4 196.1 29.9 196.1 30.4 196.1 30.8 196.1 31.3 196.1 31.7 196.1 32.2 192.2 32.7 187.0 33.1 184.7 33.6 185.4 34.0 186.8 34.5 186.2 35.0 187.0 35.4 187.2 35.9 182.5 36.3 181.7 36.8 182.3 37.3 183.2 37.7 186.2 38.2 186.3 38.6 185.1 39.1 183.1 39.6 180.2 40.0 182.6 40.5 185.4 40.9 184.7 41.4 184.7 41.9 186.0 42.3 185.5 42.8 183.5 43.2 183.2 43.7 185.1 44.2 185.7 44.6 186.4 45.1 185.1 45.5 184.2 46.0 185.7 46.5 185.0 46.9 185.4 47.4 186.1 47.8 187.6 48.3 184.1 48.8 181.7 49.2 183.5 49.7 181.2 50.1 181.7 50.6 183.6 51.1 183.4 51.5 182.6 52.0 182.1 52.4 183.1 52.9 184.1 53.4 184.1 53.8 182.4 54.3 185.3 54.7 186.8 55.2 184.8 55.7 185.0 56.1 186.9 56.6 185.7 57.0 184.3 57.5 185.5 58.0 185.1 58.4 186.8 58.9 186.8 59.3 187.0 59.8 187.6 60.3 185.7 60.7 184.6 61.2 184.1 61.6 184.3 62.1 181.7 62.6 181.0 63.0 185.2 63.5 186.4 63.9 185.8 64.4 185.2 64.9 185.2 65.3 132.2 65.8 175.8 66.2 182.1 66.7 184.6 67.2 184.9 67.6 184.8 68.1 182.8 68.5 181.9 69.0 182.3 69.5 186.7 69.9 187.7 70.4 182.5 70.8 180.5 71.3 181.8 71.8 186.3 72.2 185.6 72.7 184.3 73.1 187.2 73.6 187.2 74.1 183.7 74.5 181.5 75.0 181.9 75.4 184.7 75.9 182.5 76.4 182.6 76.8 185.8 77.3 186.2 77.7 184.4 78.2 182.1 78.7 182.7 79.1 183.1 79.6 184.3 80.0 184.2 80.5 186.4 81.0 185.4 81.4 182.0 81.9 183.7 82.3 184.8 82.8 184.0 83.3 182.0 83.7 181.9 84.2 183.7 84.6 184.9 85.1 186.8 85.6 186.9 86.0 185.0 86.5 184.6 86.9 184.6 87.4 183.3 87.9 182.9 88.3 183.5 88.8 183.2 89.2 183.3 89.7 184.2 90.2 183.8 90.6 185.9 91.1 184.9 91.5 184.4 92.0 184.9 92.5 183.3 92.9 183.0 93.4 183.0 93.8 185.5 94.3 184.2 94.8 182.8 95.2 184.0 95.7 184.1 96.1 183.1 96.6 182.2 97.1 183.1 97.5 186.0 98.0 186.8 98.4 184.8 98.9 182.1 99.4 181.7 99.8 184.0 100.3 183.1 100.7 183.1 101.2 184.6 101.7 184.3 102.1 186.1 102.6 185.1 103.0 182.7 103.5 184.3 104.0 186.2 104.4 185.6 104.9 182.5 105.3 183.5 105.8 186.5 106.3 185.2 106.7 185.9 107.2 189.1 107.6 187.7 108.1 185.8 108.6 185.6 109.0 185.5 109.5 184.7 109.9 184.3 110.4 185.5 110.9 185.8 111.3 184.3 111.8 182.5 112.2 182.2 112.7 182.5 113.2 187.7 113.6 189.8 114.1 186.1 114.5 184.6 115.0 186.2 115.5 184.7 115.9 182.4 116.4 184.9 116.8 185.1 117.3 184.7 117.8 185.9 118.2 184.8 118.7 184.5 119.1 186.8 119.6 187.0 120.1 185.4 120.5 186.0 121.0 184.3 121.4 184.3 121.9 183.7 122.4 181.3 122.8 184.6 123.3 185.5 123.7 182.9 124.2 183.3" stroke="#772885" stroke-width="0.55" fill="none" stroke-opacity="0.45" stroke-linejoin="round"/>
<path d="M23.0 196.1 23.5 196.1 23.9 196.1 24.4 196.1 24.8 196.1 25.3 196.1 25.8 196.1 26.2 196.1 26.7 196.1 27.1 196.1 27.6 196.1 28.1 196.1 28.5 196.1 29.0 196.1 29.4 196.1 29.9 196.1 30.4 196.1 30.8 196.1 31.3 196.1 31.7 196.1 32.2 195.1 32.7 188.9 33.1 184.5 33.6 183.5 34.0 184.5 34.5 181.3 35.0 181.2 35.4 180.1 35.9 178.5 36.3 179.9 36.8 179.5 37.3 179.3 37.7 179.7 38.2 180.7 38.6 180.5 39.1 178.8 39.6 177.3 40.0 177.0 40.5 178.0 40.9 179.8 41.4 182.3 41.9 181.3 42.3 178.2 42.8 179.5 43.2 179.6 43.7 177.5 44.2 178.4 44.6 178.7 45.1 178.5 45.5 181.9 46.0 182.9 46.5 181.3 46.9 180.1 47.4 180.6 47.8 181.8 48.3 182.0 48.8 181.5 49.2 180.3 49.7 179.0 50.1 178.2 50.6 179.2 51.1 179.9 51.5 180.0 52.0 180.1 52.4 178.4 52.9 181.6 53.4 183.7 53.8 180.3 54.3 178.7 54.7 180.5 55.2 181.5 55.7 179.1 56.1 180.1 56.6 183.5 57.0 183.4 57.5 182.5 58.0 181.3 58.4 180.9 58.9 179.5 59.3 178.3 59.8 181.5 60.3 182.3 60.7 182.7 61.2 181.6 61.6 178.5 62.1 179.2 62.6 180.0 63.0 180.9 63.5 181.6 63.9 177.7 64.4 179.8 64.9 181.1 65.3 178.0 65.8 181.8 66.2 185.0 66.7 183.9 67.2 181.0 67.6 180.4 68.1 181.8 68.5 180.4 69.0 180.1 69.5 180.7 69.9 181.2 70.4 180.1 70.8 180.7 71.3 180.1 71.8 179.5 72.2 182.6 72.7 181.4 73.1 179.9 73.6 183.1 74.1 183.4 74.5 182.7 75.0 184.0 75.4 181.4 75.9 181.4 76.4 182.0 76.8 181.4 77.3 179.5 77.7 179.2 78.2 183.0 78.7 184.3 79.1 183.9 79.6 182.5 80.0 181.4 80.5 180.4 81.0 180.2 81.4 181.2 81.9 181.0 82.3 181.4 82.8 181.4 83.3 180.3 83.7 179.8 84.2 181.4 84.6 184.5 85.1 184.9 85.6 134.8 86.0 173.4 86.5 180.7 86.9 181.8 87.4 182.0 87.9 183.9 88.3 181.1 88.8 178.0 89.2 180.5 89.7 180.6 90.2 178.7 90.6 181.8 91.1 180.1 91.5 179.9 92.0 183.5 92.5 183.7 92.9 183.3 93.4 183.6 93.8 183.7 94.3 180.8 94.8 180.5 95.2 182.2 95.7 180.6 96.1 181.4 96.6 182.1 97.1 181.4 97.5 182.4 98.0 182.0 98.4 182.1 98.9 182.2 99.4 183.3 99.8 184.0 100.3 182.5 100.7 182.0 101.2 184.0 101.7 184.7 102.1 184.2 102.6 183.4 103.0 182.3 103.5 182.2 104.0 183.2 104.4 183.3 104.9 184.2 105.3 187.8 105.8 186.2 106.3 184.7 106.7 185.8 107.2 185.3 107.6 183.4 108.1 183.4 108.6 183.9 109.0 183.0 109.5 184.9 109.9 186.2 110.4 184.2 110.9 181.8 111.3 181.4 111.8 179.7 112.2 180.3 112.7 182.2 113.2 182.7 113.6 183.0 114.1 183.3 114.5 184.5 115.0 181.7 115.5 182.9 115.9 185.0 116.4 182.2 116.8 182.4 117.3 184.1 117.8 184.5 118.2 184.0 118.7 185.1 119.1 184.6 119.6 183.8 120.1 184.4 120.5 183.1 121.0 183.7 121.4 184.1 121.9 183.5 122.4 183.6 122.8 182.8 123.3 183.0 123.7 184.3 124.2 185.6" stroke="#772885" stroke-width="0.55" fill="none" stroke-opacity="0.45" stroke-linejoin="round"/>
<path d="M23.0 196.1 23.5 196.1 23.9 196.1 24.4 196.1 24.8 196.1 25.3 196.1 25.8 196.1 26.2 196.1 26.7 196.1 27.1 196.1 27.6 196.1 28.1 196.1 28.5 196.1 29.0 196.1 29.4 196.1 29.9 196.1 30.4 196.1 30.8 196.1 31.3 196.1 31.7 196.1 32.2 196.1 32.7 193.2 33.1 187.9 33.6 184.7 34.0 182.9 34.5 182.7 35.0 181.1 35.4 181.9 35.9 184.4 36.3 182.7 36.8 183.3 37.3 184.8 37.7 185.0 38.2 185.4 38.6 186.3 39.1 186.2 39.6 186.7 40.0 185.6 40.5 185.7 40.9 183.6 41.4 179.7 41.9 180.9 42.3 183.2 42.8 185.3 43.2 183.6 43.7 182.7 44.2 183.5 44.6 184.6 45.1 184.0 45.5 184.2 46.0 185.4 46.5 186.5 46.9 187.5 47.4 184.8 47.8 184.6 48.3 185.7 48.8 184.3 49.2 183.8 49.7 183.3 50.1 186.2 50.6 187.0 51.1 183.5 51.5 186.1 52.0 188.3 52.4 185.4 52.9 185.1 53.4 187.0 53.8 185.0 54.3 184.7 54.7 184.8 55.2 185.5 55.7 185.8 56.1 183.4 56.6 183.4 57.0 187.4 57.5 187.0 58.0 184.3 58.4 186.2 58.9 184.6 59.3 185.7 59.8 185.1 60.3 183.8 60.7 184.2 61.2 183.5 61.6 187.1 62.1 186.9 62.6 184.9 63.0 184.4 63.5 183.5 63.9 185.3 64.4 186.0 64.9 184.1 65.3 185.0 65.8 187.1 66.2 187.9 66.7 185.9 67.2 183.8 67.6 185.7 68.1 188.4 68.5 185.9 69.0 186.2 69.5 187.5 69.9 186.6 70.4 189.0 70.8 187.9 71.3 186.0 71.8 184.4 72.2 181.4 72.7 183.4 73.1 185.0 73.6 183.5 74.1 185.4 74.5 187.8 75.0 185.2 75.4 184.6 75.9 186.6 76.4 186.6 76.8 186.7 77.3 187.1 77.7 186.1 78.2 183.8 78.7 185.2 79.1 188.5 79.6 188.0 80.0 188.1 80.5 189.0 81.0 185.7 81.4 182.1 81.9 183.2 82.3 187.4 82.8 186.9 83.3 188.4 83.7 190.2 84.2 185.6 84.6 183.9 85.1 187.4 85.6 190.4 86.0 187.7 86.5 185.8 86.9 187.5 87.4 187.0 87.9 187.0 88.3 189.9 88.8 188.2 89.2 186.7 89.7 188.9 90.2 189.8 90.6 134.8 91.1 178.2 91.5 186.4 92.0 186.6 92.5 186.1 92.9 186.2 93.4 188.4 93.8 190.3 94.3 190.9 94.8 187.7 95.2 182.6 95.7 185.0 96.1 190.1 96.6 188.1 97.1 186.3 97.5 187.6 98.0 188.1 98.4 189.3 98.9 189.7 99.4 186.7 99.8 184.4 100.3 185.7 100.7 188.0 101.2 187.3 101.7 185.7 102.1 185.6 102.6 187.9 103.0 188.1 103.5 186.1 104.0 187.4 104.4 190.2 104.9 188.7 105.3 186.7 105.8 186.2 106.3 186.5 106.7 188.5 107.2 189.2 107.6 189.7 108.1 190.3 108.6 189.8 109.0 189.2 109.5 187.2 109.9 188.1 110.4 189.6 110.9 188.8 111.3 187.0 111.8 186.0 112.2 188.3 112.7 187.6 113.2 187.1 113.6 188.7 114.1 186.9 114.5 185.5 115.0 185.3 115.5 184.8 115.9 186.0 116.4 187.2 116.8 189.5 117.3 188.9 117.8 187.5 118.2 187.5 118.7 187.7 119.1 189.3 119.6 190.6 120.1 188.9 120.5 186.1 121.0 187.4 121.4 188.4 121.9 186.4 122.4 188.0 122.8 190.1 123.3 190.5 123.7 188.7 124.2 187.0" stroke="#772885" stroke-width="0.55" fill="none" stroke-opacity="0.45" stroke-linejoin="round"/>
<path d="M23.0 196.1 23.5 196.1 23.9 196.1 24.4 196.1 24.8 196.1 25.3 196.1 25.8 196.1 26.2 196.1 26.7 196.1 27.1 196.1 27.6 196.1 28.1 196.1 28.5 196.1 29.0 196.1 29.4 196.1 29.9 196.1 30.4 196.1 30.8 196.1 31.3 196.1 31.7 196.1 32.2 195.6 32.7 188.7 33.1 184.0 33.6 184.6 34.0 185.2 34.5 183.6 35.0 184.3 35.4 182.6 35.9 181.3 36.3 183.9 36.8 185.2 37.3 183.7 37.7 185.0 38.2 184.3 38.6 182.6 39.1 183.5 39.6 183.0 40.0 181.0 40.5 181.4 40.9 184.0 41.4 181.9 41.9 182.1 42.3 184.8 42.8 185.9 43.2 184.0 43.7 182.0 44.2 182.7 44.6 182.8 45.1 183.6 45.5 184.7 46.0 185.5 46.5 184.0 46.9 182.9 47.4 181.5 47.8 182.6 48.3 185.1 48.8 185.4 49.2 183.2 49.7 183.4 50.1 184.2 50.6 180.9 51.1 182.0 51.5 182.9 52.0 185.3 52.4 186.7 52.9 186.1 53.4 185.4 53.8 183.4 54.3 184.5 54.7 183.4 55.2 182.0 55.7 183.8 56.1 184.9 56.6 186.0 57.0 185.6 57.5 181.3 58.0 181.9 58.4 184.0 58.9 183.8 59.3 183.3 59.8 182.1 60.3 183.4 60.7 186.1 61.2 186.4 61.6 182.8 62.1 182.5 62.6 183.2 63.0 183.5 63.5 186.5 63.9 185.4 64.4 182.7 64.9 184.0 65.3 184.8 65.8 183.7 66.2 184.0 66.7 183.9 67.2 183.5 67.6 186.7 68.1 186.7 68.5 184.5 69.0 185.4 69.5 184.2 69.9 183.8 70.4 183.6 70.8 181.7 71.3 182.2 71.8 185.4 72.2 186.4 72.7 183.4 73.1 182.9 73.6 185.0 74.1 184.7 74.5 183.2 75.0 182.7 75.4 182.6 75.9 183.9 76.4 185.0 76.8 184.3 77.3 184.0 77.7 186.2 78.2 186.5 78.7 185.6 79.1 183.6 79.6 180.1 80.0 179.8 80.5 180.7 81.0 183.3 81.4 183.1 81.9 182.8 82.3 183.2 82.8 184.0 83.3 185.5 83.7 183.8 84.2 181.0 84.6 181.6 85.1 181.0 85.6 177.6 86.0 181.9 86.5 185.3 86.9 184.9 87.4 185.0 87.9 184.5 88.3 184.4 88.8 182.6 89.2 181.4 89.7 182.2 90.2 183.4 90.6 183.5 91.1 183.4 91.5 182.8 92.0 183.0 92.5 183.1 92.9 184.7 93.4 184.3 93.8 180.6 94.3 181.4 94.8 185.2 95.2 183.8 95.7 182.5 96.1 187.7 96.6 187.6 97.1 183.2 97.5 182.5 98.0 181.7 98.4 181.5 98.9 182.8 99.4 186.0 99.8 187.5 100.3 184.8 100.7 182.7 101.2 184.1 101.7 129.6 102.1 175.1 102.6 183.7 103.0 185.3 103.5 186.4 104.0 183.7 104.4 184.0 104.9 187.1 105.3 186.5 105.8 185.3 106.3 184.5 106.7 183.1 107.2 183.5 107.6 182.6 108.1 183.6 108.6 183.4 109.0 181.2 109.5 181.7 109.9 181.6 110.4 182.9 110.9 183.4 111.3 182.3 111.8 184.6 112.2 185.0 112.7 184.5 113.2 185.1 113.6 184.3 114.1 182.4 114.5 182.8 115.0 184.0 115.5 185.4 115.9 185.4 116.4 182.2 116.8 181.4 117.3 182.2 117.8 183.8 118.2 185.6 118.7 185.1 119.1 185.5 119.6 186.9 120.1 184.1 120.5 183.7 121.0 182.7 121.4 183.3 121.9 185.0 122.4 184.7 122.8 185.0 123.3 184.8 123.7 185.0 124.2 183.9" stroke="#772885" stroke-width="0.55" fill="none" stroke-opacity="0.45" stroke-linejoin="round"/>
<path d="M23.0 196.1 23.5 196.1 23.9 196.1 24.4 196.1 24.8 196.1 25.3 196.1 25.8 196.1 26.2 196.1 26.7 196.1 27.1 196.1 27.6 196.1 28.1 196.1 28.5 196.1 29.0 196.1 29.4 196.1 29.9 196.1 30.4 196.1 30.8 196.1 31.3 196.1 31.7 196.1 32.2 195.1 32.7 190.4 33.1 188.2 33.6 185.4 34.0 184.3 34.5 182.8 35.0 182.2 35.4 182.7 35.9 184.4 36.3 185.9 36.8 183.8 37.3 184.4 37.7 184.4 38.2 183.3 38.6 184.6 39.1 183.0 39.6 182.9 40.0 184.7 40.5 184.7 40.9 183.6 41.4 179.4 41.9 182.1 42.3 185.4 42.8 183.1 43.2 181.9 43.7 182.1 44.2 186.3 44.6 184.2 45.1 182.5 45.5 184.2 46.0 184.5 46.5 185.8 46.9 184.7 47.4 182.4 47.8 180.7 48.3 182.5 48.8 182.9 49.2 182.6 49.7 183.1 50.1 182.5 50.6 181.8 51.1 182.8 51.5 183.7 52.0 182.7 52.4 182.4 52.9 183.6 53.4 181.6 53.8 181.2 54.3 182.4 54.7 181.6 55.2 181.0 55.7 183.9 56.1 182.9 56.6 180.5 57.0 184.5 57.5 184.1 58.0 179.8 58.4 179.4 58.9 183.6 59.3 184.8 59.8 181.7 60.3 182.8 60.7 184.7 61.2 183.3 61.6 180.5 62.1 180.5 62.6 181.5 63.0 182.0 63.5 184.5 63.9 182.5 64.4 180.7 64.9 184.1 65.3 184.0 65.8 181.2 66.2 182.7 66.7 183.2 67.2 182.1 67.6 183.0 68.1 184.0 68.5 184.2 69.0 183.8 69.5 184.6 69.9 184.4 70.4 184.6 70.8 184.4 71.3 182.7 71.8 184.0 72.2 182.9 72.7 179.3 73.1 178.7 73.6 182.7 74.1 182.8 74.5 180.9 75.0 182.5 75.4 183.5 75.9 183.4 76.4 181.0 76.8 180.3 77.3 182.5 77.7 184.0 78.2 184.0 78.7 182.4 79.1 179.7 79.6 181.7 80.0 183.9 80.5 183.1 81.0 184.0 81.4 183.1 81.9 181.5 82.3 183.7 82.8 185.6 83.3 182.4 83.7 180.8 84.2 181.6 84.6 182.6 85.1 183.7 85.6 182.5 86.0 182.7 86.5 184.6 86.9 184.0 87.4 181.5 87.9 182.8 88.3 182.6 88.8 180.5 89.2 182.8 89.7 183.6 90.2 182.6 90.6 181.9 91.1 181.0 91.5 183.3 92.0 185.8 92.5 183.0 92.9 181.2 93.4 181.9 93.8 181.7 94.3 180.3 94.8 182.2 95.2 182.7 95.7 182.2 96.1 182.7 96.6 180.0 97.1 182.6 97.5 183.7 98.0 182.4 98.4 183.2 98.9 182.8 99.4 183.8 99.8 185.0 100.3 182.9 100.7 180.7 101.2 182.2 101.7 185.0 102.1 181.5 102.6 178.4 103.0 180.7 103.5 183.3 104.0 184.5 104.4 182.9 104.9 183.4 105.3 181.7 105.8 180.4 106.3 181.9 106.7 183.3 107.2 184.8 107.6 184.5 108.1 183.1 108.6 182.5 109.0 183.1 109.5 182.4 109.9 181.8 110.4 180.4 110.9 180.9 111.3 183.9 111.8 183.7 112.2 180.7 112.7 181.4 113.2 183.1 113.6 182.8 114.1 182.4 114.5 181.6 115.0 183.1 115.5 183.7 115.9 181.6 116.4 180.0 116.8 180.0 117.3 180.3 117.8 181.8 118.2 183.3 118.7 181.7 119.1 182.7 119.6 135.7 120.1 174.8 120.5 182.2 121.0 183.6 121.4 184.7 121.9 183.2 122.4 182.6 122.8 183.7 123.3 183.1 123.7 183.6 124.2 181.6" stroke="#772885" stroke-width="0.55" fill="none" stroke-opacity="0.45" stroke-linejoin="round"/>
<path d="M23.0 196.1 23.5 196.1 23.9 196.1 24.4 196.1 24.8 196.1 25.3 196.1 25.8 196.1 26.2 196.1 26.7 196.1 27.1 196.1 27.6 196.1 28.1 196.1 28.5 196.1 29.0 196.1 29.4 196.1 29.9 196.1 30.4 196.1 30.8 196.1 31.3 196.1 31.7 196.1 32.2 194.5 32.7 187.1 33.1 183.9 33.6 182.6 34.0 180.6 34.5 179.5 35.0 181.7 35.4 180.6 35.9 176.2 36.3 176.5 36.8 180.9 37.3 179.6 37.7 177.8 38.2 176.4 38.6 178.2 39.1 182.2 39.6 181.1 40.0 178.7 40.5 178.0 40.9 177.1 41.4 179.4 41.9 181.7 42.3 180.1 42.8 178.2 43.2 177.5 43.7 179.0 44.2 180.8 44.6 179.3 45.1 177.0 45.5 174.8 46.0 176.2 46.5 177.5 46.9 178.8 47.4 181.4 47.8 180.8 48.3 180.8 48.8 181.0 49.2 181.2 49.7 180.2 50.1 180.1 50.6 179.3 51.1 178.9 51.5 179.7 52.0 177.9 52.4 177.5 52.9 179.2 53.4 179.6 53.8 179.7 54.3 179.1 54.7 180.1 55.2 179.5 55.7 176.7 56.1 176.7 56.6 179.2 57.0 182.5 57.5 182.5 58.0 180.4 58.4 178.9 58.9 179.4 59.3 180.8 59.8 178.8 60.3 179.2 60.7 179.8 61.2 177.9 61.6 180.9 62.1 181.6 62.6 180.7 63.0 182.2 63.5 183.8 63.9 184.6 64.4 181.9 64.9 180.5 65.3 180.7 65.8 181.6 66.2 182.3 66.7 181.4 67.2 182.9 67.6 184.6 68.1 182.3 68.5 180.1 69.0 181.8 69.5 182.1 69.9 180.3 70.4 178.0 70.8 179.9 71.3 181.4 71.8 177.8 72.2 178.5 72.7 179.3 73.1 182.5 73.6 182.6 74.1 179.5 74.5 183.5 75.0 182.6 75.4 179.1 75.9 178.6 76.4 178.5 76.8 180.0 77.3 182.4 77.7 182.9 78.2 182.1 78.7 181.1 79.1 181.7 79.6 182.1 80.0 180.5 80.5 180.2 81.0 178.6 81.4 176.4 81.9 180.6 82.3 183.9 82.8 184.1 83.3 184.9 83.7 182.7 84.2 182.5 84.6 184.4 85.1 183.6 85.6 181.4 86.0 181.5 86.5 183.0 86.9 181.5 87.4 180.5 87.9 181.1 88.3 180.6 88.8 182.4 89.2 183.3 89.7 182.8 90.2 181.9 90.6 180.2 91.1 182.7 91.5 182.1 92.0 182.3 92.5 182.5 92.9 180.9 93.4 183.4 93.8 185.0 94.3 184.4 94.8 183.1 95.2 183.6 95.7 182.9 96.1 183.8 96.6 184.5 97.1 182.9 97.5 185.1 98.0 184.8 98.4 184.1 98.9 187.5 99.4 186.8 99.8 184.1 100.3 182.3 100.7 182.6 101.2 182.0 101.7 179.7 102.1 180.2 102.6 180.3 103.0 181.3 103.5 183.6 104.0 183.2 104.4 181.4 104.9 182.0 105.3 183.5 105.8 185.7 106.3 184.6 106.7 182.3 107.2 184.7 107.6 185.1 108.1 182.7 108.6 182.9 109.0 182.9 109.5 181.9 109.9 184.7 110.4 186.0 110.9 183.6 111.3 182.2 111.8 181.1 112.2 184.6 112.7 186.4 113.2 183.2 113.6 181.7 114.1 180.6 114.5 183.2 115.0 185.7 115.5 185.9 115.9 184.5 116.4 184.8 116.8 184.4 117.3 181.7 117.8 182.6 118.2 186.4 118.7 187.8 119.1 184.3 119.6 185.3 120.1 186.5 120.5 184.9 121.0 183.6 121.4 183.2 121.9 184.0 122.4 184.9 122.8 185.2 123.3 184.9 123.7 184.0 124.2 184.1" stroke="#772885" stroke-width="0.55" fill="none" stroke-opacity="0.45" stroke-linejoin="round"/>
<path d="M23.0 196.1 23.5 196.1 23.9 196.1 24.4 196.1 24.8 196.1 25.3 196.1 25.8 196.1 26.2 196.1 26.7 196.1 27.1 196.1 27.6 196.1 28.1 196.1 28.5 196.1 29.0 196.1 29.4 196.1 29.9 196.1 30.4 196.1 30.8 196.1 31.3 196.1 31.7 196.1 32.2 185.7 32.7 186.5 33.1 187.3 33.6 187.9 34.0 188.6 34.5 189.2 35.0 189.7 35.4 190.1 35.9 190.7 36.3 191.2 36.8 191.8 37.3 191.6 37.7 191.9 38.2 191.8 38.6 192.4 39.1 192.8 39.6 193.1 40.0 193.2 40.5 193.4 40.9 193.5 41.4 193.6 41.9 193.6 42.3 193.9 42.8 194.3 43.2 194.5 43.7 194.6 44.2 194.4 44.6 194.3 45.1 194.1 45.5 194.2 46.0 194.3 46.5 194.4 46.9 194.4 47.4 194.6 47.8 194.7 48.3 194.8 48.8 194.9 49.2 195.1 49.7 195.2 50.1 195.2 50.6 195.1 51.1 195.1 51.5 194.9 52.0 194.9 52.4 195.0 52.9 195.1 53.4 195.3 53.8 195.0 54.3 195.1 54.7 195.1 55.2 195.2 55.7 195.3 56.1 195.3 56.6 195.3 57.0 195.3 57.5 195.3 58.0 195.4 58.4 195.3 58.9 195.5 59.3 195.4 59.8 195.4 60.3 195.2 60.7 195.3 61.2 195.0 61.6 195.1 62.1 195.1 62.6 195.5 63.0 195.3 63.5 195.4 63.9 195.2 64.4 195.4 64.9 195.4 65.3 195.5 65.8 195.3 66.2 195.4 66.7 195.4 67.2 195.5 67.6 195.6 68.1 195.6 68.5 195.6 69.0 195.6 69.5 195.4 69.9 195.6 70.4 195.5 70.8 195.5 71.3 195.4 71.8 195.4 72.2 195.4 72.7 195.4 73.1 195.3 73.6 195.2 74.1 195.4 74.5 195.6 75.0 195.7 75.4 195.5 75.9 195.3 76.4 195.2 76.8 195.2 77.3 195.3 77.7 195.3 78.2 195.5 78.7 195.3 79.1 195.5 79.6 195.4 80.0 195.6 80.5 195.3 81.0 195.1 81.4 195.0 81.9 194.9 82.3 195.3 82.8 195.4 83.3 195.5 83.7 195.4 84.2 195.4 84.6 195.4 85.1 195.4 85.6 195.2 86.0 195.0 86.5 195.1 86.9 195.5 87.4 195.5 87.9 195.4 88.3 195.2 88.8 195.4 89.2 195.4 89.7 195.5 90.2 195.3 90.6 195.5 91.1 195.5 91.5 195.6 92.0 195.7 92.5 195.6 92.9 195.5 93.4 195.5 93.8 195.4 94.3 195.5 94.8 195.3 95.2 195.4 95.7 195.4 96.1 195.5 96.6 195.7 97.1 195.7 97.5 195.8 98.0 195.4 98.4 195.2 98.9 195.3 99.4 195.4 99.8 195.4 100.3 195.3 100.7 195.4 101.2 195.3 101.7 195.3 102.1 195.4 102.6 195.5 103.0 195.5 103.5 195.5 104.0 195.5 104.4 195.5 104.9 195.6 105.3 195.5 105.8 195.4 106.3 195.2 106.7 195.4 107.2 195.4 107.6 195.4 108.1 195.2 108.6 195.2 109.0 195.3 109.5 195.4 109.9 195.6 110.4 195.6 110.9 195.3 111.3 195.2 111.8 195.3 112.2 195.4 112.7 195.6 113.2 195.3 113.6 195.3 114.1 195.3 114.5 195.4 115.0 195.4 115.5 195.3 115.9 195.4 116.4 195.4 116.8 195.4 117.3 195.5 117.8 195.5 118.2 195.5 118.7 195.5 119.1 195.4 119.6 195.5 120.1 195.5 120.5 195.7 121.0 195.5 121.4 195.5 121.9 195.4 122.4 195.4 122.8 195.5 123.3 195.5 123.7 195.6 124.2 195.5" stroke="#772885" stroke-width="0.55" fill="none" stroke-opacity="0.45" stroke-linejoin="round"/>
<path d="M23.0 196.1 23.5 196.1 23.9 196.1 24.4 196.1 24.8 196.1 25.3 196.1 25.8 196.1 26.2 196.1 26.7 196.1 27.1 196.1 27.6 196.1 28.1 196.1 28.5 196.1 29.0 196.1 29.4 196.1 29.9 196.1 30.4 196.1 30.8 196.1 31.3 196.1 31.7 196.1 32.2 188.0 32.7 188.0 33.1 188.5 33.6 188.8 34.0 189.1 34.5 189.2 35.0 189.9 35.4 190.0 35.9 190.1 36.3 190.0 36.8 190.5 37.3 190.9 37.7 191.1 38.2 190.9 38.6 190.9 39.1 191.2 39.6 191.4 40.0 191.6 40.5 191.8 40.9 192.1 41.4 192.1 41.9 192.3 42.3 192.2 42.8 192.2 43.2 192.4 43.7 192.4 44.2 192.7 44.6 192.6 45.1 192.8 45.5 192.6 46.0 193.0 46.5 193.1 46.9 193.2 47.4 192.9 47.8 193.3 48.3 193.6 48.8 193.8 49.2 193.7 49.7 193.5 50.1 193.6 50.6 193.5 51.1 193.7 51.5 193.8 52.0 194.1 52.4 194.3 52.9 194.1 53.4 193.9 53.8 194.0 54.3 193.9 54.7 194.2 55.2 194.6 55.7 194.8 56.1 194.6 56.6 194.3 57.0 194.4 57.5 194.5 58.0 194.2 58.4 194.1 58.9 194.3 59.3 194.6 59.8 194.4 60.3 194.4 60.7 194.2 61.2 194.3 61.6 194.2 62.1 194.4 62.6 194.5 63.0 194.5 63.5 194.4 63.9 194.4 64.4 194.6 64.9 194.6 65.3 194.8 65.8 194.7 66.2 194.8 66.7 194.7 67.2 194.9 67.6 194.9 68.1 195.0 68.5 194.9 69.0 194.8 69.5 194.8 69.9 194.9 70.4 195.1 70.8 195.0 71.3 195.0 71.8 194.8 72.2 195.1 72.7 194.9 73.1 195.0 73.6 194.8 74.1 194.8 74.5 194.5 75.0 194.4 75.4 194.5 75.9 194.8 76.4 194.8 76.8 194.8 77.3 194.5 77.7 194.6 78.2 194.7 78.7 194.9 79.1 194.9 79.6 194.7 80.0 194.8 80.5 194.8 81.0 194.9 81.4 194.7 81.9 194.8 82.3 194.7 82.8 194.7 83.3 194.6 83.7 194.9 84.2 194.9 84.6 195.0 85.1 195.0 85.6 195.0 86.0 195.2 86.5 195.0 86.9 194.9 87.4 194.8 87.9 194.8 88.3 194.9 88.8 194.8 89.2 195.0 89.7 195.0 90.2 195.1 90.6 194.8 91.1 194.9 91.5 194.8 92.0 194.9 92.5 194.8 92.9 194.7 93.4 194.8 93.8 194.7 94.3 194.9 94.8 194.8 95.2 195.0 95.7 194.9 96.1 194.8 96.6 194.8 97.1 194.8 97.5 194.9 98.0 195.0 98.4 195.1 98.9 195.0 99.4 194.9 99.8 195.1 100.3 195.3 100.7 195.3 101.2 194.9 101.7 194.9 102.1 194.8 102.6 195.1 103.0 195.1 103.5 195.1 104.0 195.2 104.4 195.2 104.9 195.2 105.3 195.0 105.8 195.1 106.3 195.0 106.7 195.3 107.2 195.3 107.6 195.1 108.1 195.2 108.6 194.9 109.0 195.3 109.5 195.0 109.9 194.9 110.4 195.0 110.9 195.2 111.3 195.3 111.8 195.0 112.2 194.9 112.7 195.1 113.2 195.2 113.6 195.1 114.1 195.0 114.5 194.9 115.0 194.9 115.5 194.9 115.9 194.7 116.4 194.7 116.8 194.8 117.3 195.1 117.8 195.1 118.2 195.2 118.7 195.2 119.1 195.4 119.6 195.5 120.1 195.5 120.5 195.3 121.0 195.0 121.4 194.9 121.9 195.0 122.4 195.0 122.8 194.9 123.3 194.9 123.7 195.0 124.2 194.8" stroke="#772885" stroke-width="0.55" fill="none" stroke-opacity="0.45" stroke-linejoin="round"/>
<path d="M23.0 196.1 23.5 196.1 23.9 196.1 24.4 196.1 24.8 196.1 25.3 196.1 25.8 196.1 26.2 196.1 26.7 196.1 27.1 196.1 27.6 196.1 28.1 196.1 28.5 196.1 29.0 196.1 29.4 196.1 29.9 196.1 30.4 196.1 30.8 196.1 31.3 196.1 31.7 196.1 32.2 185.3 32.7 186.3 33.1 186.7 33.6 186.0 34.0 185.8 34.5 186.0 35.0 186.6 35.4 186.7 35.9 187.1 36.3 186.8 36.8 186.4 37.3 186.2 37.7 187.4 38.2 186.5 38.6 186.6 39.1 185.6 39.6 186.9 40.0 186.3 40.5 186.9 40.9 186.4 41.4 186.7 41.9 185.7 42.3 186.2 42.8 186.4 43.2 186.9 43.7 185.6 44.2 186.0 44.6 185.8 45.1 187.0 45.5 186.2 46.0 186.1 46.5 185.8 46.9 185.8 47.4 186.0 47.8 186.3 48.3 186.6 48.8 187.4 49.2 187.3 49.7 187.6 50.1 187.0 50.6 186.6 51.1 186.1 51.5 185.8 52.0 185.7 52.4 186.9 52.9 186.9 53.4 187.4 53.8 186.5 54.3 187.2 54.7 187.0 55.2 186.5 55.7 185.6 56.1 185.9 56.6 186.1 57.0 186.2 57.5 185.4 58.0 185.2 58.4 185.5 58.9 186.2 59.3 186.7 59.8 186.7 60.3 187.0 60.7 186.7 61.2 187.1 61.6 187.3 62.1 187.5 62.6 187.5 63.0 187.3 63.5 188.3 63.9 187.7 64.4 187.7 64.9 186.9 65.3 187.0 65.8 187.0 66.2 187.2 66.7 186.6 67.2 186.9 67.6 186.2 68.1 186.3 68.5 186.4 69.0 186.8 69.5 187.9 69.9 187.3 70.4 187.5 70.8 187.6 71.3 187.5 71.8 187.0 72.2 186.9 72.7 187.0 73.1 187.3 73.6 185.9 74.1 185.7 74.5 186.0 75.0 187.3 75.4 188.4 75.9 188.1 76.4 188.0 76.8 187.3 77.3 187.4 77.7 188.0 78.2 188.7 78.7 188.2 79.1 187.1 79.6 186.8 80.0 187.5 80.5 188.1 81.0 188.0 81.4 188.7 81.9 188.3 82.3 188.6 82.8 187.8 83.3 189.3 83.7 188.9 84.2 188.5 84.6 188.4 85.1 187.9 85.6 188.2 86.0 187.6 86.5 189.0 86.9 188.7 87.4 188.3 87.9 187.4 88.3 188.0 88.8 188.5 89.2 188.4 89.7 188.7 90.2 188.0 90.6 189.1 91.1 189.1 91.5 190.1 92.0 188.9 92.5 189.3 92.9 189.1 93.4 189.4 93.8 188.6 94.3 187.3 94.8 186.8 95.2 186.7 95.7 187.3 96.1 188.9 96.6 189.5 97.1 190.0 97.5 189.3 98.0 189.5 98.4 189.8 98.9 190.1 99.4 189.1 99.8 188.5 100.3 188.4 100.7 188.9 101.2 189.0 101.7 189.2 102.1 189.2 102.6 190.1 103.0 189.5 103.5 189.0 104.0 188.2 104.4 188.3 104.9 188.6 105.3 187.9 105.8 188.0 106.3 188.7 106.7 190.1 107.2 189.9 107.6 188.9 108.1 188.1 108.6 188.1 109.0 188.5 109.5 189.5 109.9 190.1 110.4 191.0 110.9 190.6 111.3 190.9 111.8 190.1 112.2 190.0 112.7 190.3 113.2 190.0 113.6 189.7 114.1 189.5 114.5 189.7 115.0 189.8 115.5 189.3 115.9 189.0 116.4 189.3 116.8 188.7 117.3 189.0 117.8 189.2 118.2 189.5 118.7 189.2 119.1 189.1 119.6 189.5 120.1 190.2 120.5 190.5 121.0 190.6 121.4 190.2 121.9 190.0 122.4 189.8 122.8 189.9 123.3 189.9 123.7 189.2 124.2 188.8" stroke="#772885" stroke-width="0.55" fill="none" stroke-opacity="0.45" stroke-linejoin="round"/>
<path d="M23.0 196.1 23.5 196.1 23.9 196.1 24.4 196.1 24.8 196.1 25.3 196.1 25.8 196.1 26.2 196.1 26.7 196.1 27.1 196.1 27.6 196.1 28.1 196.1 28.5 196.1 29.0 196.1 29.4 196.1 29.9 196.1 30.4 196.1 30.8 196.1 31.3 196.1 31.7 196.1 32.2 191.4 32.7 191.4 33.1 191.0 33.6 190.9 34.0 191.0 34.5 191.5 35.0 191.7 35.4 191.7 35.9 191.6 36.3 191.6 36.8 191.5 37.3 191.8 37.7 191.6 38.2 191.9 38.6 191.9 39.1 192.1 39.6 192.0 40.0 192.2 40.5 192.4 40.9 192.5 41.4 192.4 41.9 192.5 42.3 192.6 42.8 192.6 43.2 192.4 43.7 192.4 44.2 192.6 44.6 192.8 45.1 192.5 45.5 192.4 46.0 192.3 46.5 192.5 46.9 192.4 47.4 192.3 47.8 192.6 48.3 192.9 48.8 193.1 49.2 193.0 49.7 193.2 50.1 193.2 50.6 193.3 51.1 193.2 51.5 193.1 52.0 193.2 52.4 193.5 52.9 193.6 53.4 193.4 53.8 193.1 54.3 193.1 54.7 193.6 55.2 193.7 55.7 193.8 56.1 193.5 56.6 193.6 57.0 193.6 57.5 193.7 58.0 193.2 58.4 193.1 58.9 193.1 59.3 193.4 59.8 193.6 60.3 193.5 60.7 193.6 61.2 193.6 61.6 193.5 62.1 193.4 62.6 193.4 63.0 193.4 63.5 193.5 63.9 193.6 64.4 194.0 64.9 194.1 65.3 194.0 65.8 193.8 66.2 193.6 66.7 193.7 67.2 193.9 67.6 193.9 68.1 193.7 68.5 193.7 69.0 193.8 69.5 193.7 69.9 193.7 70.4 193.7 70.8 194.2 71.3 194.0 71.8 194.0 72.2 193.7 72.7 194.0 73.1 194.2 73.6 194.2 74.1 194.2 74.5 193.9 75.0 194.1 75.4 193.9 75.9 194.1 76.4 193.8 76.8 194.1 77.3 194.1 77.7 194.1 78.2 193.9 78.7 194.2 79.1 194.4 79.6 194.3 80.0 194.3 80.5 194.5 81.0 194.5 81.4 194.5 81.9 194.2 82.3 194.4 82.8 194.5 83.3 194.7 83.7 194.4 84.2 194.3 84.6 194.2 85.1 194.4 85.6 194.4 86.0 194.3 86.5 194.3 86.9 194.1 87.4 194.5 87.9 194.7 88.3 195.1 88.8 194.9 89.2 194.7 89.7 194.3 90.2 194.1 90.6 194.2 91.1 194.3 91.5 194.4 92.0 194.2 92.5 194.3 92.9 194.3 93.4 194.5 93.8 194.4 94.3 194.4 94.8 194.5 95.2 194.6 95.7 194.6 96.1 194.5 96.6 194.4 97.1 194.5 97.5 194.5 98.0 194.5 98.4 194.4 98.9 194.4 99.4 194.2 99.8 194.1 100.3 194.1 100.7 194.3 101.2 194.4 101.7 194.6 102.1 194.2 102.6 194.3 103.0 194.2 103.5 194.3 104.0 194.5 104.4 194.6 104.9 194.8 105.3 194.8 105.8 194.9 106.3 194.9 106.7 194.6 107.2 194.4 107.6 194.3 108.1 194.5 108.6 194.8 109.0 194.7 109.5 194.6 109.9 194.6 110.4 194.6 110.9 194.7 111.3 194.7 111.8 194.8 112.2 194.9 112.7 194.9 113.2 194.7 113.6 194.6 114.1 194.5 114.5 194.6 115.0 194.7 115.5 194.5 115.9 194.7 116.4 194.5 116.8 194.7 117.3 194.4 117.8 194.7 118.2 194.7 118.7 194.9 119.1 195.0 119.6 195.0 120.1 195.0 120.5 194.8 121.0 194.6 121.4 194.8 121.9 195.1 122.4 195.2 122.8 194.8 123.3 194.6 123.7 194.6 124.2 194.5" stroke="#772885" stroke-width="0.55" fill="none" stroke-opacity="0.45" stroke-linejoin="round"/>
<path d="M23.0 196.1 23.5 196.1 23.9 196.1 24.4 196.1 24.8 196.1 25.3 196.1 25.8 196.1 26.2 196.1 26.7 196.1 27.1 196.1 27.6 196.1 28.1 196.1 28.5 196.1 29.0 196.1 29.4 196.1 29.9 196.1 30.4 196.1 30.8 196.1 31.3 196.1 31.7 196.1 32.2 195.6 32.7 189.7 33.1 184.1 33.6 184.4 34.0 185.0 34.5 184.6 35.0 184.6 35.4 184.7 35.9 184.6 36.3 184.9 36.8 185.1 37.3 185.1 37.7 185.2 38.2 185.5 38.6 185.4 39.1 185.4 39.6 185.3 40.0 185.1 40.5 185.3 40.9 185.3 41.4 185.3 41.9 184.8 42.3 182.6 42.8 184.6 43.2 185.2 43.7 185.1 44.2 185.1 44.6 185.4 45.1 185.4 45.5 185.3 46.0 183.0 46.5 184.3 46.9 185.3 47.4 185.9 47.8 186.3 48.3 185.8 48.8 184.8 49.2 184.7 49.7 185.0 50.1 185.0 50.6 185.1 51.1 185.4 51.5 185.8 52.0 186.0 52.4 185.8 52.9 185.3 53.4 184.7 53.8 185.1 54.3 185.5 54.7 185.3 55.2 185.6 55.7 186.1 56.1 186.1 56.6 186.0 57.0 185.9 57.5 185.6 58.0 185.6 58.4 185.6 58.9 185.4 59.3 185.6 59.8 185.5 60.3 183.5 60.7 185.1 61.2 185.1 61.6 185.5 62.1 186.1 62.6 185.8 63.0 185.6 63.5 185.5 63.9 185.2 64.4 185.4 64.9 185.6 65.3 185.3 65.8 183.1 66.2 185.0 66.7 185.7 67.2 185.8 67.6 186.0 68.1 186.4 68.5 186.7 69.0 187.0 69.5 187.2 69.9 187.6 70.4 187.0 70.8 186.8 71.3 187.1 71.8 187.3 72.2 187.3 72.7 187.2 73.1 186.5 73.6 186.5 74.1 187.6 74.5 187.0 75.0 186.5 75.4 187.3 75.9 185.4 76.4 186.0 76.8 186.9 77.3 187.1 77.7 184.8 78.2 186.7 78.7 187.2 79.1 187.2 79.6 187.6 80.0 186.9 80.5 186.7 81.0 187.5 81.4 187.2 81.9 187.0 82.3 186.9 82.8 186.9 83.3 187.2 83.7 187.1 84.2 187.2 84.6 187.3 85.1 187.3 85.6 186.9 86.0 187.0 86.5 187.6 86.9 187.5 87.4 185.1 87.9 186.3 88.3 186.7 88.8 187.3 89.2 187.6 89.7 187.3 90.2 187.5 90.6 187.5 91.1 188.1 91.5 188.2 92.0 187.8 92.5 188.3 92.9 188.5 93.4 187.9 93.8 188.1 94.3 188.4 94.8 188.5 95.2 189.0 95.7 189.3 96.1 189.3 96.6 188.9 97.1 188.6 97.5 189.1 98.0 189.1 98.4 188.9 98.9 189.4 99.4 189.2 99.8 189.3 100.3 189.8 100.7 189.3 101.2 189.3 101.7 189.5 102.1 189.5 102.6 189.6 103.0 189.3 103.5 189.4 104.0 189.9 104.4 189.8 104.9 189.3 105.3 189.5 105.8 187.3 106.3 188.2 106.7 188.9 107.2 189.3 107.6 189.5 108.1 189.5 108.6 189.0 109.0 188.5 109.5 188.4 109.9 189.0 110.4 186.7 110.9 188.4 111.3 189.0 111.8 189.1 112.2 189.6 112.7 189.2 113.2 189.0 113.6 189.0 114.1 189.4 114.5 189.7 115.0 189.5 115.5 189.6 115.9 190.0 116.4 189.7 116.8 189.1 117.3 189.6 117.8 190.1 118.2 190.0 118.7 189.3 119.1 189.1 119.6 189.6 120.1 189.4 120.5 189.4 121.0 189.4 121.4 189.3 121.9 189.2 122.4 189.2 122.8 189.6 123.3 189.8 123.7 189.6 124.2 189.6" stroke="#772885" stroke-width="1.05" fill="none" stroke-opacity="1" stroke-linejoin="round"/>
<line x1="143.4" y1="122.2" x2="143.4" y2="201.0" stroke="#444" stroke-width="1.0" />
<line x1="142.9" y1="200.5" x2="244.7" y2="200.5" stroke="#444" stroke-width="1.0" />
<line x1="143.4" y1="196.1" x2="145.0" y2="196.1" stroke="#555" stroke-width="0.7" />
<text x="142.0" y="198.5" font-size="6.7" text-anchor="end" fill="#333" font-weight="bold" >0</text>
<line x1="143.4" y1="178.6" x2="145.0" y2="178.6" stroke="#555" stroke-width="0.7" />
<text x="142.0" y="181.0" font-size="6.7" text-anchor="end" fill="#333" font-weight="bold" >20</text>
<line x1="143.4" y1="161.1" x2="145.0" y2="161.1" stroke="#555" stroke-width="0.7" />
<text x="142.0" y="163.5" font-size="6.7" text-anchor="end" fill="#333" font-weight="bold" >40</text>
<line x1="143.4" y1="143.6" x2="145.0" y2="143.6" stroke="#555" stroke-width="0.7" />
<text x="142.0" y="146.0" font-size="6.7" text-anchor="end" fill="#333" font-weight="bold" >60</text>
<line x1="143.4" y1="126.1" x2="145.0" y2="126.1" stroke="#555" stroke-width="0.7" />
<text x="142.0" y="128.5" font-size="6.7" text-anchor="end" fill="#333" font-weight="bold" >80</text>
<line x1="152.4" y1="200.5" x2="152.4" y2="198.9" stroke="#555" stroke-width="0.7" />
<text x="152.1" y="208.0" font-size="6.7" text-anchor="middle" fill="#333" font-weight="bold" >0</text>
<line x1="198.3" y1="200.5" x2="198.3" y2="198.9" stroke="#555" stroke-width="0.7" />
<text x="198.0" y="208.0" font-size="6.7" text-anchor="middle" fill="#333" font-weight="bold" >500</text>
<line x1="244.2" y1="200.5" x2="244.2" y2="198.9" stroke="#555" stroke-width="0.7" />
<text x="243.9" y="208.0" font-size="6.7" text-anchor="middle" fill="#333" font-weight="bold" >1000</text>
<path d="M143.2 196.1 143.7 196.1 144.1 196.1 144.6 196.1 145.1 196.1 145.5 196.1 146.0 196.1 146.4 196.1 146.9 196.1 147.4 196.1 147.8 196.1 148.3 196.1 148.7 196.1 149.2 196.1 149.6 196.1 150.1 196.1 150.6 196.1 151.0 196.1 151.5 196.1 151.9 196.1 152.4 182.1 152.9 183.1 153.3 183.9 153.8 185.4 154.2 186.4 154.7 186.6 155.2 186.3 155.6 186.8 156.1 187.7 156.5 188.3 157.0 188.5 157.4 188.8 157.9 189.4 158.4 190.8 158.8 190.6 159.3 189.9 159.7 190.3 160.2 190.6 160.7 191.4 161.1 191.2 161.6 192.0 162.0 193.1 162.5 193.4 163.0 193.3 163.4 192.7 163.9 192.4 164.3 192.2 164.8 192.6 165.3 193.3 165.7 193.1 166.2 192.7 166.6 192.6 167.1 192.5 167.5 192.9 168.0 192.6 168.5 192.5 168.9 193.9 169.4 194.7 169.8 195.3 170.3 194.3 170.8 194.0 171.2 193.6 171.7 193.3 172.1 193.4 172.6 194.4 173.1 194.2 173.5 192.7 174.0 193.3 174.4 193.5 174.9 194.4 175.3 194.2 175.8 194.4 176.3 194.8 176.7 194.2 177.2 193.3 177.6 192.2 178.1 191.6 178.6 191.9 179.0 191.9 179.5 191.7 179.9 192.4 180.4 192.6 180.9 192.5 181.3 192.2 181.8 192.1 182.2 128.7 182.7 179.9 183.2 189.5 183.6 191.3 184.1 191.6 184.5 191.1 185.0 190.9 185.4 190.7 185.9 190.4 186.4 189.9 186.8 188.7 187.3 188.2 187.7 187.7 188.2 188.4 188.7 187.5 189.1 187.3 189.6 187.9 190.0 189.0 190.5 189.3 191.0 189.1 191.4 189.0 191.9 188.7 192.3 188.4 192.8 188.6 193.3 188.2 193.7 188.8 194.2 188.0 194.6 188.3 195.1 187.3 195.5 188.7 196.0 187.8 196.5 188.7 196.9 187.9 197.4 188.3 197.8 187.7 198.3 187.4 198.8 188.7 199.2 188.5 199.7 188.2 200.1 186.8 200.6 186.8 201.1 186.7 201.5 186.8 202.0 187.0 202.4 187.4 202.9 186.7 203.3 186.8 203.8 186.0 204.3 186.8 204.7 185.8 205.2 186.7 205.6 186.6 206.1 187.1 206.6 187.0 207.0 187.2 207.5 187.8 207.9 187.8 208.4 188.2 208.9 187.6 209.3 187.7 209.8 188.3 210.2 188.9 210.7 189.0 211.2 188.9 211.6 188.3 212.1 188.2 212.5 187.5 213.0 188.6 213.4 189.1 213.9 189.2 214.4 189.7 214.8 189.5 215.3 190.0 215.7 189.8 216.2 190.1 216.7 190.7 217.1 190.6 217.6 191.3 218.0 191.6 218.5 191.2 219.0 191.1 219.4 191.7 219.9 192.0 220.3 192.2 220.8 193.0 221.2 193.6 221.7 193.0 222.2 191.4 222.6 190.7 223.1 191.4 223.5 191.4 224.0 192.8 224.5 192.8 224.9 192.5 225.4 191.9 225.8 192.1 226.3 193.8 226.8 194.3 227.2 195.1 227.7 194.0 228.1 194.3 228.6 193.6 229.1 194.5 229.5 193.4 230.0 194.2 230.4 193.8 230.9 193.6 231.3 193.0 231.8 193.6 232.3 194.6 232.7 194.3 233.2 193.6 233.6 194.8 234.1 195.3 234.6 196.1 235.0 195.0 235.5 195.1 235.9 194.4 236.4 195.0 236.9 194.9 237.3 195.3 237.8 194.9 238.2 195.3 238.7 195.6 239.2 195.7 239.6 194.9 240.1 193.6 240.5 194.0 241.0 195.2 241.4 195.3 241.9 194.8 242.4 194.0 242.8 193.7 243.3 195.0 243.7 194.9 244.2 195.2" stroke="#17703a" stroke-width="0.55" fill="none" stroke-opacity="0.45" stroke-linejoin="round"/>
<path d="M143.2 196.1 143.7 196.1 144.1 196.1 144.6 196.1 145.1 196.1 145.5 196.1 146.0 196.1 146.4 196.1 146.9 196.1 147.4 196.1 147.8 196.1 148.3 196.1 148.7 196.1 149.2 196.1 149.6 196.1 150.1 196.1 150.6 196.1 151.0 196.1 151.5 196.1 151.9 196.1 152.4 185.3 152.9 186.4 153.3 186.4 153.8 186.1 154.2 185.3 154.7 185.2 155.2 186.2 155.6 186.7 156.1 187.4 156.5 187.1 157.0 187.3 157.4 185.8 157.9 186.6 158.4 186.0 158.8 187.3 159.3 186.3 159.7 187.3 160.2 186.6 160.7 187.3 161.1 187.2 161.6 187.6 162.0 187.1 162.5 186.5 163.0 185.6 163.4 185.3 163.9 186.7 164.3 187.5 164.8 188.6 165.3 187.5 165.7 186.9 166.2 186.4 166.6 186.6 167.1 186.7 167.5 186.0 168.0 184.6 168.5 184.3 168.9 183.8 169.4 183.5 169.8 183.7 170.3 183.8 170.8 184.9 171.2 184.4 171.7 183.7 172.1 182.4 172.6 182.4 173.1 183.1 173.5 183.9 174.0 184.4 174.4 183.8 174.9 182.7 175.3 183.0 175.8 184.0 176.3 183.9 176.7 183.4 177.2 182.2 177.6 183.3 178.1 182.2 178.6 181.9 179.0 181.2 179.5 181.1 179.9 181.5 180.4 181.3 180.9 180.8 181.3 180.4 181.8 181.0 182.2 182.3 182.7 183.0 183.2 182.9 183.6 182.6 184.1 182.8 184.5 182.5 185.0 182.7 185.4 182.4 185.9 182.9 186.4 182.8 186.8 127.8 187.3 173.1 187.7 181.7 188.2 182.9 188.7 183.6 189.1 183.5 189.6 183.6 190.0 184.0 190.5 184.8 191.0 186.2 191.4 186.5 191.9 186.8 192.3 186.5 192.8 185.7 193.3 186.7 193.7 186.8 194.2 187.7 194.6 186.6 195.1 186.4 195.5 187.8 196.0 189.0 196.5 189.5 196.9 189.3 197.4 188.4 197.8 188.8 198.3 188.8 198.8 189.7 199.2 190.2 199.7 190.5 200.1 191.2 200.6 191.4 201.1 191.9 201.5 191.7 202.0 192.5 202.4 193.2 202.9 193.3 203.3 192.8 203.8 192.7 204.3 193.2 204.7 194.0 205.2 192.8 205.6 193.5 206.1 192.4 206.6 193.9 207.0 193.1 207.5 194.2 207.9 194.1 208.4 194.0 208.9 193.6 209.3 193.7 209.8 194.6 210.2 194.2 210.7 193.5 211.2 193.1 211.6 194.3 212.1 194.9 212.5 195.0 213.0 194.3 213.4 195.0 213.9 195.1 214.4 196.1 214.8 195.1 215.3 194.3 215.7 194.0 216.2 194.4 216.7 194.6 217.1 194.8 217.6 195.5 218.0 195.7 218.5 195.4 219.0 195.0 219.4 194.9 219.9 195.0 220.3 195.8 220.8 196.1 221.2 196.1 221.7 194.8 222.2 195.0 222.6 195.1 223.1 195.7 223.5 195.6 224.0 196.1 224.5 196.1 224.9 196.1 225.4 195.3 225.8 194.3 226.3 194.7 226.8 195.8 227.2 196.1 227.7 196.1 228.1 196.1 228.6 196.1 229.1 195.7 229.5 196.0 230.0 196.1 230.4 196.1 230.9 196.1 231.3 195.7 231.8 195.5 232.3 196.1 232.7 196.1 233.2 196.1 233.6 194.9 234.1 194.9 234.6 195.1 235.0 195.4 235.5 195.7 235.9 195.2 236.4 195.3 236.9 195.6 237.3 196.1 237.8 196.1 238.2 196.1 238.7 196.1 239.2 196.0 239.6 195.5 240.1 195.1 240.5 194.3 241.0 195.4 241.4 196.1 241.9 196.1 242.4 196.1 242.8 196.1 243.3 196.1 243.7 196.1 244.2 195.9" stroke="#17703a" stroke-width="0.55" fill="none" stroke-opacity="0.45" stroke-linejoin="round"/>
<path d="M143.2 196.1 143.7 196.1 144.1 196.1 144.6 196.1 145.1 196.1 145.5 196.1 146.0 196.1 146.4 196.1 146.9 196.1 147.4 196.1 147.8 196.1 148.3 196.1 148.7 196.1 149.2 196.1 149.6 196.1 150.1 196.1 150.6 196.1 151.0 196.1 151.5 196.1 151.9 196.1 152.4 184.8 152.9 185.5 153.3 186.0 153.8 186.2 154.2 186.5 154.7 187.8 155.2 187.7 155.6 188.6 156.1 188.3 156.5 189.4 157.0 189.1 157.4 189.8 157.9 190.6 158.4 192.3 158.8 192.5 159.3 192.9 159.7 192.0 160.2 191.5 160.7 192.2 161.1 193.3 161.6 194.0 162.0 192.6 162.5 192.0 163.0 192.2 163.4 192.7 163.9 192.8 164.3 192.3 164.8 192.4 165.3 193.3 165.7 194.5 166.2 194.8 166.6 194.7 167.1 194.7 167.5 195.1 168.0 195.2 168.5 194.8 168.9 194.8 169.4 195.1 169.8 195.8 170.3 195.7 170.8 194.2 171.2 193.8 171.7 193.2 172.1 194.0 172.6 195.2 173.1 195.7 173.5 196.1 174.0 196.0 174.4 196.1 174.9 195.5 175.3 195.7 175.8 195.5 176.3 195.8 176.7 194.7 177.2 195.3 177.6 195.9 178.1 196.1 178.6 195.7 179.0 195.3 179.5 195.3 179.9 195.4 180.4 195.0 180.9 195.6 181.3 195.6 181.8 196.0 182.2 195.7 182.7 195.8 183.2 196.1 183.6 195.9 184.1 195.8 184.5 194.8 185.0 194.3 185.4 194.0 185.9 194.4 186.4 194.7 186.8 194.7 187.3 195.0 187.7 194.5 188.2 194.4 188.7 193.3 189.1 128.7 189.6 182.0 190.0 192.0 190.5 192.2 191.0 193.2 191.4 194.1 191.9 194.3 192.3 193.5 192.8 193.5 193.3 193.1 193.7 193.3 194.2 193.0 194.6 193.5 195.1 193.1 195.5 192.7 196.0 192.5 196.5 192.1 196.9 192.9 197.4 192.8 197.8 193.2 198.3 192.1 198.8 192.2 199.2 191.5 199.7 192.7 200.1 192.4 200.6 192.5 201.1 191.4 201.5 191.8 202.0 192.8 202.4 192.7 202.9 192.8 203.3 191.9 203.8 192.6 204.3 192.0 204.7 191.3 205.2 190.3 205.6 189.9 206.1 191.7 206.6 192.4 207.0 192.8 207.5 192.3 207.9 191.8 208.4 192.8 208.9 192.6 209.3 193.3 209.8 192.9 210.2 192.3 210.7 193.1 211.2 192.8 211.6 193.7 212.1 194.2 212.5 195.0 213.0 195.6 213.4 194.3 213.9 193.3 214.4 192.7 214.8 193.0 215.3 194.6 215.7 194.9 216.2 195.4 216.7 193.9 217.1 193.4 217.6 192.2 218.0 192.5 218.5 192.9 219.0 194.5 219.4 194.9 219.9 195.9 220.3 195.1 220.8 195.8 221.2 195.3 221.7 196.1 222.2 195.9 222.6 195.7 223.1 195.6 223.5 195.3 224.0 196.1 224.5 195.2 224.9 195.7 225.4 194.7 225.8 194.4 226.3 195.3 226.8 196.1 227.2 196.1 227.7 195.7 228.1 195.5 228.6 195.3 229.1 196.1 229.5 195.7 230.0 196.1 230.4 195.8 230.9 196.1 231.3 196.1 231.8 196.1 232.3 195.9 232.7 195.4 233.2 195.2 233.6 194.8 234.1 193.9 234.6 195.1 235.0 195.3 235.5 195.6 235.9 196.1 236.4 196.1 236.9 196.1 237.3 195.2 237.8 194.8 238.2 195.1 238.7 196.0 239.2 196.1 239.6 195.9 240.1 195.8 240.5 195.9 241.0 196.0 241.4 195.6 241.9 195.0 242.4 195.1 242.8 195.8 243.3 196.1 243.7 196.1 244.2 196.1" stroke="#17703a" stroke-width="0.55" fill="none" stroke-opacity="0.45" stroke-linejoin="round"/>
<path d="M143.2 196.1 143.7 196.1 144.1 196.1 144.6 196.1 145.1 196.1 145.5 196.1 146.0 196.1 146.4 196.1 146.9 196.1 147.4 196.1 147.8 196.1 148.3 196.1 148.7 196.1 149.2 196.1 149.6 196.1 150.1 196.1 150.6 196.1 151.0 196.1 151.5 196.1 151.9 196.1 152.4 180.7 152.9 181.8 153.3 182.2 153.8 183.0 154.2 183.8 154.7 184.3 155.2 184.9 155.6 185.3 156.1 186.1 156.5 187.2 157.0 188.1 157.4 188.0 157.9 187.1 158.4 186.4 158.8 186.6 159.3 187.2 159.7 188.2 160.2 188.1 160.7 188.8 161.1 189.0 161.6 189.9 162.0 190.2 162.5 189.7 163.0 190.4 163.4 190.6 163.9 192.0 164.3 191.1 164.8 190.5 165.3 190.5 165.7 192.4 166.2 193.2 166.6 192.8 167.1 192.4 167.5 193.0 168.0 193.4 168.5 193.8 168.9 193.4 169.4 193.3 169.8 192.1 170.3 193.0 170.8 193.6 171.2 194.1 171.7 193.3 172.1 193.5 172.6 192.5 173.1 192.5 173.5 193.1 174.0 193.0 174.4 193.1 174.9 192.3 175.3 193.0 175.8 193.9 176.3 193.5 176.7 194.7 177.2 194.2 177.6 193.6 178.1 191.7 178.6 191.3 179.0 192.3 179.5 192.4 179.9 192.1 180.4 191.4 180.9 191.5 181.3 191.8 181.8 191.4 182.2 192.6 182.7 191.2 183.2 192.2 183.6 191.3 184.1 192.2 184.5 190.9 185.0 190.0 185.4 189.4 185.9 189.3 186.4 189.2 186.8 189.2 187.3 190.2 187.7 191.4 188.2 192.2 188.7 191.1 189.1 189.9 189.6 188.6 190.0 188.3 190.5 188.1 191.0 188.3 191.4 188.9 191.9 189.5 192.3 131.3 192.8 177.5 193.3 186.2 193.7 186.9 194.2 186.9 194.6 185.3 195.1 185.2 195.5 185.2 196.0 185.2 196.5 185.6 196.9 185.9 197.4 186.3 197.8 185.6 198.3 184.1 198.8 183.5 199.2 182.9 199.7 184.3 200.1 184.2 200.6 183.8 201.1 183.5 201.5 184.1 202.0 185.0 202.4 184.7 202.9 184.1 203.3 182.8 203.8 182.4 204.3 182.4 204.7 183.2 205.2 183.7 205.6 183.5 206.1 183.1 206.6 183.2 207.0 183.6 207.5 183.5 207.9 182.8 208.4 183.1 208.9 183.8 209.3 184.1 209.8 183.4 210.2 183.2 210.7 183.9 211.2 184.7 211.6 185.5 212.1 185.2 212.5 185.7 213.0 184.8 213.4 185.0 213.9 184.5 214.4 184.1 214.8 184.4 215.3 185.5 215.7 186.6 216.2 186.8 216.7 186.5 217.1 187.3 217.6 187.2 218.0 187.4 218.5 188.4 219.0 189.0 219.4 189.1 219.9 187.7 220.3 188.1 220.8 188.9 221.2 189.1 221.7 189.4 222.2 189.2 222.6 189.7 223.1 189.3 223.5 189.6 224.0 190.5 224.5 190.6 224.9 191.1 225.4 191.0 225.8 190.7 226.3 190.3 226.8 190.7 227.2 192.1 227.7 192.9 228.1 192.9 228.6 193.8 229.1 193.4 229.5 192.9 230.0 192.0 230.4 192.7 230.9 193.1 231.3 193.1 231.8 193.5 232.3 193.9 232.7 194.7 233.2 193.9 233.6 193.8 234.1 194.3 234.6 195.0 235.0 194.4 235.5 194.3 235.9 194.1 236.4 195.3 236.9 194.3 237.3 194.5 237.8 194.5 238.2 195.8 238.7 195.9 239.2 195.4 239.6 194.5 240.1 195.1 240.5 194.8 241.0 195.3 241.4 195.3 241.9 196.0 242.4 196.1 242.8 196.0 243.3 196.1 243.7 196.1 244.2 196.1" stroke="#17703a" stroke-width="0.55" fill="none" stroke-opacity="0.45" stroke-linejoin="round"/>
<path d="M143.2 196.1 143.7 196.1 144.1 196.1 144.6 196.1 145.1 196.1 145.5 196.1 146.0 196.1 146.4 196.1 146.9 196.1 147.4 196.1 147.8 196.1 148.3 196.1 148.7 196.1 149.2 196.1 149.6 196.1 150.1 196.1 150.6 196.1 151.0 196.1 151.5 196.1 151.9 196.1 152.4 179.7 152.9 180.7 153.3 182.3 153.8 184.5 154.2 184.5 154.7 184.5 155.2 184.2 155.6 185.5 156.1 186.8 156.5 188.2 157.0 188.8 157.4 189.5 157.9 190.0 158.4 189.7 158.8 189.2 159.3 188.4 159.7 188.6 160.2 189.4 160.7 190.0 161.1 190.0 161.6 190.0 162.0 190.2 162.5 190.8 163.0 191.1 163.4 191.2 163.9 191.8 164.3 191.1 164.8 192.0 165.3 191.3 165.7 192.6 166.2 191.2 166.6 191.0 167.1 190.8 167.5 191.8 168.0 192.7 168.5 192.4 168.9 191.9 169.4 190.1 169.8 190.7 170.3 190.3 170.8 191.7 171.2 190.8 171.7 190.9 172.1 190.2 172.6 190.1 173.1 190.4 173.5 190.6 174.0 190.5 174.4 189.7 174.9 190.2 175.3 190.3 175.8 191.3 176.3 190.9 176.7 190.8 177.2 189.4 177.6 187.7 178.1 186.4 178.6 187.3 179.0 188.0 179.5 188.9 179.9 187.8 180.4 187.0 180.9 185.9 181.3 185.4 181.8 185.7 182.2 186.7 182.7 187.7 183.2 187.4 183.6 185.8 184.1 184.0 184.5 183.8 185.0 183.7 185.4 183.9 185.9 182.9 186.4 182.6 186.8 183.0 187.3 182.7 187.7 182.1 188.2 181.1 188.7 182.0 189.1 181.9 189.6 182.6 190.0 182.7 190.5 182.6 191.0 181.7 191.4 180.2 191.9 179.2 192.3 178.8 192.8 178.0 193.3 178.8 193.7 178.3 194.2 179.6 194.6 179.1 195.1 179.5 195.5 178.9 196.0 178.6 196.5 179.2 196.9 179.0 197.4 179.6 197.8 178.7 198.3 178.5 198.8 178.3 199.2 178.6 199.7 179.4 200.1 179.0 200.6 179.2 201.1 178.6 201.5 179.6 202.0 178.8 202.4 179.6 202.9 178.6 203.3 179.6 203.8 179.1 204.3 179.9 204.7 179.6 205.2 180.1 205.6 179.6 206.1 179.9 206.6 179.8 207.0 179.9 207.5 180.9 207.9 180.9 208.4 181.9 208.9 182.6 209.3 183.3 209.8 183.8 210.2 182.6 210.7 183.4 211.2 183.6 211.6 184.6 212.1 185.6 212.5 185.8 213.0 186.7 213.4 185.4 213.9 185.2 214.4 185.1 214.8 186.9 215.3 187.9 215.7 188.1 216.2 187.4 216.7 187.9 217.1 188.9 217.6 189.6 218.0 190.2 218.5 189.1 219.0 189.7 219.4 189.8 219.9 191.0 220.3 191.5 220.8 191.6 221.2 191.9 221.7 191.8 222.2 192.0 222.6 191.6 223.1 191.3 223.5 192.1 224.0 193.1 224.5 193.1 224.9 193.0 225.4 192.9 225.8 193.5 226.3 193.1 226.8 193.4 227.2 193.6 227.7 194.4 228.1 194.3 228.6 194.8 229.1 193.7 229.5 194.0 230.0 193.8 230.4 194.3 230.9 194.5 231.3 194.4 231.8 194.9 232.3 195.3 232.7 195.9 233.2 196.1 233.6 195.4 234.1 195.4 234.6 195.3 235.0 196.1 235.5 195.5 235.9 194.4 236.4 194.7 236.9 194.8 237.3 195.8 237.8 195.5 238.2 195.6 238.7 196.1 239.2 195.7 239.6 195.9 240.1 195.8 240.5 195.5 241.0 195.2 241.4 194.2 241.9 195.6 242.4 196.1 242.8 196.1 243.3 196.0 243.7 195.3 244.2 195.9" stroke="#17703a" stroke-width="0.55" fill="none" stroke-opacity="0.45" stroke-linejoin="round"/>
<path d="M143.2 196.1 143.7 196.1 144.1 196.1 144.6 196.1 145.1 196.1 145.5 196.1 146.0 196.1 146.4 196.1 146.9 196.1 147.4 196.1 147.8 196.1 148.3 196.1 148.7 196.1 149.2 196.1 149.6 196.1 150.1 196.1 150.6 196.1 151.0 196.1 151.5 196.1 151.9 196.1 152.4 178.9 152.9 180.6 153.3 181.8 153.8 183.3 154.2 182.5 154.7 183.7 155.2 182.8 155.6 183.5 156.1 184.7 156.5 186.1 157.0 186.5 157.4 186.5 157.9 186.6 158.4 188.0 158.8 187.9 159.3 187.6 159.7 188.1 160.2 189.1 160.7 190.1 161.1 190.4 161.6 189.9 162.0 190.2 162.5 189.7 163.0 191.0 163.4 191.1 163.9 191.4 164.3 190.6 164.8 190.9 165.3 192.4 165.7 193.5 166.2 193.9 166.6 193.5 167.1 193.5 167.5 194.2 168.0 194.9 168.5 194.6 168.9 193.7 169.4 194.1 169.8 194.7 170.3 196.0 170.8 195.7 171.2 193.9 171.7 193.2 172.1 193.1 172.6 195.2 173.1 195.9 173.5 196.1 174.0 196.1 174.4 196.1 174.9 194.6 175.3 195.4 175.8 195.1 176.3 195.2 176.7 195.4 177.2 195.3 177.6 196.1 178.1 195.6 178.6 195.3 179.0 194.6 179.5 194.7 179.9 195.8 180.4 195.6 180.9 195.3 181.3 195.0 181.8 195.3 182.2 195.6 182.7 195.2 183.2 195.9 183.6 196.0 184.1 196.1 184.5 195.7 185.0 195.3 185.4 194.8 185.9 194.3 186.4 195.3 186.8 195.6 187.3 196.1 187.7 196.0 188.2 195.7 188.7 195.2 189.1 195.7 189.6 195.6 190.0 195.6 190.5 194.5 191.0 194.4 191.4 193.5 191.9 193.5 192.3 194.0 192.8 194.4 193.3 194.9 193.7 193.4 194.2 192.4 194.6 191.4 195.1 191.5 195.5 192.6 196.0 193.5 196.5 193.8 196.9 193.0 197.4 192.6 197.8 192.2 198.3 191.8 198.8 190.7 199.2 190.0 199.7 189.8 200.1 190.4 200.6 191.2 201.1 191.4 201.5 191.9 202.0 191.5 202.4 191.5 202.9 191.4 203.3 192.5 203.8 191.4 204.3 191.1 204.7 190.6 205.2 191.8 205.6 192.0 206.1 192.6 206.6 193.3 207.0 194.4 207.5 194.4 207.9 195.6 208.4 195.2 208.9 195.4 209.3 195.5 209.8 195.0 210.2 195.9 210.7 194.7 211.2 196.0 211.6 195.4 212.1 196.1 212.5 194.8 213.0 194.5 213.4 193.4 213.9 194.2 214.4 194.4 214.8 195.2 215.3 195.7 215.7 195.8 216.2 195.8 216.7 195.8 217.1 196.1 217.6 196.1 218.0 196.1 218.5 196.1 219.0 195.8 219.4 196.1 219.9 196.1 220.3 196.1 220.8 196.1 221.2 196.1 221.7 196.1 222.2 195.8 222.6 196.1 223.1 196.1 223.5 196.1 224.0 196.1 224.5 196.0 224.9 195.1 225.4 194.2 225.8 193.9 226.3 194.6 226.8 195.3 227.2 195.1 227.7 195.8 228.1 196.1 228.6 196.1 229.1 195.9 229.5 194.8 230.0 194.8 230.4 195.0 230.9 195.9 231.3 195.1 231.8 195.8 232.3 195.2 232.7 195.8 233.2 195.8 233.6 196.1 234.1 196.1 234.6 196.1 235.0 196.1 235.5 196.1 235.9 196.1 236.4 196.1 236.9 196.1 237.3 196.1 237.8 196.1 238.2 196.1 238.7 196.1 239.2 196.1 239.6 196.1 240.1 196.1 240.5 196.1 241.0 195.2 241.4 195.1 241.9 194.5 242.4 194.1 242.8 195.0 243.3 196.1 243.7 196.1 244.2 196.1" stroke="#17703a" stroke-width="0.55" fill="none" stroke-opacity="0.45" stroke-linejoin="round"/>
<path d="M143.2 196.1 143.7 196.1 144.1 196.1 144.6 196.1 145.1 196.1 145.5 196.1 146.0 196.1 146.4 196.1 146.9 196.1 147.4 196.1 147.8 196.1 148.3 196.1 148.7 196.1 149.2 196.1 149.6 196.1 150.1 196.1 150.6 196.1 151.0 196.1 151.5 196.1 151.9 196.1 152.4 184.8 152.9 185.2 153.3 186.7 153.8 186.4 154.2 186.8 154.7 186.9 155.2 187.4 155.6 187.9 156.1 187.1 156.5 188.7 157.0 188.5 157.4 189.5 157.9 190.2 158.4 190.9 158.8 191.3 159.3 191.0 159.7 191.6 160.2 192.6 160.7 192.0 161.1 192.1 161.6 191.5 162.0 191.2 162.5 191.1 163.0 191.4 163.4 192.6 163.9 192.7 164.3 191.9 164.8 191.7 165.3 192.2 165.7 192.3 166.2 192.0 166.6 191.5 167.1 190.9 167.5 191.4 168.0 191.3 168.5 193.1 168.9 192.6 169.4 192.3 169.8 190.8 170.3 191.2 170.8 191.0 171.2 191.1 171.7 190.4 172.1 189.5 172.6 189.8 173.1 190.0 173.5 190.8 174.0 191.6 174.4 190.3 174.9 189.9 175.3 189.0 175.8 189.4 176.3 189.4 176.7 188.2 177.2 188.6 177.6 189.3 178.1 191.1 178.6 190.8 179.0 190.8 179.5 189.8 179.9 189.3 180.4 188.6 180.9 188.9 181.3 188.4 181.8 188.2 182.2 187.5 182.7 187.5 183.2 187.9 183.6 188.4 184.1 187.6 184.5 186.9 185.0 186.9 185.4 188.2 185.9 188.3 186.4 188.3 186.8 188.4 187.3 188.1 187.7 187.5 188.2 187.0 188.7 187.8 189.1 188.5 189.6 188.4 190.0 187.8 190.5 186.6 191.0 186.8 191.4 187.3 191.9 187.7 192.3 188.4 192.8 187.7 193.3 187.4 193.7 186.0 194.2 186.3 194.6 186.6 195.1 187.6 195.5 187.3 196.0 189.0 196.5 189.5 196.9 189.9 197.4 188.5 197.8 188.9 198.3 188.8 198.8 188.6 199.2 188.4 199.7 189.0 200.1 189.9 200.6 190.0 201.1 189.5 201.5 188.8 202.0 189.3 202.4 190.5 202.9 191.7 203.3 191.2 203.8 190.8 204.3 190.5 204.7 190.9 205.2 191.0 205.6 191.4 206.1 192.3 206.6 192.9 207.0 192.9 207.5 192.4 207.9 192.4 208.4 192.9 208.9 192.5 209.3 192.7 209.8 192.6 210.2 193.5 210.7 193.8 211.2 194.8 211.6 195.0 212.1 195.1 212.5 194.1 213.0 194.5 213.4 194.5 213.9 194.7 214.4 194.3 214.8 193.9 215.3 193.9 215.7 194.8 216.2 195.3 216.7 196.1 217.1 194.9 217.6 194.8 218.0 194.2 218.5 194.1 219.0 194.3 219.4 194.5 219.9 195.2 220.3 195.2 220.8 194.7 221.2 194.5 221.7 194.0 222.2 194.6 222.6 195.2 223.1 195.9 223.5 196.1 224.0 196.1 224.5 196.1 224.9 195.9 225.4 195.2 225.8 195.6 226.3 196.0 226.8 195.9 227.2 195.5 227.7 194.7 228.1 195.3 228.6 195.3 229.1 195.8 229.5 195.4 230.0 195.7 230.4 196.1 230.9 196.1 231.3 196.1 231.8 195.2 232.3 195.3 232.7 195.4 233.2 195.8 233.6 195.0 234.1 195.2 234.6 195.2 235.0 195.3 235.5 195.9 235.9 196.1 236.4 196.1 236.9 196.1 237.3 196.1 237.8 196.1 238.2 196.1 238.7 196.0 239.2 195.5 239.6 195.8 240.1 196.1 240.5 196.1 241.0 196.1 241.4 195.9 241.9 196.0 242.4 196.1 242.8 196.1 243.3 196.1 243.7 196.1 244.2 195.2" stroke="#17703a" stroke-width="0.55" fill="none" stroke-opacity="0.45" stroke-linejoin="round"/>
<path d="M143.2 196.1 143.7 196.1 144.1 196.1 144.6 196.1 145.1 196.1 145.5 196.1 146.0 196.1 146.4 196.1 146.9 196.1 147.4 196.1 147.8 196.1 148.3 196.1 148.7 196.1 149.2 196.1 149.6 196.1 150.1 196.1 150.6 196.1 151.0 196.1 151.5 196.1 151.9 196.1 152.4 181.1 152.9 183.5 153.3 184.3 153.8 184.3 154.2 184.6 154.7 186.5 155.2 187.8 155.6 188.1 156.1 189.0 156.5 190.0 157.0 190.5 157.4 190.9 157.9 191.1 158.4 191.6 158.8 192.1 159.3 192.6 159.7 193.6 160.2 192.9 160.7 194.0 161.1 193.5 161.6 194.3 162.0 193.5 162.5 193.6 163.0 193.3 163.4 194.2 163.9 194.5 164.3 195.2 164.8 195.0 165.3 195.3 165.7 194.9 166.2 195.1 166.6 195.1 167.1 195.9 167.5 195.8 168.0 195.6 168.5 195.6 168.9 195.4 169.4 195.4 169.8 195.1 170.3 194.7 170.8 195.2 171.2 194.7 171.7 195.6 172.1 194.9 172.6 195.6 173.1 195.6 173.5 196.1 174.0 196.1 174.4 196.1 174.9 195.8 175.3 196.1 175.8 195.7 176.3 194.5 176.7 194.2 177.2 193.9 177.6 194.7 178.1 195.1 178.6 196.0 179.0 196.0 179.5 196.1 179.9 195.9 180.4 195.9 180.9 196.1 181.3 195.9 181.8 195.4 182.2 195.3 182.7 195.7 183.2 195.5 183.6 194.7 184.1 195.2 184.5 196.1 185.0 196.1 185.4 194.7 185.9 194.7 186.4 195.1 186.8 196.1 187.3 195.8 187.7 195.6 188.2 195.2 188.7 195.3 189.1 194.4 189.6 194.4 190.0 194.1 190.5 194.4 191.0 194.2 191.4 194.2 191.9 194.1 192.3 194.5 192.8 193.9 193.3 193.8 193.7 192.8 194.2 193.1 194.6 193.5 195.1 194.4 195.5 194.3 196.0 194.0 196.5 192.6 196.9 192.3 197.4 192.4 197.8 193.0 198.3 192.9 198.8 192.5 199.2 191.4 199.7 191.1 200.1 191.2 200.6 191.6 201.1 191.6 201.5 191.3 202.0 192.1 202.4 192.4 202.9 192.6 203.3 191.1 203.8 190.2 204.3 189.4 204.7 188.9 205.2 189.1 205.6 188.4 206.1 188.6 206.6 188.2 207.0 187.9 207.5 188.5 207.9 188.5 208.4 189.2 208.9 188.1 209.3 187.6 209.8 188.3 210.2 188.5 210.7 188.3 211.2 186.0 211.6 185.1 212.1 184.9 212.5 186.5 213.0 186.9 213.4 187.5 213.9 186.8 214.4 186.8 214.8 186.4 215.3 186.4 215.7 186.7 216.2 186.8 216.7 186.2 217.1 185.9 217.6 185.8 218.0 186.9 218.5 187.2 219.0 186.9 219.4 186.2 219.9 185.8 220.3 185.9 220.8 187.0 221.2 186.9 221.7 186.7 222.2 186.0 222.6 186.5 223.1 187.9 223.5 188.6 224.0 189.6 224.5 188.6 224.9 189.2 225.4 189.3 225.8 189.3 226.3 188.7 226.8 189.0 227.2 189.0 227.7 190.1 228.1 190.0 228.6 191.1 229.1 190.5 229.5 191.1 230.0 191.6 230.4 191.9 230.9 192.6 231.3 192.2 231.8 192.6 232.3 191.8 232.7 192.4 233.2 192.7 233.6 193.2 234.1 192.6 234.6 193.4 235.0 193.7 235.5 194.1 235.9 194.0 236.4 194.6 236.9 194.7 237.3 194.6 237.8 194.6 238.2 194.2 238.7 194.4 239.2 194.6 239.6 196.1 240.1 196.1 240.5 196.1 241.0 195.2 241.4 194.2 241.9 194.3 242.4 194.3 242.8 194.6 243.3 194.1 243.7 194.7 244.2 195.0" stroke="#17703a" stroke-width="0.55" fill="none" stroke-opacity="0.45" stroke-linejoin="round"/>
<path d="M143.2 196.1 143.7 196.1 144.1 196.1 144.6 196.1 145.1 196.1 145.5 196.1 146.0 196.1 146.4 196.1 146.9 196.1 147.4 196.1 147.8 196.1 148.3 196.1 148.7 196.1 149.2 196.1 149.6 196.1 150.1 196.1 150.6 196.1 151.0 196.1 151.5 196.1 151.9 196.1 152.4 185.0 152.9 184.6 153.3 185.0 153.8 186.5 154.2 187.9 154.7 189.0 155.2 189.9 155.6 191.2 156.1 191.4 156.5 191.6 157.0 191.3 157.4 191.0 157.9 190.9 158.4 191.4 158.8 192.3 159.3 193.5 159.7 193.0 160.2 193.4 160.7 193.0 161.1 193.5 161.6 193.1 162.0 193.4 162.5 194.3 163.0 194.1 163.4 194.0 163.9 193.0 164.3 194.4 164.8 194.4 165.3 195.4 165.7 194.9 166.2 195.3 166.6 195.4 167.1 195.0 167.5 194.8 168.0 195.5 168.5 196.1 168.9 196.1 169.4 196.1 169.8 196.1 170.3 196.1 170.8 196.1 171.2 196.1 171.7 196.1 172.1 196.1 172.6 196.1 173.1 196.1 173.5 195.8 174.0 196.0 174.4 195.6 174.9 195.8 175.3 196.1 175.8 196.1 176.3 196.1 176.7 196.1 177.2 195.6 177.6 195.4 178.1 195.1 178.6 196.1 179.0 196.1 179.5 196.1 179.9 196.1 180.4 195.8 180.9 194.9 181.3 196.1 181.8 196.1 182.2 196.1 182.7 195.1 183.2 196.1 183.6 196.1 184.1 195.9 184.5 193.9 185.0 193.7 185.4 194.7 185.9 195.3 186.4 195.0 186.8 194.4 187.3 194.0 187.7 194.5 188.2 193.9 188.7 193.7 189.1 193.7 189.6 192.3 190.0 192.4 190.5 191.8 191.0 193.4 191.4 193.3 191.9 193.4 192.3 193.6 192.8 194.2 193.3 193.8 193.7 193.0 194.2 193.4 194.6 194.4 195.1 194.3 195.5 193.0 196.0 191.5 196.5 191.8 196.9 191.4 197.4 191.6 197.8 191.1 198.3 191.3 198.8 190.5 199.2 189.8 199.7 189.2 200.1 189.8 200.6 190.0 201.1 190.7 201.5 190.5 202.0 190.3 202.4 189.8 202.9 189.0 203.3 188.5 203.8 187.7 204.3 187.8 204.7 187.3 205.2 187.4 205.6 186.8 206.1 186.9 206.6 186.4 207.0 186.6 207.5 187.3 207.9 188.1 208.4 186.9 208.9 186.0 209.3 184.9 209.8 185.7 210.2 185.9 210.7 184.6 211.2 184.8 211.6 184.5 212.1 185.7 212.5 185.5 213.0 185.9 213.4 186.0 213.9 185.5 214.4 185.0 214.8 184.1 215.3 184.4 215.7 183.8 216.2 183.4 216.7 182.3 217.1 182.9 217.6 184.8 218.0 184.7 218.5 183.8 219.0 182.6 219.4 182.3 219.9 182.7 220.3 182.2 220.8 183.3 221.2 182.8 221.7 183.0 222.2 182.7 222.6 182.3 223.1 182.0 223.5 182.4 224.0 182.5 224.5 182.2 224.9 181.8 225.4 182.3 225.8 182.7 226.3 182.4 226.8 182.1 227.2 181.8 227.7 181.9 228.1 181.0 228.6 181.6 229.1 181.6 229.5 181.7 230.0 180.2 230.4 180.0 230.9 181.0 231.3 182.6 231.8 182.1 232.3 181.9 232.7 181.8 233.2 182.1 233.6 181.6 234.1 180.9 234.6 180.0 235.0 180.1 235.5 180.2 235.9 181.3 236.4 181.5 236.9 181.2 237.3 180.7 237.8 180.5 238.2 180.9 238.7 180.9 239.2 180.8 239.6 181.0 240.1 181.9 240.5 181.7 241.0 181.3 241.4 180.8 241.9 181.5 242.4 181.8 242.8 182.4 243.3 182.5 243.7 183.0 244.2 182.1" stroke="#17703a" stroke-width="0.55" fill="none" stroke-opacity="0.45" stroke-linejoin="round"/>
<path d="M143.2 196.1 143.7 196.1 144.1 196.1 144.6 196.1 145.1 196.1 145.5 196.1 146.0 196.1 146.4 196.1 146.9 196.1 147.4 196.1 147.8 196.1 148.3 196.1 148.7 196.1 149.2 196.1 149.6 196.1 150.1 196.1 150.6 196.1 151.0 196.1 151.5 196.1 151.9 196.1 152.4 184.6 152.9 185.1 153.3 184.7 153.8 185.6 154.2 186.5 154.7 188.4 155.2 189.5 155.6 190.7 156.1 190.5 156.5 191.1 157.0 190.0 157.4 190.3 157.9 189.8 158.4 191.2 158.8 191.8 159.3 191.8 159.7 190.9 160.2 191.4 160.7 191.7 161.1 192.3 161.6 192.2 162.0 192.3 162.5 193.1 163.0 193.8 163.4 193.8 163.9 193.1 164.3 191.8 164.8 190.3 165.3 189.4 165.7 189.6 166.2 189.7 166.6 190.4 167.1 190.7 167.5 190.4 168.0 190.7 168.5 190.5 168.9 191.6 169.4 190.2 169.8 190.2 170.3 189.5 170.8 190.2 171.2 190.3 171.7 190.4 172.1 189.9 172.6 189.7 173.1 190.0 173.5 190.3 174.0 189.1 174.4 188.3 174.9 187.6 175.3 187.6 175.8 187.9 176.3 187.6 176.7 187.9 177.2 188.1 177.6 188.5 178.1 187.9 178.6 187.1 179.0 186.1 179.5 186.8 179.9 186.8 180.4 187.0 180.9 186.5 181.3 186.2 181.8 186.4 182.2 186.4 182.7 185.9 183.2 186.3 183.6 185.2 184.1 185.9 184.5 185.6 185.0 186.4 185.4 186.5 185.9 186.5 186.4 185.9 186.8 186.5 187.3 185.5 187.7 185.3 188.2 183.8 188.7 184.9 189.1 186.4 189.6 187.4 190.0 187.1 190.5 186.0 191.0 186.0 191.4 186.1 191.9 186.3 192.3 186.9 192.8 186.2 193.3 186.9 193.7 186.2 194.2 186.7 194.6 186.7 195.1 187.0 195.5 187.0 196.0 186.9 196.5 186.6 196.9 187.5 197.4 187.4 197.8 187.8 198.3 188.2 198.8 188.7 199.2 188.8 199.7 188.7 200.1 188.6 200.6 189.8 201.1 190.2 201.5 190.1 202.0 189.3 202.4 189.4 202.9 190.4 203.3 191.3 203.8 191.4 204.3 190.7 204.7 190.6 205.2 190.4 205.6 191.4 206.1 191.1 206.6 192.3 207.0 192.3 207.5 193.5 207.9 192.9 208.4 192.9 208.9 193.0 209.3 193.8 209.8 194.4 210.2 194.8 210.7 195.1 211.2 195.4 211.6 194.5 212.1 193.5 212.5 193.4 213.0 194.0 213.4 194.7 213.9 194.8 214.4 194.9 214.8 194.7 215.3 194.5 215.7 194.5 216.2 195.2 216.7 194.7 217.1 195.0 217.6 194.7 218.0 196.0 218.5 196.0 219.0 196.1 219.4 195.9 219.9 195.4 220.3 195.4 220.8 195.9 221.2 196.1 221.7 196.1 222.2 196.1 222.6 194.8 223.1 195.3 223.5 195.4 224.0 195.9 224.5 196.0 224.9 195.7 225.4 196.1 225.8 196.0 226.3 195.5 226.8 195.4 227.2 194.8 227.7 195.6 228.1 195.3 228.6 196.1 229.1 196.1 229.5 196.1 230.0 195.3 230.4 193.8 230.9 195.6 231.3 196.1 231.8 196.1 232.3 195.7 232.7 195.7 233.2 196.1 233.6 196.1 234.1 196.1 234.6 196.1 235.0 196.1 235.5 196.1 235.9 196.1 236.4 196.1 236.9 196.1 237.3 195.8 237.8 195.5 238.2 195.3 238.7 196.1 239.2 196.1 239.6 196.1 240.1 196.1 240.5 196.1 241.0 196.1 241.4 196.1 241.9 196.1 242.4 196.0 242.8 196.1 243.3 195.6 243.7 195.1 244.2 194.9" stroke="#17703a" stroke-width="0.55" fill="none" stroke-opacity="0.45" stroke-linejoin="round"/>
<path d="M143.2 196.1 143.7 196.1 144.1 196.1 144.6 196.1 145.1 196.1 145.5 196.1 146.0 196.1 146.4 196.1 146.9 196.1 147.4 196.1 147.8 196.1 148.3 196.1 148.7 196.1 149.2 196.1 149.6 196.1 150.1 196.1 150.6 196.1 151.0 196.1 151.5 196.1 151.9 196.1 152.4 194.3 152.9 189.4 153.3 184.4 153.8 179.5 154.2 180.1 154.7 181.1 155.2 181.3 155.6 181.3 156.1 181.4 156.5 182.2 157.0 183.0 157.4 183.7 157.9 183.7 158.4 183.5 158.8 183.8 159.3 184.5 159.7 185.5 160.2 185.5 160.7 185.9 161.1 186.4 161.6 187.1 162.0 187.1 162.5 187.0 163.0 187.3 163.4 187.7 163.9 188.9 164.3 188.9 164.8 188.2 165.3 189.0 165.7 190.1 166.2 190.0 166.6 189.8 167.1 190.4 167.5 189.7 168.0 188.9 168.5 189.8 168.9 190.8 169.4 190.6 169.8 189.3 170.3 189.2 170.8 189.6 171.2 190.3 171.7 190.7 172.1 191.0 172.6 190.4 173.1 189.3 173.5 190.4 174.0 190.9 174.4 189.6 174.9 188.5 175.3 188.4 175.8 187.9 176.3 186.7 176.7 186.5 177.2 187.4 177.6 187.2 178.1 186.7 178.6 186.6 179.0 185.6 179.5 185.0 179.9 185.2 180.4 184.8 180.9 184.4 181.3 183.8 181.8 183.3 182.2 183.0 182.7 182.7 183.2 182.2 183.6 181.8 184.1 181.8 184.5 181.6 185.0 181.2 185.4 181.3 185.9 180.5 186.4 180.3 186.8 181.3 187.3 181.4 187.7 181.7 188.2 181.5 188.7 181.7 189.1 182.1 189.6 182.5 190.0 182.8 190.5 182.9 191.0 182.1 191.4 182.3 191.9 183.4 192.3 183.2 192.8 182.7 193.3 183.7 193.7 185.1 194.2 184.9 194.6 184.6 195.1 185.5 195.5 186.6 196.0 186.8 196.5 186.2 196.9 186.3 197.4 186.7 197.8 187.0 198.3 187.7 198.8 187.3 199.2 187.2 199.7 187.3 200.1 187.4 200.6 187.6 201.1 187.0 201.5 186.8 202.0 187.1 202.4 186.7 202.9 186.1 203.3 186.3 203.8 186.6 204.3 186.2 204.7 185.0 205.2 185.5 205.6 186.8 206.1 186.6 206.6 186.3 207.0 186.4 207.5 186.4 207.9 185.5 208.4 184.7 208.9 184.4 209.3 184.3 209.8 185.1 210.2 185.2 210.7 185.4 211.2 186.0 211.6 186.4 212.1 185.9 212.5 185.3 213.0 186.1 213.4 186.7 213.9 186.6 214.4 186.6 214.8 186.5 215.3 186.7 215.7 187.0 216.2 187.7 216.7 188.1 217.1 188.3 217.6 187.7 218.0 186.8 218.5 187.3 219.0 187.5 219.4 187.2 219.9 187.4 220.3 188.8 220.8 189.3 221.2 189.6 221.7 189.9 222.2 189.6 222.6 189.4 223.1 188.9 223.5 189.3 224.0 189.6 224.5 189.3 224.9 189.3 225.4 189.6 225.8 190.4 226.3 190.6 226.8 189.6 227.2 189.4 227.7 190.3 228.1 190.5 228.6 190.0 229.1 190.3 229.5 190.3 230.0 190.3 230.4 190.7 230.9 190.5 231.3 189.7 231.8 189.9 232.3 190.9 232.7 190.6 233.2 190.7 233.6 190.9 234.1 191.6 234.6 191.7 235.0 191.0 235.5 191.6 235.9 191.2 236.4 190.9 236.9 191.5 237.3 192.0 237.8 192.6 238.2 192.4 238.7 192.4 239.2 192.1 239.6 191.4 240.1 191.8 240.5 192.8 241.0 192.8 241.4 192.7 241.9 192.6 242.4 192.2 242.8 192.5 243.3 192.6 243.7 192.2 244.2 191.7" stroke="#17703a" stroke-width="1.05" fill="none" stroke-opacity="1" stroke-linejoin="round"/>
<text x="72.6" y="215.2" font-size="7.1" text-anchor="middle" fill="#333" font-weight="bold" >Time (ms)</text>
<text x="194.3" y="215.2" font-size="7.1" text-anchor="middle" fill="#333" font-weight="bold" >Time (ms)</text>
<text x="257.3" y="10.9" font-size="12.8" text-anchor="start" fill="#111" font-weight="bold" >B</text>
<text x="398.3" y="14.2" font-size="10" text-anchor="middle" fill="#222" font-weight="bold" >Average Spontaneous Activity</text>
<line x1="278.6" y1="24.2" x2="278.6" y2="192.3" stroke="#222" stroke-width="1.2" />
<line x1="278.0" y1="191.8" x2="517.6" y2="191.8" stroke="#222" stroke-width="1.2" />
<line x1="278.6" y1="190.2" x2="281.8" y2="190.2" stroke="#222" stroke-width="1.0" />
<text x="275.6" y="193.3" font-size="8.4" text-anchor="end" fill="#333" font-weight="bold" >0</text>
<line x1="278.6" y1="146.8" x2="281.8" y2="146.8" stroke="#222" stroke-width="1.0" />
<text x="275.6" y="149.9" font-size="8.4" text-anchor="end" fill="#333" font-weight="bold" >5</text>
<line x1="278.6" y1="103.4" x2="281.8" y2="103.4" stroke="#222" stroke-width="1.0" />
<text x="275.6" y="106.5" font-size="8.4" text-anchor="end" fill="#333" font-weight="bold" >10</text>
<line x1="278.6" y1="60.0" x2="281.8" y2="60.0" stroke="#222" stroke-width="1.0" />
<text x="275.6" y="63.1" font-size="8.4" text-anchor="end" fill="#333" font-weight="bold" >15</text>
<line x1="300.1" y1="191.8" x2="300.1" y2="188.8" stroke="#222" stroke-width="1.0" />
<text x="301.0" y="201.2" font-size="8.8" text-anchor="middle" fill="#333" font-weight="bold" >0</text>
<line x1="343.5" y1="191.8" x2="343.5" y2="188.8" stroke="#222" stroke-width="1.0" />
<text x="344.4" y="201.2" font-size="8.8" text-anchor="middle" fill="#333" font-weight="bold" >200</text>
<line x1="386.9" y1="191.8" x2="386.9" y2="188.8" stroke="#222" stroke-width="1.0" />
<text x="387.8" y="201.2" font-size="8.8" text-anchor="middle" fill="#333" font-weight="bold" >400</text>
<line x1="430.2" y1="191.8" x2="430.2" y2="188.8" stroke="#222" stroke-width="1.0" />
<text x="431.1" y="201.2" font-size="8.8" text-anchor="middle" fill="#333" font-weight="bold" >600</text>
<line x1="473.6" y1="191.8" x2="473.6" y2="188.8" stroke="#222" stroke-width="1.0" />
<text x="474.5" y="201.2" font-size="8.8" text-anchor="middle" fill="#333" font-weight="bold" >800</text>
<line x1="517.0" y1="191.8" x2="517.0" y2="188.8" stroke="#222" stroke-width="1.0" />
<text x="517.9" y="201.2" font-size="8.8" text-anchor="middle" fill="#333" font-weight="bold" >1000</text>
<text x="399.0" y="213.1" font-size="10.0" text-anchor="middle" fill="#2a2a2a" font-weight="bold" >Time (ms)</text>
<text x="268.6" y="118.8" font-size="9.2" text-anchor="middle" fill="#222" font-weight="bold" transform="rotate(-90 268.6 118.8)">mV</text>
<path d="M278.4,185.4 L278.8,185.4 L279.3,185.4 L279.7,185.4 L280.1,185.4 L280.6,185.4 L281.0,185.4 L281.4,185.4 L281.9,185.4 L282.3,185.4 L282.7,185.4 L283.2,185.4 L283.6,185.4 L284.0,185.4 L284.5,185.4 L284.9,185.4 L285.4,185.4 L285.8,185.4 L286.2,185.4 L286.7,185.4 L287.1,185.4 L287.5,185.4 L288.0,185.3 L288.4,185.3 L288.8,185.3 L289.3,185.3 L289.7,185.3 L290.1,185.3 L290.6,185.3 L291.0,185.3 L291.4,185.3 L291.9,185.1 L292.3,184.8 L292.7,184.6 L293.2,184.3 L293.6,184.1 L294.0,183.8 L294.5,183.6 L294.9,183.3 L295.3,183.1 L295.8,182.8 L296.2,181.2 L296.6,179.5 L297.1,177.9 L297.5,176.2 L297.9,174.6 L298.4,168.9 L298.8,163.3 L299.2,157.7 L299.7,149.0 L300.1,137.3 L300.5,124.9 L301.0,113.3 L301.4,102.5 L301.8,91.8 L302.3,81.1 L302.7,76.1 L303.1,71.2 L303.6,66.2 L304.0,61.3 L304.4,62.1 L304.9,62.1 L305.3,64.6 L305.7,64.2 L306.2,67.3 L306.6,67.7 L307.0,67.9 L307.5,71.7 L307.9,72.6 L308.3,74.5 L308.8,75.2 L309.2,73.9 L309.6,79.6 L310.1,80.3 L310.5,80.1 L310.9,82.7 L311.4,83.7 L311.8,85.2 L312.2,87.8 L312.7,90.0 L313.1,89.4 L313.5,90.6 L314.0,93.0 L314.4,92.5 L314.8,94.4 L315.3,96.2 L315.7,97.3 L316.2,98.2 L316.6,98.0 L317.0,100.7 L317.5,101.8 L317.9,102.6 L318.3,103.9 L318.8,104.5 L319.2,104.6 L319.6,106.0 L320.1,107.1 L320.5,107.2 L320.9,106.4 L321.4,108.2 L321.8,110.0 L322.2,110.9 L322.7,111.2 L323.1,110.9 L323.5,112.2 L324.0,112.2 L324.4,113.6 L324.8,115.1 L325.3,116.4 L325.7,116.1 L326.1,118.0 L326.6,119.4 L327.0,120.5 L327.4,120.7 L327.9,121.6 L328.3,122.4 L328.7,123.1 L329.2,124.5 L329.6,125.2 L330.0,126.4 L330.5,126.6 L330.9,127.8 L331.3,127.7 L331.8,129.9 L332.2,131.3 L332.6,131.5 L333.1,132.1 L333.5,132.0 L333.9,132.2 L334.4,133.7 L334.8,134.6 L335.2,134.4 L335.7,134.7 L336.1,135.2 L336.5,135.4 L337.0,136.3 L337.4,137.6 L337.8,135.8 L338.3,138.8 L338.7,138.7 L339.1,140.3 L339.6,140.0 L340.0,139.7 L340.4,140.0 L340.9,139.2 L341.3,139.6 L341.7,139.2 L342.2,139.9 L342.6,141.5 L343.0,140.9 L343.5,141.2 L343.9,142.7 L344.3,142.3 L344.8,142.5 L345.2,142.9 L345.6,141.6 L346.1,142.0 L346.5,142.1 L347.0,141.9 L347.4,141.9 L347.8,143.2 L348.3,142.7 L348.7,143.1 L349.1,143.5 L349.6,145.0 L350.0,144.7 L350.4,143.9 L350.9,143.7 L351.3,145.8 L351.7,147.1 L352.2,146.9 L352.6,146.6 L353.0,143.8 L353.5,144.6 L353.9,145.7 L354.3,145.9 L354.8,146.1 L355.2,145.0 L355.6,147.2 L356.1,147.7 L356.5,147.3 L356.9,146.7 L357.4,147.8 L357.8,148.0 L358.2,146.9 L358.7,147.3 L359.1,148.1 L359.5,148.3 L360.0,147.5 L360.4,147.1 L360.8,149.0 L361.3,147.2 L361.7,148.4 L362.1,148.6 L362.6,148.4 L363.0,148.8 L363.4,150.2 L363.9,149.4 L364.3,150.1 L364.7,150.5 L365.2,150.4 L365.6,150.5 L366.0,150.9 L366.5,151.3 L366.9,150.7 L367.3,151.4 L367.8,150.4 L368.2,151.2 L368.6,151.3 L369.1,151.0 L369.5,152.0 L369.9,151.3 L370.4,151.9 L370.8,152.0 L371.2,151.6 L371.7,152.3 L372.1,153.0 L372.5,152.5 L373.0,150.0 L373.4,153.8 L373.8,153.7 L374.3,152.8 L374.7,153.3 L375.1,153.2 L375.6,152.5 L376.0,153.1 L376.4,153.2 L376.9,153.5 L377.3,152.9 L377.8,152.6 L378.2,153.2 L378.6,153.6 L379.1,153.1 L379.5,152.7 L379.9,152.3 L380.4,151.6 L380.8,152.7 L381.2,152.5 L381.7,151.4 L382.1,153.3 L382.5,151.8 L383.0,153.1 L383.4,152.4 L383.8,150.4 L384.3,152.0 L384.7,152.9 L385.1,152.8 L385.6,153.3 L386.0,152.9 L386.4,154.0 L386.9,152.2 L387.3,153.6 L387.7,153.5 L388.2,150.8 L388.6,152.5 L389.0,153.0 L389.5,152.8 L389.9,152.3 L390.3,152.4 L390.8,153.5 L391.2,153.3 L391.6,153.1 L392.1,152.1 L392.5,153.7 L392.9,153.7 L393.4,153.1 L393.8,153.3 L394.2,153.0 L394.7,153.6 L395.1,154.0 L395.5,153.2 L396.0,152.0 L396.4,153.2 L396.8,153.8 L397.3,153.3 L397.7,152.8 L398.1,153.0 L398.6,154.3 L399.0,154.5 L399.4,152.6 L399.9,153.6 L400.3,152.9 L400.7,152.0 L401.2,154.1 L401.6,153.6 L402.0,152.1 L402.5,152.2 L402.9,153.1 L403.3,154.2 L403.8,153.7 L404.2,154.2 L404.6,153.7 L405.1,153.9 L405.5,154.7 L405.9,153.9 L406.4,154.5 L406.8,153.6 L407.2,154.5 L407.7,154.2 L408.1,153.0 L408.6,154.3 L409.0,153.4 L409.4,153.5 L409.9,154.1 L410.3,153.7 L410.7,154.2 L411.2,154.1 L411.6,153.5 L412.0,154.4 L412.5,154.8 L412.9,154.8 L413.3,154.4 L413.8,154.3 L414.2,154.3 L414.6,154.9 L415.1,155.0 L415.5,155.3 L415.9,156.0 L416.4,156.4 L416.8,155.0 L417.2,155.7 L417.7,154.1 L418.1,155.9 L418.5,156.0 L419.0,155.9 L419.4,156.2 L419.8,155.7 L420.3,156.3 L420.7,155.1 L421.1,156.3 L421.6,157.0 L422.0,156.7 L422.4,156.9 L422.9,157.5 L423.3,157.0 L423.7,155.8 L424.2,157.4 L424.6,157.7 L425.0,156.3 L425.5,155.4 L425.9,156.6 L426.3,157.7 L426.8,157.1 L427.2,156.9 L427.6,156.9 L428.1,157.7 L428.5,156.5 L428.9,157.9 L429.4,159.8 L429.8,158.7 L430.2,156.5 L430.7,159.0 L431.1,158.4 L431.5,158.1 L432.0,158.9 L432.4,159.0 L432.8,159.3 L433.3,159.5 L433.7,159.8 L434.1,159.5 L434.6,158.1 L435.0,157.9 L435.4,160.3 L435.9,160.7 L436.3,159.2 L436.7,159.0 L437.2,160.1 L437.6,159.2 L438.0,160.9 L438.5,160.5 L438.9,161.1 L439.3,161.7 L439.8,161.4 L440.2,161.9 L440.7,162.3 L441.1,161.9 L441.5,161.8 L442.0,161.8 L442.4,161.7 L442.8,160.4 L443.3,161.3 L443.7,160.3 L444.1,161.5 L444.6,161.2 L445.0,160.2 L445.4,161.5 L445.9,161.4 L446.3,161.9 L446.7,162.3 L447.2,162.4 L447.6,162.1 L448.0,161.3 L448.5,160.9 L448.9,161.5 L449.3,161.7 L449.8,161.1 L450.2,162.5 L450.6,162.1 L451.1,161.2 L451.5,161.7 L451.9,162.1 L452.4,161.8 L452.8,161.6 L453.2,160.9 L453.7,161.6 L454.1,161.8 L454.5,162.9 L455.0,162.5 L455.4,162.5 L455.8,161.6 L456.3,161.5 L456.7,162.2 L457.1,161.9 L457.6,162.9 L458.0,163.1 L458.4,163.4 L458.9,163.1 L459.3,162.5 L459.7,161.9 L460.2,160.0 L460.6,161.4 L461.0,161.4 L461.5,162.5 L461.9,162.0 L462.3,162.4 L462.8,162.2 L463.2,161.7 L463.6,162.7 L464.1,163.0 L464.5,163.1 L464.9,162.2 L465.4,162.8 L465.8,162.7 L466.2,162.0 L466.7,162.6 L467.1,162.3 L467.5,161.9 L468.0,162.1 L468.4,163.5 L468.8,162.5 L469.3,161.9 L469.7,161.5 L470.1,161.7 L470.6,162.2 L471.0,162.5 L471.5,162.9 L471.9,164.0 L472.3,163.4 L472.8,163.7 L473.2,164.5 L473.6,164.0 L474.1,163.5 L474.5,163.9 L474.9,163.0 L475.4,162.7 L475.8,162.9 L476.2,163.6 L476.7,163.0 L477.1,163.1 L477.5,162.5 L478.0,163.5 L478.4,164.0 L478.8,164.3 L479.3,164.1 L479.7,163.4 L480.1,162.2 L480.6,163.1 L481.0,163.1 L481.4,162.6 L481.9,161.4 L482.3,162.8 L482.7,163.0 L483.2,164.4 L483.6,164.3 L484.0,162.6 L484.5,161.6 L484.9,164.5 L485.3,163.0 L485.8,162.5 L486.2,164.2 L486.6,162.6 L487.1,163.3 L487.5,164.6 L487.9,164.1 L488.4,163.9 L488.8,163.0 L489.2,163.5 L489.7,163.5 L490.1,164.3 L490.5,163.9 L491.0,163.2 L491.4,162.8 L491.8,163.9 L492.3,164.1 L492.7,163.8 L493.1,163.4 L493.6,164.6 L494.0,163.4 L494.4,164.2 L494.9,164.2 L495.3,163.6 L495.7,164.7 L496.2,164.4 L496.6,163.4 L497.0,163.2 L497.5,164.1 L497.9,164.7 L498.3,164.2 L498.8,164.3 L499.2,164.6 L499.6,164.6 L500.1,164.6 L500.5,165.2 L500.9,164.2 L501.4,164.5 L501.8,165.6 L502.3,165.0 L502.7,164.3 L503.1,165.5 L503.6,165.1 L504.0,163.5 L504.4,163.8 L504.9,163.9 L505.3,163.4 L505.7,165.8 L506.2,166.3 L506.6,166.1 L507.0,165.7 L507.5,165.1 L507.9,166.0 L508.3,165.1 L508.8,164.8 L509.2,164.8 L509.6,165.5 L510.1,163.5 L510.5,165.4 L510.9,165.4 L511.4,165.8 L511.8,164.8 L512.2,166.2 L512.7,165.0 L513.1,165.3 L513.5,165.9 L514.0,164.8 L514.4,165.9 L514.8,164.4 L515.3,165.8 L515.7,166.1 L516.1,165.4 L516.6,164.9 L517.0,166.0 L517.0,179.3 L516.6,178.9 L516.1,178.9 L515.7,181.0 L515.3,179.3 L514.8,180.8 L514.4,179.5 L514.0,180.7 L513.5,179.2 L513.1,180.0 L512.7,180.2 L512.2,179.8 L511.8,180.2 L511.4,180.5 L510.9,179.2 L510.5,178.6 L510.1,179.2 L509.6,179.4 L509.2,181.1 L508.8,179.2 L508.3,179.8 L507.9,180.1 L507.5,179.2 L507.0,181.4 L506.6,180.3 L506.2,180.1 L505.7,179.2 L505.3,178.9 L504.9,180.0 L504.4,178.5 L504.0,177.9 L503.6,179.5 L503.1,179.2 L502.7,178.7 L502.3,178.7 L501.8,179.5 L501.4,178.3 L500.9,179.5 L500.5,179.3 L500.1,179.5 L499.6,177.8 L499.2,179.3 L498.8,178.6 L498.3,178.1 L497.9,177.9 L497.5,178.3 L497.0,177.8 L496.6,177.5 L496.2,178.6 L495.7,178.7 L495.3,177.1 L494.9,178.1 L494.4,177.6 L494.0,179.4 L493.6,177.7 L493.1,177.9 L492.7,178.5 L492.3,177.6 L491.8,177.5 L491.4,176.9 L491.0,177.4 L490.5,177.7 L490.1,178.5 L489.7,177.4 L489.2,178.4 L488.8,178.0 L488.4,177.8 L487.9,177.6 L487.5,178.5 L487.1,177.7 L486.6,177.1 L486.2,178.9 L485.8,178.3 L485.3,177.8 L484.9,177.7 L484.5,175.4 L484.0,176.5 L483.6,178.0 L483.2,179.1 L482.7,177.9 L482.3,176.7 L481.9,176.7 L481.4,177.6 L481.0,177.4 L480.6,177.1 L480.1,177.0 L479.7,176.9 L479.3,177.3 L478.8,178.0 L478.4,177.5 L478.0,176.8 L477.5,177.0 L477.1,177.4 L476.7,177.1 L476.2,177.6 L475.8,176.2 L475.4,177.0 L474.9,177.1 L474.5,177.7 L474.1,176.8 L473.6,177.4 L473.2,178.0 L472.8,177.1 L472.3,177.4 L471.9,177.1 L471.5,177.3 L471.0,176.2 L470.6,177.6 L470.1,176.2 L469.7,175.9 L469.3,177.3 L468.8,177.2 L468.4,177.0 L468.0,177.6 L467.5,176.2 L467.1,177.7 L466.7,176.9 L466.2,176.3 L465.8,175.8 L465.4,175.9 L464.9,177.4 L464.5,177.3 L464.1,177.8 L463.6,177.1 L463.2,175.6 L462.8,175.4 L462.3,175.5 L461.9,176.1 L461.5,175.7 L461.0,175.7 L460.6,175.7 L460.2,175.6 L459.7,175.3 L459.3,175.9 L458.9,177.2 L458.4,177.9 L458.0,176.7 L457.6,176.3 L457.1,176.7 L456.7,175.7 L456.3,175.6 L455.8,177.0 L455.4,176.1 L455.0,176.0 L454.5,177.4 L454.1,175.2 L453.7,174.7 L453.2,174.7 L452.8,175.9 L452.4,175.4 L451.9,175.3 L451.5,176.8 L451.1,175.9 L450.6,176.9 L450.2,176.2 L449.8,175.7 L449.3,175.8 L448.9,175.3 L448.5,176.0 L448.0,175.7 L447.6,175.9 L447.2,175.8 L446.7,175.1 L446.3,175.9 L445.9,176.2 L445.4,176.7 L445.0,174.4 L444.6,175.1 L444.1,175.4 L443.7,176.0 L443.3,175.6 L442.8,175.6 L442.4,175.8 L442.0,176.4 L441.5,176.1 L441.1,175.6 L440.7,176.6 L440.2,174.9 L439.8,175.1 L439.3,175.2 L438.9,174.4 L438.5,174.9 L438.0,175.4 L437.6,173.6 L437.2,173.7 L436.7,174.0 L436.3,173.3 L435.9,174.5 L435.4,174.0 L435.0,173.9 L434.6,173.3 L434.1,173.7 L433.7,172.8 L433.3,173.0 L432.8,172.6 L432.4,172.4 L432.0,172.0 L431.5,173.0 L431.1,172.5 L430.7,172.9 L430.2,170.9 L429.8,172.7 L429.4,173.4 L428.9,171.4 L428.5,171.5 L428.1,171.6 L427.6,171.7 L427.2,171.0 L426.8,171.6 L426.3,171.3 L425.9,171.1 L425.5,170.3 L425.0,170.1 L424.6,170.7 L424.2,170.3 L423.7,169.7 L423.3,170.4 L422.9,171.0 L422.4,170.1 L422.0,170.3 L421.6,170.0 L421.1,170.4 L420.7,170.1 L420.3,170.9 L419.8,169.2 L419.4,169.1 L419.0,170.2 L418.5,169.3 L418.1,169.3 L417.7,168.8 L417.2,169.1 L416.8,169.5 L416.4,170.2 L415.9,169.2 L415.5,168.5 L415.1,168.2 L414.6,167.8 L414.2,168.1 L413.8,168.5 L413.3,168.7 L412.9,168.9 L412.5,168.2 L412.0,168.1 L411.6,167.6 L411.2,167.5 L410.7,168.0 L410.3,167.3 L409.9,167.9 L409.4,166.7 L409.0,166.7 L408.6,167.6 L408.1,167.0 L407.7,167.3 L407.2,168.0 L406.8,168.0 L406.4,167.5 L405.9,166.9 L405.5,169.1 L405.1,168.0 L404.6,167.8 L404.2,167.0 L403.8,168.2 L403.3,168.3 L402.9,168.3 L402.5,166.9 L402.0,168.4 L401.6,166.9 L401.2,167.5 L400.7,166.4 L400.3,166.9 L399.9,166.9 L399.4,167.0 L399.0,167.9 L398.6,168.9 L398.1,167.3 L397.7,166.6 L397.3,168.6 L396.8,168.2 L396.4,166.4 L396.0,167.1 L395.5,166.8 L395.1,167.1 L394.7,166.9 L394.2,166.5 L393.8,166.3 L393.4,167.5 L392.9,166.9 L392.5,166.9 L392.1,167.7 L391.6,167.1 L391.2,166.8 L390.8,166.8 L390.3,166.1 L389.9,166.2 L389.5,165.7 L389.0,166.4 L388.6,165.8 L388.2,165.7 L387.7,167.3 L387.3,167.5 L386.9,167.8 L386.4,168.0 L386.0,167.8 L385.6,166.9 L385.1,165.5 L384.7,166.4 L384.3,166.5 L383.8,163.8 L383.4,165.7 L383.0,166.9 L382.5,166.0 L382.1,167.7 L381.7,165.1 L381.2,166.0 L380.8,165.4 L380.4,166.1 L379.9,166.0 L379.5,165.8 L379.1,166.6 L378.6,166.3 L378.2,167.5 L377.8,166.4 L377.3,166.2 L376.9,166.3 L376.4,168.0 L376.0,166.7 L375.6,165.7 L375.1,165.9 L374.7,165.9 L374.3,166.2 L373.8,167.4 L373.4,167.5 L373.0,163.5 L372.5,165.3 L372.1,166.5 L371.7,165.8 L371.2,165.4 L370.8,166.3 L370.4,165.6 L369.9,164.7 L369.5,165.1 L369.1,164.1 L368.6,164.4 L368.2,165.1 L367.8,163.7 L367.3,165.0 L366.9,164.2 L366.5,164.3 L366.0,164.1 L365.6,163.8 L365.2,164.6 L364.7,163.4 L364.3,163.6 L363.9,162.6 L363.4,163.2 L363.0,164.9 L362.6,162.4 L362.1,161.6 L361.7,161.3 L361.3,162.4 L360.8,161.4 L360.4,161.1 L360.0,161.5 L359.5,161.6 L359.1,160.9 L358.7,161.0 L358.2,160.0 L357.8,160.9 L357.4,161.2 L356.9,160.4 L356.5,160.8 L356.1,161.9 L355.6,160.2 L355.2,159.9 L354.8,159.4 L354.3,158.8 L353.9,159.2 L353.5,158.7 L353.0,157.0 L352.6,159.7 L352.2,160.0 L351.7,159.6 L351.3,158.9 L350.9,157.5 L350.4,157.4 L350.0,158.1 L349.6,157.5 L349.1,157.8 L348.7,156.0 L348.3,156.3 L347.8,158.3 L347.4,157.9 L347.0,155.8 L346.5,156.5 L346.1,155.8 L345.6,155.2 L345.2,157.0 L344.8,156.7 L344.3,156.0 L343.9,156.4 L343.5,154.8 L343.0,154.1 L342.6,155.1 L342.2,153.4 L341.7,154.1 L341.3,153.1 L340.9,153.0 L340.4,154.1 L340.0,152.6 L339.6,154.0 L339.1,153.1 L338.7,152.4 L338.3,152.3 L337.8,149.7 L337.4,150.9 L337.0,149.8 L336.5,149.4 L336.1,148.8 L335.7,148.0 L335.2,147.2 L334.8,148.8 L334.4,147.2 L333.9,146.2 L333.5,145.5 L333.1,145.2 L332.6,144.7 L332.2,143.8 L331.8,143.0 L331.3,142.4 L330.9,141.7 L330.5,142.2 L330.0,139.9 L329.6,139.2 L329.2,140.9 L328.7,136.8 L328.3,136.5 L327.9,135.6 L327.4,134.8 L327.0,136.0 L326.6,134.5 L326.1,132.3 L325.7,131.6 L325.3,130.8 L324.8,130.4 L324.4,128.7 L324.0,129.0 L323.5,128.2 L323.1,127.6 L322.7,126.3 L322.2,126.3 L321.8,126.2 L321.4,125.5 L320.9,124.1 L320.5,123.0 L320.1,123.3 L319.6,123.8 L319.2,122.5 L318.8,121.6 L318.3,120.9 L317.9,119.2 L317.5,119.3 L317.0,118.0 L316.6,116.0 L316.2,116.2 L315.7,116.7 L315.3,114.8 L314.8,113.1 L314.4,112.3 L314.0,110.8 L313.5,109.9 L313.1,109.3 L312.7,109.0 L312.2,106.3 L311.8,104.8 L311.4,104.2 L310.9,102.6 L310.5,101.3 L310.1,101.8 L309.6,101.6 L309.2,96.2 L308.8,98.2 L308.3,97.4 L307.9,96.3 L307.5,96.7 L307.0,94.2 L306.6,93.6 L306.2,92.6 L305.7,91.0 L305.3,90.7 L304.9,89.6 L304.4,88.0 L304.0,86.5 L303.6,89.8 L303.1,93.1 L302.7,96.4 L302.3,99.7 L301.8,108.8 L301.4,117.9 L301.0,127.0 L300.5,136.9 L300.1,147.7 L299.7,159.1 L299.2,167.4 L298.8,172.7 L298.4,178.0 L297.9,183.3 L297.5,184.6 L297.1,185.9 L296.6,187.2 L296.2,188.5 L295.8,189.8 L295.3,190.0 L294.9,190.3 L294.5,190.6 L294.0,190.9 L293.6,191.1 L293.2,191.1 L292.7,191.1 L292.3,191.1 L291.9,191.1 L291.4,191.1 L291.0,191.1 L290.6,191.1 L290.1,191.1 L289.7,191.1 L289.3,191.1 L288.8,191.1 L288.4,191.1 L288.0,191.1 L287.5,191.1 L287.1,191.1 L286.7,191.1 L286.2,191.1 L285.8,191.1 L285.4,191.1 L284.9,191.1 L284.5,191.1 L284.0,191.1 L283.6,191.1 L283.2,191.1 L282.7,191.1 L282.3,191.1 L281.9,191.1 L281.4,191.1 L281.0,191.1 L280.6,191.1 L280.1,191.1 L279.7,191.1 L279.3,191.1 L278.8,191.1 L278.4,191.1Z" fill="#d2bfda" stroke="none"/>
<path d="M278.4,187.6 L278.8,187.6 L279.3,187.6 L279.7,187.6 L280.1,187.5 L280.6,187.5 L281.0,187.5 L281.4,187.5 L281.9,187.5 L282.3,187.5 L282.7,187.5 L283.2,187.5 L283.6,187.4 L284.0,187.4 L284.5,187.4 L284.9,187.4 L285.4,187.4 L285.8,187.4 L286.2,187.4 L286.7,187.4 L287.1,187.3 L287.5,187.3 L288.0,187.3 L288.4,187.3 L288.8,187.3 L289.3,187.3 L289.7,187.3 L290.1,187.3 L290.6,187.2 L291.0,187.2 L291.4,187.2 L291.9,187.2 L292.3,187.2 L292.7,187.2 L293.2,187.2 L293.6,187.2 L294.0,187.0 L294.5,186.8 L294.9,186.6 L295.3,186.5 L295.8,186.3 L296.2,185.9 L296.6,185.6 L297.1,185.3 L297.5,184.9 L297.9,184.6 L298.4,183.1 L298.8,181.6 L299.2,180.1 L299.7,178.7 L300.1,177.2 L300.5,166.3 L301.0,155.5 L301.4,142.9 L301.8,128.6 L302.3,114.2 L302.7,105.1 L303.1,96.0 L303.6,86.9 L304.0,84.3 L304.4,81.7 L304.9,76.6 L305.3,74.2 L305.7,76.6 L306.2,76.5 L306.6,77.6 L307.0,75.9 L307.5,80.0 L307.9,79.6 L308.3,79.5 L308.8,82.1 L309.2,80.9 L309.6,83.3 L310.1,83.8 L310.5,86.2 L310.9,87.1 L311.4,83.8 L311.8,82.9 L312.2,84.9 L312.7,85.1 L313.1,86.7 L313.5,87.6 L314.0,88.6 L314.4,88.2 L314.8,91.4 L315.3,91.3 L315.7,85.4 L316.2,89.0 L316.6,90.0 L317.0,91.1 L317.5,90.1 L317.9,92.9 L318.3,96.4 L318.8,96.0 L319.2,94.9 L319.6,94.8 L320.1,94.8 L320.5,94.6 L320.9,95.4 L321.4,98.8 L321.8,100.1 L322.2,100.0 L322.7,99.5 L323.1,98.6 L323.5,99.7 L324.0,99.6 L324.4,99.0 L324.8,98.9 L325.3,99.0 L325.7,97.8 L326.1,102.0 L326.6,102.3 L327.0,101.1 L327.4,102.3 L327.9,103.6 L328.3,107.2 L328.7,107.1 L329.2,107.3 L329.6,106.3 L330.0,108.7 L330.5,108.9 L330.9,109.2 L331.3,111.7 L331.8,110.0 L332.2,110.8 L332.6,111.9 L333.1,110.1 L333.5,110.1 L333.9,113.6 L334.4,114.9 L334.8,113.4 L335.2,117.1 L335.7,115.3 L336.1,117.3 L336.5,115.0 L337.0,111.1 L337.4,116.0 L337.8,116.1 L338.3,116.9 L338.7,117.9 L339.1,118.6 L339.6,117.8 L340.0,121.3 L340.4,120.0 L340.9,120.9 L341.3,120.0 L341.7,119.1 L342.2,118.0 L342.6,118.1 L343.0,121.6 L343.5,120.1 L343.9,112.8 L344.3,117.8 L344.8,120.8 L345.2,117.8 L345.6,118.8 L346.1,121.6 L346.5,120.3 L347.0,122.2 L347.4,120.7 L347.8,120.0 L348.3,121.9 L348.7,123.1 L349.1,121.7 L349.6,119.9 L350.0,119.3 L350.4,116.4 L350.9,118.8 L351.3,122.1 L351.7,122.2 L352.2,120.5 L352.6,117.6 L353.0,120.7 L353.5,123.0 L353.9,119.0 L354.3,121.1 L354.8,121.6 L355.2,121.2 L355.6,119.4 L356.1,117.8 L356.5,120.6 L356.9,120.5 L357.4,119.6 L357.8,117.6 L358.2,120.3 L358.7,120.4 L359.1,120.5 L359.5,119.8 L360.0,121.6 L360.4,117.3 L360.8,117.2 L361.3,117.8 L361.7,116.4 L362.1,117.4 L362.6,118.2 L363.0,119.1 L363.4,116.7 L363.9,114.8 L364.3,113.9 L364.7,113.4 L365.2,113.1 L365.6,113.7 L366.0,113.0 L366.5,112.4 L366.9,112.2 L367.3,113.2 L367.8,111.7 L368.2,110.1 L368.6,107.3 L369.1,107.2 L369.5,105.6 L369.9,104.6 L370.4,103.3 L370.8,102.3 L371.2,100.9 L371.7,99.4 L372.1,101.4 L372.5,98.7 L373.0,100.3 L373.4,99.4 L373.8,98.6 L374.3,97.1 L374.7,93.7 L375.1,92.6 L375.6,90.2 L376.0,91.4 L376.4,90.2 L376.9,89.8 L377.3,90.2 L377.8,87.4 L378.2,84.8 L378.6,84.8 L379.1,84.2 L379.5,80.6 L379.9,82.6 L380.4,82.2 L380.8,82.2 L381.2,83.8 L381.7,85.8 L382.1,87.8 L382.5,85.4 L383.0,80.8 L383.4,81.3 L383.8,83.1 L384.3,83.9 L384.7,83.7 L385.1,84.4 L385.6,81.7 L386.0,83.1 L386.4,80.2 L386.9,81.4 L387.3,81.0 L387.7,81.1 L388.2,77.4 L388.6,76.7 L389.0,78.7 L389.5,76.8 L389.9,78.9 L390.3,77.2 L390.8,79.7 L391.2,80.0 L391.6,82.1 L392.1,78.5 L392.5,77.9 L392.9,78.4 L393.4,75.0 L393.8,77.0 L394.2,76.1 L394.7,74.1 L395.1,76.4 L395.5,74.8 L396.0,74.9 L396.4,75.4 L396.8,73.7 L397.3,70.3 L397.7,69.2 L398.1,74.0 L398.6,70.9 L399.0,71.2 L399.4,73.9 L399.9,70.7 L400.3,73.6 L400.7,73.3 L401.2,75.6 L401.6,77.2 L402.0,76.5 L402.5,75.5 L402.9,74.3 L403.3,74.2 L403.8,77.4 L404.2,79.9 L404.6,79.2 L405.1,81.4 L405.5,79.6 L405.9,79.7 L406.4,82.9 L406.8,82.0 L407.2,83.6 L407.7,83.5 L408.1,82.6 L408.6,81.6 L409.0,83.2 L409.4,85.0 L409.9,83.5 L410.3,84.0 L410.7,81.9 L411.2,86.4 L411.6,86.8 L412.0,85.1 L412.5,81.7 L412.9,86.7 L413.3,86.5 L413.8,87.5 L414.2,84.1 L414.6,87.2 L415.1,89.0 L415.5,88.4 L415.9,89.3 L416.4,86.9 L416.8,84.4 L417.2,83.8 L417.7,85.6 L418.1,87.6 L418.5,87.4 L419.0,89.3 L419.4,87.4 L419.8,87.2 L420.3,87.5 L420.7,82.1 L421.1,87.3 L421.6,84.7 L422.0,85.1 L422.4,85.8 L422.9,83.1 L423.3,84.3 L423.7,84.8 L424.2,87.8 L424.6,84.0 L425.0,88.7 L425.5,86.8 L425.9,82.7 L426.3,86.7 L426.8,87.7 L427.2,87.8 L427.6,83.5 L428.1,86.8 L428.5,86.6 L428.9,85.0 L429.4,85.6 L429.8,87.2 L430.2,87.0 L430.7,85.8 L431.1,84.6 L431.5,87.0 L432.0,85.3 L432.4,86.3 L432.8,84.5 L433.3,86.5 L433.7,87.1 L434.1,87.1 L434.6,87.7 L435.0,87.4 L435.4,88.0 L435.9,89.9 L436.3,86.9 L436.7,88.2 L437.2,85.5 L437.6,89.2 L438.0,91.9 L438.5,87.8 L438.9,88.3 L439.3,91.4 L439.8,90.0 L440.2,91.6 L440.7,90.8 L441.1,88.8 L441.5,89.2 L442.0,87.4 L442.4,90.6 L442.8,92.0 L443.3,92.6 L443.7,92.2 L444.1,91.2 L444.6,92.5 L445.0,91.0 L445.4,93.7 L445.9,94.7 L446.3,95.6 L446.7,90.9 L447.2,91.8 L447.6,92.3 L448.0,93.5 L448.5,93.3 L448.9,92.9 L449.3,92.6 L449.8,94.2 L450.2,93.1 L450.6,93.7 L451.1,92.9 L451.5,93.5 L451.9,94.1 L452.4,89.7 L452.8,90.8 L453.2,94.3 L453.7,91.6 L454.1,96.1 L454.5,96.6 L455.0,93.6 L455.4,93.9 L455.8,93.9 L456.3,93.5 L456.7,95.8 L457.1,98.4 L457.6,96.6 L458.0,96.1 L458.4,94.5 L458.9,92.6 L459.3,94.5 L459.7,95.6 L460.2,96.2 L460.6,97.7 L461.0,91.3 L461.5,95.5 L461.9,98.9 L462.3,98.4 L462.8,95.8 L463.2,95.2 L463.6,97.6 L464.1,96.7 L464.5,95.1 L464.9,94.6 L465.4,95.3 L465.8,93.9 L466.2,96.5 L466.7,95.1 L467.1,97.2 L467.5,98.4 L468.0,96.9 L468.4,97.1 L468.8,97.7 L469.3,96.7 L469.7,97.7 L470.1,98.2 L470.6,95.3 L471.0,93.3 L471.5,91.1 L471.9,98.4 L472.3,98.7 L472.8,94.4 L473.2,95.3 L473.6,95.4 L474.1,94.6 L474.5,97.4 L474.9,95.6 L475.4,97.0 L475.8,97.8 L476.2,96.1 L476.7,91.9 L477.1,94.7 L477.5,95.5 L478.0,93.6 L478.4,95.8 L478.8,96.1 L479.3,95.7 L479.7,96.0 L480.1,94.1 L480.6,91.6 L481.0,93.9 L481.4,95.4 L481.9,95.9 L482.3,92.4 L482.7,93.1 L483.2,96.7 L483.6,97.3 L484.0,97.5 L484.5,99.0 L484.9,96.9 L485.3,94.0 L485.8,96.5 L486.2,96.4 L486.6,97.1 L487.1,96.2 L487.5,97.4 L487.9,96.1 L488.4,95.9 L488.8,96.7 L489.2,96.2 L489.7,98.2 L490.1,97.3 L490.5,97.8 L491.0,92.7 L491.4,91.3 L491.8,91.7 L492.3,97.5 L492.7,96.0 L493.1,94.1 L493.6,95.9 L494.0,97.3 L494.4,99.8 L494.9,100.5 L495.3,98.7 L495.7,98.0 L496.2,94.8 L496.6,96.6 L497.0,100.0 L497.5,95.3 L497.9,95.6 L498.3,98.1 L498.8,96.0 L499.2,95.4 L499.6,97.8 L500.1,94.2 L500.5,92.8 L500.9,97.1 L501.4,97.1 L501.8,97.5 L502.3,92.8 L502.7,93.9 L503.1,99.8 L503.6,96.7 L504.0,97.1 L504.4,99.2 L504.9,95.4 L505.3,97.1 L505.7,98.7 L506.2,97.0 L506.6,96.2 L507.0,95.8 L507.5,96.5 L507.9,99.7 L508.3,97.5 L508.8,97.2 L509.2,98.0 L509.6,97.6 L510.1,97.4 L510.5,99.3 L510.9,98.8 L511.4,97.0 L511.8,101.0 L512.2,99.4 L512.7,99.2 L513.1,98.2 L513.5,98.8 L514.0,99.6 L514.4,99.1 L514.8,98.4 L515.3,99.5 L515.7,97.1 L516.1,97.6 L516.6,98.4 L517.0,97.3 L517.0,121.8 L516.6,120.1 L516.1,120.3 L515.7,119.4 L515.3,120.3 L514.8,120.1 L514.4,120.3 L514.0,119.3 L513.5,120.3 L513.1,120.1 L512.7,120.5 L512.2,121.6 L511.8,121.6 L511.4,119.8 L510.9,120.9 L510.5,121.9 L510.1,118.2 L509.6,121.8 L509.2,118.6 L508.8,117.5 L508.3,119.0 L507.9,120.1 L507.5,120.3 L507.0,117.4 L506.6,119.0 L506.2,121.3 L505.7,118.6 L505.3,120.7 L504.9,119.0 L504.4,118.8 L504.0,119.9 L503.6,118.7 L503.1,120.3 L502.7,121.7 L502.3,117.2 L501.8,118.2 L501.4,119.1 L500.9,117.5 L500.5,115.5 L500.1,119.6 L499.6,120.5 L499.2,118.6 L498.8,120.7 L498.3,118.1 L497.9,117.7 L497.5,120.3 L497.0,121.4 L496.6,117.5 L496.2,117.0 L495.7,120.6 L495.3,119.2 L494.9,120.9 L494.4,123.7 L494.0,119.1 L493.6,121.6 L493.1,116.7 L492.7,119.1 L492.3,121.0 L491.8,115.8 L491.4,114.5 L491.0,116.4 L490.5,119.6 L490.1,118.2 L489.7,117.7 L489.2,119.3 L488.8,117.7 L488.4,117.2 L487.9,117.9 L487.5,120.0 L487.1,117.8 L486.6,117.0 L486.2,118.1 L485.8,120.8 L485.3,115.6 L484.9,119.7 L484.5,120.2 L484.0,118.5 L483.6,121.2 L483.2,117.8 L482.7,116.1 L482.3,115.3 L481.9,115.9 L481.4,118.5 L481.0,118.6 L480.6,116.0 L480.1,115.2 L479.7,117.1 L479.3,117.5 L478.8,118.5 L478.4,115.3 L478.0,118.1 L477.5,117.4 L477.1,115.4 L476.7,116.1 L476.2,117.9 L475.8,118.9 L475.4,118.9 L474.9,117.2 L474.5,118.2 L474.1,118.3 L473.6,119.3 L473.2,117.2 L472.8,116.7 L472.3,118.8 L471.9,119.8 L471.5,115.9 L471.0,117.1 L470.6,118.1 L470.1,118.4 L469.7,117.6 L469.3,117.3 L468.8,118.6 L468.4,117.4 L468.0,118.3 L467.5,119.0 L467.1,117.7 L466.7,118.0 L466.2,117.6 L465.8,116.9 L465.4,115.5 L464.9,115.2 L464.5,116.4 L464.1,119.5 L463.6,119.4 L463.2,118.2 L462.8,117.1 L462.3,117.7 L461.9,119.8 L461.5,117.5 L461.0,115.2 L460.6,120.4 L460.2,122.4 L459.7,119.1 L459.3,115.0 L458.9,115.2 L458.4,114.7 L458.0,117.0 L457.6,117.6 L457.1,120.7 L456.7,117.9 L456.3,116.3 L455.8,116.8 L455.4,114.9 L455.0,115.7 L454.5,122.6 L454.1,119.6 L453.7,113.3 L453.2,114.8 L452.8,113.1 L452.4,113.1 L451.9,115.2 L451.5,115.3 L451.1,114.3 L450.6,115.1 L450.2,114.6 L449.8,117.4 L449.3,113.6 L448.9,116.5 L448.5,115.9 L448.0,114.5 L447.6,113.3 L447.2,113.5 L446.7,115.8 L446.3,116.5 L445.9,118.7 L445.4,115.5 L445.0,114.4 L444.6,114.1 L444.1,114.9 L443.7,112.0 L443.3,113.9 L442.8,115.8 L442.4,112.9 L442.0,109.6 L441.5,110.2 L441.1,110.7 L440.7,112.1 L440.2,112.2 L439.8,113.0 L439.3,115.5 L438.9,111.9 L438.5,111.4 L438.0,114.9 L437.6,111.2 L437.2,112.8 L436.7,109.1 L436.3,111.0 L435.9,109.7 L435.4,110.9 L435.0,109.0 L434.6,107.1 L434.1,107.6 L433.7,109.4 L433.3,109.3 L432.8,111.0 L432.4,106.9 L432.0,107.1 L431.5,108.2 L431.1,108.1 L430.7,109.2 L430.2,108.0 L429.8,108.4 L429.4,107.1 L428.9,107.0 L428.5,109.6 L428.1,108.9 L427.6,111.0 L427.2,109.2 L426.8,111.4 L426.3,109.8 L425.9,105.2 L425.5,106.9 L425.0,108.8 L424.6,109.7 L424.2,108.2 L423.7,107.4 L423.3,107.0 L422.9,108.3 L422.4,107.1 L422.0,105.4 L421.6,107.8 L421.1,109.0 L420.7,108.1 L420.3,108.1 L419.8,108.9 L419.4,108.2 L419.0,112.1 L418.5,109.8 L418.1,109.5 L417.7,110.5 L417.2,109.0 L416.8,105.7 L416.4,108.1 L415.9,111.0 L415.5,109.5 L415.1,110.5 L414.6,109.6 L414.2,110.5 L413.8,108.2 L413.3,107.8 L412.9,108.9 L412.5,105.1 L412.0,105.0 L411.6,109.2 L411.2,112.0 L410.7,105.3 L410.3,103.3 L409.9,106.2 L409.4,105.2 L409.0,106.3 L408.6,104.6 L408.1,104.2 L407.7,105.5 L407.2,103.9 L406.8,104.3 L406.4,103.7 L405.9,104.6 L405.5,102.1 L405.1,105.7 L404.6,102.4 L404.2,99.7 L403.8,101.5 L403.3,100.6 L402.9,101.0 L402.5,97.6 L402.0,97.1 L401.6,98.3 L401.2,97.1 L400.7,97.5 L400.3,96.6 L399.9,96.3 L399.4,96.1 L399.0,92.2 L398.6,92.1 L398.1,98.1 L397.7,93.4 L397.3,92.7 L396.8,94.6 L396.4,96.0 L396.0,98.1 L395.5,98.1 L395.1,97.2 L394.7,96.5 L394.2,98.2 L393.8,98.4 L393.4,95.0 L392.9,99.6 L392.5,99.2 L392.1,100.0 L391.6,102.8 L391.2,99.8 L390.8,99.3 L390.3,99.0 L389.9,99.1 L389.5,99.0 L389.0,100.1 L388.6,100.7 L388.2,100.5 L387.7,102.2 L387.3,102.8 L386.9,102.0 L386.4,104.2 L386.0,103.6 L385.6,105.1 L385.1,104.1 L384.7,105.7 L384.3,104.0 L383.8,105.8 L383.4,101.4 L383.0,103.3 L382.5,105.8 L382.1,106.9 L381.7,106.8 L381.2,105.0 L380.8,103.3 L380.4,104.0 L379.9,103.3 L379.5,104.3 L379.1,105.6 L378.6,106.2 L378.2,107.0 L377.8,110.2 L377.3,111.5 L376.9,112.0 L376.4,111.5 L376.0,111.8 L375.6,117.1 L375.1,114.2 L374.7,116.9 L374.3,116.7 L373.8,118.1 L373.4,121.4 L373.0,119.7 L372.5,124.1 L372.1,121.2 L371.7,124.4 L371.2,122.7 L370.8,124.3 L370.4,123.1 L369.9,127.4 L369.5,126.7 L369.1,127.6 L368.6,128.5 L368.2,133.9 L367.8,132.0 L367.3,136.0 L366.9,137.8 L366.5,134.6 L366.0,134.9 L365.6,135.0 L365.2,136.3 L364.7,138.0 L364.3,136.4 L363.9,135.5 L363.4,138.3 L363.0,137.6 L362.6,137.2 L362.1,139.7 L361.7,143.1 L361.3,137.7 L360.8,138.1 L360.4,140.5 L360.0,141.5 L359.5,141.4 L359.1,140.8 L358.7,141.2 L358.2,139.1 L357.8,138.8 L357.4,139.2 L356.9,140.7 L356.5,141.0 L356.1,140.1 L355.6,140.9 L355.2,139.6 L354.8,140.8 L354.3,140.3 L353.9,138.6 L353.5,141.0 L353.0,141.7 L352.6,142.1 L352.2,143.1 L351.7,140.5 L351.3,145.1 L350.9,139.0 L350.4,141.4 L350.0,140.7 L349.6,143.4 L349.1,141.8 L348.7,141.3 L348.3,141.9 L347.8,140.4 L347.4,139.0 L347.0,139.9 L346.5,140.9 L346.1,141.8 L345.6,138.9 L345.2,138.1 L344.8,139.8 L344.3,138.2 L343.9,135.6 L343.5,140.4 L343.0,140.4 L342.6,139.4 L342.2,140.8 L341.7,138.2 L341.3,138.2 L340.9,140.3 L340.4,141.2 L340.0,140.5 L339.6,139.6 L339.1,138.3 L338.7,138.4 L338.3,136.0 L337.8,138.0 L337.4,135.8 L337.0,132.9 L336.5,136.3 L336.1,137.8 L335.7,134.8 L335.2,137.9 L334.8,138.1 L334.4,135.8 L333.9,134.0 L333.5,130.7 L333.1,130.4 L332.6,136.1 L332.2,129.6 L331.8,130.0 L331.3,133.8 L330.9,130.4 L330.5,127.4 L330.0,128.1 L329.6,126.6 L329.2,128.9 L328.7,130.4 L328.3,127.5 L327.9,124.0 L327.4,121.7 L327.0,121.1 L326.6,121.6 L326.1,124.1 L325.7,119.8 L325.3,118.4 L324.8,120.2 L324.4,120.6 L324.0,121.9 L323.5,122.8 L323.1,119.4 L322.7,119.5 L322.2,122.8 L321.8,120.1 L321.4,120.9 L320.9,119.0 L320.5,117.4 L320.1,120.1 L319.6,114.9 L319.2,117.4 L318.8,115.2 L318.3,117.1 L317.9,118.0 L317.5,114.8 L317.0,114.3 L316.6,111.6 L316.2,112.5 L315.7,108.9 L315.3,112.9 L314.8,113.4 L314.4,108.8 L314.0,109.4 L313.5,109.0 L313.1,107.0 L312.7,108.8 L312.2,107.4 L311.8,104.3 L311.4,103.9 L310.9,106.3 L310.5,109.4 L310.1,104.0 L309.6,104.1 L309.2,103.1 L308.8,102.9 L308.3,100.2 L307.9,100.0 L307.5,102.8 L307.0,98.4 L306.6,97.7 L306.2,97.7 L305.7,96.9 L305.3,97.8 L304.9,98.8 L304.4,99.1 L304.0,100.8 L303.6,102.5 L303.1,110.8 L302.7,119.0 L302.3,127.3 L301.8,140.7 L301.4,154.2 L301.0,165.9 L300.5,175.9 L300.1,185.9 L299.7,187.0 L299.2,188.1 L298.8,189.2 L298.4,190.4 L297.9,191.1 L297.5,191.1 L297.1,191.1 L296.6,191.1 L296.2,191.1 L295.8,191.1 L295.3,191.1 L294.9,191.1 L294.5,191.1 L294.0,191.1 L293.6,191.1 L293.2,191.1 L292.7,191.1 L292.3,191.1 L291.9,191.1 L291.4,191.1 L291.0,191.1 L290.6,191.1 L290.1,191.1 L289.7,191.1 L289.3,191.1 L288.8,191.1 L288.4,191.1 L288.0,191.1 L287.5,191.1 L287.1,191.1 L286.7,191.1 L286.2,191.1 L285.8,191.1 L285.4,191.1 L284.9,191.1 L284.5,191.1 L284.0,191.1 L283.6,191.1 L283.2,191.1 L282.7,191.1 L282.3,191.1 L281.9,191.1 L281.4,191.1 L281.0,191.1 L280.6,191.1 L280.1,191.1 L279.7,191.1 L279.3,191.1 L278.8,191.1 L278.4,191.1Z" fill="#c3d6c6" stroke="none"/>
<path d="M278.4,189.3 L278.8,189.3 L279.3,189.3 L279.7,189.3 L280.1,189.3 L280.6,189.3 L281.0,189.2 L281.4,189.2 L281.9,189.2 L282.3,189.2 L282.7,189.2 L283.2,189.2 L283.6,189.2 L284.0,189.1 L284.5,189.1 L284.9,189.1 L285.4,189.1 L285.8,189.1 L286.2,189.1 L286.7,189.1 L287.1,189.0 L287.5,189.0 L288.0,189.0 L288.4,189.0 L288.8,189.0 L289.3,189.0 L289.7,189.0 L290.1,188.9 L290.6,188.9 L291.0,188.9 L291.4,188.9 L291.9,188.6 L292.3,188.4 L292.7,188.1 L293.2,187.9 L293.6,187.6 L294.0,187.3 L294.5,187.1 L294.9,186.8 L295.3,186.6 L295.8,186.3 L296.2,184.8 L296.6,183.3 L297.1,181.9 L297.5,180.4 L297.9,178.9 L298.4,173.5 L298.8,168.0 L299.2,162.5 L299.7,154.0 L300.1,142.5 L300.5,130.9 L301.0,120.1 L301.4,110.2 L301.8,100.3 L302.3,90.4 L302.7,86.3 L303.1,82.1 L303.6,78.0 L304.0,73.9 L304.4,75.0 L304.9,76.2 L305.3,77.4 L305.7,78.5 L306.2,79.7 L306.6,80.8 L307.0,81.9 L307.5,83.5 L307.9,84.6 L308.3,85.8 L308.8,86.8 L309.2,85.1 L309.6,90.0 L310.1,91.1 L310.5,91.2 L310.9,92.7 L311.4,94.3 L311.8,95.5 L312.2,97.2 L312.7,99.2 L313.1,99.7 L313.5,100.2 L314.0,101.6 L314.4,102.9 L314.8,104.4 L315.3,104.8 L315.7,105.7 L316.2,107.3 L316.6,107.4 L317.0,109.6 L317.5,110.1 L317.9,111.0 L318.3,112.0 L318.8,113.0 L319.2,113.2 L319.6,113.8 L320.1,115.0 L320.5,115.0 L320.9,115.8 L321.4,117.5 L321.8,118.4 L322.2,118.8 L322.7,118.7 L323.1,119.3 L323.5,120.6 L324.0,121.2 L324.4,121.4 L324.8,122.8 L325.3,123.6 L325.7,124.0 L326.1,125.2 L326.6,127.0 L327.0,128.0 L327.4,127.7 L327.9,128.7 L328.3,129.3 L328.7,130.0 L329.2,131.9 L329.6,132.6 L330.0,133.1 L330.5,133.9 L330.9,134.9 L331.3,135.6 L331.8,136.6 L332.2,137.5 L332.6,138.2 L333.1,139.1 L333.5,139.2 L333.9,139.7 L334.4,140.4 L334.8,140.8 L335.2,141.1 L335.7,141.3 L336.1,141.7 L336.5,142.2 L337.0,142.9 L337.4,143.9 L337.8,142.6 L338.3,145.5 L338.7,145.8 L339.1,146.7 L339.6,146.2 L340.0,146.4 L340.4,147.0 L340.9,146.5 L341.3,146.9 L341.7,146.4 L342.2,146.6 L342.6,147.8 L343.0,147.5 L343.5,147.7 L343.9,148.9 L344.3,149.1 L344.8,149.1 L345.2,149.0 L345.6,148.9 L346.1,149.6 L346.5,149.8 L347.0,148.8 L347.4,149.4 L347.8,150.3 L348.3,150.1 L348.7,149.9 L349.1,150.5 L349.6,151.3 L350.0,151.7 L350.4,151.2 L350.9,150.8 L351.3,152.1 L351.7,153.2 L352.2,153.1 L352.6,153.1 L353.0,150.5 L353.5,152.5 L353.9,152.2 L354.3,152.2 L354.8,152.9 L355.2,152.9 L355.6,153.4 L356.1,154.3 L356.5,154.2 L356.9,153.6 L357.4,154.3 L357.8,154.4 L358.2,153.8 L358.7,154.4 L359.1,154.7 L359.5,154.8 L360.0,155.0 L360.4,154.8 L360.8,155.2 L361.3,155.3 L361.7,154.9 L362.1,155.1 L362.6,156.1 L363.0,157.1 L363.4,156.4 L363.9,156.2 L364.3,156.8 L364.7,157.0 L365.2,157.3 L365.6,157.3 L366.0,157.3 L366.5,157.5 L366.9,157.3 L367.3,157.6 L367.8,157.5 L368.2,158.0 L368.6,157.7 L369.1,157.6 L369.5,158.3 L369.9,157.8 L370.4,158.1 L370.8,158.3 L371.2,158.5 L371.7,159.4 L372.1,159.4 L372.5,158.7 L373.0,157.1 L373.4,160.1 L373.8,160.3 L374.3,159.8 L374.7,159.6 L375.1,159.4 L375.6,159.3 L376.0,159.5 L376.4,160.3 L376.9,159.8 L377.3,159.1 L377.8,159.6 L378.2,159.7 L378.6,160.0 L379.1,159.9 L379.5,159.3 L379.9,158.9 L380.4,159.2 L380.8,159.0 L381.2,159.3 L381.7,158.2 L382.1,159.8 L382.5,159.6 L383.0,159.4 L383.4,159.5 L383.8,156.7 L384.3,159.9 L384.7,159.8 L385.1,159.1 L385.6,159.8 L386.0,160.5 L386.4,160.5 L386.9,160.6 L387.3,160.5 L387.7,159.9 L388.2,159.4 L388.6,159.4 L389.0,159.7 L389.5,159.2 L389.9,158.9 L390.3,159.4 L390.8,159.8 L391.2,160.2 L391.6,160.8 L392.1,160.5 L392.5,160.1 L392.9,160.5 L393.4,160.6 L393.8,160.0 L394.2,160.0 L394.7,160.3 L395.1,160.5 L395.5,160.0 L396.0,159.2 L396.4,159.6 L396.8,160.2 L397.3,159.8 L397.7,159.6 L398.1,160.3 L398.6,160.9 L399.0,160.9 L399.4,159.8 L399.9,159.8 L400.3,159.6 L400.7,159.5 L401.2,160.5 L401.6,160.1 L402.0,160.1 L402.5,160.4 L402.9,160.7 L403.3,161.2 L403.8,161.1 L404.2,160.7 L404.6,160.7 L405.1,161.4 L405.5,161.0 L405.9,160.5 L406.4,160.7 L406.8,160.9 L407.2,161.5 L407.7,160.9 L408.1,160.3 L408.6,160.7 L409.0,160.2 L409.4,160.1 L409.9,160.5 L410.3,161.0 L410.7,161.0 L411.2,160.8 L411.6,160.8 L412.0,161.3 L412.5,161.5 L412.9,161.3 L413.3,161.3 L413.8,161.5 L414.2,161.3 L414.6,161.4 L415.1,161.7 L415.5,161.8 L415.9,162.3 L416.4,162.7 L416.8,162.7 L417.2,162.3 L417.7,161.9 L418.1,162.2 L418.5,162.9 L419.0,163.1 L419.4,162.6 L419.8,162.5 L420.3,163.2 L420.7,163.0 L421.1,163.4 L421.6,163.7 L422.0,163.4 L422.4,163.5 L422.9,164.0 L423.3,163.7 L423.7,162.9 L424.2,163.7 L424.6,164.3 L425.0,163.7 L425.5,163.2 L425.9,163.6 L426.3,164.7 L426.8,164.6 L427.2,163.8 L427.6,163.9 L428.1,164.5 L428.5,164.0 L428.9,164.9 L429.4,166.2 L429.8,165.3 L430.2,164.5 L430.7,165.4 L431.1,165.6 L431.5,165.3 L432.0,165.5 L432.4,165.9 L432.8,166.3 L433.3,166.4 L433.7,166.4 L434.1,166.3 L434.6,166.0 L435.0,165.8 L435.4,167.0 L435.9,167.2 L436.3,166.4 L436.7,166.6 L437.2,166.8 L437.6,167.1 L438.0,167.3 L438.5,167.7 L438.9,167.9 L439.3,168.1 L439.8,168.1 L440.2,168.3 L440.7,169.5 L441.1,169.0 L441.5,168.4 L442.0,168.6 L442.4,168.4 L442.8,168.4 L443.3,168.9 L443.7,168.8 L444.1,168.4 L444.6,168.4 L445.0,167.9 L445.4,168.3 L445.9,168.9 L446.3,168.5 L446.7,168.7 L447.2,169.3 L447.6,169.3 L448.0,168.6 L448.5,168.5 L448.9,168.7 L449.3,168.9 L449.8,168.9 L450.2,168.9 L450.6,169.4 L451.1,169.1 L451.5,168.9 L451.9,168.5 L452.4,169.0 L452.8,169.3 L453.2,168.3 L453.7,168.1 L454.1,168.7 L454.5,169.4 L455.0,169.4 L455.4,169.1 L455.8,168.9 L456.3,168.9 L456.7,168.8 L457.1,169.3 L457.6,169.8 L458.0,169.9 L458.4,170.0 L458.9,169.7 L459.3,169.2 L459.7,168.4 L460.2,168.3 L460.6,169.1 L461.0,168.9 L461.5,169.1 L461.9,169.5 L462.3,168.9 L462.8,168.8 L463.2,169.0 L463.6,169.4 L464.1,169.9 L464.5,169.9 L464.9,169.7 L465.4,169.4 L465.8,169.3 L466.2,169.4 L466.7,169.9 L467.1,169.7 L467.5,169.5 L468.0,170.3 L468.4,170.5 L468.8,170.2 L469.3,169.5 L469.7,169.1 L470.1,169.8 L470.6,170.0 L471.0,169.7 L471.5,170.2 L471.9,170.5 L472.3,170.7 L472.8,170.7 L473.2,170.9 L473.6,170.9 L474.1,170.4 L474.5,170.4 L474.9,170.4 L475.4,169.8 L475.8,169.7 L476.2,170.0 L476.7,169.7 L477.1,169.5 L477.5,169.6 L478.0,170.1 L478.4,170.7 L478.8,170.8 L479.3,170.6 L479.7,170.4 L480.1,170.3 L480.6,170.0 L481.0,170.0 L481.4,169.8 L481.9,169.5 L482.3,170.2 L482.7,170.3 L483.2,171.1 L483.6,171.0 L484.0,170.0 L484.5,168.8 L484.9,171.0 L485.3,170.4 L485.8,169.9 L486.2,170.8 L486.6,170.4 L487.1,170.5 L487.5,171.1 L487.9,170.9 L488.4,170.9 L488.8,170.9 L489.2,170.6 L489.7,170.5 L490.1,171.0 L490.5,171.0 L491.0,170.5 L491.4,170.3 L491.8,170.7 L492.3,170.7 L492.7,170.3 L493.1,170.7 L493.6,171.2 L494.0,171.3 L494.4,170.9 L494.9,171.3 L495.3,170.2 L495.7,172.0 L496.2,171.2 L496.6,170.9 L497.0,171.1 L497.5,171.1 L497.9,171.4 L498.3,171.4 L498.8,171.6 L499.2,171.3 L499.6,171.2 L500.1,171.5 L500.5,172.0 L500.9,172.1 L501.4,171.9 L501.8,172.1 L502.3,171.6 L502.7,171.9 L503.1,172.3 L503.6,171.8 L504.0,171.4 L504.4,171.8 L504.9,172.1 L505.3,171.8 L505.7,172.3 L506.2,173.1 L506.6,173.4 L507.0,172.6 L507.5,172.0 L507.9,172.6 L508.3,172.8 L508.8,172.6 L509.2,172.5 L509.6,172.4 L510.1,171.7 L510.5,171.9 L510.9,172.6 L511.4,172.6 L511.8,172.9 L512.2,173.0 L512.7,172.9 L513.1,172.8 L513.5,172.7 L514.0,172.5 L514.4,172.9 L514.8,172.4 L515.3,172.5 L515.7,173.0 L516.1,172.0 L516.6,172.4 L517.0,172.7" stroke="#6e2078" stroke-width="1.6" fill="none" stroke-opacity="1" stroke-linejoin="round" />
<path d="M278.4,190.2 L278.8,190.2 L279.3,190.2 L279.7,190.2 L280.1,190.2 L280.6,190.1 L281.0,190.1 L281.4,190.1 L281.9,190.1 L282.3,190.1 L282.7,190.1 L283.2,190.1 L283.6,190.1 L284.0,190.0 L284.5,190.0 L284.9,190.0 L285.4,190.0 L285.8,190.0 L286.2,190.0 L286.7,190.0 L287.1,190.0 L287.5,189.9 L288.0,189.9 L288.4,189.9 L288.8,189.9 L289.3,189.9 L289.7,189.9 L290.1,189.9 L290.6,189.9 L291.0,189.8 L291.4,189.8 L291.9,189.8 L292.3,189.8 L292.7,189.8 L293.2,189.8 L293.6,189.8 L294.0,189.6 L294.5,189.4 L294.9,189.2 L295.3,189.1 L295.8,188.9 L296.2,188.7 L296.6,188.6 L297.1,188.4 L297.5,188.2 L297.9,188.0 L298.4,186.7 L298.8,185.4 L299.2,184.1 L299.7,182.8 L300.1,181.5 L300.5,171.1 L301.0,160.7 L301.4,148.5 L301.8,134.6 L302.3,120.8 L302.7,112.1 L303.1,103.4 L303.6,94.7 L304.0,92.5 L304.4,90.4 L304.9,88.2 L305.3,86.0 L305.7,86.7 L306.2,87.3 L306.6,88.0 L307.0,88.5 L307.5,90.8 L307.9,89.9 L308.3,90.0 L308.8,91.7 L309.2,92.5 L309.6,93.8 L310.1,94.2 L310.5,96.1 L310.9,96.7 L311.4,93.6 L311.8,93.6 L312.2,94.7 L312.7,96.5 L313.1,97.4 L313.5,97.8 L314.0,98.9 L314.4,99.1 L314.8,102.6 L315.3,102.2 L315.7,99.1 L316.2,99.7 L316.6,101.5 L317.0,102.1 L317.5,101.3 L317.9,104.5 L318.3,107.1 L318.8,105.5 L319.2,105.0 L319.6,105.5 L320.1,106.0 L320.5,105.1 L320.9,106.8 L321.4,109.9 L321.8,109.5 L322.2,110.0 L322.7,110.2 L323.1,109.4 L323.5,110.6 L324.0,110.8 L324.4,108.8 L324.8,108.8 L325.3,108.8 L325.7,109.4 L326.1,111.8 L326.6,111.9 L327.0,111.8 L327.4,112.3 L327.9,113.8 L328.3,118.1 L328.7,119.6 L329.2,118.1 L329.6,117.1 L330.0,118.1 L330.5,118.3 L330.9,119.7 L331.3,121.8 L331.8,120.3 L332.2,120.2 L332.6,121.5 L333.1,120.8 L333.5,120.4 L333.9,122.9 L334.4,124.3 L334.8,125.6 L335.2,126.3 L335.7,124.9 L336.1,127.0 L336.5,126.5 L337.0,123.6 L337.4,125.1 L337.8,126.6 L338.3,126.2 L338.7,127.7 L339.1,128.6 L339.6,128.2 L340.0,130.6 L340.4,131.8 L340.9,130.9 L341.3,129.2 L341.7,128.6 L342.2,128.7 L342.6,129.3 L343.0,131.4 L343.5,129.1 L343.9,125.5 L344.3,127.0 L344.8,129.8 L345.2,129.1 L345.6,129.9 L346.1,131.3 L346.5,131.6 L347.0,131.0 L347.4,129.5 L347.8,130.3 L348.3,131.2 L348.7,132.3 L349.1,132.5 L349.6,130.0 L350.0,129.6 L350.4,129.6 L350.9,130.1 L351.3,131.4 L351.7,131.0 L352.2,131.2 L352.6,130.2 L353.0,131.8 L353.5,131.9 L353.9,129.4 L354.3,130.0 L354.8,130.5 L355.2,130.6 L355.6,129.9 L356.1,129.5 L356.5,130.8 L356.9,130.7 L357.4,128.9 L357.8,128.6 L358.2,129.3 L358.7,129.4 L359.1,129.8 L359.5,130.3 L360.0,131.4 L360.4,131.1 L360.8,128.3 L361.3,128.4 L361.7,130.1 L362.1,128.8 L362.6,127.7 L363.0,128.3 L363.4,127.5 L363.9,126.5 L364.3,126.4 L364.7,127.3 L365.2,125.1 L365.6,123.8 L366.0,125.6 L366.5,124.9 L366.9,122.6 L367.3,123.6 L367.8,122.3 L368.2,120.0 L368.6,118.3 L369.1,116.4 L369.5,117.2 L369.9,115.6 L370.4,113.2 L370.8,113.5 L371.2,113.4 L371.7,112.4 L372.1,110.6 L372.5,110.3 L373.0,110.2 L373.4,109.7 L373.8,107.9 L374.3,106.9 L374.7,107.3 L375.1,104.2 L375.6,102.7 L376.0,102.5 L376.4,102.2 L376.9,101.4 L377.3,101.3 L377.8,99.8 L378.2,96.6 L378.6,95.4 L379.1,95.3 L379.5,94.4 L379.9,93.7 L380.4,93.8 L380.8,93.7 L381.2,94.3 L381.7,95.1 L382.1,97.4 L382.5,95.9 L383.0,93.4 L383.4,92.0 L383.8,93.5 L384.3,94.3 L384.7,93.2 L385.1,93.8 L385.6,93.5 L386.0,93.0 L386.4,92.0 L386.9,91.3 L387.3,90.9 L387.7,90.9 L388.2,89.6 L388.6,89.2 L389.0,90.2 L389.5,89.2 L389.9,88.9 L390.3,89.4 L390.8,89.2 L391.2,89.9 L391.6,92.0 L392.1,90.5 L392.5,88.5 L392.9,88.1 L393.4,85.1 L393.8,86.7 L394.2,87.2 L394.7,85.8 L395.1,85.9 L395.5,86.6 L396.0,86.7 L396.4,85.1 L396.8,83.5 L397.3,81.4 L397.7,82.1 L398.1,84.1 L398.6,82.0 L399.0,81.5 L399.4,84.2 L399.9,84.7 L400.3,84.8 L400.7,84.9 L401.2,86.5 L401.6,87.9 L402.0,86.3 L402.5,85.4 L402.9,87.3 L403.3,89.0 L403.8,90.0 L404.2,89.7 L404.6,90.3 L405.1,91.4 L405.5,91.7 L405.9,92.8 L406.4,92.7 L406.8,92.5 L407.2,93.4 L407.7,93.8 L408.1,93.6 L408.6,94.3 L409.0,95.3 L409.4,95.4 L409.9,94.5 L410.3,93.7 L410.7,94.5 L411.2,96.1 L411.6,96.7 L412.0,95.1 L412.5,94.6 L412.9,97.3 L413.3,98.2 L413.8,97.8 L414.2,98.1 L414.6,99.2 L415.1,98.8 L415.5,98.5 L415.9,99.1 L416.4,96.4 L416.8,95.0 L417.2,97.2 L417.7,99.0 L418.1,99.1 L418.5,99.8 L419.0,99.9 L419.4,98.4 L419.8,98.5 L420.3,97.6 L420.7,96.7 L421.1,97.8 L421.6,96.2 L422.0,95.1 L422.4,96.6 L422.9,95.5 L423.3,94.4 L423.7,96.7 L424.2,97.6 L424.6,97.4 L425.0,99.0 L425.5,96.9 L425.9,94.2 L426.3,97.1 L426.8,98.0 L427.2,98.3 L427.6,97.8 L428.1,96.4 L428.5,97.6 L428.9,96.4 L429.4,96.1 L429.8,97.5 L430.2,96.7 L430.7,96.7 L431.1,96.8 L431.5,96.7 L432.0,96.9 L432.4,96.5 L432.8,96.7 L433.3,98.4 L433.7,97.6 L434.1,97.0 L434.6,97.3 L435.0,97.9 L435.4,100.0 L435.9,99.8 L436.3,98.7 L436.7,99.1 L437.2,99.9 L437.6,101.2 L438.0,102.2 L438.5,100.7 L438.9,100.6 L439.3,102.7 L439.8,102.3 L440.2,101.7 L440.7,100.5 L441.1,100.0 L441.5,99.9 L442.0,99.3 L442.4,101.2 L442.8,102.4 L443.3,103.1 L443.7,102.4 L444.1,104.3 L444.6,103.9 L445.0,103.3 L445.4,104.5 L445.9,106.1 L446.3,105.5 L446.7,102.4 L447.2,102.7 L447.6,103.2 L448.0,103.9 L448.5,104.2 L448.9,102.8 L449.3,103.5 L449.8,104.2 L450.2,103.3 L450.6,104.1 L451.1,104.6 L451.5,104.3 L451.9,105.1 L452.4,103.2 L452.8,103.2 L453.2,104.0 L453.7,102.7 L454.1,106.3 L454.5,107.2 L455.0,104.4 L455.4,104.0 L455.8,105.9 L456.3,106.5 L456.7,106.9 L457.1,108.2 L457.6,107.5 L458.0,106.4 L458.4,104.8 L458.9,104.7 L459.3,105.2 L459.7,106.6 L460.2,108.7 L460.6,108.0 L461.0,105.3 L461.5,106.1 L461.9,109.2 L462.3,108.0 L462.8,105.5 L463.2,106.9 L463.6,108.2 L464.1,108.0 L464.5,106.4 L464.9,104.5 L465.4,105.6 L465.8,106.3 L466.2,106.8 L466.7,106.6 L467.1,107.0 L467.5,107.9 L468.0,108.3 L468.4,107.5 L468.8,107.2 L469.3,106.4 L469.7,107.6 L470.1,107.9 L470.6,105.5 L471.0,104.9 L471.5,105.6 L471.9,108.1 L472.3,108.8 L472.8,106.3 L473.2,105.7 L473.6,107.2 L474.1,107.4 L474.5,107.1 L474.9,106.8 L475.4,108.2 L475.8,108.5 L476.2,106.1 L476.7,104.2 L477.1,105.3 L477.5,107.1 L478.0,105.7 L478.4,105.4 L478.8,107.8 L479.3,107.7 L479.7,106.0 L480.1,104.4 L480.6,105.5 L481.0,106.5 L481.4,106.3 L481.9,105.8 L482.3,105.2 L482.7,106.0 L483.2,107.2 L483.6,107.7 L484.0,107.1 L484.5,110.2 L484.9,109.1 L485.3,105.7 L485.8,106.7 L486.2,107.0 L486.6,106.8 L487.1,106.3 L487.5,107.5 L487.9,107.6 L488.4,106.3 L488.8,106.4 L489.2,107.9 L489.7,108.0 L490.1,107.8 L490.5,107.4 L491.0,105.0 L491.4,104.5 L491.8,106.0 L492.3,107.4 L492.7,107.7 L493.1,106.9 L493.6,107.1 L494.0,108.0 L494.4,109.7 L494.9,110.1 L495.3,108.5 L495.7,108.3 L496.2,106.5 L496.6,107.3 L497.0,109.8 L497.5,108.0 L497.9,107.8 L498.3,108.5 L498.8,107.5 L499.2,107.4 L499.6,108.4 L500.1,107.6 L500.5,105.5 L500.9,107.4 L501.4,109.1 L501.8,107.3 L502.3,107.3 L502.7,109.2 L503.1,109.5 L503.6,107.8 L504.0,108.4 L504.4,109.0 L504.9,107.8 L505.3,108.7 L505.7,108.6 L506.2,107.4 L506.6,107.1 L507.0,106.9 L507.5,109.3 L507.9,109.4 L508.3,107.5 L508.8,107.5 L509.2,108.9 L509.6,109.1 L510.1,108.0 L510.5,110.0 L510.9,109.2 L511.4,108.9 L511.8,111.1 L512.2,110.1 L512.7,109.8 L513.1,109.9 L513.5,109.6 L514.0,109.8 L514.4,108.8 L514.8,109.2 L515.3,109.2 L515.7,108.5 L516.1,110.1 L516.6,110.2 L517.0,108.9" stroke="#12693a" stroke-width="1.6" fill="none" stroke-opacity="1" stroke-linejoin="round" />
<line x1="462.0" y1="134.7" x2="481.1" y2="134.7" stroke="#772885" stroke-width="1.5" />
<text x="483.2" y="137.0" font-size="7.8" text-anchor="start" fill="#772885" font-weight="bold" >Early</text>
<line x1="462.0" y1="148.0" x2="481.1" y2="148.0" stroke="#17703a" stroke-width="1.5" />
<text x="483.2" y="150.2" font-size="7.8" text-anchor="start" fill="#17703a" font-weight="bold" >Late</text>
<rect x="291.1" y="23.4" width="119.8" height="34.6" fill="none" stroke="#f08888" stroke-width="0.9" stroke-dasharray="1,1.6"/>
<rect x="294.7" y="28.3" width="34.1" height="16.3" fill="none" stroke="#2a7a48" stroke-width="0.8" stroke-dasharray="1,1.1"/>
<rect x="372.2" y="28.3" width="34.6" height="16.3" fill="none" stroke="#6a3a80" stroke-width="0.8" stroke-dasharray="1,1.1"/>
<text x="311.5" y="34.0" font-size="5.0" text-anchor="middle" fill="#2a6a40" font-weight="bold" >early training</text>
<text x="390.0" y="33.8" font-size="5.0" text-anchor="middle" fill="#5a3070" font-weight="bold" >late training</text>
<rect x="301.9" y="36.3" width="2.2" height="7.4" fill="none" stroke="#98a4dc" stroke-width="0.6" stroke-dasharray="0.8,0.8"/>
<rect x="306.2" y="36.3" width="2.2" height="7.4" fill="none" stroke="#98a4dc" stroke-width="0.6" stroke-dasharray="0.8,0.8"/>
<rect x="310.6" y="36.3" width="2.2" height="7.4" fill="none" stroke="#98a4dc" stroke-width="0.6" stroke-dasharray="0.8,0.8"/>
<rect x="314.9" y="36.3" width="2.2" height="7.4" fill="none" stroke="#98a4dc" stroke-width="0.6" stroke-dasharray="0.8,0.8"/>
<rect x="319.3" y="36.3" width="2.2" height="7.4" fill="none" stroke="#98a4dc" stroke-width="0.6" stroke-dasharray="0.8,0.8"/>
<rect x="379.7" y="36.3" width="2.2" height="7.4" fill="none" stroke="#98a4dc" stroke-width="0.6" stroke-dasharray="0.8,0.8"/>
<rect x="384.1" y="36.3" width="2.2" height="7.4" fill="none" stroke="#98a4dc" stroke-width="0.6" stroke-dasharray="0.8,0.8"/>
<rect x="388.4" y="36.3" width="2.2" height="7.4" fill="none" stroke="#98a4dc" stroke-width="0.6" stroke-dasharray="0.8,0.8"/>
<rect x="392.8" y="36.3" width="2.2" height="7.4" fill="none" stroke="#98a4dc" stroke-width="0.6" stroke-dasharray="0.8,0.8"/>
<rect x="397.1" y="36.3" width="2.2" height="7.4" fill="none" stroke="#98a4dc" stroke-width="0.6" stroke-dasharray="0.8,0.8"/>
<rect x="299.5" y="47.6" width="2.2" height="6.7" fill="none" stroke="#f2a090" stroke-width="0.6" stroke-dasharray="0.8,0.8"/>
<rect x="308.2" y="47.6" width="2.2" height="6.7" fill="none" stroke="#f2a090" stroke-width="0.6" stroke-dasharray="0.8,0.8"/>
<rect x="316.9" y="47.6" width="2.2" height="6.7" fill="none" stroke="#f2a090" stroke-width="0.6" stroke-dasharray="0.8,0.8"/>
<rect x="325.7" y="47.6" width="2.2" height="6.7" fill="none" stroke="#f2a090" stroke-width="0.6" stroke-dasharray="0.8,0.8"/>
<rect x="334.4" y="47.6" width="2.2" height="6.7" fill="none" stroke="#f2a090" stroke-width="0.6" stroke-dasharray="0.8,0.8"/>
<rect x="343.1" y="47.6" width="2.2" height="6.7" fill="none" stroke="#f2a090" stroke-width="0.6" stroke-dasharray="0.8,0.8"/>
<rect x="351.8" y="47.6" width="2.2" height="6.7" fill="none" stroke="#f2a090" stroke-width="0.6" stroke-dasharray="0.8,0.8"/>
<rect x="360.5" y="47.6" width="2.2" height="6.7" fill="none" stroke="#f2a090" stroke-width="0.6" stroke-dasharray="0.8,0.8"/>
<rect x="369.3" y="47.6" width="2.2" height="6.7" fill="none" stroke="#f2a090" stroke-width="0.6" stroke-dasharray="0.8,0.8"/>
<rect x="378.0" y="47.6" width="2.2" height="6.7" fill="none" stroke="#f2a090" stroke-width="0.6" stroke-dasharray="0.8,0.8"/>
<rect x="386.7" y="47.6" width="2.2" height="6.7" fill="none" stroke="#f2a090" stroke-width="0.6" stroke-dasharray="0.8,0.8"/>
<rect x="395.4" y="47.6" width="2.2" height="6.7" fill="none" stroke="#f2a090" stroke-width="0.6" stroke-dasharray="0.8,0.8"/>
<path d="M457.15,39.15 L461.25,29.25 L465.35,39.15 Z" fill="#f09c88" stroke="#e4203c" stroke-width="1.1" stroke-linejoin="miter"/>
<path d="M468.75,39.15 L472.90,29.25 L477.05,39.15 Z" fill="#7a80c4" stroke="#2c48a8" stroke-width="1.1" stroke-linejoin="miter"/>
<path d="M480.25,39.15 L484.25,29.25 L488.25,39.15 Z" fill="#fff" stroke="#1a1a1a" stroke-width="1.1" stroke-linejoin="miter"/>
<path d="M457.15,72.15 L461.25,62.05 L465.35,72.15 Z" fill="#f09c88" stroke="#e4203c" stroke-width="1.1" stroke-linejoin="miter"/>
<path d="M468.75,72.15 L472.90,62.05 L477.05,72.15 Z" fill="#7a80c4" stroke="#2c48a8" stroke-width="1.1" stroke-linejoin="miter"/>
<path d="M480.25,72.15 L484.25,62.05 L488.25,72.15 Z" fill="#fff" stroke="#1a1a1a" stroke-width="1.1" stroke-linejoin="miter"/>
<path d="M470.1,49.4 h5.8 M473,46.5 v5.8" stroke="#1a1a1a" stroke-width="1.0"/>
<line x1="484.3" y1="34.9" x2="493.1" y2="19.1" stroke="#111" stroke-width="0.8" />
<line x1="485.8" y1="36.0" x2="496.1" y2="21.3" stroke="#111" stroke-width="0.8" />
<line x1="473.2" y1="67.1" x2="481.7" y2="52.0" stroke="#111" stroke-width="0.8" />
<line x1="474.3" y1="68.2" x2="484.7" y2="54.2" stroke="#111" stroke-width="0.8" />
<text x="532.0" y="10.6" font-size="13" text-anchor="start" fill="#111" font-weight="bold" >C</text>
<text x="615.9" y="13.8" font-size="8.5" text-anchor="middle" fill="#222" font-weight="bold" >CDF of Spontaneous Peak Times</text>
<line x1="555.8" y1="20.4" x2="555.8" y2="194.4" stroke="#8a8a8a" stroke-width="1.1" />
<line x1="555.3" y1="193.9" x2="677.2" y2="193.9" stroke="#555" stroke-width="1.0" />
<line x1="555.8" y1="193.7" x2="557.8" y2="193.7" stroke="#777" stroke-width="0.8" />
<text x="553.0" y="196.1" font-size="6.9" text-anchor="end" fill="#333" font-weight="bold" >0</text>
<line x1="555.8" y1="176.5" x2="557.8" y2="176.5" stroke="#777" stroke-width="0.8" />
<text x="553.0" y="178.9" font-size="6.9" text-anchor="end" fill="#333" font-weight="bold" >0.1</text>
<line x1="555.8" y1="159.3" x2="557.8" y2="159.3" stroke="#777" stroke-width="0.8" />
<text x="553.0" y="161.7" font-size="6.9" text-anchor="end" fill="#333" font-weight="bold" >0.2</text>
<line x1="555.8" y1="142.1" x2="557.8" y2="142.1" stroke="#777" stroke-width="0.8" />
<text x="553.0" y="144.5" font-size="6.9" text-anchor="end" fill="#333" font-weight="bold" >0.3</text>
<line x1="555.8" y1="124.9" x2="557.8" y2="124.9" stroke="#777" stroke-width="0.8" />
<text x="553.0" y="127.3" font-size="6.9" text-anchor="end" fill="#333" font-weight="bold" >0.4</text>
<line x1="555.8" y1="107.7" x2="557.8" y2="107.7" stroke="#777" stroke-width="0.8" />
<text x="553.0" y="110.1" font-size="6.9" text-anchor="end" fill="#333" font-weight="bold" >0.5</text>
<line x1="555.8" y1="90.5" x2="557.8" y2="90.5" stroke="#777" stroke-width="0.8" />
<text x="553.0" y="92.9" font-size="6.9" text-anchor="end" fill="#333" font-weight="bold" >0.6</text>
<line x1="555.8" y1="73.3" x2="557.8" y2="73.3" stroke="#777" stroke-width="0.8" />
<text x="553.0" y="75.7" font-size="6.9" text-anchor="end" fill="#333" font-weight="bold" >0.7</text>
<line x1="555.8" y1="56.1" x2="557.8" y2="56.1" stroke="#777" stroke-width="0.8" />
<text x="553.0" y="58.5" font-size="6.9" text-anchor="end" fill="#333" font-weight="bold" >0.8</text>
<line x1="555.8" y1="38.9" x2="557.8" y2="38.9" stroke="#777" stroke-width="0.8" />
<text x="553.0" y="41.3" font-size="6.9" text-anchor="end" fill="#333" font-weight="bold" >0.9</text>
<line x1="555.8" y1="21.7" x2="557.8" y2="21.7" stroke="#777" stroke-width="0.8" />
<text x="553.0" y="24.1" font-size="6.9" text-anchor="end" fill="#333" font-weight="bold" >1</text>
<line x1="567.4" y1="193.9" x2="567.4" y2="191.9" stroke="#555" stroke-width="0.8" />
<text x="567.4" y="201.8" font-size="6.4" text-anchor="middle" fill="#333" font-weight="bold" >0</text>
<line x1="621.9" y1="193.9" x2="621.9" y2="191.9" stroke="#555" stroke-width="0.8" />
<text x="621.9" y="201.8" font-size="6.4" text-anchor="middle" fill="#333" font-weight="bold" >500</text>
<line x1="676.4" y1="193.9" x2="676.4" y2="191.9" stroke="#555" stroke-width="0.8" />
<text x="676.4" y="201.8" font-size="6.4" text-anchor="middle" fill="#333" font-weight="bold" >1000</text>
<text x="616.1" y="211.5" font-size="8.5" text-anchor="middle" fill="#333" font-weight="bold" >Time (ms)</text>
<text x="541.4" y="107.0" font-size="8.5" text-anchor="middle" fill="#222" font-weight="bold" transform="rotate(-90 541.4 107)">Cumulative Probability</text>
<path d="M567.4,193.7 L567.7,193.7 L567.7,191.2 L567.9,191.2 L567.9,188.8 L568.2,188.8 L568.2,186.3 L568.5,186.3 L568.5,183.9 L568.8,183.9 L568.8,181.4 L569.3,181.4 L569.3,179.0 L570.1,179.0 L570.1,176.5 L571.0,176.5 L571.0,174.0 L572.1,174.0 L572.1,171.6 L573.4,171.6 L573.4,169.1 L575.1,169.1 L575.1,166.7 L577.8,166.7 L577.8,164.2 L578.9,164.2 L578.9,161.8 L579.8,161.8 L579.8,159.3 L580.6,159.3 L580.6,156.8 L581.7,156.8 L581.7,154.4 L583.3,154.4 L583.3,151.9 L591.6,151.9 L591.6,149.5 L594.6,149.5 L594.6,147.0 L597.6,147.0 L597.6,144.6 L600.3,144.6 L600.3,142.1 L602.5,142.1 L602.5,139.6 L604.2,139.6 L604.2,137.2 L605.3,137.2 L605.3,134.7 L606.4,134.7 L606.4,132.3 L607.2,132.3 L607.2,129.8 L608.0,129.8 L608.0,127.4 L609.1,127.4 L609.1,124.9 L610.2,124.9 L610.2,122.4 L611.3,122.4 L611.3,120.0 L612.4,120.0 L612.4,117.5 L613.0,117.5 L613.0,115.1 L613.8,115.1 L613.8,112.6 L614.3,112.6 L614.3,110.2 L615.2,110.2 L615.2,107.7 L615.7,107.7 L615.7,105.2 L616.5,105.2 L616.5,102.8 L617.1,102.8 L617.1,100.3 L617.9,100.3 L617.9,97.9 L619.3,97.9 L619.3,95.4 L621.8,95.4 L621.8,93.0 L624.2,93.0 L624.2,90.5 L626.2,90.5 L626.2,88.0 L627.0,88.0 L627.0,85.6 L627.5,85.6 L627.5,83.1 L628.3,83.1 L628.3,80.7 L629.7,80.7 L629.7,78.2 L631.6,78.2 L631.6,75.8 L632.7,75.8 L632.7,73.3 L633.3,73.3 L633.3,70.8 L634.1,70.8 L634.1,68.4 L634.7,68.4 L634.7,65.9 L636.3,65.9 L636.3,63.5 L639.6,63.5 L639.6,61.0 L641.5,61.0 L641.5,58.6 L643.7,58.6 L643.7,56.1 L645.9,56.1 L645.9,53.6 L655.5,53.6 L655.5,51.2 L658.6,51.2 L658.6,48.7 L660.5,48.7 L660.5,46.3 L661.0,46.3 L661.0,43.8 L661.6,43.8 L661.6,41.4 L662.1,41.4 L662.1,38.9 L662.9,38.9 L662.9,36.4 L664.0,36.4 L664.0,34.0 L665.1,34.0 L665.1,31.5 L666.5,31.5 L666.5,29.1 L668.2,29.1 L668.2,26.6 L669.8,26.6 L669.8,24.2 L674.7,24.2 L674.7,21.7 L676.9,21.7" stroke="#17703a" stroke-width="1.4" fill="none" stroke-opacity="1" stroke-linejoin="round" />
<path d="M567.4,193.7 L567.7,193.7 L567.7,188.0 L567.9,188.0 L567.9,182.2 L568.2,182.2 L568.2,179.4 L568.4,179.4 L568.4,173.6 L568.7,173.6 L568.7,167.9 L568.9,167.9 L568.9,162.2 L569.2,162.2 L569.2,156.4 L569.4,156.4 L569.4,153.6 L569.7,153.6 L569.7,147.8 L569.9,147.8 L569.9,142.1 L570.2,142.1 L570.2,136.4 L570.4,136.4 L570.4,130.6 L570.7,130.6 L570.7,127.8 L570.9,127.8 L570.9,122.0 L571.2,122.0 L571.2,116.3 L571.4,116.3 L571.4,113.4 L571.7,113.4 L571.7,107.7 L571.9,107.7 L571.9,104.8 L572.2,104.8 L572.2,102.0 L572.4,102.0 L572.4,96.2 L572.7,96.2 L572.7,93.4 L572.9,93.4 L572.9,90.5 L573.2,90.5 L573.2,87.6 L573.7,87.6 L573.7,84.8 L574.2,84.8 L574.2,81.9 L574.9,81.9 L574.9,79.0 L575.4,79.0 L575.4,76.2 L576.2,76.2 L576.2,73.3 L576.7,73.3 L576.7,70.4 L577.5,70.4 L577.5,67.6 L578.2,67.6 L578.2,64.7 L579.0,64.7 L579.0,61.8 L579.7,61.8 L579.7,59.0 L582.2,59.0 L582.2,56.1 L587.5,56.1 L587.5,53.2 L588.8,53.2 L588.8,50.4 L589.8,50.4 L589.8,47.5 L594.3,47.5 L594.3,44.6 L598.3,44.6 L598.3,41.8 L602.8,41.8 L602.8,38.9 L611.4,38.9 L611.4,36.0 L616.7,36.0 L616.7,33.2 L623.2,33.2 L623.2,30.3 L630.5,30.3 L630.5,27.4 L648.6,27.4 L648.6,24.6 L659.9,24.6 L659.9,21.7 L667.7,21.7" stroke="#772885" stroke-width="1.4" fill="none" stroke-opacity="1" stroke-linejoin="round" />
<text x="631.0" y="173.1" font-size="6.9" text-anchor="end" fill="#333" font-weight="bold" >p &lt; 0.0001</text>
<path d="M640,164 L634.6,164 L634.6,174.2 L640,174.2" fill="none" stroke="#333" stroke-width="0.8"/>
<line x1="643.0" y1="164.0" x2="657.0" y2="164.0" stroke="#772885" stroke-width="1.4" />
<line x1="643.0" y1="174.2" x2="657.0" y2="174.2" stroke="#17703a" stroke-width="1.4" />
<text x="660.4" y="166.4" font-size="7.35" text-anchor="start" fill="#772885" font-weight="bold" >Early</text>
<text x="660.4" y="176.4" font-size="7.35" text-anchor="start" fill="#17703a" font-weight="bold" >Late</text>
</svg></body></html>
